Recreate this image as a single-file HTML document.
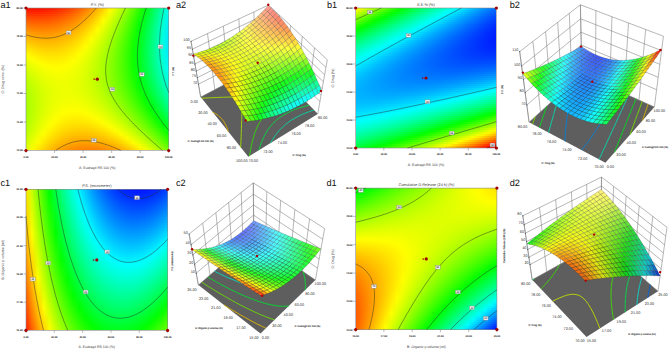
<!DOCTYPE html>
<html><head><meta charset="utf-8"><style>
html,body{margin:0;padding:0;background:#fff}
#c{position:relative;width:669px;height:350px;overflow:hidden;background:#fff}
.f{position:absolute}
.f i{display:block;height:2px}
svg{position:absolute;left:0;top:0}
text{font-family:"Liberation Sans",sans-serif;text-rendering:geometricPrecision}
</style></head><body><div id="c">
<div class="f" style="left:26px;top:8px;width:143px;height:142px">
<i style="background:linear-gradient(90deg,#ff1300,#ff1000,#ff1100,#ff1400,#ff1900,#ff2200,#ff2e00,#ff3d00,#ff4e00,#ff6300,#ff7a00,#ff9500,#ffb200,#ffd200,#fff500,#e3ff00,#baff00,#8eff00,#5fff00,#2eff00,#00ff07,#00ff3e,#00ff79,#00ffb6,#00fff6)"></i>
<i style="background:linear-gradient(90deg,#ff2000,#ff1d00,#ff1d00,#ff2000,#ff2500,#ff2e00,#ff3900,#ff4700,#ff5900,#ff6d00,#ff8400,#ff9e00,#ffbb00,#ffda00,#fffd00,#dbff00,#b3ff00,#87ff00,#59ff00,#28ff00,#00ff0d,#00ff44,#00ff7e,#00ffbb,#00fffb)"></i>
<i style="background:linear-gradient(90deg,#ff2d00,#ff2a00,#ff2900,#ff2b00,#ff3100,#ff3900,#ff4400,#ff5200,#ff6200,#ff7600,#ff8d00,#ffa700,#ffc300,#ffe200,#f9ff00,#d4ff00,#acff00,#81ff00,#53ff00,#22ff00,#00ff12,#00ff49,#00ff83,#00ffbf,#00ffff)"></i>
<i style="background:linear-gradient(90deg,#ff3a00,#ff3600,#ff3500,#ff3700,#ff3c00,#ff4300,#ff4e00,#ff5c00,#ff6c00,#ff8000,#ff9600,#ffaf00,#ffcb00,#ffea00,#f2ff00,#cdff00,#a5ff00,#7aff00,#4dff00,#1cff00,#00ff17,#00ff4e,#00ff87,#00ffc3,#00fcff)"></i>
<i style="background:linear-gradient(90deg,#ff4600,#ff4200,#ff4100,#ff4200,#ff4700,#ff4e00,#ff5800,#ff6500,#ff7500,#ff8900,#ff9e00,#ffb700,#ffd300,#fff200,#ebff00,#c6ff00,#9fff00,#74ff00,#47ff00,#17ff00,#00ff1c,#00ff52,#00ff8b,#00ffc7,#00f8ff)"></i>
<i style="background:linear-gradient(90deg,#ff5200,#ff4e00,#ff4c00,#ff4d00,#ff5100,#ff5800,#ff6200,#ff6f00,#ff7f00,#ff9100,#ffa700,#ffbf00,#ffdb00,#fff900,#e4ff00,#c0ff00,#99ff00,#6fff00,#42ff00,#12ff00,#00ff21,#00ff56,#00ff8f,#00ffcb,#00f5ff)"></i>
<i style="background:linear-gradient(90deg,#ff5e00,#ff5900,#ff5700,#ff5800,#ff5b00,#ff6200,#ff6c00,#ff7800,#ff8700,#ff9a00,#ffaf00,#ffc700,#ffe200,#feff00,#ddff00,#b9ff00,#93ff00,#69ff00,#3dff00,#0dff00,#00ff25,#00ff5a,#00ff93,#00ffce,#00f2ff)"></i>
<i style="background:linear-gradient(90deg,#ff6a00,#ff6400,#ff6200,#ff6200,#ff6500,#ff6c00,#ff7500,#ff8100,#ff9000,#ffa200,#ffb700,#ffce00,#ffe900,#f7ff00,#d7ff00,#b3ff00,#8dff00,#64ff00,#38ff00,#09ff00,#00ff29,#00ff5e,#00ff96,#00ffd1,#00f0ff)"></i>
<i style="background:linear-gradient(90deg,#ff7500,#ff6f00,#ff6c00,#ff6c00,#ff6f00,#ff7500,#ff7e00,#ff8a00,#ff9800,#ffaa00,#ffbe00,#ffd600,#fff000,#f1ff00,#d1ff00,#aeff00,#88ff00,#5fff00,#33ff00,#04ff00,#00ff2d,#00ff62,#00ff99,#00ffd3,#00edff)"></i>
<i style="background:linear-gradient(90deg,#ff8000,#ff7a00,#ff7700,#ff7600,#ff7900,#ff7e00,#ff8700,#ff9200,#ffa000,#ffb100,#ffc600,#ffdd00,#fff600,#ebff00,#cbff00,#a8ff00,#83ff00,#5aff00,#2fff00,#00ff00,#00ff31,#00ff65,#00ff9c,#00ffd6,#00ebff)"></i>
<i style="background:linear-gradient(90deg,#ff8b00,#ff8400,#ff8000,#ff8000,#ff8200,#ff8700,#ff8f00,#ff9a00,#ffa800,#ffb900,#ffcd00,#ffe300,#fffd00,#e5ff00,#c5ff00,#a3ff00,#7eff00,#56ff00,#2bff00,#00ff03,#00ff34,#00ff68,#00ff9f,#00ffd8,#00e9ff)"></i>
<i style="background:linear-gradient(90deg,#ff9500,#ff8e00,#ff8a00,#ff8900,#ff8b00,#ff9000,#ff9700,#ffa200,#ffb000,#ffc000,#ffd300,#ffea00,#fbff00,#dfff00,#c0ff00,#9eff00,#79ff00,#52ff00,#27ff00,#00ff07,#00ff37,#00ff6a,#00ffa1,#00ffda,#00e8ff)"></i>
<i style="background:linear-gradient(90deg,#ff9f00,#ff9800,#ff9400,#ff9200,#ff9400,#ff9800,#ff9f00,#ffaa00,#ffb700,#ffc700,#ffda00,#fff000,#f6ff00,#daff00,#bbff00,#9aff00,#75ff00,#4eff00,#24ff00,#00ff0a,#00ff3a,#00ff6d,#00ffa3,#00ffdc,#00e7ff)"></i>
<i style="background:linear-gradient(90deg,#ffa900,#ffa200,#ff9d00,#ff9b00,#ff9c00,#ffa000,#ffa700,#ffb100,#ffbe00,#ffcd00,#ffe000,#fff600,#f0ff00,#d5ff00,#b6ff00,#95ff00,#71ff00,#4aff00,#20ff00,#00ff0d,#00ff3c,#00ff6f,#00ffa5,#00ffdd,#00e6ff)"></i>
<i style="background:linear-gradient(90deg,#ffb300,#ffab00,#ffa600,#ffa400,#ffa400,#ffa800,#ffaf00,#ffb800,#ffc400,#ffd400,#ffe600,#fffb00,#ebff00,#d0ff00,#b2ff00,#91ff00,#6dff00,#47ff00,#1dff00,#00ff0f,#00ff3f,#00ff71,#00ffa6,#00ffde,#00e5ff)"></i>
<i style="background:linear-gradient(90deg,#ffbc00,#ffb400,#ffae00,#ffac00,#ffac00,#ffaf00,#ffb600,#ffbf00,#ffcb00,#ffda00,#ffec00,#feff00,#e6ff00,#cbff00,#aeff00,#8dff00,#6aff00,#44ff00,#1bff00,#00ff11,#00ff40,#00ff72,#00ffa7,#00ffdf,#00e4ff)"></i>
<i style="background:linear-gradient(90deg,#ffc500,#ffbd00,#ffb700,#ffb400,#ffb400,#ffb700,#ffbd00,#ffc500,#ffd100,#ffdf00,#fff100,#f9ff00,#e1ff00,#c7ff00,#aaff00,#8aff00,#67ff00,#41ff00,#18ff00,#00ff14,#00ff42,#00ff74,#00ffa8,#00ffe0,#00e4ff)"></i>
<i style="background:linear-gradient(90deg,#ffce00,#ffc500,#ffbf00,#ffbc00,#ffbb00,#ffbe00,#ffc300,#ffcc00,#ffd700,#ffe500,#fff600,#f4ff00,#ddff00,#c3ff00,#a6ff00,#87ff00,#64ff00,#3eff00,#16ff00,#00ff15,#00ff44,#00ff75,#00ffa9,#00ffe0,#00e4ff)"></i>
<i style="background:linear-gradient(90deg,#ffd700,#ffcd00,#ffc700,#ffc300,#ffc200,#ffc400,#ffc900,#ffd100,#ffdc00,#ffea00,#fffb00,#efff00,#d9ff00,#bfff00,#a3ff00,#84ff00,#61ff00,#3cff00,#14ff00,#00ff17,#00ff45,#00ff76,#00ffa9,#00ffe0,#00e5ff)"></i>
<i style="background:linear-gradient(90deg,#ffdf00,#ffd500,#ffce00,#ffca00,#ffc900,#ffcb00,#ffd000,#ffd700,#ffe200,#ffef00,#feff00,#ebff00,#d5ff00,#bcff00,#a0ff00,#81ff00,#5fff00,#3aff00,#13ff00,#00ff18,#00ff46,#00ff76,#00ffa9,#00ffe0,#00e5ff)"></i>
<i style="background:linear-gradient(90deg,#ffe700,#ffdd00,#ffd500,#ffd100,#ffd000,#ffd100,#ffd500,#ffdd00,#ffe700,#fff400,#faff00,#e7ff00,#d1ff00,#b9ff00,#9dff00,#7eff00,#5dff00,#39ff00,#11ff00,#00ff19,#00ff46,#00ff76,#00ffa9,#00ffdf,#00e6ff)"></i>
<i style="background:linear-gradient(90deg,#ffef00,#ffe400,#ffdd00,#ffd800,#ffd600,#ffd700,#ffdb00,#ffe200,#ffec00,#fff800,#f6ff00,#e4ff00,#ceff00,#b6ff00,#9aff00,#7cff00,#5bff00,#37ff00,#10ff00,#00ff1a,#00ff47,#00ff76,#00ffa9,#00ffde,#00e7ff)"></i>
<i style="background:linear-gradient(90deg,#fff600,#ffeb00,#ffe300,#ffde00,#ffdc00,#ffdd00,#ffe000,#ffe700,#fff000,#fffc00,#f2ff00,#e0ff00,#cbff00,#b3ff00,#98ff00,#7aff00,#5aff00,#36ff00,#0fff00,#00ff1a,#00ff47,#00ff76,#00ffa8,#00ffdd,#00e9ff)"></i>
<i style="background:linear-gradient(90deg,#fffe00,#fff200,#ffea00,#ffe400,#ffe200,#ffe200,#ffe500,#ffeb00,#fff400,#feff00,#efff00,#ddff00,#c8ff00,#b1ff00,#96ff00,#79ff00,#58ff00,#35ff00,#0fff00,#00ff1a,#00ff46,#00ff75,#00ffa7,#00ffdc,#00eaff)"></i>
<i style="background:linear-gradient(90deg,#faff00,#fff900,#fff000,#ffea00,#ffe700,#ffe700,#ffea00,#fff000,#fff800,#faff00,#ecff00,#daff00,#c6ff00,#afff00,#94ff00,#77ff00,#57ff00,#34ff00,#0fff00,#00ff1a,#00ff46,#00ff74,#00ffa6,#00ffda,#00ecff)"></i>
<i style="background:linear-gradient(90deg,#f3ff00,#ffff00,#fff600,#fff000,#ffec00,#ffec00,#ffee00,#fff400,#fffc00,#f7ff00,#e9ff00,#d8ff00,#c4ff00,#adff00,#93ff00,#76ff00,#57ff00,#34ff00,#0fff00,#00ff1a,#00ff45,#00ff73,#00ffa4,#00ffd8,#00efff)"></i>
<i style="background:linear-gradient(90deg,#ecff00,#f9ff00,#fffc00,#fff500,#fff100,#fff000,#fff200,#fff800,#ffff00,#f4ff00,#e6ff00,#d5ff00,#c2ff00,#abff00,#92ff00,#75ff00,#56ff00,#34ff00,#0fff00,#00ff19,#00ff44,#00ff72,#00ffa3,#00ffd6,#00f1ff)"></i>
<i style="background:linear-gradient(90deg,#e6ff00,#f3ff00,#fdff00,#fffa00,#fff600,#fff500,#fff600,#fffb00,#fbff00,#f1ff00,#e3ff00,#d3ff00,#c0ff00,#aaff00,#91ff00,#75ff00,#56ff00,#34ff00,#0fff00,#00ff18,#00ff43,#00ff70,#00ffa1,#00ffd4,#00f4ff)"></i>
<i style="background:linear-gradient(90deg,#e0ff00,#eeff00,#f8ff00,#ffff00,#fffa00,#fff900,#fffa00,#fffe00,#f8ff00,#eeff00,#e1ff00,#d1ff00,#bfff00,#a9ff00,#90ff00,#74ff00,#56ff00,#35ff00,#10ff00,#00ff17,#00ff41,#00ff6e,#00ff9e,#00ffd1,#00f7ff)"></i>
<i style="background:linear-gradient(90deg,#dbff00,#e8ff00,#f3ff00,#fbff00,#fffe00,#fffc00,#fffd00,#fdff00,#f6ff00,#ecff00,#dfff00,#d0ff00,#bdff00,#a8ff00,#90ff00,#74ff00,#56ff00,#35ff00,#11ff00,#00ff16,#00ff3f,#00ff6c,#00ff9c,#00ffce,#00faff)"></i>
<i style="background:linear-gradient(90deg,#d5ff00,#e3ff00,#eeff00,#f7ff00,#fcff00,#feff00,#fdff00,#faff00,#f3ff00,#eaff00,#deff00,#cfff00,#bcff00,#a7ff00,#90ff00,#75ff00,#57ff00,#36ff00,#13ff00,#00ff14,#00ff3d,#00ff6a,#00ff99,#00ffcb,#00feff)"></i>
<i style="background:linear-gradient(90deg,#d0ff00,#dfff00,#eaff00,#f3ff00,#f8ff00,#fbff00,#fbff00,#f7ff00,#f1ff00,#e8ff00,#dcff00,#ceff00,#bcff00,#a7ff00,#90ff00,#75ff00,#58ff00,#37ff00,#14ff00,#00ff12,#00ff3b,#00ff67,#00ff96,#00ffc8,#00fffc)"></i>
<i style="background:linear-gradient(90deg,#ccff00,#daff00,#e6ff00,#efff00,#f5ff00,#f8ff00,#f8ff00,#f5ff00,#f0ff00,#e7ff00,#dbff00,#cdff00,#bcff00,#a7ff00,#90ff00,#76ff00,#59ff00,#39ff00,#16ff00,#00ff10,#00ff38,#00ff64,#00ff92,#00ffc4,#00fff8)"></i>
<i style="background:linear-gradient(90deg,#c7ff00,#d6ff00,#e2ff00,#ecff00,#f2ff00,#f5ff00,#f6ff00,#f3ff00,#eeff00,#e6ff00,#dbff00,#ccff00,#bbff00,#a8ff00,#91ff00,#77ff00,#5aff00,#3bff00,#18ff00,#00ff0d,#00ff35,#00ff61,#00ff8f,#00ffc0,#00fff4)"></i>
<i style="background:linear-gradient(90deg,#c3ff00,#d2ff00,#dfff00,#e8ff00,#efff00,#f3ff00,#f4ff00,#f2ff00,#edff00,#e5ff00,#daff00,#ccff00,#bcff00,#a8ff00,#92ff00,#78ff00,#5cff00,#3dff00,#1bff00,#00ff0a,#00ff32,#00ff5d,#00ff8b,#00ffbc,#00ffef)"></i>
<i style="background:linear-gradient(90deg,#bfff00,#cfff00,#dcff00,#e6ff00,#edff00,#f1ff00,#f2ff00,#f0ff00,#ecff00,#e4ff00,#daff00,#ccff00,#bcff00,#a9ff00,#93ff00,#7aff00,#5eff00,#3fff00,#1dff00,#00ff07,#00ff2f,#00ff59,#00ff87,#00ffb7,#00ffea)"></i>
<i style="background:linear-gradient(90deg,#bbff00,#cbff00,#d9ff00,#e3ff00,#eaff00,#efff00,#f0ff00,#efff00,#ebff00,#e4ff00,#daff00,#cdff00,#bdff00,#aaff00,#94ff00,#7cff00,#60ff00,#42ff00,#20ff00,#00ff04,#00ff2b,#00ff55,#00ff82,#00ffb2,#00ffe5)"></i>
<i style="background:linear-gradient(90deg,#b8ff00,#c8ff00,#d6ff00,#e1ff00,#e8ff00,#edff00,#efff00,#eeff00,#eaff00,#e4ff00,#daff00,#cdff00,#beff00,#abff00,#96ff00,#7eff00,#63ff00,#45ff00,#24ff00,#00ff00,#00ff27,#00ff51,#00ff7e,#00ffad,#00ffe0)"></i>
<i style="background:linear-gradient(90deg,#b5ff00,#c5ff00,#d3ff00,#dfff00,#e7ff00,#ecff00,#eeff00,#eeff00,#eaff00,#e4ff00,#dbff00,#ceff00,#bfff00,#adff00,#98ff00,#80ff00,#65ff00,#48ff00,#27ff00,#04ff00,#00ff23,#00ff4c,#00ff79,#00ffa8,#00ffda)"></i>
<i style="background:linear-gradient(90deg,#b2ff00,#c3ff00,#d1ff00,#ddff00,#e5ff00,#ebff00,#eeff00,#edff00,#eaff00,#e4ff00,#dbff00,#d0ff00,#c1ff00,#afff00,#9aff00,#83ff00,#69ff00,#4bff00,#2bff00,#08ff00,#00ff1e,#00ff47,#00ff73,#00ffa2,#00ffd4)"></i>
<i style="background:linear-gradient(90deg,#afff00,#c1ff00,#cfff00,#dbff00,#e4ff00,#eaff00,#edff00,#edff00,#ebff00,#e5ff00,#dcff00,#d1ff00,#c3ff00,#b1ff00,#9dff00,#86ff00,#6cff00,#4fff00,#2fff00,#0cff00,#00ff1a,#00ff42,#00ff6e,#00ff9c,#00ffce)"></i>
<i style="background:linear-gradient(90deg,#adff00,#bfff00,#ceff00,#daff00,#e3ff00,#eaff00,#edff00,#eeff00,#ebff00,#e6ff00,#deff00,#d3ff00,#c5ff00,#b4ff00,#a0ff00,#89ff00,#6fff00,#53ff00,#33ff00,#11ff00,#00ff15,#00ff3d,#00ff68,#00ff96,#00ffc7)"></i>
<i style="background:linear-gradient(90deg,#abff00,#bdff00,#ccff00,#d9ff00,#e3ff00,#e9ff00,#edff00,#eeff00,#ecff00,#e7ff00,#dfff00,#d5ff00,#c7ff00,#b6ff00,#a3ff00,#8dff00,#73ff00,#57ff00,#38ff00,#16ff00,#00ff0f,#00ff37,#00ff62,#00ff90,#00ffc0)"></i>
<i style="background:linear-gradient(90deg,#a9ff00,#bbff00,#cbff00,#d8ff00,#e2ff00,#e9ff00,#eeff00,#efff00,#edff00,#e9ff00,#e1ff00,#d7ff00,#caff00,#b9ff00,#a6ff00,#90ff00,#77ff00,#5bff00,#3dff00,#1bff00,#00ff0a,#00ff31,#00ff5c,#00ff89,#00ffb9)"></i>
<i style="background:linear-gradient(90deg,#a7ff00,#baff00,#cbff00,#d8ff00,#e2ff00,#eaff00,#eeff00,#f0ff00,#efff00,#ebff00,#e3ff00,#d9ff00,#cdff00,#bdff00,#aaff00,#94ff00,#7cff00,#60ff00,#42ff00,#21ff00,#00ff04,#00ff2b,#00ff55,#00ff82,#00ffb2)"></i>
<i style="background:linear-gradient(90deg,#a6ff00,#b9ff00,#caff00,#d8ff00,#e2ff00,#eaff00,#efff00,#f1ff00,#f0ff00,#edff00,#e6ff00,#dcff00,#d0ff00,#c0ff00,#aeff00,#99ff00,#80ff00,#65ff00,#47ff00,#26ff00,#02ff00,#00ff24,#00ff4e,#00ff7b,#00ffaa)"></i>
<i style="background:linear-gradient(90deg,#a5ff00,#b9ff00,#caff00,#d8ff00,#e3ff00,#ebff00,#f0ff00,#f3ff00,#f2ff00,#efff00,#e9ff00,#dfff00,#d3ff00,#c4ff00,#b2ff00,#9dff00,#85ff00,#6bff00,#4dff00,#2cff00,#09ff00,#00ff1e,#00ff47,#00ff73,#00ffa2)"></i>
<i style="background:linear-gradient(90deg,#a4ff00,#b8ff00,#caff00,#d8ff00,#e4ff00,#ecff00,#f2ff00,#f5ff00,#f5ff00,#f2ff00,#ecff00,#e3ff00,#d7ff00,#c8ff00,#b7ff00,#a2ff00,#8bff00,#70ff00,#53ff00,#33ff00,#10ff00,#00ff17,#00ff3f,#00ff6b,#00ff9a)"></i>
<i style="background:linear-gradient(90deg,#a4ff00,#b8ff00,#caff00,#d9ff00,#e5ff00,#eeff00,#f4ff00,#f7ff00,#f7ff00,#f4ff00,#efff00,#e6ff00,#dbff00,#ccff00,#bbff00,#a7ff00,#90ff00,#76ff00,#59ff00,#39ff00,#16ff00,#00ff0f,#00ff38,#00ff63,#00ff92)"></i>
<i style="background:linear-gradient(90deg,#a3ff00,#b8ff00,#caff00,#daff00,#e6ff00,#efff00,#f6ff00,#f9ff00,#faff00,#f8ff00,#f2ff00,#eaff00,#dfff00,#d1ff00,#c0ff00,#acff00,#96ff00,#7cff00,#60ff00,#40ff00,#1eff00,#00ff08,#00ff30,#00ff5b,#00ff89)"></i>
<i style="background:linear-gradient(90deg,#a3ff00,#b9ff00,#cbff00,#dbff00,#e7ff00,#f1ff00,#f8ff00,#fcff00,#fdff00,#fbff00,#f6ff00,#eeff00,#e4ff00,#d6ff00,#c5ff00,#b2ff00,#9cff00,#82ff00,#66ff00,#47ff00,#25ff00,#00ff00,#00ff28,#00ff52,#00ff80)"></i>
<i style="background:linear-gradient(90deg,#a4ff00,#baff00,#ccff00,#dcff00,#e9ff00,#f3ff00,#fbff00,#ffff00,#fffe00,#ffff00,#faff00,#f3ff00,#e8ff00,#dbff00,#cbff00,#b8ff00,#a2ff00,#89ff00,#6dff00,#4fff00,#2dff00,#08ff00,#00ff1f,#00ff49,#00ff77)"></i>
<i style="background:linear-gradient(90deg,#a4ff00,#baff00,#ceff00,#deff00,#ebff00,#f6ff00,#fdff00,#fffc00,#fffa00,#fffb00,#feff00,#f7ff00,#edff00,#e1ff00,#d1ff00,#beff00,#a9ff00,#90ff00,#75ff00,#56ff00,#35ff00,#11ff00,#00ff16,#00ff40,#00ff6d)"></i>
<i style="background:linear-gradient(90deg,#a5ff00,#bcff00,#cfff00,#e0ff00,#eeff00,#f9ff00,#fffe00,#fff900,#fff600,#fff700,#fffb00,#fcff00,#f3ff00,#e6ff00,#d7ff00,#c5ff00,#afff00,#97ff00,#7cff00,#5eff00,#3dff00,#19ff00,#00ff0d,#00ff37,#00ff63)"></i>
<i style="background:linear-gradient(90deg,#a6ff00,#bdff00,#d1ff00,#e2ff00,#f0ff00,#fcff00,#fffa00,#fff500,#fff200,#fff300,#fff600,#fffc00,#f8ff00,#ecff00,#ddff00,#cbff00,#b6ff00,#9fff00,#84ff00,#66ff00,#46ff00,#22ff00,#00ff04,#00ff2d,#00ff59)"></i>
<i style="background:linear-gradient(90deg,#a8ff00,#bfff00,#d3ff00,#e5ff00,#f3ff00,#ffff00,#fff700,#fff100,#ffee00,#ffee00,#fff100,#fff700,#feff00,#f2ff00,#e4ff00,#d2ff00,#beff00,#a6ff00,#8cff00,#6fff00,#4fff00,#2cff00,#06ff00,#00ff23,#00ff4f)"></i>
<i style="background:linear-gradient(90deg,#a9ff00,#c1ff00,#d6ff00,#e8ff00,#f6ff00,#fffc00,#fff300,#ffed00,#ffe900,#ffe900,#ffec00,#fff100,#fffa00,#f9ff00,#ebff00,#d9ff00,#c5ff00,#aeff00,#94ff00,#78ff00,#58ff00,#35ff00,#0fff00,#00ff19,#00ff44)"></i>
<i style="background:linear-gradient(90deg,#abff00,#c3ff00,#d8ff00,#ebff00,#faff00,#fff800,#ffee00,#ffe800,#ffe400,#ffe400,#ffe600,#ffeb00,#fff300,#fffe00,#f2ff00,#e1ff00,#cdff00,#b7ff00,#9dff00,#81ff00,#61ff00,#3fff00,#1aff00,#00ff0f,#00ff3a)"></i>
<i style="background:linear-gradient(90deg,#aeff00,#c6ff00,#dbff00,#eeff00,#feff00,#fff400,#ffea00,#ffe300,#ffdf00,#ffde00,#ffe000,#ffe500,#ffed00,#fff700,#f9ff00,#e9ff00,#d5ff00,#bfff00,#a6ff00,#8aff00,#6bff00,#49ff00,#24ff00,#00ff04,#00ff2e)"></i>
<i style="background:linear-gradient(90deg,#b0ff00,#c9ff00,#dfff00,#f2ff00,#fffd00,#ffef00,#ffe500,#ffde00,#ffda00,#ffd800,#ffda00,#ffde00,#ffe600,#fff000,#fffd00,#f1ff00,#deff00,#c8ff00,#afff00,#93ff00,#75ff00,#53ff00,#2fff00,#07ff00,#00ff23)"></i>
<i style="background:linear-gradient(90deg,#b3ff00,#ccff00,#e2ff00,#f5ff00,#fff800,#ffeb00,#ffe000,#ffd900,#ffd400,#ffd200,#ffd300,#ffd700,#ffde00,#ffe800,#fff500,#f9ff00,#e7ff00,#d1ff00,#b9ff00,#9dff00,#7fff00,#5eff00,#3aff00,#13ff00,#00ff17)"></i>
<i style="background:linear-gradient(90deg,#b6ff00,#cfff00,#e6ff00,#faff00,#fff400,#ffe600,#ffdb00,#ffd300,#ffce00,#ffcc00,#ffcd00,#ffd000,#ffd700,#ffe000,#ffed00,#fffc00,#f0ff00,#daff00,#c2ff00,#a7ff00,#89ff00,#69ff00,#45ff00,#1eff00,#00ff0b)"></i>
<i style="background:linear-gradient(90deg,#b9ff00,#d3ff00,#eaff00,#feff00,#ffef00,#ffe100,#ffd600,#ffcd00,#ffc800,#ffc500,#ffc600,#ffc900,#ffcf00,#ffd800,#ffe400,#fff300,#f9ff00,#e4ff00,#ccff00,#b2ff00,#94ff00,#74ff00,#50ff00,#2aff00,#01ff00)"></i>
<i style="background:linear-gradient(90deg,#bdff00,#d7ff00,#eeff00,#fffb00,#ffea00,#ffdb00,#ffd000,#ffc700,#ffc100,#ffbe00,#ffbe00,#ffc100,#ffc700,#ffd000,#ffdc00,#ffea00,#fffc00,#eeff00,#d6ff00,#bcff00,#9fff00,#7fff00,#5cff00,#36ff00,#0dff00)"></i>
<i style="background:linear-gradient(90deg,#c1ff00,#dbff00,#f3ff00,#fff600,#ffe500,#ffd600,#ffca00,#ffc100,#ffba00,#ffb700,#ffb700,#ffb900,#ffbf00,#ffc700,#ffd300,#ffe100,#fff200,#f8ff00,#e1ff00,#c7ff00,#aaff00,#8bff00,#68ff00,#42ff00,#1aff00)"></i>
<i style="background:linear-gradient(90deg,#c5ff00,#e0ff00,#f8ff00,#fff100,#ffdf00,#ffd000,#ffc300,#ffba00,#ffb300,#ffb000,#ffaf00,#ffb100,#ffb600,#ffbe00,#ffc900,#ffd700,#ffe800,#fffc00,#ecff00,#d2ff00,#b6ff00,#96ff00,#74ff00,#4fff00,#27ff00)"></i>
<i style="background:linear-gradient(90deg,#c9ff00,#e4ff00,#fdff00,#ffec00,#ffd900,#ffca00,#ffbd00,#ffb300,#ffac00,#ffa800,#ffa700,#ffa900,#ffad00,#ffb500,#ffc000,#ffcd00,#ffde00,#fff100,#f7ff00,#deff00,#c2ff00,#a3ff00,#81ff00,#5cff00,#34ff00)"></i>
<i style="background:linear-gradient(90deg,#ceff00,#e9ff00,#fffc00,#ffe600,#ffd300,#ffc300,#ffb600,#ffac00,#ffa400,#ffa000,#ff9f00,#ffa000,#ffa400,#ffac00,#ffb600,#ffc300,#ffd300,#ffe600,#fffc00,#e9ff00,#ceff00,#afff00,#8eff00,#69ff00,#42ff00)"></i>
<i style="background:linear-gradient(90deg,#d3ff00,#efff00,#fff600,#ffe000,#ffcd00,#ffbc00,#ffaf00,#ffa400,#ff9d00,#ff9800,#ff9600,#ff9700,#ff9b00,#ffa200,#ffac00,#ffb800,#ffc800,#ffdb00,#fff000,#f5ff00,#daff00,#bcff00,#9bff00,#77ff00,#50ff00)"></i>
<i style="background:linear-gradient(90deg,#d8ff00,#f4ff00,#fff000,#ffda00,#ffc600,#ffb500,#ffa700,#ff9c00,#ff9400,#ff8f00,#ff8d00,#ff8e00,#ff9100,#ff9800,#ffa100,#ffae00,#ffbd00,#ffcf00,#ffe400,#fffc00,#e7ff00,#c9ff00,#a8ff00,#84ff00,#5eff00)"></i>
<i style="background:linear-gradient(90deg,#ddff00,#faff00,#ffea00,#ffd300,#ffbf00,#ffae00,#ffa000,#ff9400,#ff8c00,#ff8600,#ff8400,#ff8400,#ff8700,#ff8e00,#ff9700,#ffa300,#ffb200,#ffc300,#ffd800,#fff000,#f4ff00,#d6ff00,#b6ff00,#92ff00,#6cff00)"></i>
</div>
<div class="f" style="left:356px;top:8px;width:140px;height:140px">
<i style="background:linear-gradient(90deg,#fff500,#e5ff00,#c0ff00,#9dff00,#7bff00,#59ff00,#38ff00,#18ff00,#00ff08,#00ff27,#00ff44,#00ff62,#00ff7e,#00ff9a,#00ffb4,#00ffce,#00ffe8,#00feff,#00e6ff,#00cfff,#00b9ff,#00a4ff,#008fff,#007cff,#0069ff)"></i>
<i style="background:linear-gradient(90deg,#edff00,#c9ff00,#a5ff00,#83ff00,#61ff00,#40ff00,#20ff00,#00ff00,#00ff1e,#00ff3c,#00ff59,#00ff76,#00ff91,#00ffac,#00ffc6,#00ffdf,#00fff8,#00efff,#00d8ff,#00c2ff,#00acff,#0098ff,#0084ff,#0071ff,#005fff)"></i>
<i style="background:linear-gradient(90deg,#d1ff00,#aeff00,#8bff00,#69ff00,#48ff00,#28ff00,#09ff00,#00ff16,#00ff34,#00ff51,#00ff6d,#00ff89,#00ffa4,#00ffbe,#00ffd7,#00ffef,#00f7ff,#00e0ff,#00caff,#00b4ff,#00a0ff,#008cff,#0079ff,#0067ff,#0055ff)"></i>
<i style="background:linear-gradient(90deg,#b6ff00,#93ff00,#72ff00,#51ff00,#30ff00,#11ff00,#00ff0e,#00ff2c,#00ff49,#00ff65,#00ff81,#00ff9c,#00ffb6,#00ffcf,#00ffe7,#00ffff,#00e8ff,#00d2ff,#00bdff,#00a8ff,#0094ff,#0081ff,#006fff,#005dff,#004dff)"></i>
<i style="background:linear-gradient(90deg,#9cff00,#7aff00,#59ff00,#39ff00,#19ff00,#00ff06,#00ff24,#00ff41,#00ff5d,#00ff79,#00ff93,#00ffad,#00ffc7,#00ffdf,#00fff7,#00f0ff,#00daff,#00c5ff,#00b0ff,#009cff,#0089ff,#0077ff,#0065ff,#0055ff,#0045ff)"></i>
<i style="background:linear-gradient(90deg,#82ff00,#61ff00,#41ff00,#21ff00,#02ff00,#00ff1b,#00ff39,#00ff55,#00ff71,#00ff8b,#00ffa5,#00ffbf,#00ffd7,#00ffef,#00f8ff,#00e2ff,#00cdff,#00b8ff,#00a4ff,#0091ff,#007fff,#006dff,#005dff,#004dff,#003eff)"></i>
<i style="background:linear-gradient(90deg,#69ff00,#49ff00,#29ff00,#0aff00,#00ff13,#00ff31,#00ff4d,#00ff69,#00ff83,#00ff9d,#00ffb7,#00ffcf,#00ffe7,#00fffe,#00eaff,#00d5ff,#00c0ff,#00acff,#0099ff,#0087ff,#0075ff,#0065ff,#0055ff,#0046ff,#0037ff)"></i>
<i style="background:linear-gradient(90deg,#51ff00,#31ff00,#12ff00,#00ff0c,#00ff29,#00ff45,#00ff61,#00ff7b,#00ff96,#00ffaf,#00ffc7,#00ffdf,#00fff6,#00f2ff,#00ddff,#00c8ff,#00b4ff,#00a1ff,#008fff,#007dff,#006dff,#005dff,#004dff,#003fff,#0031ff)"></i>
<i style="background:linear-gradient(90deg,#39ff00,#1aff00,#00ff04,#00ff21,#00ff3d,#00ff59,#00ff74,#00ff8e,#00ffa7,#00ffbf,#00ffd7,#00ffee,#00faff,#00e4ff,#00d0ff,#00bcff,#00a9ff,#0097ff,#0085ff,#0074ff,#0064ff,#0055ff,#0047ff,#0039ff,#002cff)"></i>
<i style="background:linear-gradient(90deg,#22ff00,#04ff00,#00ff19,#00ff35,#00ff51,#00ff6c,#00ff86,#00ff9f,#00ffb8,#00ffcf,#00ffe6,#00fffd,#00ecff,#00d7ff,#00c4ff,#00b1ff,#009eff,#008dff,#007cff,#006cff,#005dff,#004eff,#0041ff,#0034ff,#0028ff)"></i>
<i style="background:linear-gradient(90deg,#0cff00,#00ff11,#00ff2e,#00ff49,#00ff64,#00ff7e,#00ff98,#00ffb0,#00ffc8,#00ffdf,#00fff5,#00f4ff,#00dfff,#00cbff,#00b8ff,#00a6ff,#0094ff,#0084ff,#0074ff,#0065ff,#0056ff,#0048ff,#003cff,#0030ff,#0024ff)"></i>
<i style="background:linear-gradient(90deg,#00ff0a,#00ff26,#00ff42,#00ff5d,#00ff77,#00ff90,#00ffa8,#00ffc0,#00ffd7,#00ffed,#00fbff,#00e7ff,#00d3ff,#00c0ff,#00adff,#009cff,#008bff,#007bff,#006cff,#005eff,#0050ff,#0043ff,#0037ff,#002cff,#0021ff)"></i>
<i style="background:linear-gradient(90deg,#00ff1e,#00ff3a,#00ff55,#00ff6f,#00ff88,#00ffa1,#00ffb9,#00ffd0,#00ffe6,#00fffb,#00eeff,#00daff,#00c7ff,#00b5ff,#00a3ff,#0093ff,#0083ff,#0074ff,#0065ff,#0058ff,#004bff,#003fff,#0033ff,#0029ff,#001fff)"></i>
<i style="background:linear-gradient(90deg,#00ff33,#00ff4d,#00ff68,#00ff81,#00ff99,#00ffb1,#00ffc8,#00ffde,#00fff4,#00f6ff,#00e2ff,#00cfff,#00bcff,#00abff,#009aff,#008aff,#007bff,#006dff,#005fff,#0052ff,#0046ff,#003bff,#0030ff,#0026ff,#001dff)"></i>
<i style="background:linear-gradient(90deg,#00ff46,#00ff60,#00ff79,#00ff92,#00ffaa,#00ffc1,#00ffd7,#00ffec,#00fdff,#00e9ff,#00d6ff,#00c4ff,#00b2ff,#00a2ff,#0092ff,#0082ff,#0074ff,#0066ff,#0059ff,#004dff,#0042ff,#0037ff,#002eff,#0025ff,#001cff)"></i>
<i style="background:linear-gradient(90deg,#00ff59,#00ff72,#00ff8b,#00ffa2,#00ffb9,#00ffd0,#00ffe5,#00fffa,#00f1ff,#00ddff,#00cbff,#00baff,#00a9ff,#0099ff,#008aff,#007bff,#006eff,#0061ff,#0055ff,#0049ff,#003fff,#0035ff,#002cff,#0024ff,#001cff)"></i>
<i style="background:linear-gradient(90deg,#00ff6b,#00ff83,#00ff9b,#00ffb2,#00ffc8,#00ffde,#00fff2,#00f8ff,#00e5ff,#00d2ff,#00c1ff,#00b0ff,#00a0ff,#0091ff,#0082ff,#0075ff,#0068ff,#005cff,#0050ff,#0046ff,#003cff,#0033ff,#002bff,#0023ff,#001dff)"></i>
<i style="background:linear-gradient(90deg,#00ff7c,#00ff94,#00ffab,#00ffc1,#00ffd6,#00ffeb,#00ffff,#00ecff,#00daff,#00c8ff,#00b7ff,#00a7ff,#0098ff,#008aff,#007cff,#006fff,#0063ff,#0058ff,#004dff,#0043ff,#003aff,#0032ff,#002bff,#0024ff,#001eff)"></i>
<i style="background:linear-gradient(90deg,#00ff8d,#00ffa4,#00ffba,#00ffcf,#00ffe4,#00fff8,#00f3ff,#00e1ff,#00cfff,#00beff,#00aeff,#009fff,#0091ff,#0083ff,#0076ff,#006aff,#005fff,#0054ff,#004aff,#0041ff,#0039ff,#0032ff,#002bff,#0025ff,#0020ff)"></i>
<i style="background:linear-gradient(90deg,#00ff9d,#00ffb3,#00ffc8,#00ffdd,#00fff1,#00faff,#00e8ff,#00d6ff,#00c5ff,#00b5ff,#00a6ff,#0098ff,#008aff,#007dff,#0071ff,#0066ff,#005bff,#0051ff,#0048ff,#0040ff,#0039ff,#0032ff,#002cff,#0027ff,#0023ff)"></i>
<i style="background:linear-gradient(90deg,#00ffac,#00ffc1,#00ffd6,#00ffea,#00fffd,#00efff,#00ddff,#00ccff,#00bcff,#00adff,#009fff,#0091ff,#0084ff,#0078ff,#006dff,#0062ff,#0058ff,#004fff,#0047ff,#003fff,#0039ff,#0033ff,#002eff,#0029ff,#0026ff)"></i>
<i style="background:linear-gradient(90deg,#00ffba,#00ffcf,#00ffe3,#00fff6,#00f6ff,#00e4ff,#00d3ff,#00c3ff,#00b4ff,#00a5ff,#0098ff,#008bff,#007fff,#0073ff,#0069ff,#005fff,#0056ff,#004eff,#0046ff,#0040ff,#003aff,#0035ff,#0030ff,#002dff,#002aff)"></i>
<i style="background:linear-gradient(90deg,#00ffc8,#00ffdc,#00ffef,#00fcff,#00ebff,#00daff,#00caff,#00bbff,#00acff,#009fff,#0092ff,#0086ff,#007aff,#0070ff,#0066ff,#005dff,#0055ff,#004dff,#0046ff,#0040ff,#003bff,#0037ff,#0033ff,#0031ff,#002fff)"></i>
<i style="background:linear-gradient(90deg,#00ffd5,#00ffe9,#00fffb,#00f2ff,#00e1ff,#00d1ff,#00c1ff,#00b3ff,#00a5ff,#0098ff,#008cff,#0081ff,#0076ff,#006dff,#0063ff,#005bff,#0054ff,#004dff,#0047ff,#0042ff,#003eff,#003aff,#0037ff,#0035ff,#0034ff)"></i>
<i style="background:linear-gradient(90deg,#00ffe2,#00fff4,#00f8ff,#00e7ff,#00d7ff,#00c8ff,#00baff,#00acff,#009fff,#0093ff,#0088ff,#007dff,#0073ff,#006aff,#0062ff,#005aff,#0054ff,#004eff,#0049ff,#0044ff,#0041ff,#003eff,#003cff,#003aff,#003aff)"></i>
<i style="background:linear-gradient(90deg,#00ffee,#00ffff,#00eeff,#00deff,#00cfff,#00c0ff,#00b3ff,#00a6ff,#0099ff,#008eff,#0084ff,#007aff,#0071ff,#0068ff,#0061ff,#005aff,#0054ff,#004fff,#004bff,#0047ff,#0044ff,#0042ff,#0041ff,#0041ff,#0041ff)"></i>
<i style="background:linear-gradient(90deg,#00fff9,#00f5ff,#00e5ff,#00d5ff,#00c7ff,#00b9ff,#00acff,#00a0ff,#0095ff,#008aff,#0080ff,#0077ff,#006fff,#0067ff,#0061ff,#005bff,#0056ff,#0051ff,#004eff,#004bff,#0049ff,#0047ff,#0047ff,#0047ff,#0048ff)"></i>
<i style="background:linear-gradient(90deg,#00fbff,#00ebff,#00dcff,#00cdff,#00c0ff,#00b3ff,#00a6ff,#009bff,#0090ff,#0087ff,#007eff,#0075ff,#006eff,#0067ff,#0061ff,#005cff,#0058ff,#0054ff,#0051ff,#004fff,#004eff,#004dff,#004eff,#004fff,#0050ff)"></i>
<i style="background:linear-gradient(90deg,#00f1ff,#00e2ff,#00d4ff,#00c6ff,#00b9ff,#00adff,#00a1ff,#0097ff,#008dff,#0084ff,#007cff,#0074ff,#006dff,#0068ff,#0062ff,#005eff,#005aff,#0057ff,#0055ff,#0054ff,#0054ff,#0054ff,#0055ff,#0057ff,#0059ff)"></i>
<i style="background:linear-gradient(90deg,#00e8ff,#00daff,#00ccff,#00bfff,#00b3ff,#00a8ff,#009dff,#0093ff,#008aff,#0082ff,#007aff,#0074ff,#006eff,#0069ff,#0064ff,#0061ff,#005eff,#005cff,#005aff,#005aff,#005aff,#005bff,#005dff,#0060ff,#0063ff)"></i>
<i style="background:linear-gradient(90deg,#00e0ff,#00d2ff,#00c6ff,#00b9ff,#00aeff,#00a3ff,#009aff,#0090ff,#0088ff,#0081ff,#007aff,#0074ff,#006fff,#006aff,#0067ff,#0064ff,#0062ff,#0061ff,#0060ff,#0060ff,#0061ff,#0063ff,#0066ff,#0069ff,#006dff)"></i>
<i style="background:linear-gradient(90deg,#00d9ff,#00ccff,#00c0ff,#00b4ff,#00aaff,#00a0ff,#0097ff,#008eff,#0087ff,#0080ff,#007aff,#0075ff,#0071ff,#006dff,#006aff,#0068ff,#0067ff,#0066ff,#0066ff,#0067ff,#0069ff,#006cff,#006fff,#0073ff,#0078ff)"></i>
<i style="background:linear-gradient(90deg,#00d2ff,#00c6ff,#00baff,#00b0ff,#00a6ff,#009dff,#0094ff,#008dff,#0086ff,#0080ff,#007bff,#0077ff,#0073ff,#0070ff,#006eff,#006dff,#006cff,#006cff,#006dff,#006fff,#0072ff,#0075ff,#0079ff,#007eff,#0084ff)"></i>
<i style="background:linear-gradient(90deg,#00ccff,#00c0ff,#00b6ff,#00acff,#00a3ff,#009aff,#0093ff,#008cff,#0086ff,#0081ff,#007dff,#0079ff,#0076ff,#0074ff,#0073ff,#0072ff,#0072ff,#0073ff,#0075ff,#0078ff,#007bff,#007fff,#0084ff,#008aff,#0090ff)"></i>
<i style="background:linear-gradient(90deg,#00c6ff,#00bcff,#00b2ff,#00a9ff,#00a0ff,#0099ff,#0092ff,#008cff,#0087ff,#0082ff,#007fff,#007cff,#007aff,#0079ff,#0078ff,#0078ff,#0079ff,#007bff,#007eff,#0081ff,#0085ff,#008aff,#0090ff,#0096ff,#009dff)"></i>
<i style="background:linear-gradient(90deg,#00c1ff,#00b8ff,#00afff,#00a6ff,#009fff,#0098ff,#0092ff,#008dff,#0088ff,#0085ff,#0082ff,#0080ff,#007eff,#007eff,#007eff,#007fff,#0081ff,#0083ff,#0087ff,#008bff,#0090ff,#0095ff,#009cff,#00a3ff,#00abff)"></i>
<i style="background:linear-gradient(90deg,#00bdff,#00b4ff,#00acff,#00a4ff,#009eff,#0098ff,#0093ff,#008eff,#008aff,#0088ff,#0085ff,#0084ff,#0084ff,#0084ff,#0085ff,#0087ff,#0089ff,#008dff,#0091ff,#0096ff,#009bff,#00a2ff,#00a9ff,#00b1ff,#00baff)"></i>
<i style="background:linear-gradient(90deg,#00baff,#00b2ff,#00aaff,#00a3ff,#009dff,#0098ff,#0094ff,#0090ff,#008dff,#008bff,#008aff,#0089ff,#0089ff,#008aff,#008cff,#008fff,#0092ff,#0096ff,#009bff,#00a1ff,#00a7ff,#00aeff,#00b6ff,#00bfff,#00c9ff)"></i>
<i style="background:linear-gradient(90deg,#00b7ff,#00b0ff,#00a9ff,#00a3ff,#009eff,#0099ff,#0096ff,#0093ff,#0091ff,#008fff,#008fff,#008fff,#0090ff,#0092ff,#0094ff,#0098ff,#009cff,#00a1ff,#00a6ff,#00adff,#00b4ff,#00bcff,#00c5ff,#00ceff,#00d9ff)"></i>
<i style="background:linear-gradient(90deg,#00b5ff,#00afff,#00a9ff,#00a3ff,#009fff,#009bff,#0098ff,#0096ff,#0095ff,#0094ff,#0095ff,#0096ff,#0097ff,#009aff,#009dff,#00a1ff,#00a6ff,#00acff,#00b2ff,#00baff,#00c2ff,#00caff,#00d4ff,#00deff,#00e9ff)"></i>
<i style="background:linear-gradient(90deg,#00b4ff,#00aeff,#00a9ff,#00a4ff,#00a1ff,#009eff,#009cff,#009aff,#009aff,#009aff,#009bff,#009dff,#009fff,#00a3ff,#00a7ff,#00acff,#00b1ff,#00b8ff,#00bfff,#00c7ff,#00d0ff,#00d9ff,#00e4ff,#00efff,#00fbff)"></i>
<i style="background:linear-gradient(90deg,#00b4ff,#00aeff,#00aaff,#00a6ff,#00a3ff,#00a1ff,#00a0ff,#009fff,#00a0ff,#00a0ff,#00a2ff,#00a5ff,#00a8ff,#00acff,#00b1ff,#00b7ff,#00bdff,#00c4ff,#00ccff,#00d5ff,#00dfff,#00e9ff,#00f4ff,#00fffe,#00fff2)"></i>
<i style="background:linear-gradient(90deg,#00b4ff,#00afff,#00acff,#00a9ff,#00a7ff,#00a5ff,#00a5ff,#00a5ff,#00a6ff,#00a8ff,#00aaff,#00adff,#00b2ff,#00b6ff,#00bcff,#00c2ff,#00caff,#00d2ff,#00daff,#00e4ff,#00eeff,#00f9ff,#00fff9,#00ffec,#00ffdf)"></i>
<i style="background:linear-gradient(90deg,#00b5ff,#00b1ff,#00aeff,#00acff,#00aaff,#00aaff,#00aaff,#00abff,#00adff,#00afff,#00b3ff,#00b7ff,#00bcff,#00c1ff,#00c8ff,#00cfff,#00d7ff,#00e0ff,#00e9ff,#00f3ff,#00feff,#00fff4,#00ffe7,#00ffda,#00ffcb)"></i>
<i style="background:linear-gradient(90deg,#00b6ff,#00b3ff,#00b1ff,#00b0ff,#00afff,#00afff,#00b0ff,#00b2ff,#00b5ff,#00b8ff,#00bcff,#00c1ff,#00c6ff,#00cdff,#00d4ff,#00dcff,#00e5ff,#00eeff,#00f9ff,#00fffa,#00ffef,#00ffe2,#00ffd5,#00ffc6,#00ffb7)"></i>
<i style="background:linear-gradient(90deg,#00b8ff,#00b6ff,#00b5ff,#00b4ff,#00b4ff,#00b5ff,#00b7ff,#00baff,#00bdff,#00c1ff,#00c6ff,#00ccff,#00d2ff,#00d9ff,#00e1ff,#00eaff,#00f3ff,#00feff,#00fff5,#00ffea,#00ffdd,#00ffcf,#00ffc1,#00ffb2,#00ffa3)"></i>
<i style="background:linear-gradient(90deg,#00bbff,#00baff,#00b9ff,#00b9ff,#00baff,#00bcff,#00bfff,#00c2ff,#00c6ff,#00cbff,#00d1ff,#00d7ff,#00deff,#00e6ff,#00efff,#00f8ff,#00fffb,#00fff0,#00ffe5,#00ffd8,#00ffcb,#00ffbc,#00ffad,#00ff9e,#00ff8d)"></i>
<i style="background:linear-gradient(90deg,#00bfff,#00beff,#00beff,#00bfff,#00c1ff,#00c4ff,#00c7ff,#00cbff,#00d0ff,#00d5ff,#00dcff,#00e3ff,#00ebff,#00f4ff,#00fdff,#00fff6,#00ffeb,#00ffe0,#00ffd3,#00ffc6,#00ffb7,#00ffa9,#00ff99,#00ff88,#00ff77)"></i>
<i style="background:linear-gradient(90deg,#00c3ff,#00c3ff,#00c4ff,#00c6ff,#00c9ff,#00ccff,#00d0ff,#00d5ff,#00daff,#00e1ff,#00e8ff,#00f0ff,#00f9ff,#00fffc,#00fff2,#00ffe7,#00ffdb,#00ffce,#00ffc1,#00ffb3,#00ffa4,#00ff94,#00ff83,#00ff72,#00ff60)"></i>
<i style="background:linear-gradient(90deg,#00c8ff,#00c9ff,#00cbff,#00cdff,#00d1ff,#00d5ff,#00daff,#00dfff,#00e6ff,#00edff,#00f5ff,#00fdff,#00fff7,#00ffed,#00ffe2,#00ffd6,#00ffc9,#00ffbc,#00ffae,#00ff9f,#00ff8f,#00ff7f,#00ff6d,#00ff5b,#00ff49)"></i>
<i style="background:linear-gradient(90deg,#00ceff,#00d0ff,#00d2ff,#00d5ff,#00daff,#00deff,#00e4ff,#00eaff,#00f1ff,#00f9ff,#00fffc,#00fff2,#00ffe8,#00ffdd,#00ffd1,#00ffc5,#00ffb7,#00ffa9,#00ff9a,#00ff8b,#00ff7a,#00ff69,#00ff57,#00ff44,#00ff30)"></i>
<i style="background:linear-gradient(90deg,#00d4ff,#00d7ff,#00daff,#00deff,#00e3ff,#00e9ff,#00efff,#00f6ff,#00feff,#00fff7,#00ffee,#00ffe3,#00ffd8,#00ffcd,#00ffc0,#00ffb3,#00ffa5,#00ff96,#00ff86,#00ff75,#00ff64,#00ff52,#00ff3f,#00ff2c,#00ff17)"></i>
<i style="background:linear-gradient(90deg,#00dcff,#00dfff,#00e3ff,#00e8ff,#00edff,#00f4ff,#00fbff,#00fffb,#00fff3,#00ffe9,#00ffdf,#00ffd4,#00ffc8,#00ffbb,#00ffae,#00ffa0,#00ff91,#00ff81,#00ff71,#00ff60,#00ff4e,#00ff3b,#00ff27,#00ff13,#02ff00)"></i>
<i style="background:linear-gradient(90deg,#00e3ff,#00e7ff,#00ecff,#00f2ff,#00f8ff,#00ffff,#00fff7,#00ffee,#00ffe5,#00ffda,#00ffcf,#00ffc4,#00ffb7,#00ffaa,#00ff9b,#00ff8d,#00ff7d,#00ff6c,#00ff5b,#00ff49,#00ff36,#00ff23,#00ff0e,#07ff00,#1dff00)"></i>
<i style="background:linear-gradient(90deg,#00ecff,#00f1ff,#00f6ff,#00fdff,#00fffa,#00fff2,#00ffea,#00ffe0,#00ffd6,#00ffcb,#00ffbf,#00ffb3,#00ffa5,#00ff97,#00ff88,#00ff78,#00ff68,#00ff57,#00ff45,#00ff32,#00ff1e,#00ff0a,#0bff00,#21ff00,#38ff00)"></i>
<i style="background:linear-gradient(90deg,#00f5ff,#00fbff,#00fffd,#00fff6,#00ffee,#00ffe5,#00ffdc,#00ffd2,#00ffc7,#00ffbb,#00ffae,#00ffa1,#00ff93,#00ff84,#00ff74,#00ff64,#00ff52,#00ff40,#00ff2e,#00ff1a,#00ff06,#0fff00,#25ff00,#3cff00,#53ff00)"></i>
<i style="background:linear-gradient(90deg,#00ffff,#00fff9,#00fff2,#00ffea,#00ffe1,#00ffd7,#00ffcd,#00ffc2,#00ffb6,#00ffaa,#00ff9d,#00ff8e,#00ff80,#00ff70,#00ff5f,#00ff4e,#00ff3c,#00ff29,#00ff16,#00ff01,#14ff00,#2aff00,#40ff00,#58ff00,#70ff00)"></i>
<i style="background:linear-gradient(90deg,#00fff4,#00ffed,#00ffe5,#00ffdd,#00ffd3,#00ffc9,#00ffbe,#00ffb2,#00ffa6,#00ff98,#00ff8a,#00ff7b,#00ff6c,#00ff5b,#00ff4a,#00ff38,#00ff25,#00ff12,#03ff00,#18ff00,#2eff00,#44ff00,#5cff00,#74ff00,#8dff00)"></i>
<i style="background:linear-gradient(90deg,#00ffe9,#00ffe1,#00ffd9,#00ffcf,#00ffc5,#00ffba,#00ffae,#00ffa1,#00ff94,#00ff86,#00ff77,#00ff67,#00ff57,#00ff46,#00ff34,#00ff21,#00ff0e,#07ff00,#1cff00,#32ff00,#48ff00,#60ff00,#78ff00,#91ff00,#abff00)"></i>
<i style="background:linear-gradient(90deg,#00ffdd,#00ffd4,#00ffcb,#00ffc1,#00ffb6,#00ffaa,#00ff9d,#00ff90,#00ff82,#00ff73,#00ff63,#00ff53,#00ff42,#00ff30,#00ff1d,#00ff09,#0bff00,#20ff00,#36ff00,#4cff00,#64ff00,#7cff00,#95ff00,#afff00,#c9ff00)"></i>
<i style="background:linear-gradient(90deg,#00ffd0,#00ffc7,#00ffbd,#00ffb2,#00ffa6,#00ff99,#00ff8c,#00ff7e,#00ff6f,#00ff5f,#00ff4f,#00ff3e,#00ff2c,#00ff19,#00ff05,#0fff00,#24ff00,#3aff00,#50ff00,#68ff00,#80ff00,#99ff00,#b3ff00,#cdff00,#e9ff00)"></i>
<i style="background:linear-gradient(90deg,#00ffc3,#00ffb9,#00ffae,#00ffa2,#00ff95,#00ff88,#00ff7a,#00ff6b,#00ff5b,#00ff4b,#00ff3a,#00ff28,#00ff15,#00ff02,#13ff00,#28ff00,#3eff00,#54ff00,#6cff00,#84ff00,#9dff00,#b7ff00,#d1ff00,#edff00,#fff500)"></i>
<i style="background:linear-gradient(90deg,#00ffb5,#00ffaa,#00ff9e,#00ff92,#00ff84,#00ff76,#00ff67,#00ff58,#00ff47,#00ff36,#00ff24,#00ff11,#02ff00,#17ff00,#2cff00,#42ff00,#58ff00,#70ff00,#88ff00,#a1ff00,#baff00,#d5ff00,#f0ff00,#fff200,#ffd500)"></i>
<i style="background:linear-gradient(90deg,#00ffa6,#00ff9a,#00ff8e,#00ff80,#00ff72,#00ff63,#00ff54,#00ff43,#00ff32,#00ff20,#00ff0e,#06ff00,#1aff00,#2fff00,#45ff00,#5cff00,#73ff00,#8bff00,#a4ff00,#beff00,#d9ff00,#f4ff00,#ffee00,#ffd100,#ffb300)"></i>
<i style="background:linear-gradient(90deg,#00ff97,#00ff8a,#00ff7d,#00ff6f,#00ff60,#00ff50,#00ff40,#00ff2f,#00ff1d,#00ff0a,#0aff00,#1eff00,#33ff00,#49ff00,#60ff00,#77ff00,#8fff00,#a8ff00,#c2ff00,#dcff00,#f8ff00,#ffea00,#ffcd00,#ffb000,#ff9100)"></i>
<i style="background:linear-gradient(90deg,#00ff86,#00ff79,#00ff6b,#00ff5c,#00ff4c,#00ff3c,#00ff2b,#00ff19,#00ff06,#0dff00,#22ff00,#37ff00,#4dff00,#63ff00,#7bff00,#93ff00,#acff00,#c5ff00,#e0ff00,#fbff00,#ffe700,#ffca00,#ffac00,#ff8e00,#ff6f00)"></i>
<i style="background:linear-gradient(90deg,#00ff75,#00ff67,#00ff59,#00ff49,#00ff38,#00ff27,#00ff15,#00ff03,#11ff00,#25ff00,#3aff00,#50ff00,#67ff00,#7eff00,#96ff00,#afff00,#c9ff00,#e3ff00,#ffff00,#ffe300,#ffc600,#ffa900,#ff8a00,#ff6b00,#ff4b00)"></i>
<i style="background:linear-gradient(90deg,#00ff64,#00ff55,#00ff45,#00ff35,#00ff24,#00ff12,#01ff00,#14ff00,#29ff00,#3eff00,#54ff00,#6aff00,#82ff00,#9aff00,#b3ff00,#ccff00,#e7ff00,#fffc00,#ffe000,#ffc300,#ffa500,#ff8700,#ff6800,#ff4800,#ff2700)"></i>
<i style="background:linear-gradient(90deg,#00ff52,#00ff42,#00ff32,#00ff20,#00ff0e,#04ff00,#18ff00,#2cff00,#41ff00,#57ff00,#6eff00,#85ff00,#9dff00,#b6ff00,#d0ff00,#eaff00,#fff800,#ffdc00,#ffc000,#ffa200,#ff8400,#ff6400,#ff4400,#ff2400,#ff0200)"></i>
<i style="background:linear-gradient(90deg,#00ff3f,#00ff2e,#00ff1d,#00ff0b,#08ff00,#1bff00,#2fff00,#45ff00,#5aff00,#71ff00,#88ff00,#a0ff00,#b9ff00,#d3ff00,#eeff00,#fff500,#ffd900,#ffbc00,#ff9f00,#ff8000,#ff6100,#ff4100,#ff2000,#ff0000,#ff0000)"></i>
</div>
<div class="f" style="left:26px;top:189px;width:142px;height:141px">
<i style="background:linear-gradient(90deg,#ffe600,#caff00,#81ff00,#3bff00,#00ff06,#00ff43,#00ff7c,#00ffb1,#00ffe2,#00efff,#00c7ff,#00a3ff,#0082ff,#0066ff,#004fff,#003bff,#002bff,#0020ff,#0019ff,#0015ff,#0017ff,#001cff,#0025ff,#0033ff,#0044ff)"></i>
<i style="background:linear-gradient(90deg,#ffe400,#ccff00,#83ff00,#3eff00,#00ff04,#00ff41,#00ff79,#00ffae,#00ffdf,#00f3ff,#00cbff,#00a7ff,#0087ff,#006bff,#0053ff,#0040ff,#0030ff,#0025ff,#001eff,#001bff,#001dff,#0022ff,#002cff,#0039ff,#004bff)"></i>
<i style="background:linear-gradient(90deg,#ffe200,#ceff00,#85ff00,#40ff00,#00ff01,#00ff3e,#00ff76,#00ffab,#00ffdb,#00f7ff,#00cfff,#00abff,#008bff,#0070ff,#0058ff,#0045ff,#0036ff,#002bff,#0024ff,#0021ff,#0023ff,#0028ff,#0032ff,#0040ff,#0052ff)"></i>
<i style="background:linear-gradient(90deg,#ffe000,#d0ff00,#87ff00,#43ff00,#02ff00,#00ff3b,#00ff73,#00ffa7,#00ffd8,#00fbff,#00d3ff,#00afff,#0090ff,#0074ff,#005dff,#004aff,#003bff,#0030ff,#002aff,#0027ff,#0029ff,#002fff,#0039ff,#0047ff,#0059ff)"></i>
<i style="background:linear-gradient(90deg,#ffdf00,#d2ff00,#8aff00,#45ff00,#05ff00,#00ff38,#00ff70,#00ffa4,#00ffd4,#00feff,#00d7ff,#00b3ff,#0094ff,#0079ff,#0062ff,#004fff,#0040ff,#0036ff,#002fff,#002dff,#002fff,#0035ff,#003fff,#004eff,#0060ff)"></i>
<i style="background:linear-gradient(90deg,#ffdd00,#d5ff00,#8cff00,#48ff00,#07ff00,#00ff35,#00ff6d,#00ffa1,#00ffd0,#00fffc,#00dbff,#00b8ff,#0098ff,#007eff,#0067ff,#0054ff,#0046ff,#003bff,#0035ff,#0033ff,#0035ff,#003bff,#0046ff,#0054ff,#0067ff)"></i>
<i style="background:linear-gradient(90deg,#ffdb00,#d7ff00,#8eff00,#4aff00,#0aff00,#00ff32,#00ff6a,#00ff9d,#00ffcd,#00fff8,#00dfff,#00bcff,#009dff,#0082ff,#006cff,#0059ff,#004bff,#0041ff,#003bff,#0039ff,#003bff,#0042ff,#004cff,#005bff,#006eff)"></i>
<i style="background:linear-gradient(90deg,#ffd900,#d9ff00,#91ff00,#4dff00,#0dff00,#00ff2f,#00ff66,#00ff9a,#00ffc9,#00fff4,#00e3ff,#00c0ff,#00a2ff,#0087ff,#0071ff,#005eff,#0050ff,#0046ff,#0041ff,#003fff,#0042ff,#0048ff,#0053ff,#0062ff,#0075ff)"></i>
<i style="background:linear-gradient(90deg,#ffd700,#dbff00,#93ff00,#4fff00,#10ff00,#00ff2c,#00ff63,#00ff96,#00ffc5,#00fff0,#00e7ff,#00c5ff,#00a6ff,#008cff,#0076ff,#0064ff,#0056ff,#004cff,#0047ff,#0045ff,#0048ff,#004fff,#005aff,#0069ff,#007cff)"></i>
<i style="background:linear-gradient(90deg,#ffd500,#ddff00,#96ff00,#52ff00,#13ff00,#00ff29,#00ff60,#00ff93,#00ffc1,#00ffec,#00ebff,#00c9ff,#00abff,#0091ff,#007bff,#0069ff,#005bff,#0052ff,#004cff,#004bff,#004eff,#0055ff,#0061ff,#0070ff,#0083ff)"></i>
<i style="background:linear-gradient(90deg,#ffd300,#e0ff00,#98ff00,#55ff00,#16ff00,#00ff25,#00ff5c,#00ff8f,#00ffbe,#00ffe8,#00f0ff,#00cdff,#00afff,#0095ff,#0080ff,#006eff,#0061ff,#0057ff,#0052ff,#0051ff,#0054ff,#005cff,#0067ff,#0077ff,#008bff)"></i>
<i style="background:linear-gradient(90deg,#ffd000,#e2ff00,#9bff00,#58ff00,#19ff00,#00ff22,#00ff59,#00ff8b,#00ffba,#00ffe4,#00f4ff,#00d2ff,#00b4ff,#009aff,#0085ff,#0073ff,#0066ff,#005dff,#0058ff,#0057ff,#005bff,#0062ff,#006eff,#007eff,#0092ff)"></i>
<i style="background:linear-gradient(90deg,#ffce00,#e4ff00,#9dff00,#5aff00,#1cff00,#00ff1f,#00ff56,#00ff88,#00ffb6,#00ffe0,#00f8ff,#00d6ff,#00b9ff,#009fff,#008aff,#0079ff,#006cff,#0063ff,#005eff,#005eff,#0061ff,#0069ff,#0075ff,#0085ff,#0099ff)"></i>
<i style="background:linear-gradient(90deg,#ffcc00,#e7ff00,#a0ff00,#5dff00,#1fff00,#00ff1c,#00ff52,#00ff84,#00ffb2,#00ffdc,#00fcff,#00dbff,#00bdff,#00a4ff,#008fff,#007eff,#0071ff,#0069ff,#0064ff,#0064ff,#0068ff,#0070ff,#007cff,#008cff,#00a0ff)"></i>
<i style="background:linear-gradient(90deg,#ffca00,#e9ff00,#a3ff00,#60ff00,#22ff00,#00ff19,#00ff4f,#00ff81,#00ffae,#00ffd8,#00fffd,#00dfff,#00c2ff,#00a9ff,#0094ff,#0084ff,#0077ff,#006eff,#006aff,#006aff,#006eff,#0076ff,#0083ff,#0093ff,#00a8ff)"></i>
<i style="background:linear-gradient(90deg,#ffc800,#ecff00,#a5ff00,#63ff00,#25ff00,#00ff15,#00ff4b,#00ff7d,#00ffaa,#00ffd4,#00fff9,#00e4ff,#00c7ff,#00aeff,#0099ff,#0089ff,#007dff,#0074ff,#0070ff,#0070ff,#0075ff,#007dff,#008aff,#009aff,#00afff)"></i>
<i style="background:linear-gradient(90deg,#ffc500,#eeff00,#a8ff00,#66ff00,#28ff00,#00ff12,#00ff48,#00ff79,#00ffa6,#00ffd0,#00fff5,#00e8ff,#00ccff,#00b3ff,#009fff,#008eff,#0082ff,#007aff,#0076ff,#0077ff,#007bff,#0084ff,#0090ff,#00a1ff,#00b6ff)"></i>
<i style="background:linear-gradient(90deg,#ffc300,#f1ff00,#abff00,#69ff00,#2bff00,#00ff0f,#00ff44,#00ff75,#00ffa2,#00ffcb,#00fff0,#00edff,#00d1ff,#00b8ff,#00a4ff,#0094ff,#0088ff,#0080ff,#007cff,#007dff,#0082ff,#008aff,#0097ff,#00a9ff,#00beff)"></i>
<i style="background:linear-gradient(90deg,#ffc100,#f3ff00,#adff00,#6cff00,#2eff00,#00ff0b,#00ff40,#00ff71,#00ff9e,#00ffc7,#00ffec,#00f2ff,#00d5ff,#00bdff,#00a9ff,#0099ff,#008eff,#0086ff,#0083ff,#0083ff,#0088ff,#0091ff,#009eff,#00b0ff,#00c5ff)"></i>
<i style="background:linear-gradient(90deg,#ffbe00,#f6ff00,#b0ff00,#6fff00,#31ff00,#00ff08,#00ff3d,#00ff6e,#00ff9a,#00ffc3,#00ffe7,#00f6ff,#00daff,#00c2ff,#00afff,#009fff,#0093ff,#008cff,#0089ff,#008aff,#008fff,#0098ff,#00a5ff,#00b7ff,#00cdff)"></i>
<i style="background:linear-gradient(90deg,#ffbc00,#f8ff00,#b3ff00,#72ff00,#35ff00,#00ff04,#00ff39,#00ff6a,#00ff96,#00ffbf,#00ffe3,#00fbff,#00dfff,#00c8ff,#00b4ff,#00a4ff,#0099ff,#0092ff,#008fff,#0090ff,#0095ff,#009fff,#00adff,#00beff,#00d4ff)"></i>
<i style="background:linear-gradient(90deg,#ffba00,#fbff00,#b6ff00,#75ff00,#38ff00,#00ff01,#00ff35,#00ff66,#00ff92,#00ffba,#00ffde,#00fffe,#00e4ff,#00cdff,#00b9ff,#00aaff,#009fff,#0098ff,#0095ff,#0097ff,#009cff,#00a6ff,#00b4ff,#00c6ff,#00dcff)"></i>
<i style="background:linear-gradient(90deg,#ffb700,#feff00,#b9ff00,#78ff00,#3bff00,#03ff00,#00ff32,#00ff62,#00ff8e,#00ffb6,#00ffda,#00fff9,#00e9ff,#00d2ff,#00bfff,#00b0ff,#00a5ff,#009eff,#009cff,#009dff,#00a3ff,#00adff,#00bbff,#00cdff,#00e3ff)"></i>
<i style="background:linear-gradient(90deg,#ffb500,#fffe00,#bcff00,#7bff00,#3fff00,#06ff00,#00ff2e,#00ff5e,#00ff8a,#00ffb2,#00ffd5,#00fff4,#00eeff,#00d7ff,#00c4ff,#00b5ff,#00abff,#00a4ff,#00a2ff,#00a4ff,#00aaff,#00b4ff,#00c2ff,#00d4ff,#00ebff)"></i>
<i style="background:linear-gradient(90deg,#ffb200,#fffb00,#beff00,#7eff00,#42ff00,#0aff00,#00ff2a,#00ff5a,#00ff86,#00ffad,#00ffd0,#00fff0,#00f3ff,#00dcff,#00caff,#00bbff,#00b1ff,#00aaff,#00a8ff,#00aaff,#00b0ff,#00bbff,#00c9ff,#00dcff,#00f2ff)"></i>
<i style="background:linear-gradient(90deg,#ffb000,#fff800,#c1ff00,#81ff00,#45ff00,#0dff00,#00ff26,#00ff56,#00ff81,#00ffa9,#00ffcc,#00ffeb,#00f8ff,#00e2ff,#00cfff,#00c1ff,#00b7ff,#00b0ff,#00afff,#00b1ff,#00b7ff,#00c2ff,#00d0ff,#00e3ff,#00faff)"></i>
<i style="background:linear-gradient(90deg,#ffad00,#fff500,#c4ff00,#84ff00,#49ff00,#11ff00,#00ff23,#00ff52,#00ff7d,#00ffa4,#00ffc7,#00ffe6,#00feff,#00e7ff,#00d5ff,#00c7ff,#00bdff,#00b7ff,#00b5ff,#00b7ff,#00beff,#00c9ff,#00d8ff,#00ebff,#00fffc)"></i>
<i style="background:linear-gradient(90deg,#ffab00,#fff300,#c7ff00,#88ff00,#4cff00,#15ff00,#00ff1f,#00ff4e,#00ff79,#00ffa0,#00ffc2,#00ffe1,#00fffb,#00ecff,#00daff,#00ccff,#00c3ff,#00bdff,#00bbff,#00beff,#00c5ff,#00d0ff,#00dfff,#00f2ff,#00fff5)"></i>
<i style="background:linear-gradient(90deg,#ffa800,#fff000,#cbff00,#8bff00,#50ff00,#18ff00,#00ff1b,#00ff4a,#00ff74,#00ff9b,#00ffbe,#00ffdc,#00fff6,#00f2ff,#00e0ff,#00d2ff,#00c9ff,#00c3ff,#00c2ff,#00c5ff,#00ccff,#00d7ff,#00e6ff,#00faff,#00ffed)"></i>
<i style="background:linear-gradient(90deg,#ffa500,#ffed00,#ceff00,#8eff00,#53ff00,#1cff00,#00ff17,#00ff46,#00ff70,#00ff97,#00ffb9,#00ffd7,#00fff1,#00f7ff,#00e6ff,#00d8ff,#00cfff,#00c9ff,#00c8ff,#00cbff,#00d3ff,#00deff,#00edff,#00fffd,#00ffe5)"></i>
<i style="background:linear-gradient(90deg,#ffa300,#ffea00,#d1ff00,#92ff00,#57ff00,#20ff00,#00ff13,#00ff41,#00ff6c,#00ff92,#00ffb4,#00ffd2,#00ffec,#00fdff,#00ebff,#00deff,#00d5ff,#00d0ff,#00cfff,#00d2ff,#00d9ff,#00e5ff,#00f5ff,#00fff5,#00ffdd)"></i>
<i style="background:linear-gradient(90deg,#ffa000,#ffe700,#d4ff00,#95ff00,#5aff00,#24ff00,#00ff0f,#00ff3d,#00ff67,#00ff8d,#00ffaf,#00ffcd,#00ffe6,#00fffc,#00f1ff,#00e4ff,#00dbff,#00d6ff,#00d5ff,#00d9ff,#00e0ff,#00ecff,#00fcff,#00ffee,#00ffd5)"></i>
<i style="background:linear-gradient(90deg,#ff9d00,#ffe400,#d7ff00,#98ff00,#5eff00,#27ff00,#00ff0b,#00ff39,#00ff63,#00ff89,#00ffaa,#00ffc8,#00ffe1,#00fff6,#00f7ff,#00eaff,#00e1ff,#00dcff,#00dcff,#00e0ff,#00e7ff,#00f3ff,#00fffa,#00ffe6,#00ffce)"></i>
<i style="background:linear-gradient(90deg,#ff9a00,#ffe100,#daff00,#9cff00,#61ff00,#2bff00,#00ff07,#00ff35,#00ff5e,#00ff84,#00ffa5,#00ffc3,#00ffdc,#00fff1,#00fcff,#00f0ff,#00e7ff,#00e3ff,#00e3ff,#00e6ff,#00eeff,#00fbff,#00fff3,#00ffde,#00ffc6)"></i>
<i style="background:linear-gradient(90deg,#ff9800,#ffde00,#ddff00,#9fff00,#65ff00,#2fff00,#00ff03,#00ff30,#00ff5a,#00ff7f,#00ffa0,#00ffbe,#00ffd6,#00ffeb,#00fffc,#00f6ff,#00edff,#00e9ff,#00e9ff,#00edff,#00f6ff,#00fffc,#00ffeb,#00ffd7,#00ffbe)"></i>
<i style="background:linear-gradient(90deg,#ff9500,#ffdb00,#e1ff00,#a3ff00,#69ff00,#33ff00,#01ff00,#00ff2c,#00ff55,#00ff7b,#00ff9c,#00ffb8,#00ffd1,#00ffe6,#00fff6,#00fcff,#00f4ff,#00f0ff,#00f0ff,#00f4ff,#00fdff,#00fff5,#00ffe4,#00ffcf,#00ffb6)"></i>
<i style="background:linear-gradient(90deg,#ff9200,#ffd800,#e4ff00,#a6ff00,#6cff00,#37ff00,#06ff00,#00ff28,#00ff51,#00ff76,#00ff97,#00ffb3,#00ffcc,#00ffe0,#00fff0,#00fffc,#00faff,#00f6ff,#00f7ff,#00fbff,#00fffa,#00ffed,#00ffdc,#00ffc7,#00ffae)"></i>
<i style="background:linear-gradient(90deg,#ff8f00,#ffd500,#e7ff00,#aaff00,#70ff00,#3bff00,#0aff00,#00ff23,#00ff4c,#00ff71,#00ff91,#00ffae,#00ffc6,#00ffda,#00ffea,#00fff6,#00fffe,#00fdff,#00fdff,#00fffc,#00fff3,#00ffe6,#00ffd5,#00ffbf,#00ffa6)"></i>
<i style="background:linear-gradient(90deg,#ff8c00,#ffd200,#ebff00,#adff00,#74ff00,#3fff00,#0eff00,#00ff1f,#00ff48,#00ff6c,#00ff8c,#00ffa9,#00ffc1,#00ffd5,#00ffe4,#00fff0,#00fff7,#00fffb,#00fffa,#00fff5,#00ffec,#00ffdf,#00ffcd,#00ffb8,#00ff9e)"></i>
<i style="background:linear-gradient(90deg,#ff8900,#ffcf00,#eeff00,#b1ff00,#78ff00,#43ff00,#12ff00,#00ff1a,#00ff43,#00ff67,#00ff87,#00ffa3,#00ffbb,#00ffcf,#00ffde,#00ffea,#00fff1,#00fff4,#00fff3,#00ffee,#00ffe5,#00ffd7,#00ffc6,#00ffb0,#00ff96)"></i>
<i style="background:linear-gradient(90deg,#ff8600,#ffcb00,#f1ff00,#b4ff00,#7cff00,#47ff00,#16ff00,#00ff16,#00ff3e,#00ff62,#00ff82,#00ff9e,#00ffb6,#00ffc9,#00ffd9,#00ffe4,#00ffeb,#00ffee,#00ffec,#00ffe7,#00ffdd,#00ffd0,#00ffbe,#00ffa8,#00ff8e)"></i>
<i style="background:linear-gradient(90deg,#ff8300,#ffc800,#f5ff00,#b8ff00,#80ff00,#4bff00,#1bff00,#00ff11,#00ff39,#00ff5d,#00ff7d,#00ff99,#00ffb0,#00ffc3,#00ffd3,#00ffdd,#00ffe4,#00ffe7,#00ffe6,#00ffe0,#00ffd6,#00ffc8,#00ffb6,#00ffa0,#00ff86)"></i>
<i style="background:linear-gradient(90deg,#ff8000,#ffc500,#f8ff00,#bcff00,#83ff00,#4fff00,#1fff00,#00ff0d,#00ff35,#00ff58,#00ff78,#00ff93,#00ffaa,#00ffbe,#00ffcc,#00ffd7,#00ffde,#00ffe0,#00ffdf,#00ffd9,#00ffcf,#00ffc1,#00ffae,#00ff98,#00ff7d)"></i>
<i style="background:linear-gradient(90deg,#ff7d00,#ffc200,#fcff00,#c0ff00,#87ff00,#53ff00,#23ff00,#00ff08,#00ff30,#00ff53,#00ff73,#00ff8e,#00ffa5,#00ffb8,#00ffc6,#00ffd1,#00ffd7,#00ffda,#00ffd8,#00ffd2,#00ffc8,#00ffb9,#00ffa7,#00ff90,#00ff75)"></i>
<i style="background:linear-gradient(90deg,#ff7a00,#ffbe00,#ffff00,#c3ff00,#8bff00,#57ff00,#28ff00,#00ff04,#00ff2b,#00ff4e,#00ff6d,#00ff88,#00ff9f,#00ffb2,#00ffc0,#00ffcb,#00ffd1,#00ffd3,#00ffd1,#00ffcb,#00ffc0,#00ffb2,#00ff9f,#00ff88,#00ff6d)"></i>
<i style="background:linear-gradient(90deg,#ff7700,#ffbb00,#fffb00,#c7ff00,#8fff00,#5cff00,#2cff00,#01ff00,#00ff26,#00ff49,#00ff68,#00ff83,#00ff9a,#00ffac,#00ffba,#00ffc4,#00ffca,#00ffcc,#00ffca,#00ffc3,#00ffb9,#00ffaa,#00ff97,#00ff80,#00ff65)"></i>
<i style="background:linear-gradient(90deg,#ff7400,#ffb800,#fff700,#cbff00,#93ff00,#60ff00,#31ff00,#06ff00,#00ff21,#00ff44,#00ff63,#00ff7d,#00ff94,#00ffa6,#00ffb4,#00ffbe,#00ffc4,#00ffc5,#00ffc3,#00ffbc,#00ffb1,#00ffa2,#00ff8f,#00ff78,#00ff5d)"></i>
<i style="background:linear-gradient(90deg,#ff7000,#ffb400,#fff400,#cfff00,#97ff00,#64ff00,#35ff00,#0aff00,#00ff1d,#00ff3f,#00ff5e,#00ff78,#00ff8e,#00ffa0,#00ffae,#00ffb8,#00ffbd,#00ffbf,#00ffbc,#00ffb5,#00ffaa,#00ff9b,#00ff87,#00ff70,#00ff54)"></i>
<i style="background:linear-gradient(90deg,#ff6d00,#ffb100,#fff000,#d3ff00,#9bff00,#68ff00,#3aff00,#0fff00,#00ff18,#00ff3a,#00ff58,#00ff72,#00ff88,#00ff9a,#00ffa8,#00ffb1,#00ffb7,#00ffb8,#00ffb5,#00ffae,#00ffa2,#00ff93,#00ff7f,#00ff68,#00ff4c)"></i>
<i style="background:linear-gradient(90deg,#ff6a00,#ffad00,#ffec00,#d6ff00,#a0ff00,#6dff00,#3eff00,#14ff00,#00ff13,#00ff35,#00ff53,#00ff6d,#00ff82,#00ff94,#00ffa1,#00ffab,#00ffb0,#00ffb1,#00ffae,#00ffa6,#00ff9b,#00ff8b,#00ff78,#00ff60,#00ff44)"></i>
<i style="background:linear-gradient(90deg,#ff6700,#ffaa00,#ffe900,#daff00,#a4ff00,#71ff00,#43ff00,#18ff00,#00ff0e,#00ff30,#00ff4d,#00ff67,#00ff7d,#00ff8e,#00ff9b,#00ffa4,#00ffa9,#00ffaa,#00ffa7,#00ff9f,#00ff93,#00ff84,#00ff70,#00ff57,#00ff3b)"></i>
<i style="background:linear-gradient(90deg,#ff6300,#ffa600,#ffe500,#deff00,#a8ff00,#76ff00,#47ff00,#1dff00,#00ff09,#00ff2a,#00ff48,#00ff61,#00ff77,#00ff88,#00ff95,#00ff9e,#00ffa2,#00ffa3,#00ff9f,#00ff98,#00ff8c,#00ff7c,#00ff68,#00ff4f,#00ff33)"></i>
<i style="background:linear-gradient(90deg,#ff6000,#ffa300,#ffe100,#e2ff00,#acff00,#7aff00,#4cff00,#22ff00,#00ff04,#00ff25,#00ff42,#00ff5c,#00ff71,#00ff82,#00ff8f,#00ff97,#00ff9c,#00ff9c,#00ff98,#00ff90,#00ff84,#00ff74,#00ff5f,#00ff47,#00ff2a)"></i>
<i style="background:linear-gradient(90deg,#ff5c00,#ff9f00,#ffdd00,#e6ff00,#b0ff00,#7eff00,#51ff00,#27ff00,#02ff00,#00ff20,#00ff3d,#00ff56,#00ff6b,#00ff7c,#00ff88,#00ff91,#00ff95,#00ff95,#00ff91,#00ff89,#00ff7d,#00ff6c,#00ff57,#00ff3f,#00ff22)"></i>
<i style="background:linear-gradient(90deg,#ff5900,#ff9b00,#ffda00,#eaff00,#b5ff00,#83ff00,#55ff00,#2cff00,#07ff00,#00ff1a,#00ff37,#00ff50,#00ff65,#00ff75,#00ff82,#00ff8a,#00ff8e,#00ff8e,#00ff8a,#00ff81,#00ff75,#00ff64,#00ff4f,#00ff36,#00ff19)"></i>
<i style="background:linear-gradient(90deg,#ff5600,#ff9800,#ffd600,#efff00,#b9ff00,#87ff00,#5aff00,#31ff00,#0cff00,#00ff15,#00ff32,#00ff4a,#00ff5f,#00ff6f,#00ff7b,#00ff83,#00ff87,#00ff87,#00ff82,#00ff7a,#00ff6d,#00ff5c,#00ff47,#00ff2e,#00ff11)"></i>
<i style="background:linear-gradient(90deg,#ff5200,#ff9400,#ffd200,#f3ff00,#bdff00,#8cff00,#5fff00,#36ff00,#11ff00,#00ff10,#00ff2c,#00ff45,#00ff59,#00ff69,#00ff75,#00ff7d,#00ff80,#00ff80,#00ff7b,#00ff72,#00ff65,#00ff54,#00ff3f,#00ff26,#00ff08)"></i>
<i style="background:linear-gradient(90deg,#ff4f00,#ff9000,#ffce00,#f7ff00,#c2ff00,#91ff00,#64ff00,#3bff00,#16ff00,#00ff0a,#00ff27,#00ff3f,#00ff53,#00ff63,#00ff6e,#00ff76,#00ff79,#00ff79,#00ff74,#00ff6b,#00ff5e,#00ff4c,#00ff37,#00ff1d,#01ff00)"></i>
<i style="background:linear-gradient(90deg,#ff4b00,#ff8d00,#ffca00,#fbff00,#c6ff00,#95ff00,#68ff00,#40ff00,#1bff00,#00ff05,#00ff21,#00ff39,#00ff4d,#00ff5c,#00ff68,#00ff6f,#00ff72,#00ff72,#00ff6c,#00ff63,#00ff56,#00ff44,#00ff2f,#00ff15,#09ff00)"></i>
<i style="background:linear-gradient(90deg,#ff4800,#ff8900,#ffc600,#ffff00,#caff00,#9aff00,#6dff00,#45ff00,#21ff00,#01ff00,#00ff1b,#00ff33,#00ff47,#00ff56,#00ff61,#00ff69,#00ff6c,#00ff6a,#00ff65,#00ff5c,#00ff4e,#00ff3c,#00ff26,#00ff0c,#12ff00)"></i>
<i style="background:linear-gradient(90deg,#ff4400,#ff8500,#ffc200,#fffb00,#cfff00,#9eff00,#72ff00,#4aff00,#26ff00,#06ff00,#00ff16,#00ff2d,#00ff40,#00ff50,#00ff5b,#00ff62,#00ff65,#00ff63,#00ff5e,#00ff54,#00ff46,#00ff34,#00ff1e,#00ff04,#1bff00)"></i>
<i style="background:linear-gradient(90deg,#ff4000,#ff8100,#ffbe00,#fff600,#d3ff00,#a3ff00,#77ff00,#4fff00,#2bff00,#0cff00,#00ff10,#00ff27,#00ff3a,#00ff49,#00ff54,#00ff5b,#00ff5d,#00ff5c,#00ff56,#00ff4c,#00ff3e,#00ff2c,#00ff16,#05ff00,#23ff00)"></i>
<i style="background:linear-gradient(90deg,#ff3d00,#ff7d00,#ffba00,#fff200,#d8ff00,#a8ff00,#7cff00,#54ff00,#31ff00,#11ff00,#00ff0a,#00ff21,#00ff34,#00ff43,#00ff4e,#00ff54,#00ff56,#00ff55,#00ff4f,#00ff45,#00ff36,#00ff24,#00ff0d,#0dff00,#2cff00)"></i>
<i style="background:linear-gradient(90deg,#ff3900,#ff7900,#ffb600,#ffee00,#dcff00,#adff00,#81ff00,#59ff00,#36ff00,#17ff00,#00ff04,#00ff1b,#00ff2e,#00ff3c,#00ff47,#00ff4d,#00ff4f,#00ff4d,#00ff47,#00ff3d,#00ff2e,#00ff1c,#00ff05,#16ff00,#35ff00)"></i>
<i style="background:linear-gradient(90deg,#ff3500,#ff7500,#ffb100,#ffe900,#e1ff00,#b1ff00,#86ff00,#5fff00,#3bff00,#1cff00,#02ff00,#00ff15,#00ff28,#00ff36,#00ff40,#00ff46,#00ff48,#00ff46,#00ff40,#00ff35,#00ff26,#00ff14,#03ff00,#1eff00,#3eff00)"></i>
<i style="background:linear-gradient(90deg,#ff3200,#ff7100,#ffad00,#ffe500,#e6ff00,#b6ff00,#8bff00,#64ff00,#41ff00,#22ff00,#08ff00,#00ff0f,#00ff21,#00ff2f,#00ff39,#00ff3f,#00ff41,#00ff3f,#00ff38,#00ff2d,#00ff1e,#00ff0b,#0cff00,#27ff00,#46ff00)"></i>
<i style="background:linear-gradient(90deg,#ff2e00,#ff6d00,#ffa900,#ffe100,#eaff00,#bbff00,#90ff00,#69ff00,#46ff00,#28ff00,#0dff00,#00ff09,#00ff1b,#00ff29,#00ff33,#00ff38,#00ff3a,#00ff37,#00ff30,#00ff26,#00ff16,#00ff03,#14ff00,#30ff00,#4fff00)"></i>
<i style="background:linear-gradient(90deg,#ff2a00,#ff6900,#ffa500,#ffdc00,#efff00,#c0ff00,#95ff00,#6eff00,#4cff00,#2eff00,#13ff00,#00ff03,#00ff15,#00ff22,#00ff2c,#00ff31,#00ff33,#00ff30,#00ff29,#00ff1e,#00ff0e,#05ff00,#1dff00,#38ff00,#58ff00)"></i>
<i style="background:linear-gradient(90deg,#ff2600,#ff6500,#ffa100,#ffd800,#f3ff00,#c5ff00,#9aff00,#74ff00,#51ff00,#33ff00,#19ff00,#04ff00,#00ff0e,#00ff1c,#00ff25,#00ff2a,#00ff2b,#00ff28,#00ff21,#00ff16,#00ff06,#0dff00,#25ff00,#41ff00,#61ff00)"></i>
<i style="background:linear-gradient(90deg,#ff2200,#ff6100,#ff9c00,#ffd300,#f8ff00,#caff00,#9fff00,#79ff00,#57ff00,#39ff00,#1fff00,#0aff00,#00ff08,#00ff15,#00ff1e,#00ff23,#00ff24,#00ff21,#00ff19,#00ff0e,#02ff00,#16ff00,#2eff00,#4aff00,#6aff00)"></i>
<i style="height:1px;background:linear-gradient(90deg,#ff1f00,#ff5e00,#ff9900,#ffd000,#fcff00,#cdff00,#a3ff00,#7dff00,#5bff00,#3dff00,#24ff00,#0eff00,#00ff03,#00ff10,#00ff19,#00ff1e,#00ff1f,#00ff1b,#00ff14,#00ff08,#08ff00,#1cff00,#34ff00,#50ff00,#71ff00)"></i>
</div>
<div class="f" style="left:356px;top:188px;width:141px;height:142px">
<i style="background:linear-gradient(90deg,#00ff24,#00ff11,#02ff00,#14ff00,#26ff00,#37ff00,#48ff00,#58ff00,#67ff00,#77ff00,#85ff00,#93ff00,#a1ff00,#aeff00,#baff00,#c7ff00,#d2ff00,#ddff00,#e8ff00,#f2ff00,#fbff00,#fffa00,#fff200,#ffea00,#ffe200)"></i>
<i style="background:linear-gradient(90deg,#00ff16,#00ff04,#0eff00,#20ff00,#31ff00,#41ff00,#51ff00,#61ff00,#70ff00,#7eff00,#8cff00,#99ff00,#a6ff00,#b3ff00,#beff00,#caff00,#d4ff00,#dfff00,#e8ff00,#f2ff00,#faff00,#fffb00,#fff400,#ffed00,#ffe600)"></i>
<i style="background:linear-gradient(90deg,#00ff08,#0aff00,#1bff00,#2cff00,#3cff00,#4cff00,#5bff00,#6aff00,#78ff00,#85ff00,#93ff00,#9fff00,#abff00,#b7ff00,#c2ff00,#cdff00,#d7ff00,#e0ff00,#e9ff00,#f2ff00,#faff00,#fffd00,#fff600,#fff000,#ffea00)"></i>
<i style="background:linear-gradient(90deg,#06ff00,#17ff00,#27ff00,#37ff00,#47ff00,#56ff00,#64ff00,#72ff00,#80ff00,#8dff00,#99ff00,#a5ff00,#b0ff00,#bbff00,#c5ff00,#cfff00,#d9ff00,#e1ff00,#eaff00,#f1ff00,#f9ff00,#ffff00,#fff800,#fff300,#ffee00)"></i>
<i style="background:linear-gradient(90deg,#13ff00,#23ff00,#33ff00,#42ff00,#51ff00,#60ff00,#6dff00,#7bff00,#87ff00,#93ff00,#9fff00,#aaff00,#b5ff00,#bfff00,#c9ff00,#d2ff00,#daff00,#e2ff00,#eaff00,#f1ff00,#f7ff00,#fdff00,#fffb00,#fff600,#fff200)"></i>
<i style="background:linear-gradient(90deg,#20ff00,#30ff00,#3fff00,#4eff00,#5cff00,#69ff00,#76ff00,#83ff00,#8fff00,#9aff00,#a5ff00,#afff00,#b9ff00,#c3ff00,#ccff00,#d4ff00,#dcff00,#e3ff00,#eaff00,#f0ff00,#f6ff00,#fbff00,#fffe00,#fffa00,#fff600)"></i>
<i style="background:linear-gradient(90deg,#2dff00,#3cff00,#4bff00,#58ff00,#66ff00,#73ff00,#7fff00,#8bff00,#96ff00,#a1ff00,#abff00,#b4ff00,#beff00,#c6ff00,#ceff00,#d6ff00,#ddff00,#e4ff00,#eaff00,#efff00,#f4ff00,#f9ff00,#fdff00,#fffe00,#fffb00)"></i>
<i style="background:linear-gradient(90deg,#3aff00,#48ff00,#56ff00,#63ff00,#70ff00,#7cff00,#87ff00,#92ff00,#9dff00,#a7ff00,#b0ff00,#b9ff00,#c2ff00,#caff00,#d1ff00,#d8ff00,#deff00,#e4ff00,#e9ff00,#eeff00,#f2ff00,#f6ff00,#faff00,#fcff00,#feff00)"></i>
<i style="background:linear-gradient(90deg,#47ff00,#54ff00,#61ff00,#6eff00,#79ff00,#85ff00,#8fff00,#9aff00,#a4ff00,#adff00,#b5ff00,#beff00,#c5ff00,#cdff00,#d3ff00,#d9ff00,#dfff00,#e4ff00,#e9ff00,#edff00,#f0ff00,#f3ff00,#f6ff00,#f8ff00,#f9ff00)"></i>
<i style="background:linear-gradient(90deg,#53ff00,#60ff00,#6cff00,#78ff00,#83ff00,#8dff00,#97ff00,#a1ff00,#aaff00,#b3ff00,#bbff00,#c2ff00,#c9ff00,#cfff00,#d5ff00,#dbff00,#e0ff00,#e4ff00,#e8ff00,#ebff00,#eeff00,#f0ff00,#f2ff00,#f3ff00,#f4ff00)"></i>
<i style="background:linear-gradient(90deg,#5fff00,#6bff00,#77ff00,#82ff00,#8cff00,#96ff00,#9fff00,#a8ff00,#b0ff00,#b8ff00,#bfff00,#c6ff00,#ccff00,#d2ff00,#d7ff00,#dcff00,#e0ff00,#e4ff00,#e7ff00,#e9ff00,#ebff00,#edff00,#eeff00,#efff00,#efff00)"></i>
<i style="background:linear-gradient(90deg,#6bff00,#77ff00,#81ff00,#8bff00,#95ff00,#9eff00,#a7ff00,#afff00,#b6ff00,#bdff00,#c4ff00,#caff00,#cfff00,#d4ff00,#d9ff00,#ddff00,#e0ff00,#e3ff00,#e5ff00,#e7ff00,#e9ff00,#eaff00,#eaff00,#eaff00,#e9ff00)"></i>
<i style="background:linear-gradient(90deg,#77ff00,#82ff00,#8cff00,#95ff00,#9eff00,#a6ff00,#aeff00,#b5ff00,#bcff00,#c3ff00,#c8ff00,#ceff00,#d2ff00,#d7ff00,#daff00,#ddff00,#e0ff00,#e2ff00,#e4ff00,#e5ff00,#e6ff00,#e6ff00,#e5ff00,#e4ff00,#e3ff00)"></i>
<i style="background:linear-gradient(90deg,#83ff00,#8cff00,#96ff00,#9eff00,#a6ff00,#aeff00,#b5ff00,#bcff00,#c2ff00,#c7ff00,#ccff00,#d1ff00,#d5ff00,#d8ff00,#dbff00,#deff00,#e0ff00,#e1ff00,#e2ff00,#e3ff00,#e2ff00,#e2ff00,#e1ff00,#dfff00,#ddff00)"></i>
<i style="background:linear-gradient(90deg,#8eff00,#97ff00,#9fff00,#a7ff00,#afff00,#b6ff00,#bcff00,#c2ff00,#c7ff00,#ccff00,#d0ff00,#d4ff00,#d7ff00,#daff00,#dcff00,#deff00,#dfff00,#e0ff00,#e0ff00,#e0ff00,#dfff00,#deff00,#dcff00,#d9ff00,#d6ff00)"></i>
<i style="background:linear-gradient(90deg,#99ff00,#a1ff00,#a9ff00,#b0ff00,#b7ff00,#bdff00,#c3ff00,#c8ff00,#ccff00,#d0ff00,#d4ff00,#d7ff00,#daff00,#dcff00,#ddff00,#deff00,#dfff00,#dfff00,#deff00,#ddff00,#dbff00,#d9ff00,#d7ff00,#d3ff00,#d0ff00)"></i>
<i style="background:linear-gradient(90deg,#a4ff00,#abff00,#b2ff00,#b9ff00,#bfff00,#c4ff00,#c9ff00,#cdff00,#d1ff00,#d5ff00,#d8ff00,#daff00,#dcff00,#ddff00,#deff00,#deff00,#deff00,#ddff00,#dcff00,#daff00,#d7ff00,#d5ff00,#d1ff00,#cdff00,#c9ff00)"></i>
<i style="background:linear-gradient(90deg,#afff00,#b5ff00,#bcff00,#c1ff00,#c6ff00,#cbff00,#cfff00,#d3ff00,#d6ff00,#d9ff00,#dbff00,#dcff00,#ddff00,#deff00,#deff00,#deff00,#ddff00,#dbff00,#d9ff00,#d6ff00,#d3ff00,#d0ff00,#ccff00,#c7ff00,#c2ff00)"></i>
<i style="background:linear-gradient(90deg,#b9ff00,#bfff00,#c4ff00,#c9ff00,#ceff00,#d2ff00,#d5ff00,#d8ff00,#dbff00,#dcff00,#deff00,#dfff00,#dfff00,#dfff00,#deff00,#ddff00,#dbff00,#d9ff00,#d6ff00,#d3ff00,#cfff00,#cbff00,#c6ff00,#c0ff00,#bbff00)"></i>
<i style="background:linear-gradient(90deg,#c3ff00,#c8ff00,#cdff00,#d1ff00,#d5ff00,#d8ff00,#dbff00,#ddff00,#dfff00,#e0ff00,#e1ff00,#e1ff00,#e0ff00,#dfff00,#deff00,#dcff00,#d9ff00,#d6ff00,#d3ff00,#cfff00,#caff00,#c5ff00,#c0ff00,#baff00,#b3ff00)"></i>
<i style="background:linear-gradient(90deg,#cdff00,#d2ff00,#d6ff00,#d9ff00,#dcff00,#dfff00,#e1ff00,#e2ff00,#e3ff00,#e3ff00,#e3ff00,#e3ff00,#e1ff00,#e0ff00,#deff00,#dbff00,#d8ff00,#d4ff00,#d0ff00,#cbff00,#c6ff00,#c0ff00,#b9ff00,#b3ff00,#abff00)"></i>
<i style="background:linear-gradient(90deg,#d7ff00,#dbff00,#deff00,#e1ff00,#e3ff00,#e5ff00,#e6ff00,#e7ff00,#e7ff00,#e6ff00,#e6ff00,#e4ff00,#e2ff00,#e0ff00,#ddff00,#daff00,#d6ff00,#d1ff00,#ccff00,#c7ff00,#c1ff00,#baff00,#b3ff00,#abff00,#a3ff00)"></i>
<i style="background:linear-gradient(90deg,#e0ff00,#e3ff00,#e6ff00,#e8ff00,#e9ff00,#eaff00,#ebff00,#ebff00,#eaff00,#e9ff00,#e8ff00,#e6ff00,#e3ff00,#e0ff00,#dcff00,#d8ff00,#d3ff00,#ceff00,#c8ff00,#c2ff00,#bbff00,#b4ff00,#acff00,#a4ff00,#9bff00)"></i>
<i style="background:linear-gradient(90deg,#eaff00,#ecff00,#eeff00,#efff00,#f0ff00,#f0ff00,#f0ff00,#efff00,#eeff00,#ecff00,#eaff00,#e7ff00,#e3ff00,#e0ff00,#dbff00,#d6ff00,#d1ff00,#cbff00,#c4ff00,#bdff00,#b6ff00,#aeff00,#a5ff00,#9cff00,#93ff00)"></i>
<i style="background:linear-gradient(90deg,#f3ff00,#f4ff00,#f5ff00,#f6ff00,#f6ff00,#f5ff00,#f4ff00,#f3ff00,#f1ff00,#eeff00,#ebff00,#e8ff00,#e4ff00,#dfff00,#daff00,#d4ff00,#ceff00,#c7ff00,#c0ff00,#b8ff00,#b0ff00,#a7ff00,#9eff00,#94ff00,#8aff00)"></i>
<i style="background:linear-gradient(90deg,#fbff00,#fcff00,#fdff00,#fcff00,#fcff00,#fbff00,#f9ff00,#f7ff00,#f4ff00,#f1ff00,#edff00,#e8ff00,#e4ff00,#deff00,#d8ff00,#d2ff00,#cbff00,#c4ff00,#bcff00,#b3ff00,#aaff00,#a1ff00,#97ff00,#8cff00,#81ff00)"></i>
<i style="background:linear-gradient(90deg,#fffa00,#fffa00,#fffa00,#fffb00,#fffd00,#ffff00,#fdff00,#faff00,#f7ff00,#f2ff00,#eeff00,#e9ff00,#e3ff00,#ddff00,#d7ff00,#d0ff00,#c8ff00,#c0ff00,#b7ff00,#aeff00,#a4ff00,#9aff00,#8fff00,#84ff00,#78ff00)"></i>
<i style="background:linear-gradient(90deg,#fff200,#fff200,#fff300,#fff500,#fff700,#fffa00,#fffd00,#fdff00,#f9ff00,#f4ff00,#efff00,#e9ff00,#e3ff00,#dcff00,#d5ff00,#cdff00,#c4ff00,#bcff00,#b2ff00,#a8ff00,#9eff00,#93ff00,#87ff00,#7bff00,#6fff00)"></i>
<i style="background:linear-gradient(90deg,#ffe900,#ffeb00,#ffed00,#ffef00,#fff200,#fff500,#fff900,#fffe00,#fbff00,#f6ff00,#f0ff00,#e9ff00,#e2ff00,#dbff00,#d3ff00,#caff00,#c1ff00,#b7ff00,#adff00,#a2ff00,#97ff00,#8cff00,#7fff00,#73ff00,#65ff00)"></i>
<i style="background:linear-gradient(90deg,#ffe200,#ffe400,#ffe600,#ffe900,#ffed00,#fff100,#fff600,#fffb00,#fdff00,#f7ff00,#f0ff00,#e9ff00,#e1ff00,#d9ff00,#d0ff00,#c7ff00,#bdff00,#b3ff00,#a8ff00,#9cff00,#90ff00,#84ff00,#77ff00,#6aff00,#5cff00)"></i>
<i style="background:linear-gradient(90deg,#ffda00,#ffdd00,#ffe000,#ffe400,#ffe800,#ffed00,#fff300,#fff800,#ffff00,#f8ff00,#f1ff00,#e9ff00,#e0ff00,#d7ff00,#ceff00,#c3ff00,#b9ff00,#aeff00,#a2ff00,#96ff00,#89ff00,#7cff00,#6fff00,#60ff00,#52ff00)"></i>
<i style="background:linear-gradient(90deg,#ffd200,#ffd600,#ffda00,#ffdf00,#ffe400,#ffe900,#ffef00,#fff600,#fffd00,#f9ff00,#f1ff00,#e8ff00,#dfff00,#d5ff00,#cbff00,#c0ff00,#b5ff00,#a9ff00,#9cff00,#90ff00,#82ff00,#74ff00,#66ff00,#57ff00,#47ff00)"></i>
<i style="background:linear-gradient(90deg,#ffcb00,#ffcf00,#ffd400,#ffd900,#ffdf00,#ffe600,#ffed00,#fff400,#fffc00,#faff00,#f1ff00,#e7ff00,#ddff00,#d3ff00,#c8ff00,#bcff00,#b0ff00,#a3ff00,#96ff00,#89ff00,#7bff00,#6cff00,#5dff00,#4dff00,#3dff00)"></i>
<i style="background:linear-gradient(90deg,#ffc400,#ffc900,#ffcf00,#ffd500,#ffdb00,#ffe200,#ffea00,#fff200,#fffb00,#faff00,#f0ff00,#e6ff00,#dbff00,#d0ff00,#c4ff00,#b8ff00,#abff00,#9eff00,#90ff00,#82ff00,#73ff00,#64ff00,#54ff00,#43ff00,#32ff00)"></i>
<i style="background:linear-gradient(90deg,#ffbd00,#ffc300,#ffc900,#ffd000,#ffd700,#ffdf00,#ffe800,#fff000,#fffa00,#faff00,#f0ff00,#e5ff00,#d9ff00,#cdff00,#c1ff00,#b4ff00,#a6ff00,#98ff00,#8aff00,#7bff00,#6bff00,#5bff00,#4aff00,#39ff00,#27ff00)"></i>
<i style="background:linear-gradient(90deg,#ffb700,#ffbd00,#ffc400,#ffcc00,#ffd400,#ffdc00,#ffe500,#ffef00,#fff900,#faff00,#efff00,#e3ff00,#d7ff00,#caff00,#bdff00,#afff00,#a1ff00,#92ff00,#83ff00,#73ff00,#63ff00,#52ff00,#41ff00,#2fff00,#1cff00)"></i>
<i style="background:linear-gradient(90deg,#ffb000,#ffb700,#ffbf00,#ffc800,#ffd000,#ffda00,#ffe300,#ffee00,#fff900,#faff00,#eeff00,#e2ff00,#d5ff00,#c7ff00,#b9ff00,#abff00,#9cff00,#8cff00,#7cff00,#6cff00,#5aff00,#49ff00,#37ff00,#24ff00,#11ff00)"></i>
<i style="background:linear-gradient(90deg,#ffaa00,#ffb200,#ffbb00,#ffc400,#ffcd00,#ffd700,#ffe200,#ffed00,#fff800,#f9ff00,#edff00,#e0ff00,#d2ff00,#c4ff00,#b5ff00,#a6ff00,#96ff00,#86ff00,#75ff00,#64ff00,#52ff00,#40ff00,#2dff00,#19ff00,#05ff00)"></i>
<i style="background:linear-gradient(90deg,#ffa400,#ffad00,#ffb600,#ffc000,#ffca00,#ffd500,#ffe000,#ffec00,#fff800,#f9ff00,#ebff00,#ddff00,#cfff00,#c0ff00,#b1ff00,#a1ff00,#90ff00,#7fff00,#6eff00,#5cff00,#49ff00,#36ff00,#22ff00,#0eff00,#00ff06)"></i>
<i style="background:linear-gradient(90deg,#ff9e00,#ffa800,#ffb200,#ffbc00,#ffc700,#ffd300,#ffdf00,#ffec00,#fff900,#f8ff00,#eaff00,#dbff00,#ccff00,#bcff00,#acff00,#9bff00,#8aff00,#78ff00,#66ff00,#53ff00,#40ff00,#2cff00,#18ff00,#03ff00,#00ff12)"></i>
<i style="background:linear-gradient(90deg,#ff9900,#ffa300,#ffae00,#ffb900,#ffc500,#ffd100,#ffde00,#ffeb00,#fff900,#f7ff00,#e8ff00,#d8ff00,#c9ff00,#b8ff00,#a7ff00,#96ff00,#84ff00,#71ff00,#5eff00,#4bff00,#37ff00,#22ff00,#0dff00,#00ff08,#00ff1f)"></i>
<i style="background:linear-gradient(90deg,#ff9400,#ff9f00,#ffaa00,#ffb600,#ffc300,#ffd000,#ffdd00,#ffeb00,#fffa00,#f5ff00,#e6ff00,#d6ff00,#c5ff00,#b4ff00,#a2ff00,#90ff00,#7dff00,#6aff00,#56ff00,#42ff00,#2dff00,#18ff00,#02ff00,#00ff14,#00ff2b)"></i>
<i style="background:linear-gradient(90deg,#ff8f00,#ff9a00,#ffa700,#ffb300,#ffc100,#ffce00,#ffdd00,#ffeb00,#fffb00,#f4ff00,#e3ff00,#d2ff00,#c1ff00,#afff00,#9dff00,#8aff00,#76ff00,#63ff00,#4eff00,#39ff00,#24ff00,#0eff00,#00ff09,#00ff20,#00ff38)"></i>
<i style="background:linear-gradient(90deg,#ff8a00,#ff9600,#ffa300,#ffb100,#ffbf00,#ffcd00,#ffdc00,#ffec00,#fffc00,#f2ff00,#e1ff00,#cfff00,#bdff00,#aaff00,#97ff00,#84ff00,#6fff00,#5bff00,#46ff00,#30ff00,#1aff00,#03ff00,#00ff14,#00ff2c,#00ff44)"></i>
<i style="background:linear-gradient(90deg,#ff8500,#ff9200,#ffa000,#ffae00,#ffbd00,#ffcc00,#ffdc00,#ffec00,#fffd00,#f0ff00,#deff00,#ccff00,#b9ff00,#a5ff00,#92ff00,#7dff00,#68ff00,#53ff00,#3dff00,#26ff00,#0fff00,#00ff08,#00ff20,#00ff39,#00ff52)"></i>
<i style="background:linear-gradient(90deg,#ff8100,#ff8f00,#ff9d00,#ffac00,#ffbc00,#ffcc00,#ffdc00,#ffed00,#ffff00,#edff00,#dbff00,#c8ff00,#b4ff00,#a0ff00,#8cff00,#76ff00,#61ff00,#4bff00,#34ff00,#1dff00,#05ff00,#00ff13,#00ff2c,#00ff45,#00ff5f)"></i>
<i style="background:linear-gradient(90deg,#ff7d00,#ff8b00,#ff9b00,#ffaa00,#ffba00,#ffcb00,#ffdc00,#ffee00,#feff00,#ebff00,#d8ff00,#c4ff00,#b0ff00,#9bff00,#85ff00,#70ff00,#59ff00,#42ff00,#2bff00,#13ff00,#00ff06,#00ff1e,#00ff38,#00ff52,#00ff6c)"></i>
<i style="background:linear-gradient(90deg,#ff7900,#ff8800,#ff9800,#ffa900,#ffb900,#ffcb00,#ffdd00,#ffef00,#fcff00,#e8ff00,#d4ff00,#c0ff00,#abff00,#95ff00,#7fff00,#68ff00,#51ff00,#3aff00,#21ff00,#09ff00,#00ff10,#00ff2a,#00ff44,#00ff5f,#00ff7a)"></i>
<i style="background:linear-gradient(90deg,#ff7500,#ff8500,#ff9600,#ffa700,#ffb900,#ffcb00,#ffde00,#fff100,#faff00,#e5ff00,#d1ff00,#bbff00,#a5ff00,#8fff00,#78ff00,#61ff00,#49ff00,#31ff00,#18ff00,#00ff01,#00ff1b,#00ff36,#00ff51,#00ff6c,#00ff88)"></i>
<i style="background:linear-gradient(90deg,#ff7200,#ff8300,#ff9400,#ffa600,#ffb800,#ffcb00,#ffdf00,#fff200,#f7ff00,#e2ff00,#cdff00,#b7ff00,#a0ff00,#89ff00,#72ff00,#59ff00,#41ff00,#28ff00,#0eff00,#00ff0c,#00ff27,#00ff42,#00ff5e,#00ff7a,#00ff97)"></i>
<i style="background:linear-gradient(90deg,#ff6f00,#ff8000,#ff9200,#ffa500,#ffb800,#ffcc00,#ffe000,#fff400,#f4ff00,#dfff00,#c8ff00,#b2ff00,#9aff00,#83ff00,#6aff00,#52ff00,#38ff00,#1eff00,#04ff00,#00ff17,#00ff32,#00ff4e,#00ff6b,#00ff87,#00ffa5)"></i>
<i style="background:linear-gradient(90deg,#ff6c00,#ff7e00,#ff9100,#ffa400,#ffb800,#ffcc00,#ffe100,#fff700,#f2ff00,#dbff00,#c4ff00,#adff00,#95ff00,#7cff00,#63ff00,#4aff00,#30ff00,#15ff00,#00ff06,#00ff22,#00ff3e,#00ff5b,#00ff78,#00ff95,#00ffb4)"></i>
<i style="background:linear-gradient(90deg,#ff6900,#ff7c00,#ff8f00,#ffa300,#ffb800,#ffcd00,#ffe300,#fff900,#eeff00,#d7ff00,#c0ff00,#a7ff00,#8fff00,#75ff00,#5cff00,#41ff00,#27ff00,#0bff00,#00ff11,#00ff2d,#00ff4a,#00ff67,#00ff85,#00ffa4,#00ffc3)"></i>
<i style="background:linear-gradient(90deg,#ff6600,#ff7a00,#ff8e00,#ffa300,#ffb800,#ffce00,#ffe500,#fffc00,#ebff00,#d3ff00,#bbff00,#a2ff00,#88ff00,#6eff00,#54ff00,#39ff00,#1dff00,#01ff00,#00ff1b,#00ff38,#00ff56,#00ff74,#00ff93,#00ffb2,#00ffd2)"></i>
<i style="background:linear-gradient(90deg,#ff6400,#ff7800,#ff8d00,#ffa300,#ffb900,#ffd000,#ffe700,#fffe00,#e8ff00,#cfff00,#b6ff00,#9cff00,#82ff00,#67ff00,#4cff00,#30ff00,#14ff00,#00ff09,#00ff26,#00ff44,#00ff62,#00ff81,#00ffa1,#00ffc1,#00ffe1)"></i>
<i style="background:linear-gradient(90deg,#ff6200,#ff7700,#ff8d00,#ffa300,#ffba00,#ffd100,#ffe900,#fdff00,#e4ff00,#caff00,#b0ff00,#96ff00,#7bff00,#60ff00,#44ff00,#27ff00,#0aff00,#00ff13,#00ff31,#00ff50,#00ff6f,#00ff8f,#00ffaf,#00ffcf,#00fff1)"></i>
<i style="background:linear-gradient(90deg,#ff6000,#ff7600,#ff8c00,#ffa300,#ffbb00,#ffd300,#ffec00,#f9ff00,#e0ff00,#c6ff00,#abff00,#90ff00,#74ff00,#58ff00,#3bff00,#1eff00,#00ff00,#00ff1e,#00ff3d,#00ff5c,#00ff7c,#00ff9c,#00ffbd,#00ffde,#00feff)"></i>
<i style="background:linear-gradient(90deg,#ff5e00,#ff7500,#ff8c00,#ffa400,#ffbc00,#ffd500,#ffee00,#f6ff00,#dcff00,#c1ff00,#a5ff00,#89ff00,#6dff00,#50ff00,#33ff00,#15ff00,#00ff0a,#00ff29,#00ff48,#00ff68,#00ff89,#00ffaa,#00ffcc,#00ffee,#00eeff)"></i>
<i style="background:linear-gradient(90deg,#ff5d00,#ff7400,#ff8c00,#ffa500,#ffbe00,#ffd700,#fff100,#f2ff00,#d7ff00,#bbff00,#9fff00,#83ff00,#66ff00,#48ff00,#2aff00,#0bff00,#00ff14,#00ff34,#00ff54,#00ff75,#00ff96,#00ffb8,#00ffda,#00fffd,#00ddff)"></i>
<i style="background:linear-gradient(90deg,#ff5b00,#ff7400,#ff8c00,#ffa600,#ffbf00,#ffda00,#fff400,#eeff00,#d2ff00,#b6ff00,#99ff00,#7cff00,#5eff00,#40ff00,#21ff00,#01ff00,#00ff1f,#00ff3f,#00ff60,#00ff82,#00ffa4,#00ffc6,#00ffe9,#00f1ff,#00cdff)"></i>
<i style="background:linear-gradient(90deg,#ff5a00,#ff7300,#ff8d00,#ffa700,#ffc100,#ffdc00,#fff800,#eaff00,#ceff00,#b0ff00,#93ff00,#75ff00,#56ff00,#37ff00,#17ff00,#00ff09,#00ff2a,#00ff4b,#00ff6d,#00ff8f,#00ffb2,#00ffd5,#00fff9,#00e1ff,#00bcff)"></i>
<i style="background:linear-gradient(90deg,#ff5a00,#ff7300,#ff8e00,#ffa800,#ffc400,#ffdf00,#fffc00,#e6ff00,#c8ff00,#abff00,#8cff00,#6dff00,#4eff00,#2eff00,#0eff00,#00ff13,#00ff35,#00ff57,#00ff79,#00ff9c,#00ffc0,#00ffe4,#00f6ff,#00d1ff,#00abff)"></i>
<i style="background:linear-gradient(90deg,#ff5900,#ff7400,#ff8f00,#ffaa00,#ffc600,#ffe200,#ffff00,#e1ff00,#c3ff00,#a5ff00,#85ff00,#66ff00,#46ff00,#25ff00,#04ff00,#00ff1e,#00ff40,#00ff63,#00ff86,#00ffa9,#00ffce,#00fff2,#00e6ff,#00c0ff,#009aff)"></i>
<i style="background:linear-gradient(90deg,#ff5900,#ff7400,#ff9000,#ffac00,#ffc900,#ffe600,#fbff00,#dcff00,#bdff00,#9eff00,#7eff00,#5eff00,#3dff00,#1cff00,#00ff06,#00ff28,#00ff4b,#00ff6f,#00ff93,#00ffb7,#00ffdc,#00fcff,#00d6ff,#00b0ff,#0089ff)"></i>
<i style="background:linear-gradient(90deg,#ff5900,#ff7500,#ff9100,#ffae00,#ffcb00,#ffe900,#f6ff00,#d7ff00,#b8ff00,#98ff00,#77ff00,#56ff00,#34ff00,#12ff00,#00ff10,#00ff33,#00ff57,#00ff7b,#00ffa0,#00ffc5,#00ffeb,#00edff,#00c6ff,#009fff,#0077ff)"></i>
<i style="background:linear-gradient(90deg,#ff5900,#ff7500,#ff9300,#ffb000,#ffce00,#ffed00,#f2ff00,#d2ff00,#b2ff00,#91ff00,#70ff00,#4eff00,#2cff00,#09ff00,#00ff1b,#00ff3f,#00ff63,#00ff88,#00ffad,#00ffd3,#00fffa,#00ddff,#00b6ff,#008eff,#0065ff)"></i>
<i style="background:linear-gradient(90deg,#ff5900,#ff7700,#ff9400,#ffb300,#ffd200,#fff100,#edff00,#ccff00,#abff00,#8aff00,#68ff00,#45ff00,#22ff00,#00ff01,#00ff25,#00ff4a,#00ff6f,#00ff95,#00ffbb,#00ffe1,#00f5ff,#00ceff,#00a5ff,#007dff,#0053ff)"></i>
<i style="background:linear-gradient(90deg,#ff5a00,#ff7800,#ff9600,#ffb600,#ffd500,#fff500,#e8ff00,#c7ff00,#a5ff00,#83ff00,#60ff00,#3dff00,#19ff00,#00ff0b,#00ff30,#00ff56,#00ff7b,#00ffa2,#00ffc9,#00fff0,#00e6ff,#00beff,#0095ff,#006bff,#0041ff)"></i>
<i style="background:linear-gradient(90deg,#ff5b00,#ff7900,#ff9900,#ffb900,#ffd900,#fffa00,#e3ff00,#c1ff00,#9eff00,#7bff00,#58ff00,#34ff00,#0fff00,#00ff16,#00ff3b,#00ff61,#00ff88,#00ffaf,#00ffd7,#00ffff,#00d6ff,#00adff,#0084ff,#0059ff,#002fff)"></i>
<i style="background:linear-gradient(90deg,#ff5c00,#ff7b00,#ff9b00,#ffbc00,#ffdd00,#ffff00,#ddff00,#bbff00,#97ff00,#74ff00,#4fff00,#2bff00,#05ff00,#00ff20,#00ff47,#00ff6d,#00ff95,#00ffbd,#00ffe5,#00f0ff,#00c7ff,#009dff,#0072ff,#0047ff,#001cff)"></i>
<i style="background:linear-gradient(90deg,#ff5d00,#ff7d00,#ff9e00,#ffbf00,#ffe100,#faff00,#d8ff00,#b4ff00,#90ff00,#6cff00,#47ff00,#21ff00,#00ff05,#00ff2b,#00ff52,#00ff7a,#00ffa2,#00ffca,#00fff3,#00e1ff,#00b7ff,#008cff,#0061ff,#0035ff,#0009ff)"></i>
</div>
<svg width="669" height="350" viewBox="0 0 669 350">
<path d="M200.7 97.1L248.3 156.7L317.7 114.0L267.4 62.0Z" fill="#5e5e5e"/>
<g stroke="#7a7a7a" stroke-width="0.55" fill="none"><path d="M200.7 97.1L191.0 41.3"/><path d="M214.8 89.7L207.5 33.6"/><path d="M228.5 82.5L223.4 26.2"/><path d="M241.8 75.4L238.9 18.9"/><path d="M254.8 68.6L253.9 11.9"/><path d="M267.4 62.0L268.5 5.1"/><path d="M200.7 97.1L267.4 62.0"/><path d="M198.5 84.2L267.6 48.7"/><path d="M197.3 77.7L267.8 42.1"/><path d="M196.2 71.0L267.9 35.2"/><path d="M194.9 64.0L268.0 28.1"/><path d="M193.7 56.7L268.2 20.7"/><path d="M192.3 49.2L268.3 13.0"/><path d="M191.0 41.3L268.5 5.1"/><path d="M267.4 62.0L268.5 5.1"/><path d="M276.8 71.6L279.3 15.2"/><path d="M286.4 81.7L290.5 25.6"/><path d="M296.5 92.1L302.3 36.5"/><path d="M306.9 102.8L314.5 47.9"/><path d="M317.7 114.0L327.3 59.7"/><path d="M267.4 62.0L317.7 114.0"/><path d="M267.6 48.7L319.9 101.5"/><path d="M267.8 42.1L321.0 95.2"/><path d="M267.9 35.2L322.2 88.6"/><path d="M268.0 28.1L323.4 81.8"/><path d="M268.2 20.7L324.6 74.8"/><path d="M268.3 13.0L325.9 67.4"/><path d="M268.5 5.1L327.3 59.7"/></g>
<path d="M270.7 143.0 271.3 141.8 272.0 140.5 272.8 139.3 273.6 138.0 274.4 136.7 275.3 135.5 276.1 134.4 276.9 133.3 277.8 132.2 279.0 130.8 280.0 129.7 280.9 128.8 282.3 127.4 283.3 126.5 284.7 125.2 285.7 124.3 287.3 123.1 288.8 122.0 290.4 120.8 291.5 120.1 293.2 119.1 294.9 118.1 296.0 117.5 297.8 116.6 299.5 115.7 301.3 114.8 302.5 114.3 304.4 113.5 306.1 112.8 307.5 112.3 309.4 111.6 310.6 111.1 312.2 110.6 313.9 110.0 313.9 110.0" fill="none" stroke="#00e0a6" stroke-width="0.9"/>
<path d="M258.7 150.3 259.0 149.3 259.5 147.9 260.0 146.3 260.4 145.3 260.8 144.0 261.4 142.5 261.9 141.2 262.4 140.1 262.9 138.9 263.6 137.5 264.2 136.2 264.9 134.9 265.6 133.6 266.3 132.4 267.0 131.1 267.8 130.0 268.6 128.8 269.4 127.7 270.2 126.6 271.1 125.6 272.3 124.2 273.3 123.1 274.2 122.2 275.7 120.8 276.6 120.0 278.1 118.8 279.7 117.6 280.8 116.8 282.4 115.8 284.0 114.7 285.7 113.8 287.5 112.9 288.7 112.3 290.4 111.4 292.3 110.6 293.5 110.1 295.4 109.4 296.6 108.9 298.5 108.3 299.8 107.8 301.8 107.2 303.1 106.8 304.6 106.4 306.4 105.9 307.8 105.5 309.1 105.1 309.1 105.1" fill="none" stroke="#00e03a" stroke-width="0.9"/>
<path d="M249.5 156.0 249.6 155.0 249.9 153.3 250.1 152.2 250.4 150.6 250.6 149.4 250.9 147.9 251.2 146.6 251.5 145.2 251.8 144.0 252.1 142.4 252.4 141.4 252.8 139.7 253.0 138.8 253.5 137.3 253.8 136.0 254.2 134.9 254.7 133.4 255.1 132.2 255.5 131.1 256.0 129.7 256.6 128.3 257.1 127.2 257.6 126.2 258.2 124.9 258.9 123.7 259.6 122.5 260.3 121.3 261.1 120.2 261.9 119.1 262.7 118.0 264.0 116.6 264.9 115.6 265.9 114.7 267.3 113.4 268.3 112.6 269.9 111.4 271.5 110.4 273.2 109.4 274.9 108.5 276.7 107.6 277.9 107.0 279.7 106.3 281.6 105.6 282.9 105.1 284.6 104.5 286.1 104.1 287.5 103.7 289.5 103.1 290.8 102.7 292.2 102.4 293.7 102.0 295.6 101.6 297.0 101.3 298.4 101.0 299.8 100.7 301.2 100.5 303.0 100.1 304.1 99.9" fill="none" stroke="#2de000" stroke-width="0.9"/>
<path d="M240.7 147.3 240.7 146.1 240.8 144.5 240.9 143.0 240.9 141.8 241.0 140.6 241.0 139.0 241.1 137.5 241.1 136.5 241.2 135.1 241.2 133.6 241.3 132.3 241.3 131.2 241.4 129.8 241.4 128.3 241.4 127.1 241.5 126.0 241.5 124.5 241.6 123.0 241.6 121.9 241.7 120.8 241.7 119.4 241.7 117.9 241.8 116.9 241.8 115.7 241.8 114.3 241.9 112.9 241.9 111.9 241.9 110.8 241.9 109.4 241.9 108.0 241.9 106.8 241.9 105.8 241.8 104.6 241.7 103.3 241.6 102.0 241.4 100.8 241.0 99.6 239.9 98.3 238.6 97.6 237.1 97.3 235.8 97.2 234.4 97.1 232.7 97.1 231.2 97.0 230.0 97.1 228.5 97.1 226.9 97.1 225.2 97.2 223.6 97.2 222.3 97.3 221.0 97.3 219.5 97.4 217.9 97.4 216.2 97.5 214.6 97.6 213.1 97.7 211.8 97.7 210.4 97.8 208.9 97.8 207.3 97.9 205.7 98.0 204.0 98.1 202.4 98.2 201.6 98.2" fill="none" stroke="#a6e000" stroke-width="0.9"/>
<path d="M244.1 74.2 244.1 75.3 244.1 76.2 244.1 77.4 244.0 78.6 244.0 79.7 244.0 80.6 244.0 81.8 244.0 83.0 244.0 84.2 244.0 85.2 244.0 86.2 244.1 87.5 244.2 88.7 244.3 89.9 244.5 91.1 244.9 92.2 246.1 93.5 247.4 94.1 248.9 94.4 250.2 94.6 251.6 94.6 253.3 94.7 254.8 94.7 256.0 94.7 257.4 94.6 259.0 94.6 260.7 94.6 262.3 94.5 263.6 94.5 264.9 94.4 266.3 94.3 267.9 94.3 269.5 94.2 271.1 94.1 272.7 94.1 274.0 94.0 275.3 94.0 276.7 93.9 278.3 93.8 279.9 93.7 281.5 93.7 283.0 93.6 284.4 93.5 285.7 93.5 287.0 93.4 288.6 93.3 290.2 93.2 291.8 93.2 293.3 93.1 294.9 93.0 296.2 92.9 297.3 92.9" fill="none" stroke="#a6e000" stroke-width="0.9"/>
<path d="M228.3 131.7 227.8 130.2 227.4 129.0 227.0 127.8 226.2 126.0 225.7 124.9 224.8 123.2 224.1 122.0 223.2 120.6 222.0 119.2 220.7 117.8 219.8 116.9 218.4 115.6 217.3 114.8 215.7 113.7 214.4 113.0 213.1 112.3 212.7 112.1" fill="none" stroke="#e0af00" stroke-width="0.9"/>
<path d="M257.3 67.3 258.1 68.7 258.6 69.6 259.5 71.0 260.2 71.9 261.2 73.2 262.3 74.4 263.6 75.6 264.5 76.4 266.0 77.5 267.0 78.2 268.7 79.2 269.9 79.8 271.2 80.4 272.5 81.0 273.9 81.5 275.3 82.0 276.6 82.4 277.7 82.7 279.2 83.1 280.9 83.5 281.9 83.7 283.5 84.0 284.9 84.3 286.2 84.5 287.7 84.7 289.0 84.9 289.6 85.0" fill="none" stroke="#e0af00" stroke-width="0.9"/>
<path d="M266.5 62.4 267.6 63.7 268.3 64.5 269.4 65.7 270.6 66.9 271.5 67.7 272.8 68.8 274.2 69.9 275.2 70.6 276.5 71.4 276.5 71.4" fill="none" stroke="#e04300" stroke-width="0.9"/>
<g stroke="#1a1a1a" stroke-opacity="0.48" stroke-width="0.4" stroke-linejoin="round"><path d="M254.0 19.9L256.6 22.0L260.2 18.7L257.6 16.5Z" fill="#ffc975"/><path d="M257.6 16.5L260.2 18.7L263.9 15.2L261.2 13.0Z" fill="#ffb97e"/><path d="M250.4 23.0L253.0 25.1L256.6 22.0L254.0 19.9Z" fill="#ffd86d"/><path d="M261.2 13.0L263.9 15.2L267.5 11.6L264.8 9.3Z" fill="#ffab87"/><path d="M246.8 26.1L249.4 28.1L253.0 25.1L250.4 23.0Z" fill="#ffe864"/><path d="M264.8 9.3L267.5 11.6L271.1 7.8L268.5 5.5Z" fill="#ff9e8f"/><path d="M243.2 29.0L245.7 31.0L249.4 28.1L246.8 26.1Z" fill="#fff85c"/><path d="M239.6 31.7L242.1 33.7L245.7 31.0L243.2 29.0Z" fill="#f7ff54"/><path d="M235.9 34.3L238.4 36.2L242.1 33.7L239.6 31.7Z" fill="#e9ff4d"/><path d="M256.6 22.0L259.2 24.3L262.9 21.1L260.2 18.7Z" fill="#ffc473"/><path d="M260.2 18.7L262.9 21.1L266.5 17.7L263.9 15.2Z" fill="#ffb57b"/><path d="M253.0 25.1L255.6 27.4L259.2 24.3L256.6 22.0Z" fill="#ffd36b"/><path d="M263.9 15.2L266.5 17.7L270.2 14.1L267.5 11.6Z" fill="#ffa682"/><path d="M249.4 28.1L251.9 30.3L255.6 27.4L253.0 25.1Z" fill="#ffe263"/><path d="M267.5 11.6L270.2 14.1L273.8 10.4L271.1 7.8Z" fill="#ff9687"/><path d="M232.3 36.8L234.7 38.6L238.4 36.2L235.9 34.3Z" fill="#dcff45"/><path d="M245.7 31.0L248.3 33.1L251.9 30.3L249.4 28.1Z" fill="#fff15b"/><path d="M228.5 39.1L231.0 40.9L234.7 38.6L232.3 36.8Z" fill="#d1ff3e"/><path d="M242.1 33.7L244.6 35.8L248.3 33.1L245.7 31.0Z" fill="#ffff53"/><path d="M262.9 21.1L265.5 23.7L269.2 20.3L266.5 17.7Z" fill="#ffb275"/><path d="M259.2 24.3L261.9 26.9L265.5 23.7L262.9 21.1Z" fill="#ffc16e"/><path d="M266.5 17.7L269.2 20.3L272.8 16.8L270.2 14.1Z" fill="#ffa27b"/><path d="M238.4 36.2L240.9 38.3L244.6 35.8L242.1 33.7Z" fill="#f3ff4c"/><path d="M255.6 27.4L258.2 29.9L261.9 26.9L259.2 24.3Z" fill="#ffd067"/><path d="M270.2 14.1L272.8 16.8L276.5 13.2L273.8 10.4Z" fill="#ff907e"/><path d="M224.8 41.3L227.2 43.0L231.0 40.9L228.5 39.1Z" fill="#c8ff37"/><path d="M251.9 30.3L254.6 32.8L258.2 29.9L255.6 27.4Z" fill="#ffde60"/><path d="M234.7 38.6L237.2 40.7L240.9 38.3L238.4 36.2Z" fill="#e7ff44"/><path d="M248.3 33.1L250.9 35.5L254.6 32.8L251.9 30.3Z" fill="#ffec58"/><path d="M265.5 23.7L268.2 26.5L271.9 23.2L269.2 20.3Z" fill="#ffb06e"/><path d="M269.2 20.3L271.9 23.2L275.6 19.8L272.8 16.8Z" fill="#ff9f73"/><path d="M244.6 35.8L247.2 38.1L250.9 35.5L248.3 33.1Z" fill="#fff951"/><path d="M221.0 43.4L223.4 45.1L227.2 43.0L224.8 41.3Z" fill="#c2ff31"/><path d="M261.9 26.9L264.5 29.6L268.2 26.5L265.5 23.7Z" fill="#ffc069"/><path d="M272.8 16.8L275.6 19.8L279.2 16.2L276.5 13.2Z" fill="#ff8c75"/><path d="M231.0 40.9L233.4 42.9L237.2 40.7L234.7 38.6Z" fill="#deff3e"/><path d="M258.2 29.9L260.9 32.6L264.5 29.6L261.9 26.9Z" fill="#ffcf63"/><path d="M240.9 38.3L243.5 40.6L247.2 38.1L244.6 35.8Z" fill="#faff4a"/><path d="M254.6 32.8L257.2 35.5L260.9 32.6L258.2 29.9Z" fill="#ffdd5c"/><path d="M250.9 35.5L253.5 38.1L257.2 35.5L254.6 32.8Z" fill="#ffea55"/><path d="M217.2 45.3L219.6 46.9L223.4 45.1L221.0 43.4Z" fill="#beff2b"/><path d="M271.9 23.2L274.6 26.3L278.3 23.0L275.6 19.8Z" fill="#ff9f6b"/><path d="M227.2 43.0L229.6 45.0L233.4 42.9L231.0 40.9Z" fill="#d7ff37"/><path d="M268.2 26.5L270.9 29.6L274.6 26.3L271.9 23.2Z" fill="#ffb167"/><path d="M275.6 19.8L278.3 23.0L282.0 19.4L279.2 16.2Z" fill="#ff8b6d"/><path d="M237.2 40.7L239.7 42.9L243.5 40.6L240.9 38.3Z" fill="#f0ff43"/><path d="M315.7 87.8L318.2 93.7L321.7 91.1L319.3 85.2Z" fill="#14ffd9"/><path d="M264.5 29.6L267.2 32.6L270.9 29.6L268.2 26.5Z" fill="#ffc163"/><path d="M247.2 38.1L249.8 40.7L253.5 38.1L250.9 35.5Z" fill="#fff64e"/><path d="M260.9 32.6L263.6 35.6L267.2 32.6L264.5 29.6Z" fill="#ffd05d"/><path d="M257.2 35.5L259.9 38.3L263.6 35.6L260.9 32.6Z" fill="#ffde57"/><path d="M312.2 90.3L314.7 96.1L318.2 93.7L315.7 87.8Z" fill="#14ffe5"/><path d="M223.4 45.1L225.8 46.9L229.6 45.0L227.2 43.0Z" fill="#d2ff31"/><path d="M233.4 42.9L235.9 45.1L239.7 42.9L237.2 40.7Z" fill="#e8ff3c"/><path d="M274.6 26.3L277.3 29.7L281.0 26.3L278.3 23.0Z" fill="#ffa263"/><path d="M278.3 23.0L281.0 26.3L284.7 22.9L282.0 19.4Z" fill="#ff8e64"/><path d="M213.4 47.1L215.7 48.7L219.6 46.9L217.2 45.3Z" fill="#bdff26"/><path d="M270.9 29.6L273.6 32.8L277.3 29.7L274.6 26.3Z" fill="#ffb560"/><path d="M243.5 40.6L246.1 43.1L249.8 40.7L247.2 38.1Z" fill="#feff48"/><path d="M313.2 82.1L315.7 87.8L319.3 85.2L316.8 79.4Z" fill="#15ff95"/><path d="M267.2 32.6L269.9 35.8L273.6 32.8L270.9 29.6Z" fill="#ffc55c"/><path d="M253.5 38.1L256.1 41.0L259.9 38.3L257.2 35.5Z" fill="#ffeb51"/><path d="M263.6 35.6L266.2 38.7L269.9 35.8L267.2 32.6Z" fill="#ffd457"/><path d="M308.6 92.8L311.1 98.5L314.7 96.1L312.2 90.3Z" fill="#14ffee"/><path d="M309.6 84.7L312.2 90.3L315.7 87.8L313.2 82.1Z" fill="#15ffa2"/><path d="M281.0 26.3L283.8 29.9L287.5 26.5L284.7 22.9Z" fill="#ff945c"/><path d="M239.7 42.9L242.3 45.4L246.1 43.1L243.5 40.6Z" fill="#f5ff41"/><path d="M277.3 29.7L280.1 33.2L283.8 29.9L281.0 26.3Z" fill="#ffa95b"/><path d="M249.8 40.7L252.4 43.5L256.1 41.0L253.5 38.1Z" fill="#fff64b"/><path d="M310.6 76.5L313.2 82.1L316.8 79.4L314.3 73.8Z" fill="#18ff57"/><path d="M229.6 45.0L232.1 47.1L235.9 45.1L233.4 42.9Z" fill="#e2ff36"/><path d="M273.6 32.8L276.4 36.3L280.1 33.2L277.3 29.7Z" fill="#ffbc58"/><path d="M259.9 38.3L262.5 41.4L266.2 38.7L263.6 35.6Z" fill="#ffe252"/><path d="M219.6 46.9L222.0 48.8L225.8 46.9L223.4 45.1Z" fill="#d0ff2b"/><path d="M269.9 35.8L272.7 39.2L276.4 36.3L273.6 32.8Z" fill="#ffcd55"/><path d="M209.4 48.7L211.7 50.3L215.7 48.7L213.4 47.1Z" fill="#bfff20"/><path d="M307.0 79.2L309.6 84.7L313.2 82.1L310.6 76.5Z" fill="#18ff66"/><path d="M306.0 87.1L308.6 92.8L312.2 90.3L309.6 84.7Z" fill="#15ffad"/><path d="M283.8 29.9L286.5 33.7L290.2 30.4L287.5 26.5Z" fill="#ff9f54"/><path d="M256.1 41.0L258.8 44.0L262.5 41.4L259.9 38.3Z" fill="#ffee4d"/><path d="M308.0 71.1L310.6 76.5L314.3 73.8L311.7 68.3Z" fill="#1cff1f"/><path d="M246.1 43.1L248.7 45.8L252.4 43.5L249.8 40.7Z" fill="#ffff44"/><path d="M305.0 95.0L307.6 100.7L311.1 98.5L308.6 92.8Z" fill="#14fff4"/><path d="M280.1 33.2L282.8 36.9L286.5 33.7L283.8 29.9Z" fill="#ffb453"/><path d="M266.2 38.7L269.0 42.1L272.7 39.2L269.9 35.8Z" fill="#ffdc51"/><path d="M235.9 45.1L238.5 47.5L242.3 45.4L239.7 42.9Z" fill="#efff3a"/><path d="M276.4 36.3L279.1 40.0L282.8 36.9L280.1 33.2Z" fill="#ffc751"/><path d="M225.8 46.9L228.3 49.0L232.1 47.1L229.6 45.0Z" fill="#dfff30"/><path d="M286.5 33.7L289.2 37.7L292.9 34.5L290.2 30.4Z" fill="#ffae4d"/><path d="M262.5 41.4L265.2 44.7L269.0 42.1L266.2 38.7Z" fill="#ffe94d"/><path d="M272.7 39.2L275.4 42.9L279.1 40.0L276.4 36.3Z" fill="#ffd84e"/><path d="M305.4 65.8L308.0 71.1L311.7 68.3L309.1 62.9Z" fill="#53ff20"/><path d="M304.4 73.8L307.0 79.2L310.6 76.5L308.0 71.1Z" fill="#1cff2f"/><path d="M252.4 43.5L255.1 46.4L258.8 44.0L256.1 41.0Z" fill="#fff847"/><path d="M282.8 36.9L285.5 40.9L289.2 37.7L286.5 33.7Z" fill="#ffc34c"/><path d="M303.4 81.7L306.0 87.1L309.6 84.7L307.0 79.2Z" fill="#17ff71"/><path d="M215.7 48.7L218.0 50.5L222.0 48.8L219.6 46.9Z" fill="#d1ff25"/><path d="M302.4 89.5L305.0 95.0L308.6 92.8L306.0 87.1Z" fill="#15ffb4"/><path d="M242.3 45.4L244.9 48.0L248.7 45.8L246.1 43.1Z" fill="#f7ff3e"/><path d="M279.1 40.0L281.8 43.9L285.5 40.9L282.8 36.9Z" fill="#ffd64a"/><path d="M289.2 37.7L292.0 41.9L295.7 38.7L292.9 34.5Z" fill="#ffc245"/><path d="M269.0 42.1L271.7 45.6L275.4 42.9L272.7 39.2Z" fill="#ffe74b"/><path d="M302.8 60.7L305.4 65.8L309.1 62.9L306.4 57.7Z" fill="#88ff26"/><path d="M301.8 68.6L304.4 73.8L308.0 71.1L305.4 65.8Z" fill="#41ff20"/><path d="M301.5 97.2L304.0 102.9L307.6 100.7L305.0 95.0Z" fill="#14fff7"/><path d="M285.5 40.9L288.3 45.0L292.0 41.9L289.2 37.7Z" fill="#ffd744"/><path d="M258.8 44.0L261.5 47.3L265.2 44.7L262.5 41.4Z" fill="#fff548"/><path d="M232.1 47.1L234.7 49.5L238.5 47.5L235.9 45.1Z" fill="#eaff34"/><path d="M205.5 50.3L207.7 51.7L211.7 50.3L209.4 48.7Z" fill="#c4ff1c"/><path d="M292.0 41.9L294.7 46.3L298.4 43.2L295.7 38.7Z" fill="#ffdb3e"/><path d="M300.1 55.7L302.8 60.7L306.4 57.7L303.8 52.7Z" fill="#b7ff2b"/><path d="M300.8 76.3L303.4 81.7L307.0 79.2L304.4 73.8Z" fill="#1bff3c"/><path d="M275.4 42.9L278.1 46.7L281.8 43.9L279.1 40.0Z" fill="#ffe748"/><path d="M294.7 46.3L297.4 50.9L301.1 47.9L298.4 43.2Z" fill="#fffa37"/><path d="M297.4 50.9L300.1 55.7L303.8 52.7L301.1 47.9Z" fill="#e0ff31"/><path d="M248.7 45.8L251.3 48.8L255.1 46.4L252.4 43.5Z" fill="#fdff41"/><path d="M299.1 63.5L301.8 68.6L305.4 65.8L302.8 60.7Z" fill="#75ff25"/><path d="M281.8 43.9L284.6 47.9L288.3 45.0L285.5 40.9Z" fill="#ffea43"/><path d="M288.3 45.0L291.0 49.4L294.7 46.3L292.0 41.9Z" fill="#fff03e"/><path d="M299.8 84.1L302.4 89.5L306.0 87.1L303.4 81.7Z" fill="#17ff7a"/><path d="M265.2 44.7L268.0 48.2L271.7 45.6L269.0 42.1Z" fill="#fff447"/><path d="M222.0 48.8L224.4 50.8L228.3 49.0L225.8 46.9Z" fill="#dfff2a"/><path d="M296.4 58.6L299.1 63.5L302.8 60.7L300.1 55.7Z" fill="#a4ff2b"/><path d="M291.0 49.4L293.7 53.9L297.4 50.9L294.7 46.3Z" fill="#f0ff37"/><path d="M298.1 71.2L300.8 76.3L304.4 73.8L301.8 68.6Z" fill="#33ff20"/><path d="M293.7 53.9L296.4 58.6L300.1 55.7L297.4 50.9Z" fill="#ccff31"/><path d="M271.7 45.6L274.4 49.4L278.1 46.7L275.4 42.9Z" fill="#fff644"/><path d="M238.5 47.5L241.1 50.1L244.9 48.0L242.3 45.4Z" fill="#f2ff38"/><path d="M284.6 47.9L287.3 52.2L291.0 49.4L288.3 45.0Z" fill="#fbff3c"/><path d="M298.8 91.7L301.5 97.2L305.0 95.0L302.4 89.5Z" fill="#14ffb9"/><path d="M278.1 46.7L280.9 50.7L284.6 47.9L281.8 43.9Z" fill="#fffb41"/><path d="M255.1 46.4L257.8 49.6L261.5 47.3L258.8 44.0Z" fill="#ffff42"/><path d="M295.4 66.2L298.1 71.2L301.8 68.6L299.1 63.5Z" fill="#65ff24"/><path d="M297.2 78.8L299.8 84.1L303.4 81.7L300.8 76.3Z" fill="#1aff45"/><path d="M287.3 52.2L290.0 56.7L293.7 53.9L291.0 49.4Z" fill="#deff36"/><path d="M211.7 50.3L214.1 52.0L218.0 50.5L215.7 48.7Z" fill="#d5ff20"/><path d="M292.7 61.3L295.4 66.2L299.1 63.5L296.4 58.6Z" fill="#93ff2a"/><path d="M261.5 47.3L264.2 50.7L268.0 48.2L265.2 44.7Z" fill="#ffff42"/><path d="M290.0 56.7L292.7 61.3L296.4 58.6L293.7 53.9Z" fill="#bbff30"/><path d="M297.9 99.3L300.5 104.9L304.0 102.9L301.5 97.2Z" fill="#14fff7"/><path d="M228.3 49.0L230.8 51.4L234.7 49.5L232.1 47.1Z" fill="#e9ff2e"/><path d="M280.9 50.7L283.6 54.9L287.3 52.2L284.6 47.9Z" fill="#ebff3a"/><path d="M244.9 48.0L247.5 50.9L251.3 48.8L248.7 45.8Z" fill="#f7ff3b"/><path d="M268.0 48.2L270.7 51.9L274.4 49.4L271.7 45.6Z" fill="#fcff41"/><path d="M274.4 49.4L277.2 53.4L280.9 50.7L278.1 46.7Z" fill="#f5ff3e"/><path d="M294.5 73.7L297.2 78.8L300.8 76.3L298.1 71.2Z" fill="#26ff1f"/><path d="M296.2 86.3L298.8 91.7L302.4 89.5L299.8 84.1Z" fill="#16ff7f"/><path d="M283.6 54.9L286.3 59.4L290.0 56.7L287.3 52.2Z" fill="#ceff34"/><path d="M291.8 68.7L294.5 73.7L298.1 71.2L295.4 66.2Z" fill="#58ff23"/><path d="M251.3 48.8L254.0 51.9L257.8 49.6L255.1 46.4Z" fill="#f8ff3d"/><path d="M201.4 51.6L203.7 53.1L207.7 51.7L205.5 50.3Z" fill="#ceff18"/><path d="M286.3 59.4L289.1 63.9L292.7 61.3L290.0 56.7Z" fill="#acff2e"/><path d="M289.1 63.9L291.8 68.7L295.4 66.2L292.7 61.3Z" fill="#85ff29"/><path d="M234.7 49.5L237.3 52.1L241.1 50.1L238.5 47.5Z" fill="#efff32"/><path d="M277.2 53.4L279.9 57.5L283.6 54.9L280.9 50.7Z" fill="#ddff38"/><path d="M218.0 50.5L220.5 52.5L224.4 50.8L222.0 48.8Z" fill="#e1ff24"/><path d="M257.8 49.6L260.5 53.0L264.2 50.7L261.5 47.3Z" fill="#f6ff3e"/><path d="M293.5 81.1L296.2 86.3L299.8 84.1L297.2 78.8Z" fill="#1aff4c"/><path d="M295.2 93.8L297.9 99.3L301.5 97.2L298.8 91.7Z" fill="#14ffba"/><path d="M270.7 51.9L273.4 55.9L277.2 53.4L274.4 49.4Z" fill="#e9ff3b"/><path d="M264.2 50.7L267.0 54.4L270.7 51.9L268.0 48.2Z" fill="#f1ff3d"/><path d="M279.9 57.5L282.7 61.9L286.3 59.4L283.6 54.9Z" fill="#c1ff32"/><path d="M290.8 76.0L293.5 81.1L297.2 78.8L294.5 73.7Z" fill="#1eff1e"/><path d="M241.1 50.1L243.7 53.0L247.5 50.9L244.9 48.0Z" fill="#f2ff35"/><path d="M282.7 61.9L285.4 66.4L289.1 63.9L286.3 59.4Z" fill="#a0ff2c"/><path d="M288.1 71.1L290.8 76.0L294.5 73.7L291.8 68.7Z" fill="#4eff22"/><path d="M292.6 88.5L295.2 93.8L298.8 91.7L296.2 86.3Z" fill="#16ff82"/><path d="M224.4 50.8L226.9 53.1L230.8 51.4L228.3 49.0Z" fill="#eaff29"/><path d="M285.4 66.4L288.1 71.1L291.8 68.7L289.1 63.9Z" fill="#79ff27"/><path d="M294.3 101.2L296.9 106.8L300.5 104.9L297.9 99.3Z" fill="#14fff3"/><path d="M207.7 51.7L210.0 53.4L214.1 52.0L211.7 50.3Z" fill="#dcff1c"/><path d="M273.4 55.9L276.2 60.0L279.9 57.5L277.2 53.4Z" fill="#d2ff35"/><path d="M247.5 50.9L250.2 54.0L254.0 51.9L251.3 48.8Z" fill="#f2ff37"/><path d="M267.0 54.4L269.7 58.2L273.4 55.9L270.7 51.9Z" fill="#dfff37"/><path d="M254.0 51.9L256.7 55.2L260.5 53.0L257.8 49.6Z" fill="#efff39"/><path d="M260.5 53.0L263.2 56.7L267.0 54.4L264.2 50.7Z" fill="#e9ff39"/><path d="M289.9 83.3L292.6 88.5L296.2 86.3L293.5 81.1Z" fill="#18ff4f"/><path d="M276.2 60.0L278.9 64.3L282.7 61.9L279.9 57.5Z" fill="#b6ff30"/><path d="M230.8 51.4L233.4 53.9L237.3 52.1L234.7 49.5Z" fill="#efff2c"/><path d="M291.6 95.8L294.3 101.2L297.9 99.3L295.2 93.8Z" fill="#14ffb8"/><path d="M287.2 78.3L289.9 83.3L293.5 81.1L290.8 76.0Z" fill="#1cff22"/><path d="M278.9 64.3L281.7 68.8L285.4 66.4L282.7 61.9Z" fill="#96ff2a"/><path d="M214.1 52.0L216.5 54.0L220.5 52.5L218.0 50.5Z" fill="#e7ff20"/><path d="M197.3 52.9L199.5 54.3L203.7 53.1L201.4 51.6Z" fill="#daff15"/><path d="M284.4 73.4L287.2 78.3L290.8 76.0L288.1 71.1Z" fill="#46ff20"/><path d="M269.7 58.2L272.5 62.3L276.2 60.0L273.4 55.9Z" fill="#c9ff32"/><path d="M281.7 68.8L284.4 73.4L288.1 71.1L285.4 66.4Z" fill="#70ff25"/><path d="M237.3 52.1L239.9 54.8L243.7 53.0L241.1 50.1Z" fill="#f1ff30"/><path d="M263.2 56.7L266.0 60.5L269.7 58.2L267.0 54.4Z" fill="#d7ff34"/><path d="M243.7 53.0L246.4 56.0L250.2 54.0L247.5 50.9Z" fill="#efff32"/><path d="M288.9 90.5L291.6 95.8L295.2 93.8L292.6 88.5Z" fill="#15ff81"/><path d="M256.7 55.2L259.5 58.8L263.2 56.7L260.5 53.0Z" fill="#e3ff34"/><path d="M250.2 54.0L252.9 57.3L256.7 55.2L254.0 51.9Z" fill="#ebff34"/><path d="M272.5 62.3L275.2 66.5L278.9 64.3L276.2 60.0Z" fill="#aeff2d"/><path d="M220.5 52.5L222.9 54.7L226.9 53.1L224.4 50.8Z" fill="#efff23"/><path d="M290.7 103.1L293.3 108.6L296.9 106.8L294.3 101.2Z" fill="#14ffed"/><path d="M286.2 85.4L288.9 90.5L292.6 88.5L289.9 83.3Z" fill="#17ff4f"/><path d="M203.7 53.1L205.9 54.7L210.0 53.4L207.7 51.7Z" fill="#e7ff18"/><path d="M275.2 66.5L278.0 71.0L281.7 68.8L278.9 64.3Z" fill="#8eff28"/><path d="M283.5 80.4L286.2 85.4L289.9 83.3L287.2 78.3Z" fill="#1bff23"/><path d="M266.0 60.5L268.7 64.5L272.5 62.3L269.7 58.2Z" fill="#c2ff2f"/><path d="M226.9 53.1L229.5 55.6L233.4 53.9L230.8 51.4Z" fill="#f2ff27"/><path d="M278.0 71.0L280.7 75.6L284.4 73.4L281.7 68.8Z" fill="#6aff23"/><path d="M280.7 75.6L283.5 80.4L287.2 78.3L284.4 73.4Z" fill="#40ff1f"/><path d="M288.0 97.7L290.7 103.1L294.3 101.2L291.6 95.8Z" fill="#14ffb3"/><path d="M259.5 58.8L262.2 62.6L266.0 60.5L263.2 56.7Z" fill="#d2ff30"/><path d="M233.4 53.9L236.0 56.6L239.9 54.8L237.3 52.1Z" fill="#f2ff2a"/><path d="M210.0 53.4L212.4 55.3L216.5 54.0L214.1 52.0Z" fill="#f1ff1b"/><path d="M268.7 64.5L271.5 68.7L275.2 66.5L272.5 62.3Z" fill="#a8ff2a"/><path d="M252.9 57.3L255.6 60.8L259.5 58.8L256.7 55.2Z" fill="#dfff30"/><path d="M239.9 54.8L242.5 57.8L246.4 56.0L243.7 53.0Z" fill="#efff2d"/><path d="M246.4 56.0L249.1 59.3L252.9 57.3L250.2 54.0Z" fill="#e9ff2f"/><path d="M285.2 92.4L288.0 97.7L291.6 95.8L288.9 90.5Z" fill="#14ff7d"/><path d="M193.2 54.0L195.3 55.3L199.5 54.3L197.3 52.9Z" fill="#ebff14"/><path d="M271.5 68.7L274.2 73.1L278.0 71.0L275.2 66.5Z" fill="#89ff25"/><path d="M282.5 87.3L285.2 92.4L288.9 90.5L286.2 85.4Z" fill="#16ff4c"/><path d="M216.5 54.0L218.9 56.1L222.9 54.7L220.5 52.5Z" fill="#f6ff1f"/><path d="M262.2 62.6L265.0 66.5L268.7 64.5L266.0 60.5Z" fill="#beff2b"/><path d="M274.2 73.1L277.0 77.7L280.7 75.6L278.0 71.0Z" fill="#66ff21"/><path d="M287.0 104.8L289.7 110.3L293.3 108.6L290.7 103.1Z" fill="#14ffe3"/><path d="M279.8 82.4L282.5 87.3L286.2 85.4L283.5 80.4Z" fill="#19ff21"/><path d="M277.0 77.7L279.8 82.4L283.5 80.4L280.7 75.6Z" fill="#3eff1d"/><path d="M222.9 54.7L225.5 57.1L229.5 55.6L226.9 53.1Z" fill="#f8ff22"/><path d="M255.6 60.8L258.4 64.5L262.2 62.6L259.5 58.8Z" fill="#d0ff2c"/><path d="M199.5 54.3L201.8 55.9L205.9 54.7L203.7 53.1Z" fill="#f6ff15"/><path d="M265.0 66.5L267.7 70.7L271.5 68.7L268.7 64.5Z" fill="#a5ff27"/><path d="M284.3 99.4L287.0 104.8L290.7 103.1L288.0 97.7Z" fill="#14ffab"/><path d="M229.5 55.6L232.0 58.2L236.0 56.6L233.4 53.9Z" fill="#f7ff25"/><path d="M249.1 59.3L251.8 62.7L255.6 60.8L252.9 57.3Z" fill="#deff2b"/><path d="M236.0 56.6L238.6 59.6L242.5 57.8L239.9 54.8Z" fill="#f2ff28"/><path d="M242.5 57.8L245.2 61.1L249.1 59.3L246.4 56.0Z" fill="#eaff2a"/><path d="M267.7 70.7L270.5 75.0L274.2 73.1L271.5 68.7Z" fill="#87ff22"/><path d="M281.6 94.2L284.3 99.4L288.0 97.7L285.2 92.4Z" fill="#14ff76"/><path d="M205.9 54.7L208.3 56.6L212.4 55.3L210.0 53.4Z" fill="#fdff17"/><path d="M258.4 64.5L261.2 68.5L265.0 66.5L262.2 62.6Z" fill="#bcff27"/><path d="M270.5 75.0L273.3 79.6L277.0 77.7L274.2 73.1Z" fill="#65ff1e"/><path d="M278.8 89.2L281.6 94.2L285.2 92.4L282.5 87.3Z" fill="#15ff46"/><path d="M273.3 79.6L276.0 84.3L279.8 82.4L277.0 77.7Z" fill="#3fff1b"/><path d="M276.0 84.3L278.8 89.2L282.5 87.3L279.8 82.4Z" fill="#17ff1c"/><path d="M212.4 55.3L214.9 57.5L218.9 56.1L216.5 54.0Z" fill="#fffd1a"/><path d="M251.8 62.7L254.6 66.4L258.4 64.5L255.6 60.8Z" fill="#d0ff27"/><path d="M283.3 106.4L286.1 111.8L289.7 110.3L287.0 104.8Z" fill="#14ffd6"/><path d="M261.2 68.5L263.9 72.6L267.7 70.7L265.0 66.5Z" fill="#a4ff23"/><path d="M218.9 56.1L221.4 58.5L225.5 57.1L222.9 54.7Z" fill="#fffd1e"/><path d="M245.2 61.1L247.9 64.5L251.8 62.7L249.1 59.3Z" fill="#e0ff27"/><path d="M225.5 57.1L228.0 59.7L232.0 58.2L229.5 55.6Z" fill="#feff20"/><path d="M238.6 59.6L241.3 62.7L245.2 61.1L242.5 57.8Z" fill="#eeff25"/><path d="M232.0 58.2L234.7 61.1L238.6 59.6L236.0 56.6Z" fill="#f7ff23"/><path d="M280.6 101.1L283.3 106.4L287.0 104.8L284.3 99.4Z" fill="#14ff9f"/><path d="M263.9 72.6L266.7 76.9L270.5 75.0L267.7 70.7Z" fill="#88ff20"/><path d="M195.3 55.3L197.5 56.9L201.8 55.9L199.5 54.3Z" fill="#fff614"/><path d="M254.6 66.4L257.3 70.3L261.2 68.5L258.4 64.5Z" fill="#beff24"/><path d="M277.8 95.9L280.6 101.1L284.3 99.4L281.6 94.2Z" fill="#14ff6c"/><path d="M266.7 76.9L269.5 81.4L273.3 79.6L270.5 75.0Z" fill="#67ff1c"/><path d="M275.1 90.9L277.8 95.9L281.6 94.2L278.8 89.2Z" fill="#14ff3d"/><path d="M269.5 81.4L272.3 86.0L276.0 84.3L273.3 79.6Z" fill="#42ff19"/><path d="M201.8 55.9L204.1 57.7L208.3 56.6L205.9 54.7Z" fill="#fff015"/><path d="M272.3 86.0L275.1 90.9L278.8 89.2L276.0 84.3Z" fill="#19ff16"/><path d="M247.9 64.5L250.7 68.1L254.6 66.4L251.8 62.7Z" fill="#d3ff23"/><path d="M257.3 70.3L260.1 74.3L263.9 72.6L261.2 68.5Z" fill="#a7ff20"/><path d="M208.3 56.6L210.7 58.6L214.9 57.5L212.4 55.3Z" fill="#ffee17"/><path d="M241.3 62.7L244.0 66.1L247.9 64.5L245.2 61.1Z" fill="#e6ff22"/><path d="M279.6 107.9L282.4 113.3L286.1 111.8L283.3 106.4Z" fill="#14ffc6"/><path d="M214.9 57.5L217.3 59.8L221.4 58.5L218.9 56.1Z" fill="#fff01a"/><path d="M234.7 61.1L237.3 64.3L241.3 62.7L238.6 59.6Z" fill="#f5ff21"/><path d="M260.1 74.3L262.9 78.6L266.7 76.9L263.9 72.6Z" fill="#8cff1d"/><path d="M221.4 58.5L224.0 61.1L228.0 59.7L225.5 57.1Z" fill="#fff51c"/><path d="M228.0 59.7L230.7 62.6L234.7 61.1L232.0 58.2Z" fill="#fffe1f"/><path d="M250.7 68.1L253.4 71.9L257.3 70.3L254.6 66.4Z" fill="#c2ff20"/><path d="M276.9 102.6L279.6 107.9L283.3 106.4L280.6 101.1Z" fill="#14ff91"/><path d="M262.9 78.6L265.7 83.0L269.5 81.4L266.7 76.9Z" fill="#6dff1a"/><path d="M274.1 97.4L276.9 102.6L280.6 101.1L277.8 95.9Z" fill="#14ff5f"/><path d="M265.7 83.0L268.5 87.7L272.3 86.0L269.5 81.4Z" fill="#49ff17"/><path d="M271.3 92.5L274.1 97.4L277.8 95.9L275.1 90.9Z" fill="#14ff31"/><path d="M244.0 66.1L246.8 69.7L250.7 68.1L247.9 64.5Z" fill="#daff20"/><path d="M268.5 87.7L271.3 92.5L275.1 90.9L272.3 86.0Z" fill="#22ff15"/><path d="M253.4 71.9L256.2 75.9L260.1 74.3L257.3 70.3Z" fill="#adff1d"/><path d="M197.5 56.9L199.8 58.6L204.1 57.7L201.8 55.9Z" fill="#ffdd14"/><path d="M237.3 64.3L240.1 67.6L244.0 66.1L241.3 62.7Z" fill="#eeff1e"/><path d="M204.1 57.7L206.5 59.7L210.7 58.6L208.3 56.6Z" fill="#ffdc15"/><path d="M256.2 75.9L259.0 80.2L262.9 78.6L260.1 74.3Z" fill="#94ff1a"/><path d="M230.7 62.6L233.3 65.7L237.3 64.3L234.7 61.1Z" fill="#ffff1d"/><path d="M210.7 58.6L213.2 60.9L217.3 59.8L214.9 57.5Z" fill="#ffe016"/><path d="M246.8 69.7L249.5 73.5L253.4 71.9L250.7 68.1Z" fill="#caff1d"/><path d="M224.0 61.1L226.6 63.9L230.7 62.6L228.0 59.7Z" fill="#fff11b"/><path d="M275.9 109.3L278.7 114.7L282.4 113.3L279.6 107.9Z" fill="#14ffb3"/><path d="M217.3 59.8L219.9 62.3L224.0 61.1L221.4 58.5Z" fill="#ffe718"/><path d="M259.0 80.2L261.8 84.6L265.7 83.0L262.9 78.6Z" fill="#76ff17"/><path d="M273.1 104.0L275.9 109.3L279.6 107.9L276.9 102.6Z" fill="#14ff7f"/><path d="M261.8 84.6L264.6 89.2L268.5 87.7L265.7 83.0Z" fill="#54ff15"/><path d="M240.1 67.6L242.8 71.1L246.8 69.7L244.0 66.1Z" fill="#e4ff1c"/><path d="M270.3 98.9L273.1 104.0L276.9 102.6L274.1 97.4Z" fill="#14ff4f"/><path d="M264.6 89.2L267.5 93.9L271.3 92.5L268.5 87.7Z" fill="#2fff14"/><path d="M267.5 93.9L270.3 98.9L274.1 97.4L271.3 92.5Z" fill="#14ff23"/><path d="M249.5 73.5L252.3 77.4L256.2 75.9L253.4 71.9Z" fill="#b6ff1a"/><path d="M233.3 65.7L236.0 69.0L240.1 67.6L237.3 64.3Z" fill="#faff1b"/><path d="M252.3 77.4L255.1 81.6L259.0 80.2L256.2 75.9Z" fill="#9eff17"/><path d="M226.6 63.9L229.3 66.9L233.3 65.7L230.7 62.6Z" fill="#fff119"/><path d="M242.8 71.1L245.6 74.9L249.5 73.5L246.8 69.7Z" fill="#d5ff1a"/><path d="M199.8 58.6L202.2 60.6L206.5 59.7L204.1 57.7Z" fill="#ffc714"/><path d="M219.9 62.3L222.5 65.1L226.6 63.9L224.0 61.1Z" fill="#ffe117"/><path d="M206.5 59.7L208.9 61.9L213.2 60.9L210.7 58.6Z" fill="#ffcc14"/><path d="M213.2 60.9L215.7 63.4L219.9 62.3L217.3 59.8Z" fill="#ffd516"/><path d="M255.1 81.6L257.9 86.0L261.8 84.6L259.0 80.2Z" fill="#82ff15"/><path d="M272.1 110.5L274.9 115.9L278.7 114.7L275.9 109.3Z" fill="#14ff9d"/><path d="M257.9 86.0L260.8 90.6L264.6 89.2L261.8 84.6Z" fill="#62ff14"/><path d="M236.0 69.0L238.8 72.5L242.8 71.1L240.1 67.6Z" fill="#f1ff19"/><path d="M269.3 105.3L272.1 110.5L275.9 109.3L273.1 104.0Z" fill="#14ff6a"/><path d="M245.6 74.9L248.4 78.8L252.3 77.4L249.5 73.5Z" fill="#c3ff17"/><path d="M260.8 90.6L263.6 95.3L267.5 93.9L264.6 89.2Z" fill="#3fff14"/><path d="M266.4 100.2L269.3 105.3L273.1 104.0L270.3 98.9Z" fill="#14ff3c"/><path d="M263.6 95.3L266.4 100.2L270.3 98.9L267.5 93.9Z" fill="#18ff14"/><path d="M229.3 66.9L232.0 70.2L236.0 69.0L233.3 65.7Z" fill="#fff517"/><path d="M248.4 78.8L251.2 83.0L255.1 81.6L252.3 77.4Z" fill="#adff15"/><path d="M222.5 65.1L225.1 68.1L229.3 66.9L226.6 63.9Z" fill="#ffe016"/><path d="M238.8 72.5L241.5 76.2L245.6 74.9L242.8 71.1Z" fill="#e4ff17"/><path d="M215.7 63.4L218.3 66.2L222.5 65.1L219.9 62.3Z" fill="#ffce15"/><path d="M251.2 83.0L254.0 87.3L257.9 86.0L255.1 81.6Z" fill="#92ff14"/><path d="M208.9 61.9L211.4 64.4L215.7 63.4L213.2 60.9Z" fill="#ffc014"/><path d="M202.2 60.6L204.6 62.8L208.9 61.9L206.5 59.7Z" fill="#ffb614"/><path d="M268.2 111.7L271.1 117.0L274.9 115.9L272.1 110.5Z" fill="#14ff84"/><path d="M232.0 70.2L234.7 73.6L238.8 72.5L236.0 69.0Z" fill="#fffc16"/><path d="M254.0 87.3L256.8 91.8L260.8 90.6L257.9 86.0Z" fill="#74ff14"/><path d="M241.5 76.2L244.3 80.1L248.4 78.8L245.6 74.9Z" fill="#d3ff15"/><path d="M265.4 106.5L268.2 111.7L272.1 110.5L269.3 105.3Z" fill="#14ff52"/><path d="M256.8 91.8L259.7 96.5L263.6 95.3L260.8 90.6Z" fill="#53ff14"/><path d="M262.5 101.4L265.4 106.5L269.3 105.3L266.4 100.2Z" fill="#14ff25"/><path d="M259.7 96.5L262.5 101.4L266.4 100.2L263.6 95.3Z" fill="#2dff14"/><path d="M225.1 68.1L227.8 71.3L232.0 70.2L229.3 66.9Z" fill="#ffe215"/><path d="M244.3 80.1L247.2 84.2L251.2 83.0L248.4 78.8Z" fill="#bfff14"/><path d="M234.7 73.6L237.5 77.3L241.5 76.2L238.8 72.5Z" fill="#f7ff15"/><path d="M218.3 66.2L220.9 69.1L225.1 68.1L222.5 65.1Z" fill="#ffcb14"/><path d="M247.2 84.2L250.0 88.5L254.0 87.3L251.2 83.0Z" fill="#a6ff14"/><path d="M211.4 64.4L214.0 67.1L218.3 66.2L215.7 63.4Z" fill="#ffb814"/><path d="M204.6 62.8L207.1 65.2L211.4 64.4L208.9 61.9Z" fill="#ffa814"/><path d="M227.8 71.3L230.5 74.7L234.7 73.6L232.0 70.2Z" fill="#ffe814"/><path d="M250.0 88.5L252.8 93.0L256.8 91.8L254.0 87.3Z" fill="#8aff14"/><path d="M237.5 77.3L240.3 81.2L244.3 80.1L241.5 76.2Z" fill="#e7ff14"/><path d="M264.3 112.7L267.2 118.1L271.1 117.0L268.2 111.7Z" fill="#14ff67"/><path d="M252.8 93.0L255.7 97.6L259.7 96.5L256.8 91.8Z" fill="#69ff14"/><path d="M261.5 107.5L264.3 112.7L268.2 111.7L265.4 106.5Z" fill="#14ff37"/><path d="M255.7 97.6L258.6 102.5L262.5 101.4L259.7 96.5Z" fill="#45ff14"/><path d="M258.6 102.5L261.5 107.5L265.4 106.5L262.5 101.4Z" fill="#1dff14"/><path d="M220.9 69.1L223.6 72.3L227.8 71.3L225.1 68.1Z" fill="#ffcc14"/><path d="M240.3 81.2L243.1 85.2L247.2 84.2L244.3 80.1Z" fill="#d4ff14"/><path d="M230.5 74.7L233.3 78.3L237.5 77.3L234.7 73.6Z" fill="#fff214"/><path d="M214.0 67.1L216.6 70.0L220.9 69.1L218.3 66.2Z" fill="#ffb314"/><path d="M243.1 85.2L245.9 89.5L250.0 88.5L247.2 84.2Z" fill="#bdff14"/><path d="M207.1 65.2L209.6 67.8L214.0 67.1L211.4 64.4Z" fill="#ff9e14"/><path d="M223.6 72.3L226.3 75.6L230.5 74.7L227.8 71.3Z" fill="#ffd014"/><path d="M245.9 89.5L248.8 94.0L252.8 93.0L250.0 88.5Z" fill="#a2ff14"/><path d="M233.3 78.3L236.1 82.2L240.3 81.2L237.5 77.3Z" fill="#feff14"/><path d="M248.8 94.0L251.7 98.6L255.7 97.6L252.8 93.0Z" fill="#83ff14"/><path d="M260.4 113.6L263.3 119.0L267.2 118.1L264.3 112.7Z" fill="#14ff47"/><path d="M251.7 98.6L254.6 103.5L258.6 102.5L255.7 97.6Z" fill="#61ff14"/><path d="M216.6 70.0L219.3 73.1L223.6 72.3L220.9 69.1Z" fill="#ffb314"/><path d="M257.5 108.5L260.4 113.6L264.3 112.7L261.5 107.5Z" fill="#14ff19"/><path d="M254.6 103.5L257.5 108.5L261.5 107.5L258.6 102.5Z" fill="#3aff14"/><path d="M236.1 82.2L238.9 86.2L243.1 85.2L240.3 81.2Z" fill="#edff14"/><path d="M226.3 75.6L229.1 79.2L233.3 78.3L230.5 74.7Z" fill="#ffd914"/><path d="M209.6 67.8L212.2 70.7L216.6 70.0L214.0 67.1Z" fill="#ff9814"/><path d="M238.9 86.2L241.8 90.4L245.9 89.5L243.1 85.2Z" fill="#d7ff14"/><path d="M219.3 73.1L222.0 76.4L226.3 75.6L223.6 72.3Z" fill="#ffb614"/><path d="M229.1 79.2L231.9 83.0L236.1 82.2L233.3 78.3Z" fill="#ffe514"/><path d="M241.8 90.4L244.7 94.9L248.8 94.0L245.9 89.5Z" fill="#beff14"/><path d="M244.7 94.9L247.6 99.5L251.7 98.6L248.8 94.0Z" fill="#a0ff14"/><path d="M212.2 70.7L214.9 73.8L219.3 73.1L216.6 70.0Z" fill="#ff9614"/><path d="M247.6 99.5L250.5 104.3L254.6 103.5L251.7 98.6Z" fill="#7fff14"/><path d="M256.3 114.4L259.2 119.8L263.3 119.0L260.4 113.6Z" fill="#14ff24"/><path d="M250.5 104.3L253.4 109.3L257.5 108.5L254.6 103.5Z" fill="#5aff14"/><path d="M231.9 83.0L234.7 87.0L238.9 86.2L236.1 82.2Z" fill="#fff614"/><path d="M253.4 109.3L256.3 114.4L260.4 113.6L257.5 108.5Z" fill="#31ff14"/><path d="M222.0 76.4L224.8 80.0L229.1 79.2L226.3 75.6Z" fill="#ffbd14"/><path d="M234.7 87.0L237.6 91.2L241.8 90.4L238.9 86.2Z" fill="#f4ff14"/><path d="M214.9 73.8L217.6 77.1L222.0 76.4L219.3 73.1Z" fill="#ff9814"/><path d="M224.8 80.0L227.6 83.7L231.9 83.0L229.1 79.2Z" fill="#ffc814"/><path d="M237.6 91.2L240.5 95.6L244.7 94.9L241.8 90.4Z" fill="#dcff14"/><path d="M240.5 95.6L243.4 100.2L247.6 99.5L244.7 94.9Z" fill="#c0ff14"/><path d="M243.4 100.2L246.3 105.0L250.5 104.3L247.6 99.5Z" fill="#a1ff14"/><path d="M227.6 83.7L230.4 87.7L234.7 87.0L231.9 83.0Z" fill="#ffd714"/><path d="M252.2 115.1L255.2 120.4L259.2 119.8L256.3 114.4Z" fill="#2aff14"/><path d="M246.3 105.0L249.3 110.0L253.4 109.3L250.5 104.3Z" fill="#7dff14"/><path d="M249.3 110.0L252.2 115.1L256.3 114.4L253.4 109.3Z" fill="#56ff14"/><path d="M217.6 77.1L220.4 80.6L224.8 80.0L222.0 76.4Z" fill="#ff9e14"/><path d="M230.4 87.7L233.3 91.9L237.6 91.2L234.7 87.0Z" fill="#ffe914"/><path d="M220.4 80.6L223.2 84.3L227.6 83.7L224.8 80.0Z" fill="#ffa714"/><path d="M233.3 91.9L236.2 96.3L240.5 95.6L237.6 91.2Z" fill="#feff14"/><path d="M236.2 96.3L239.1 100.8L243.4 100.2L240.5 95.6Z" fill="#e4ff14"/><path d="M223.2 84.3L226.0 88.2L230.4 87.7L227.6 83.7Z" fill="#ffb514"/><path d="M239.1 100.8L242.1 105.6L246.3 105.0L243.4 100.2Z" fill="#c5ff14"/><path d="M242.1 105.6L245.0 110.6L249.3 110.0L246.3 105.0Z" fill="#a3ff14"/><path d="M248.0 115.7L251.0 121.0L255.2 120.4L252.2 115.1Z" fill="#54ff14"/><path d="M245.0 110.6L248.0 115.7L252.2 115.1L249.3 110.0Z" fill="#7dff14"/><path d="M226.0 88.2L228.9 92.4L233.3 91.9L230.4 87.7Z" fill="#ffc614"/><path d="M228.9 92.4L231.8 96.8L236.2 96.3L233.3 91.9Z" fill="#ffdb14"/><path d="M231.8 96.8L234.8 101.3L239.1 100.8L236.2 96.3Z" fill="#fff414"/><path d="M234.8 101.3L237.7 106.1L242.1 105.6L239.1 100.8Z" fill="#edff14"/><path d="M237.7 106.1L240.7 111.0L245.0 110.6L242.1 105.6Z" fill="#cdff14"/><path d="M240.7 111.0L243.7 116.1L248.0 115.7L245.0 110.6Z" fill="#a8ff14"/><path d="M243.7 116.1L246.7 121.4L251.0 121.0L248.0 115.7Z" fill="#80ff14"/></g>
<text x="197.2" y="83.8" font-size="3.8" text-anchor="end" fill="#333">70</text>
<circle cx="198.5" cy="84.2" r="0.5" fill="#222"/>
<text x="196.0" y="77.3" font-size="3.8" text-anchor="end" fill="#333">75</text>
<circle cx="197.3" cy="77.7" r="0.5" fill="#222"/>
<text x="194.9" y="70.6" font-size="3.8" text-anchor="end" fill="#333">80</text>
<circle cx="196.2" cy="71.0" r="0.5" fill="#222"/>
<text x="193.6" y="63.6" font-size="3.8" text-anchor="end" fill="#333">85</text>
<circle cx="194.9" cy="64.0" r="0.5" fill="#222"/>
<text x="192.4" y="56.3" font-size="3.8" text-anchor="end" fill="#333">90</text>
<circle cx="193.7" cy="56.7" r="0.5" fill="#222"/>
<text x="191.0" y="48.8" font-size="3.8" text-anchor="end" fill="#333">95</text>
<circle cx="192.3" cy="49.2" r="0.5" fill="#222"/>
<text x="189.7" y="40.9" font-size="3.8" text-anchor="end" fill="#333">100</text>
<circle cx="191.0" cy="41.3" r="0.5" fill="#222"/>
<path d="M200.7 97.1L191.0 41.3" stroke="#777" stroke-width="0.5"/>
<text x="194.2" y="102.5" font-size="3.8" text-anchor="middle" fill="#333">0.00</text>
<text x="203.0" y="113.6" font-size="3.8" text-anchor="middle" fill="#333">20.00</text>
<text x="212.2" y="125.0" font-size="3.8" text-anchor="middle" fill="#333">40.00</text>
<text x="221.6" y="136.9" font-size="3.8" text-anchor="middle" fill="#333">60.00</text>
<text x="231.5" y="149.3" font-size="3.8" text-anchor="middle" fill="#333">80.00</text>
<text x="241.8" y="162.1" font-size="3.8" text-anchor="middle" fill="#333">100.00</text>
<text x="253.3" y="161.8" font-size="3.8" text-anchor="middle" fill="#333">70.00</text>
<text x="268.0" y="152.8" font-size="3.8" text-anchor="middle" fill="#333">72.00</text>
<text x="282.3" y="144.0" font-size="3.8" text-anchor="middle" fill="#333">74.00</text>
<text x="296.1" y="135.4" font-size="3.8" text-anchor="middle" fill="#333">76.00</text>
<text x="309.6" y="127.1" font-size="3.8" text-anchor="middle" fill="#333">78.00</text>
<text x="322.7" y="119.1" font-size="3.8" text-anchor="middle" fill="#333">80.00</text>
<text x="200.6" y="141.5" font-size="2.5" text-anchor="middle" fill="#444" stroke="#444" stroke-width="0.12">A: Eudragit RS 100 (%)</text>
<text x="299.2" y="156.4" font-size="2.5" text-anchor="middle" fill="#444" stroke="#444" stroke-width="0.12">C: Drug (%)</text>
<text x="174.5" y="71.3" font-size="2.5" text-anchor="middle" fill="#444" transform="rotate(-90 174.5 71.3)" stroke="#444" stroke-width="0.12">P.Y. (%)</text>
<circle cx="193.3" cy="55.6" r="1.2" fill="#b00000"/>
<circle cx="268.2" cy="4.8" r="1.2" fill="#b00000"/>
<circle cx="257.7" cy="62.7" r="1.2" fill="#b00000"/>
<circle cx="320.9" cy="90.9" r="1.2" fill="#b00000"/>
<circle cx="245.7" cy="120.5" r="1.2" fill="#b00000"/>
<path d="M605.4 162.7L654.4 107.0L581.8 74.2L529.1 122.2Z" fill="#5e5e5e"/>
<g stroke="#7a7a7a" stroke-width="0.55" fill="none"><path d="M529.1 122.2L519.7 51.6"/><path d="M540.5 111.8L532.9 41.4"/><path d="M551.4 101.9L545.6 31.6"/><path d="M562.0 92.3L557.7 22.3"/><path d="M572.1 83.1L569.3 13.3"/><path d="M581.8 74.2L580.4 4.8"/><path d="M529.1 122.2L581.8 74.2"/><path d="M526.8 105.1L581.5 57.2"/><path d="M525.1 92.7L581.2 45.0"/><path d="M523.4 79.7L581.0 32.2"/><path d="M521.6 66.1L580.7 18.8"/><path d="M519.7 51.6L580.4 4.8"/><path d="M654.4 107.0L663.4 36.2"/><path d="M639.0 100.0L645.7 29.5"/><path d="M624.1 93.3L628.5 23.0"/><path d="M609.6 86.8L612.0 16.7"/><path d="M595.5 80.4L595.9 10.6"/><path d="M581.8 74.2L580.4 4.8"/><path d="M654.4 107.0L581.8 74.2"/><path d="M656.6 89.7L581.5 57.2"/><path d="M658.2 77.3L581.2 45.0"/><path d="M659.9 64.3L581.0 32.2"/><path d="M661.6 50.6L580.7 18.8"/><path d="M663.4 36.2L580.4 4.8"/></g>
<path d="M619.3 91.1 618.5 92.5 618.0 93.4 617.2 94.7 616.7 95.7 615.9 97.0 615.4 98.0 614.6 99.3 614.1 100.3 613.3 101.7 612.8 102.6 612.0 103.9 611.4 105.0 610.7 106.2 610.0 107.3 609.3 108.6 608.6 109.7 607.9 111.0 607.2 112.1 606.5 113.4 605.8 114.6 604.9 115.9 604.3 117.0 603.4 118.5 602.8 119.5 601.9 121.0 601.3 122.0 600.3 123.5 599.7 124.5 598.7 126.0 598.1 127.0 597.1 128.5 596.2 130.0 595.5 131.1 594.5 132.6 593.8 133.6 592.7 135.2 591.7 136.7 591.0 137.7 589.9 139.3 588.8 140.8 588.0 141.8 586.9 143.4 585.7 144.9 584.8 146.0 583.6 147.5 582.3 149.0 581.5 150.0" fill="none" stroke="#0082e0" stroke-width="0.9"/>
<path d="M565.0 141.3 565.0 139.8 565.1 138.4 565.1 137.4 565.2 136.3 565.2 134.9 565.3 133.6 565.4 132.3 565.5 131.3 565.6 130.2 565.7 128.9 565.9 127.6 566.0 126.3 566.1 125.1 566.2 124.1 566.4 123.0 566.5 121.8 566.7 120.5 566.8 119.3 567.0 118.0 567.1 116.9 567.3 115.8 567.4 114.8 567.6 113.8 567.8 112.5 568.0 111.3 568.1 110.2 568.3 109.0 568.5 107.8 568.7 106.7 568.8 105.7 569.0 104.7 569.2 103.7 569.4 102.6 569.5 101.4 569.7 100.3 569.9 99.2 570.1 98.0 570.3 96.9 570.5 95.8 570.7 94.7 570.9 93.7 571.1 92.8 571.3 91.8 571.4 90.8 571.6 89.8 571.8 88.7 572.0 87.7 572.2 86.6 572.4 85.6 572.6 84.5 572.8 83.5 573.0 82.4 573.1 82.2" fill="none" stroke="#0082e0" stroke-width="0.9"/>
<path d="M628.5 95.3 627.9 96.7 627.4 97.7 627.0 98.6 626.3 100.0 625.9 101.0 625.4 102.2 624.8 103.4 624.3 104.4 623.7 105.9 623.2 106.9 622.8 107.9 622.1 109.4 621.6 110.4 621.1 111.5 620.5 112.9 620.0 113.9 619.3 115.4 618.8 116.4 618.4 117.5 617.6 119.0 617.2 120.1 616.6 121.3 616.0 122.7 615.5 123.7 614.8 125.3 614.3 126.4 613.8 127.5 613.0 129.1 612.5 130.2 612.0 131.4 611.3 132.9 610.8 134.0 610.1 135.5 609.5 136.8 609.0 137.9 608.2 139.5 607.7 140.7 607.2 141.9 606.4 143.5 605.9 144.7 605.2 146.3 604.6 147.5 604.0 148.7 603.2 150.5 602.7 151.6 602.1 152.9 601.3 154.6 600.8 155.8 600.0 157.4 599.4 158.8 599.1 159.4" fill="none" stroke="#00e0af" stroke-width="0.9"/>
<path d="M548.5 132.5 548.9 131.3 549.2 130.1 549.6 128.8 549.9 127.6 550.3 126.4 550.6 125.2 551.0 124.0 551.3 122.8 551.6 121.6 552.0 120.4 552.3 119.2 552.6 118.1 553.0 116.9 553.3 115.7 553.6 114.6 553.9 113.4 554.3 112.3 554.6 111.1 554.9 110.0 555.2 108.9 555.6 107.7 555.9 106.6 556.2 105.5 556.5 104.4 556.8 103.3 557.1 102.2 557.4 101.1 557.8 100.0 558.1 98.9 558.4 97.8 558.7 96.8 559.0 95.7 559.2 94.8" fill="none" stroke="#00e0af" stroke-width="0.9"/>
<path d="M636.0 98.7 635.4 100.0 635.0 101.1 634.6 102.1 634.1 103.5 633.6 104.5 633.2 105.5 632.6 107.0 632.2 108.0 631.8 109.0 631.2 110.5 630.8 111.6 630.4 112.6 629.8 114.0 629.3 115.2 628.9 116.2 628.3 117.7 627.8 118.9 627.4 119.9 626.9 121.3 626.4 122.6 625.9 123.6 625.4 125.0 624.8 126.3 624.4 127.4 623.9 128.8 623.3 130.2 622.9 131.3 622.3 132.6 621.8 134.0 621.3 135.2 620.8 136.4 620.2 138.0 619.7 139.1 619.3 140.3 618.6 142.0 618.1 143.2 617.7 144.3 617.0 146.1 616.5 147.2 616.0 148.4 615.3 150.2 614.9 151.4 614.5 152.4" fill="none" stroke="#00e01b" stroke-width="0.9"/>
<path d="M539.4 127.7 539.8 126.5 540.2 125.3 540.6 124.1 541.0 122.9 541.4 121.8 541.8 120.6 542.2 119.4 542.6 118.3 543.0 117.1 543.4 115.9 543.8 114.7 544.2 113.4 544.6 112.2 545.0 111.0 545.4 109.8 545.8 108.7 546.2 107.5 546.6 106.4 546.6 106.3" fill="none" stroke="#00e01b" stroke-width="0.9"/>
<path d="M642.2 101.5 641.7 102.9 641.3 103.9 640.9 104.9 640.4 106.4 640.0 107.5 639.6 108.5 639.1 109.9 638.7 111.0 638.3 112.1 637.8 113.3 637.3 114.6 636.9 115.7 636.5 116.8 636.0 118.3 635.6 119.4 635.2 120.4 634.6 122.1 634.2 123.1 633.8 124.2 633.3 125.7 632.8 126.9 632.4 128.0 631.9 129.3 631.4 130.8 631.0 131.9 630.6 133.0 630.0 134.7 629.9 134.8" fill="none" stroke="#75e000" stroke-width="0.9"/>
<path d="M532.6 124.1 533.0 122.9 533.5 121.6 534.0 120.3 534.4 119.0 534.9 117.7 535.4 116.6 535.4 116.5" fill="none" stroke="#75e000" stroke-width="0.9"/>
<path d="M648.1 104.1 647.6 105.4 647.2 106.6 646.9 107.6 646.5 108.7 646.0 110.2 645.6 111.2 645.3 112.3 644.8 113.8 644.4 114.9 644.0 115.9 643.6 117.2 643.1 118.6 642.8 119.6 642.4 120.6" fill="none" stroke="#e0b400" stroke-width="0.9"/>
<g stroke="#1a1a1a" stroke-opacity="0.48" stroke-width="0.4" stroke-linejoin="round"><path d="M582.3 50.3L584.8 48.7L581.2 46.3L578.7 47.8Z" fill="#4d95ff"/><path d="M585.9 52.7L588.4 50.9L584.8 48.7L582.3 50.3Z" fill="#4a7eff"/><path d="M589.5 54.7L592.0 52.9L588.4 50.9L585.9 52.7Z" fill="#486cff"/><path d="M579.7 51.9L582.3 50.3L578.7 47.8L576.1 49.3Z" fill="#4aa3ff"/><path d="M593.2 56.6L595.7 54.7L592.0 52.9L589.5 54.7Z" fill="#4560ff"/><path d="M583.4 54.4L585.9 52.7L582.3 50.3L579.7 51.9Z" fill="#498aff"/><path d="M587.0 56.6L589.5 54.7L585.9 52.7L583.4 54.4Z" fill="#4777ff"/><path d="M596.8 58.2L599.3 56.2L595.7 54.7L593.2 56.6Z" fill="#425aff"/><path d="M577.1 53.5L579.7 51.9L576.1 49.3L573.5 50.7Z" fill="#48b3ff"/><path d="M590.7 58.5L593.2 56.6L589.5 54.7L587.0 56.6Z" fill="#4469ff"/><path d="M580.8 56.1L583.4 54.4L579.7 51.9L577.1 53.5Z" fill="#4797ff"/><path d="M600.5 59.6L603.0 57.5L599.3 56.2L596.8 58.2Z" fill="#3f5aff"/><path d="M584.4 58.4L587.0 56.6L583.4 54.4L580.8 56.1Z" fill="#4582ff"/><path d="M594.3 60.3L596.8 58.2L593.2 56.6L590.7 58.5Z" fill="#4160ff"/><path d="M574.5 55.1L577.1 53.5L573.5 50.7L570.8 52.2Z" fill="#45c3ff"/><path d="M588.1 60.4L590.7 58.5L587.0 56.6L584.4 58.4Z" fill="#4272ff"/><path d="M604.3 60.8L606.7 58.5L603.0 57.5L600.5 59.6Z" fill="#3c61ff"/><path d="M578.2 57.7L580.8 56.1L577.1 53.5L574.5 55.1Z" fill="#44a6ff"/><path d="M598.0 61.8L600.5 59.6L596.8 58.2L594.3 60.3Z" fill="#3e5eff"/><path d="M591.8 62.3L594.3 60.3L590.7 58.5L588.1 60.4Z" fill="#4067ff"/><path d="M581.8 60.2L584.4 58.4L580.8 56.1L578.2 57.7Z" fill="#428dff"/><path d="M608.1 61.7L610.5 59.4L606.7 58.5L604.3 60.8Z" fill="#396fff"/><path d="M601.8 63.0L604.3 60.8L600.5 59.6L598.0 61.8Z" fill="#3b63ff"/><path d="M571.8 56.6L574.5 55.1L570.8 52.2L568.2 53.6Z" fill="#42d5ff"/><path d="M585.5 62.3L588.1 60.4L584.4 58.4L581.8 60.2Z" fill="#417bff"/><path d="M595.5 63.9L598.0 61.8L594.3 60.3L591.8 62.3Z" fill="#3d63ff"/><path d="M575.5 59.4L578.2 57.7L574.5 55.1L571.8 56.6Z" fill="#41b5ff"/><path d="M589.2 64.3L591.8 62.3L588.1 60.4L585.5 62.3Z" fill="#3e6fff"/><path d="M579.2 61.9L581.8 60.2L578.2 57.7L575.5 59.4Z" fill="#409aff"/><path d="M605.6 64.1L608.1 61.7L604.3 60.8L601.8 63.0Z" fill="#396fff"/><path d="M611.9 62.4L614.3 59.9L610.5 59.4L608.1 61.7Z" fill="#3684ff"/><path d="M599.3 65.3L601.8 63.0L598.0 61.8L595.5 63.9Z" fill="#3b65ff"/><path d="M582.9 64.2L585.5 62.3L581.8 60.2L579.2 61.9Z" fill="#3e86ff"/><path d="M569.1 58.2L571.8 56.6L568.2 53.6L565.4 55.1Z" fill="#3fe9ff"/><path d="M593.0 66.0L595.5 63.9L591.8 62.3L589.2 64.3Z" fill="#3c68ff"/><path d="M572.9 61.1L575.5 59.4L571.8 56.6L569.1 58.2Z" fill="#3ec6ff"/><path d="M586.7 66.3L589.2 64.3L585.5 62.3L582.9 64.2Z" fill="#3c77ff"/><path d="M576.6 63.7L579.2 61.9L575.5 59.4L572.9 61.1Z" fill="#3da8ff"/><path d="M603.1 66.4L605.6 64.1L601.8 63.0L599.3 65.3Z" fill="#386fff"/><path d="M609.4 64.9L611.9 62.4L608.1 61.7L605.6 64.1Z" fill="#3681ff"/><path d="M596.7 67.5L599.3 65.3L595.5 63.9L593.0 66.0Z" fill="#3968ff"/><path d="M615.8 62.9L618.2 60.3L614.3 59.9L611.9 62.4Z" fill="#33a1ff"/><path d="M580.3 66.1L582.9 64.2L579.2 61.9L576.6 63.7Z" fill="#3c91ff"/><path d="M590.4 68.1L593.0 66.0L589.2 64.3L586.7 66.3Z" fill="#3a6eff"/><path d="M566.4 59.7L569.1 58.2L565.4 55.1L562.7 56.5Z" fill="#3cfeff"/><path d="M570.1 62.7L572.9 61.1L569.1 58.2L566.4 59.7Z" fill="#3bd8ff"/><path d="M584.0 68.3L586.7 66.3L582.9 64.2L580.3 66.1Z" fill="#3a80ff"/><path d="M606.9 67.3L609.4 64.9L605.6 64.1L603.1 66.4Z" fill="#357fff"/><path d="M600.5 68.8L603.1 66.4L599.3 65.3L596.7 67.5Z" fill="#376fff"/><path d="M613.3 65.5L615.8 62.9L611.9 62.4L609.4 64.9Z" fill="#339bff"/><path d="M573.9 65.5L576.6 63.7L572.9 61.1L570.1 62.7Z" fill="#3bb8ff"/><path d="M594.2 69.7L596.7 67.5L593.0 66.0L590.4 68.1Z" fill="#386cff"/><path d="M619.7 63.1L622.2 60.4L618.2 60.3L615.8 62.9Z" fill="#30c5ff"/><path d="M587.8 70.2L590.4 68.1L586.7 66.3L584.0 68.3Z" fill="#3875ff"/><path d="M577.6 68.0L580.3 66.1L576.6 63.7L573.9 65.5Z" fill="#399eff"/><path d="M563.6 61.3L566.4 59.7L562.7 56.5L559.9 57.9Z" fill="#39ffea"/><path d="M604.4 69.8L606.9 67.3L603.1 66.4L600.5 68.8Z" fill="#347dff"/><path d="M598.0 71.1L600.5 68.8L596.7 67.5L594.2 69.7Z" fill="#3571ff"/><path d="M610.8 68.0L613.3 65.5L609.4 64.9L606.9 67.3Z" fill="#3296ff"/><path d="M581.4 70.3L584.0 68.3L580.3 66.1L577.6 68.0Z" fill="#388aff"/><path d="M567.4 64.4L570.1 62.7L566.4 59.7L563.6 61.3Z" fill="#39ebff"/><path d="M591.6 72.0L594.2 69.7L590.4 68.1L587.8 70.2Z" fill="#3671ff"/><path d="M617.2 65.8L619.7 63.1L615.8 62.9L613.3 65.5Z" fill="#30bdff"/><path d="M571.2 67.2L573.9 65.5L570.1 62.7L567.4 64.4Z" fill="#38c8ff"/><path d="M585.2 72.3L587.8 70.2L584.0 68.3L581.4 70.3Z" fill="#367dff"/><path d="M623.7 63.1L626.2 60.2L622.2 60.4L619.7 63.1Z" fill="#2df2ff"/><path d="M574.9 69.9L577.6 68.0L573.9 65.5L571.2 67.2Z" fill="#37acff"/><path d="M601.8 72.2L604.4 69.8L600.5 68.8L598.0 71.1Z" fill="#337cff"/><path d="M608.3 70.6L610.8 68.0L606.9 67.3L604.4 69.8Z" fill="#3192ff"/><path d="M595.4 73.4L598.0 71.1L594.2 69.7L591.6 72.0Z" fill="#3473ff"/><path d="M560.8 62.8L563.6 61.3L559.9 57.9L557.0 59.3Z" fill="#36ffd1"/><path d="M614.7 68.5L617.2 65.8L613.3 65.5L610.8 68.0Z" fill="#2fb6ff"/><path d="M578.7 72.3L581.4 70.3L577.6 68.0L574.9 69.9Z" fill="#3595ff"/><path d="M588.9 74.2L591.6 72.0L587.8 70.2L585.2 72.3Z" fill="#3476ff"/><path d="M564.6 66.0L567.4 64.4L563.6 61.3L560.8 62.8Z" fill="#36fffe"/><path d="M621.2 65.9L623.7 63.1L619.7 63.1L617.2 65.8Z" fill="#2de7ff"/><path d="M568.4 69.0L571.2 67.2L567.4 64.4L564.6 66.0Z" fill="#35daff"/><path d="M582.5 74.4L585.2 72.3L581.4 70.3L578.7 72.3Z" fill="#3486ff"/><path d="M599.2 74.7L601.8 72.2L598.0 71.1L595.4 73.4Z" fill="#317cff"/><path d="M605.7 73.1L608.3 70.6L604.4 69.8L601.8 72.2Z" fill="#308fff"/><path d="M572.2 71.7L574.9 69.9L571.2 67.2L568.4 69.0Z" fill="#34bbff"/><path d="M592.8 75.8L595.4 73.4L591.6 72.0L588.9 74.2Z" fill="#3276ff"/><path d="M612.2 71.1L614.7 68.5L610.8 68.0L608.3 70.6Z" fill="#2fafff"/><path d="M627.8 62.8L630.3 59.8L626.2 60.2L623.7 63.1Z" fill="#2affd7"/><path d="M576.0 74.2L578.7 72.3L574.9 69.9L572.2 71.7Z" fill="#33a2ff"/><path d="M586.3 76.4L588.9 74.2L585.2 72.3L582.5 74.4Z" fill="#327cff"/><path d="M618.7 68.7L621.2 65.9L617.2 65.8L614.7 68.5Z" fill="#2dddff"/><path d="M558.0 64.3L560.8 62.8L557.0 59.3L554.1 60.7Z" fill="#33ffb8"/><path d="M561.8 67.6L564.6 66.0L560.8 62.8L558.0 64.3Z" fill="#33ffe7"/><path d="M565.6 70.7L568.4 69.0L564.6 66.0L561.8 67.6Z" fill="#32eeff"/><path d="M603.1 75.7L605.7 73.1L601.8 72.2L599.2 74.7Z" fill="#2f8cff"/><path d="M579.8 76.5L582.5 74.4L578.7 72.3L576.0 74.2Z" fill="#318fff"/><path d="M596.6 77.1L599.2 74.7L595.4 73.4L592.8 75.8Z" fill="#307cff"/><path d="M625.3 65.7L627.8 62.8L623.7 63.1L621.2 65.9Z" fill="#2affe5"/><path d="M609.6 73.8L612.2 71.1L608.3 70.6L605.7 73.1Z" fill="#2ea9ff"/><path d="M590.1 78.1L592.8 75.8L588.9 74.2L586.3 76.4Z" fill="#3079ff"/><path d="M569.4 73.6L572.2 71.7L568.4 69.0L565.6 70.7Z" fill="#31cbff"/><path d="M616.2 71.4L618.7 68.7L614.7 68.5L612.2 71.1Z" fill="#2cd3ff"/><path d="M583.6 78.6L586.3 76.4L582.5 74.4L579.8 76.5Z" fill="#3083ff"/><path d="M573.2 76.2L576.0 74.2L572.2 71.7L569.4 73.6Z" fill="#30b0ff"/><path d="M632.0 62.2L634.5 59.2L630.3 59.8L627.8 62.8Z" fill="#27ff9a"/><path d="M622.8 68.6L625.3 65.7L621.2 65.9L618.7 68.7Z" fill="#2afff2"/><path d="M555.1 65.7L558.0 64.3L554.1 60.7L551.2 62.0Z" fill="#30ff9d"/><path d="M600.5 78.2L603.1 75.7L599.2 74.7L596.6 77.1Z" fill="#2d8aff"/><path d="M558.9 69.2L561.8 67.6L558.0 64.3L555.1 65.7Z" fill="#30ffcf"/><path d="M594.0 79.5L596.6 77.1L592.8 75.8L590.1 78.1Z" fill="#2e7eff"/><path d="M607.1 76.5L609.6 73.8L605.7 73.1L603.1 75.7Z" fill="#2ca4ff"/><path d="M577.0 78.6L579.8 76.5L576.0 74.2L573.2 76.2Z" fill="#2f9aff"/><path d="M562.8 72.4L565.6 70.7L561.8 67.6L558.9 69.2Z" fill="#2ffffb"/><path d="M587.5 80.4L590.1 78.1L586.3 76.4L583.6 78.6Z" fill="#2e7eff"/><path d="M613.6 74.2L616.2 71.4L612.2 71.1L609.6 73.8Z" fill="#2bcbff"/><path d="M566.6 75.4L569.4 73.6L565.6 70.7L562.8 72.4Z" fill="#2fddff"/><path d="M629.5 65.3L632.0 62.2L627.8 62.8L625.3 65.7Z" fill="#27ffaa"/><path d="M580.9 80.8L583.6 78.6L579.8 76.5L577.0 78.6Z" fill="#2d8cff"/><path d="M620.3 71.5L622.8 68.6L618.7 68.7L616.2 71.4Z" fill="#29fffe"/><path d="M570.4 78.2L573.2 76.2L569.4 73.6L566.6 75.4Z" fill="#2ebeff"/><path d="M597.9 80.8L600.5 78.2L596.6 77.1L594.0 79.5Z" fill="#2c89ff"/><path d="M604.5 79.1L607.1 76.5L603.1 75.7L600.5 78.2Z" fill="#2b9fff"/><path d="M591.3 82.0L594.0 79.5L590.1 78.1L587.5 80.4Z" fill="#2c80ff"/><path d="M611.1 77.0L613.6 74.2L609.6 73.8L607.1 76.5Z" fill="#2ac3ff"/><path d="M552.1 67.2L555.1 65.7L551.2 62.0L548.2 63.4Z" fill="#2dff80"/><path d="M574.3 80.7L577.0 78.6L573.2 76.2L570.4 78.2Z" fill="#2ca6ff"/><path d="M626.9 68.3L629.5 65.3L625.3 65.7L622.8 68.6Z" fill="#27ffba"/><path d="M556.0 70.8L558.9 69.2L555.1 65.7L552.1 67.2Z" fill="#2dffb6"/><path d="M636.2 61.4L638.7 58.2L634.5 59.2L632.0 62.2Z" fill="#25ff53"/><path d="M584.7 82.7L587.5 80.4L583.6 78.6L580.9 80.8Z" fill="#2c84ff"/><path d="M559.9 74.2L562.8 72.4L558.9 69.2L556.0 70.8Z" fill="#2dffe5"/><path d="M617.7 74.4L620.3 71.5L616.2 71.4L613.6 74.2Z" fill="#28f5ff"/><path d="M563.7 77.3L566.6 75.4L562.8 72.4L559.9 74.2Z" fill="#2cf0ff"/><path d="M578.1 82.9L580.9 80.8L577.0 78.6L574.3 80.7Z" fill="#2b95ff"/><path d="M601.8 81.8L604.5 79.1L600.5 78.2L597.9 80.8Z" fill="#299cff"/><path d="M595.2 83.3L597.9 80.8L594.0 79.5L591.3 82.0Z" fill="#2a89ff"/><path d="M567.6 80.1L570.4 78.2L566.6 75.4L563.7 77.3Z" fill="#2bcfff"/><path d="M633.7 64.6L636.2 61.4L632.0 62.2L629.5 65.3Z" fill="#24ff67"/><path d="M608.5 79.8L611.1 77.0L607.1 76.5L604.5 79.1Z" fill="#28bcff"/><path d="M624.4 71.3L626.9 68.3L622.8 68.6L620.3 71.5Z" fill="#26ffc9"/><path d="M588.6 84.4L591.3 82.0L587.5 80.4L584.7 82.7Z" fill="#2a83ff"/><path d="M615.1 77.3L617.7 74.4L613.6 74.2L611.1 77.0Z" fill="#27ebff"/><path d="M571.5 82.7L574.3 80.7L570.4 78.2L567.6 80.1Z" fill="#2ab4ff"/><path d="M582.0 85.0L584.7 82.7L580.9 80.8L578.1 82.9Z" fill="#298bff"/><path d="M549.2 68.7L552.1 67.2L548.2 63.4L545.2 64.7Z" fill="#2aff61"/><path d="M553.1 72.4L556.0 70.8L552.1 67.2L549.2 68.7Z" fill="#2aff9b"/><path d="M557.0 75.9L559.9 74.2L556.0 70.8L553.1 72.4Z" fill="#2affcd"/><path d="M631.2 67.7L633.7 64.6L629.5 65.3L626.9 68.3Z" fill="#24ff79"/><path d="M599.2 84.4L601.8 81.8L597.9 80.8L595.2 83.3Z" fill="#2799ff"/><path d="M621.8 74.3L624.4 71.3L620.3 71.5L617.7 74.4Z" fill="#25ffd7"/><path d="M560.9 79.1L563.7 77.3L559.9 74.2L557.0 75.9Z" fill="#29fff9"/><path d="M592.6 85.8L595.2 83.3L591.3 82.0L588.6 84.4Z" fill="#2889ff"/><path d="M575.3 85.1L578.1 82.9L574.3 80.7L571.5 82.7Z" fill="#28a0ff"/><path d="M640.6 60.3L643.1 57.0L638.7 58.2L636.2 61.4Z" fill="#40ff22"/><path d="M605.8 82.6L608.5 79.8L604.5 79.1L601.8 81.8Z" fill="#27b6ff"/><path d="M585.9 86.8L588.6 84.4L584.7 82.7L582.0 85.0Z" fill="#2787ff"/><path d="M564.7 82.1L567.6 80.1L563.7 77.3L560.9 79.1Z" fill="#28e0ff"/><path d="M612.5 80.2L615.1 77.3L611.1 77.0L608.5 79.8Z" fill="#26e1ff"/><path d="M579.2 87.3L582.0 85.0L578.1 82.9L575.3 85.1Z" fill="#2793ff"/><path d="M628.6 70.9L631.2 67.7L626.9 68.3L624.4 71.3Z" fill="#23ff8b"/><path d="M568.6 84.8L571.5 82.7L567.6 80.1L564.7 82.1Z" fill="#27c2ff"/><path d="M638.0 63.6L640.6 60.3L636.2 61.4L633.7 64.6Z" fill="#29ff21"/><path d="M619.3 77.3L621.8 74.3L617.7 74.4L615.1 77.3Z" fill="#24ffe4"/><path d="M596.5 87.1L599.2 84.4L595.2 83.3L592.6 85.8Z" fill="#2697ff"/><path d="M550.1 74.0L553.1 72.4L549.2 68.7L546.1 70.1Z" fill="#27ff7e"/><path d="M546.1 70.1L549.2 68.7L545.2 64.7L542.2 66.0Z" fill="#27ff41"/><path d="M603.2 85.3L605.8 82.6L601.8 81.8L599.2 84.4Z" fill="#25b1ff"/><path d="M589.8 88.4L592.6 85.8L588.6 84.4L585.9 86.8Z" fill="#268bff"/><path d="M554.0 77.6L557.0 75.9L553.1 72.4L550.1 74.0Z" fill="#27ffb4"/><path d="M572.5 87.3L575.3 85.1L571.5 82.7L568.6 84.8Z" fill="#26abff"/><path d="M609.9 83.1L612.5 80.2L608.5 79.8L605.8 82.6Z" fill="#24d8ff"/><path d="M557.9 80.9L560.9 79.1L557.0 75.9L554.0 77.6Z" fill="#26ffe3"/><path d="M583.2 89.2L585.9 86.8L582.0 85.0L579.2 87.3Z" fill="#258cff"/><path d="M626.1 74.0L628.6 70.9L624.4 71.3L621.8 74.3Z" fill="#23ff9b"/><path d="M635.5 66.9L638.0 63.6L633.7 64.6L631.2 67.7Z" fill="#21ff2f"/><path d="M561.8 84.0L564.7 82.1L560.9 79.1L557.9 80.9Z" fill="#25f3ff"/><path d="M616.7 80.4L619.3 77.3L615.1 77.3L612.5 80.2Z" fill="#23fff0"/><path d="M576.4 89.6L579.2 87.3L575.3 85.1L572.5 87.3Z" fill="#249cff"/><path d="M645.0 59.0L647.6 55.5L643.1 57.0L640.6 60.3Z" fill="#94ff1f"/><path d="M565.7 86.8L568.6 84.8L564.7 82.1L561.8 84.0Z" fill="#24d2ff"/><path d="M593.8 89.7L596.5 87.1L592.6 85.8L589.8 88.4Z" fill="#2496ff"/><path d="M600.5 88.1L603.2 85.3L599.2 84.4L596.5 87.1Z" fill="#23acff"/><path d="M587.1 90.9L589.8 88.4L585.9 86.8L583.2 89.2Z" fill="#238dff"/><path d="M607.3 86.0L609.9 83.1L605.8 82.6L603.2 85.3Z" fill="#23d1ff"/><path d="M632.9 70.2L635.5 66.9L631.2 67.7L628.6 70.9Z" fill="#20ff44"/><path d="M623.5 77.1L626.1 74.0L621.8 74.3L619.3 77.3Z" fill="#22ffab"/><path d="M569.7 89.5L572.5 87.3L568.6 84.8L565.7 86.8Z" fill="#23b9ff"/><path d="M547.0 75.5L550.1 74.0L546.1 70.1L543.0 71.6Z" fill="#24ff5f"/><path d="M580.4 91.6L583.2 89.2L579.2 87.3L576.4 89.6Z" fill="#2393ff"/><path d="M543.0 71.6L546.1 70.1L542.2 66.0L539.0 67.4Z" fill="#2bff25"/><path d="M551.0 79.2L554.0 77.6L550.1 74.0L547.0 75.5Z" fill="#24ff99"/><path d="M642.5 62.4L645.0 59.0L640.6 60.3L638.0 63.6Z" fill="#7aff1e"/><path d="M614.0 83.4L616.7 80.4L612.5 80.2L609.9 83.1Z" fill="#22fffb"/><path d="M554.9 82.7L557.9 80.9L554.0 77.6L551.0 79.2Z" fill="#23ffcb"/><path d="M558.9 85.9L561.8 84.0L557.9 80.9L554.9 82.7Z" fill="#23fff6"/><path d="M573.6 91.9L576.4 89.6L572.5 87.3L569.7 89.5Z" fill="#22a6ff"/><path d="M597.8 90.8L600.5 88.1L596.5 87.1L593.8 89.7Z" fill="#21a9ff"/><path d="M591.1 92.4L593.8 89.7L589.8 88.4L587.1 90.9Z" fill="#2196ff"/><path d="M630.4 73.4L632.9 70.2L628.6 70.9L626.1 74.0Z" fill="#20ff57"/><path d="M620.9 80.3L623.5 77.1L619.3 77.3L616.7 80.4Z" fill="#20ffba"/><path d="M604.6 88.8L607.3 86.0L603.2 85.3L600.5 88.1Z" fill="#21caff"/><path d="M562.8 88.9L565.7 86.8L561.8 84.0L558.9 85.9Z" fill="#22e4ff"/><path d="M584.3 93.4L587.1 90.9L583.2 89.2L580.4 91.6Z" fill="#2191ff"/><path d="M639.9 65.8L642.5 62.4L638.0 63.6L635.5 66.9Z" fill="#60ff1e"/><path d="M611.4 86.4L614.0 83.4L609.9 83.1L607.3 86.0Z" fill="#20f9ff"/><path d="M577.5 94.0L580.4 91.6L576.4 89.6L573.6 91.9Z" fill="#209aff"/><path d="M566.8 91.6L569.7 89.5L565.7 86.8L562.8 88.9Z" fill="#20c7ff"/><path d="M649.6 57.3L652.2 53.8L647.6 55.5L645.0 59.0Z" fill="#f1ff1c"/><path d="M543.9 77.1L547.0 75.5L543.0 71.6L539.9 73.0Z" fill="#21ff3f"/><path d="M547.9 80.9L551.0 79.2L547.0 75.5L543.9 77.1Z" fill="#21ff7c"/><path d="M627.8 76.7L630.4 73.4L626.1 74.0L623.5 77.1Z" fill="#1fff6a"/><path d="M539.9 73.0L543.0 71.6L539.0 67.4L535.9 68.7Z" fill="#49ff22"/><path d="M551.9 84.5L554.9 82.7L551.0 79.2L547.9 80.9Z" fill="#20ffb2"/><path d="M618.2 83.4L620.9 80.3L616.7 80.4L614.0 83.4Z" fill="#1fffc8"/><path d="M595.1 93.6L597.8 90.8L593.8 89.7L591.1 92.4Z" fill="#1fa6ff"/><path d="M637.4 69.2L639.9 65.8L635.5 66.9L632.9 70.2Z" fill="#48ff1e"/><path d="M588.3 95.0L591.1 92.4L587.1 90.9L584.3 93.4Z" fill="#1f97ff"/><path d="M570.7 94.1L573.6 91.9L569.7 89.5L566.8 91.6Z" fill="#1fb1ff"/><path d="M601.9 91.7L604.6 88.8L600.5 88.1L597.8 90.8Z" fill="#1fc3ff"/><path d="M555.9 87.8L558.9 85.9L554.9 82.7L551.9 84.5Z" fill="#20ffe0"/><path d="M581.5 95.9L584.3 93.4L580.4 91.6L577.5 94.0Z" fill="#1f96ff"/><path d="M608.7 89.3L611.4 86.4L607.3 86.0L604.6 88.8Z" fill="#1fefff"/><path d="M559.9 90.9L562.8 88.9L558.9 85.9L555.9 87.8Z" fill="#1ff7ff"/><path d="M647.1 60.8L649.6 57.3L645.0 59.0L642.5 62.4Z" fill="#d4ff1c"/><path d="M625.1 79.9L627.8 76.7L623.5 77.1L620.9 80.3Z" fill="#1eff7b"/><path d="M574.7 96.4L577.5 94.0L573.6 91.9L570.7 94.1Z" fill="#1ea3ff"/><path d="M634.8 72.6L637.4 69.2L632.9 70.2L630.4 73.4Z" fill="#30ff1d"/><path d="M563.8 93.8L566.8 91.6L562.8 88.9L559.9 90.9Z" fill="#1ed7ff"/><path d="M615.6 86.5L618.2 83.4L614.0 83.4L611.4 86.4Z" fill="#1effd5"/><path d="M592.3 96.3L595.1 93.6L591.1 92.4L588.3 95.0Z" fill="#1da4ff"/><path d="M599.2 94.6L601.9 91.7L597.8 90.8L595.1 93.6Z" fill="#1dbeff"/><path d="M644.5 64.4L647.1 60.8L642.5 62.4L639.9 65.8Z" fill="#b8ff1b"/><path d="M585.5 97.6L588.3 95.0L584.3 93.4L581.5 95.9Z" fill="#1d99ff"/><path d="M544.8 82.6L547.9 80.9L543.9 77.1L540.8 78.6Z" fill="#1eff5d"/><path d="M540.8 78.6L543.9 77.1L539.9 73.0L536.7 74.4Z" fill="#20ff1e"/><path d="M548.9 86.3L551.9 84.5L547.9 80.9L544.8 82.6Z" fill="#1eff97"/><path d="M567.8 96.4L570.7 94.1L566.8 91.6L563.8 93.8Z" fill="#1dbeff"/><path d="M606.0 92.3L608.7 89.3L604.6 88.8L601.9 91.7Z" fill="#1de6ff"/><path d="M536.7 74.4L539.9 73.0L535.9 68.7L532.6 69.9Z" fill="#69ff1f"/><path d="M578.7 98.4L581.5 95.9L577.5 94.0L574.7 96.4Z" fill="#1c9bff"/><path d="M552.9 89.8L555.9 87.8L551.9 84.5L548.9 86.3Z" fill="#1dffc9"/><path d="M622.5 83.2L625.1 79.9L620.9 80.3L618.2 83.4Z" fill="#1dff8c"/><path d="M632.1 75.9L634.8 72.6L630.4 73.4L627.8 76.7Z" fill="#1cff1f"/><path d="M556.9 93.0L559.9 90.9L555.9 87.8L552.9 89.8Z" fill="#1cfff3"/><path d="M612.9 89.6L615.6 86.5L611.4 86.4L608.7 89.3Z" fill="#1cffe1"/><path d="M654.3 55.3L656.9 51.6L652.2 53.8L649.6 57.3Z" fill="#ffa519"/><path d="M641.9 67.9L644.5 64.4L639.9 65.8L637.4 69.2Z" fill="#9cff1b"/><path d="M571.8 98.8L574.7 96.4L570.7 94.1L567.8 96.4Z" fill="#1bacff"/><path d="M589.5 99.1L592.3 96.3L588.3 95.0L585.5 97.6Z" fill="#1ba4ff"/><path d="M560.9 95.9L563.8 93.8L559.9 90.9L556.9 93.0Z" fill="#1be8ff"/><path d="M596.4 97.4L599.2 94.6L595.1 93.6L592.3 96.3Z" fill="#1bbaff"/><path d="M582.7 100.2L585.5 97.6L581.5 95.9L578.7 98.4Z" fill="#1b9cff"/><path d="M603.3 95.3L606.0 92.3L601.9 91.7L599.2 94.6Z" fill="#1bdeff"/><path d="M629.5 79.3L632.1 75.9L627.8 76.7L625.1 79.9Z" fill="#1bff34"/><path d="M619.8 86.4L622.5 83.2L618.2 83.4L615.6 86.5Z" fill="#1bff9c"/><path d="M651.7 59.0L654.3 55.3L649.6 57.3L647.1 60.8Z" fill="#ffc519"/><path d="M564.8 98.7L567.8 96.4L563.8 93.8L560.9 95.9Z" fill="#1accff"/><path d="M575.8 101.0L578.7 98.4L574.7 96.4L571.8 98.8Z" fill="#1aa2ff"/><path d="M639.3 71.4L641.9 67.9L637.4 69.2L634.8 72.6Z" fill="#81ff1a"/><path d="M541.7 84.3L544.8 82.6L540.8 78.6L537.6 80.2Z" fill="#1bff3d"/><path d="M610.2 92.7L612.9 89.6L608.7 89.3L606.0 92.3Z" fill="#1bffed"/><path d="M545.7 88.1L548.9 86.3L544.8 82.6L541.7 84.3Z" fill="#1bff7a"/><path d="M537.6 80.2L540.8 78.6L536.7 74.4L533.5 75.8Z" fill="#3eff1c"/><path d="M549.8 91.7L552.9 89.8L548.9 86.3L545.7 88.1Z" fill="#1affaf"/><path d="M533.5 75.8L536.7 74.4L532.6 69.9L529.3 71.2Z" fill="#8bff1c"/><path d="M553.8 95.0L556.9 93.0L552.9 89.8L549.8 91.7Z" fill="#19ffdd"/><path d="M568.9 101.2L571.8 98.8L567.8 96.4L564.8 98.7Z" fill="#19b7ff"/><path d="M593.6 100.3L596.4 97.4L592.3 96.3L589.5 99.1Z" fill="#19b6ff"/><path d="M626.9 82.7L629.5 79.3L625.1 79.9L622.5 83.2Z" fill="#1aff47"/><path d="M649.1 62.7L651.7 59.0L647.1 60.8L644.5 64.4Z" fill="#ffe518"/><path d="M586.7 101.8L589.5 99.1L585.5 97.6L582.7 100.2Z" fill="#19a4ff"/><path d="M617.2 89.6L619.8 86.4L615.6 86.5L612.9 89.6Z" fill="#1affab"/><path d="M600.5 98.3L603.3 95.3L599.2 94.6L596.4 97.4Z" fill="#19d7ff"/><path d="M636.6 74.9L639.3 71.4L634.8 72.6L632.1 75.9Z" fill="#67ff19"/><path d="M579.8 102.9L582.7 100.2L578.7 98.4L575.8 101.0Z" fill="#18a0ff"/><path d="M557.8 98.1L560.9 95.9L556.9 93.0L553.8 95.0Z" fill="#18faff"/><path d="M607.5 95.8L610.2 92.7L606.0 92.3L603.3 95.3Z" fill="#19fff7"/><path d="M572.9 103.5L575.8 101.0L571.8 98.8L568.9 101.2Z" fill="#17aaff"/><path d="M561.9 101.0L564.8 98.7L560.9 95.9L557.8 98.1Z" fill="#17dbff"/><path d="M646.5 66.3L649.1 62.7L644.5 64.4L641.9 67.9Z" fill="#faff18"/><path d="M624.2 86.0L626.9 82.7L622.5 83.2L619.8 86.4Z" fill="#19ff5a"/><path d="M659.2 53.0L661.8 49.2L656.9 51.6L654.3 55.3Z" fill="#ff3316"/><path d="M538.5 85.9L541.7 84.3L537.6 80.2L534.4 81.7Z" fill="#18ff1b"/><path d="M634.0 78.4L636.6 74.9L632.1 75.9L629.5 79.3Z" fill="#4eff18"/><path d="M542.6 89.9L545.7 88.1L541.7 84.3L538.5 85.9Z" fill="#18ff5c"/><path d="M614.4 92.9L617.2 89.6L612.9 89.6L610.2 92.7Z" fill="#18ffb9"/><path d="M590.8 103.2L593.6 100.3L589.5 99.1L586.7 101.8Z" fill="#17b4ff"/><path d="M534.4 81.7L537.6 80.2L533.5 75.8L530.2 77.2Z" fill="#5eff19"/><path d="M546.7 93.6L549.8 91.7L545.7 88.1L542.6 89.9Z" fill="#17ff95"/><path d="M583.9 104.6L586.7 101.8L582.7 100.2L579.8 102.9Z" fill="#16a5ff"/><path d="M597.7 101.3L600.5 98.3L596.4 97.4L593.6 100.3Z" fill="#17d1ff"/><path d="M565.9 103.6L568.9 101.2L564.8 98.7L561.9 101.0Z" fill="#16c3ff"/><path d="M530.2 77.2L533.5 75.8L529.3 71.2L526.0 72.5Z" fill="#aeff19"/><path d="M550.7 97.0L553.8 95.0L549.8 91.7L546.7 93.6Z" fill="#16ffc6"/><path d="M576.9 105.5L579.8 102.9L575.8 101.0L572.9 103.5Z" fill="#16a5ff"/><path d="M643.9 70.0L646.5 66.3L641.9 67.9L639.3 71.4Z" fill="#ddff17"/><path d="M604.7 98.9L607.5 95.8L603.3 95.3L600.5 98.3Z" fill="#17fdff"/><path d="M656.6 56.9L659.2 53.0L654.3 55.3L651.7 59.0Z" fill="#ff5716"/><path d="M554.8 100.2L557.8 98.1L553.8 95.0L550.7 97.0Z" fill="#16fff0"/><path d="M621.5 89.4L624.2 86.0L619.8 86.4L617.2 89.6Z" fill="#17ff6b"/><path d="M631.3 81.9L634.0 78.4L629.5 79.3L626.9 82.7Z" fill="#36ff17"/><path d="M569.9 106.0L572.9 103.5L568.9 101.2L565.9 103.6Z" fill="#15b3ff"/><path d="M611.7 96.1L614.4 92.9L610.2 92.7L607.5 95.8Z" fill="#16ffc6"/><path d="M558.8 103.2L561.9 101.0L557.8 98.1L554.8 100.2Z" fill="#15ecff"/><path d="M588.0 106.0L590.8 103.2L586.7 101.8L583.9 104.6Z" fill="#15b2ff"/><path d="M641.2 73.6L643.9 70.0L639.3 71.4L636.6 74.9Z" fill="#c0ff16"/><path d="M653.9 60.7L656.6 56.9L651.7 59.0L649.1 62.7Z" fill="#ff7915"/><path d="M594.9 104.3L597.7 101.3L593.6 100.3L590.8 103.2Z" fill="#15ccff"/><path d="M581.0 107.3L583.9 104.6L579.8 102.9L576.9 105.5Z" fill="#14a7ff"/><path d="M601.9 102.0L604.7 98.9L600.5 98.3L597.7 101.3Z" fill="#15f4ff"/><path d="M539.4 91.6L542.6 89.9L538.5 85.9L535.2 87.6Z" fill="#15ff3c"/><path d="M535.2 87.6L538.5 85.9L534.4 81.7L531.1 83.2Z" fill="#33ff15"/><path d="M562.9 106.0L565.9 103.6L561.9 101.0L558.8 103.2Z" fill="#14d1ff"/><path d="M543.5 95.5L546.7 93.6L542.6 89.9L539.4 91.6Z" fill="#14ff78"/><path d="M618.8 92.7L621.5 89.4L617.2 89.6L614.4 92.9Z" fill="#16ff7c"/><path d="M628.6 85.4L631.3 81.9L626.9 82.7L624.2 86.0Z" fill="#1eff16"/><path d="M574.0 108.1L576.9 105.5L572.9 103.5L569.9 106.0Z" fill="#14abff"/><path d="M531.1 83.2L534.4 81.7L530.2 77.2L526.9 78.6Z" fill="#80ff16"/><path d="M547.6 99.1L550.7 97.0L546.7 93.6L543.5 95.5Z" fill="#14ffad"/><path d="M651.3 64.5L653.9 60.7L649.1 62.7L646.5 66.3Z" fill="#ff9b15"/><path d="M526.9 78.6L530.2 77.2L526.0 72.5L522.6 73.7Z" fill="#d4ff16"/><path d="M609.0 99.3L611.7 96.1L607.5 95.8L604.7 98.9Z" fill="#15ffd3"/><path d="M638.6 77.3L641.2 73.6L636.6 74.9L634.0 78.4Z" fill="#a4ff16"/><path d="M551.7 102.4L554.8 100.2L550.7 97.0L547.6 99.1Z" fill="#14ffdb"/><path d="M566.9 108.5L569.9 106.0L565.9 103.6L562.9 106.0Z" fill="#14beff"/><path d="M585.1 108.9L588.0 106.0L583.9 104.6L581.0 107.3Z" fill="#14b2ff"/><path d="M592.1 107.2L594.9 104.3L590.8 103.2L588.0 106.0Z" fill="#14c8ff"/><path d="M555.7 105.5L558.8 103.2L554.8 100.2L551.7 102.4Z" fill="#14feff"/><path d="M625.9 88.9L628.6 85.4L624.2 86.0L621.5 89.4Z" fill="#15ff23"/><path d="M578.1 110.0L581.0 107.3L576.9 105.5L574.0 108.1Z" fill="#14abff"/><path d="M599.1 105.1L601.9 102.0L597.7 101.3L594.9 104.3Z" fill="#14ecff"/><path d="M616.0 96.1L618.8 92.7L614.4 92.9L611.7 96.1Z" fill="#14ff8c"/><path d="M648.6 68.2L651.3 64.5L646.5 66.3L643.9 70.0Z" fill="#ffbc14"/><path d="M635.9 80.9L638.6 77.3L634.0 78.4L631.3 81.9Z" fill="#88ff15"/><path d="M559.8 108.3L562.9 106.0L558.8 103.2L555.7 105.5Z" fill="#14e0ff"/><path d="M571.0 110.7L574.0 108.1L569.9 106.0L566.9 108.5Z" fill="#14b4ff"/><path d="M606.2 102.5L609.0 99.3L604.7 98.9L601.9 102.0Z" fill="#14ffdf"/><path d="M646.0 72.0L648.6 68.2L643.9 70.0L641.2 73.6Z" fill="#ffdc14"/><path d="M623.2 92.4L625.9 88.9L621.5 89.4L618.8 92.7Z" fill="#14ff37"/><path d="M589.2 110.2L592.1 107.2L588.0 106.0L585.1 108.9Z" fill="#14c5ff"/><path d="M563.9 111.0L566.9 108.5L562.9 106.0L559.8 108.3Z" fill="#14cbff"/><path d="M582.2 111.7L585.1 108.9L581.0 107.3L578.1 110.0Z" fill="#14b3ff"/><path d="M613.3 99.4L616.0 96.1L611.7 96.1L609.0 99.3Z" fill="#14ff9c"/><path d="M596.3 108.2L599.1 105.1L594.9 104.3L592.1 107.2Z" fill="#14e5ff"/><path d="M633.2 84.5L635.9 80.9L631.3 81.9L628.6 85.4Z" fill="#6eff14"/><path d="M575.1 112.8L578.1 110.0L574.0 108.1L571.0 110.7Z" fill="#14b1ff"/><path d="M603.4 105.8L606.2 102.5L601.9 102.0L599.1 105.1Z" fill="#14ffe9"/><path d="M643.3 75.8L646.0 72.0L641.2 73.6L638.6 77.3Z" fill="#fffb14"/><path d="M568.0 113.4L571.0 110.7L566.9 108.5L563.9 111.0Z" fill="#14bdff"/><path d="M620.5 95.8L623.2 92.4L618.8 92.7L616.0 96.1Z" fill="#14ff4b"/><path d="M630.5 88.1L633.2 84.5L628.6 85.4L625.9 88.9Z" fill="#55ff14"/><path d="M610.5 102.8L613.3 99.4L609.0 99.3L606.2 102.5Z" fill="#14ffab"/><path d="M586.3 113.2L589.2 110.2L585.1 108.9L582.2 111.7Z" fill="#14c3ff"/><path d="M593.4 111.3L596.3 108.2L592.1 107.2L589.2 110.2Z" fill="#14e0ff"/><path d="M579.2 114.6L582.2 111.7L578.1 110.0L575.1 112.8Z" fill="#14b6ff"/><path d="M640.6 79.6L643.3 75.8L638.6 77.3L635.9 80.9Z" fill="#e5ff14"/><path d="M600.5 109.0L603.4 105.8L599.1 105.1L596.3 108.2Z" fill="#14fff3"/><path d="M572.1 115.5L575.1 112.8L571.0 110.7L568.0 113.4Z" fill="#14b7ff"/><path d="M617.7 99.3L620.5 95.8L616.0 96.1L613.3 99.4Z" fill="#14ff5e"/><path d="M627.7 91.7L630.5 88.1L625.9 88.9L623.2 92.4Z" fill="#3dff14"/><path d="M607.7 106.1L610.5 102.8L606.2 102.5L603.4 105.8Z" fill="#14ffb9"/><path d="M637.9 83.3L640.6 79.6L635.9 80.9L633.2 84.5Z" fill="#c8ff14"/><path d="M583.4 116.2L586.3 113.2L582.2 111.7L579.2 114.6Z" fill="#14c2ff"/><path d="M590.5 114.4L593.4 111.3L589.2 110.2L586.3 113.2Z" fill="#14dbff"/><path d="M576.2 117.5L579.2 114.6L575.1 112.8L572.1 115.5Z" fill="#14b9ff"/><path d="M597.7 112.2L600.5 109.0L596.3 108.2L593.4 111.3Z" fill="#14fffc"/><path d="M614.9 102.8L617.7 99.3L613.3 99.4L610.5 102.8Z" fill="#14ff70"/><path d="M625.0 95.3L627.7 91.7L623.2 92.4L620.5 95.8Z" fill="#27ff14"/><path d="M604.8 109.5L607.7 106.1L603.4 105.8L600.5 109.0Z" fill="#14ffc6"/><path d="M635.1 87.1L637.9 83.3L633.2 84.5L630.5 88.1Z" fill="#acff14"/><path d="M587.6 117.5L590.5 114.4L586.3 113.2L583.4 116.2Z" fill="#14d7ff"/><path d="M580.4 119.2L583.4 116.2L579.2 114.6L576.2 117.5Z" fill="#14c3ff"/><path d="M622.2 98.9L625.0 95.3L620.5 95.8L617.7 99.3Z" fill="#14ff18"/><path d="M594.8 115.4L597.7 112.2L593.4 111.3L590.5 114.4Z" fill="#14faff"/><path d="M612.1 106.3L614.9 102.8L610.5 102.8L607.7 106.1Z" fill="#14ff81"/><path d="M632.4 90.8L635.1 87.1L630.5 88.1L627.7 91.7Z" fill="#91ff14"/><path d="M602.0 112.8L604.8 109.5L600.5 109.0L597.7 112.2Z" fill="#14ffd2"/><path d="M619.4 102.5L622.2 98.9L617.7 99.3L614.9 102.8Z" fill="#14ff2d"/><path d="M584.6 120.6L587.6 117.5L583.4 116.2L580.4 119.2Z" fill="#14d4ff"/><path d="M609.2 109.7L612.1 106.3L607.7 106.1L604.8 109.5Z" fill="#14ff91"/><path d="M629.6 94.5L632.4 90.8L627.7 91.7L625.0 95.3Z" fill="#77ff14"/><path d="M591.8 118.6L594.8 115.4L590.5 114.4L587.6 117.5Z" fill="#14f4ff"/><path d="M599.1 116.2L602.0 112.8L597.7 112.2L594.8 115.4Z" fill="#14ffdc"/><path d="M616.6 106.1L619.4 102.5L614.9 102.8L612.1 106.3Z" fill="#14ff41"/><path d="M626.8 98.3L629.6 94.5L625.0 95.3L622.2 98.9Z" fill="#5fff14"/><path d="M606.4 113.2L609.2 109.7L604.8 109.5L602.0 112.8Z" fill="#14ff9f"/><path d="M588.9 121.9L591.8 118.6L587.6 117.5L584.6 120.6Z" fill="#14eeff"/><path d="M596.2 119.5L599.1 116.2L594.8 115.4L591.8 118.6Z" fill="#14ffe6"/><path d="M613.7 109.7L616.6 106.1L612.1 106.3L609.2 109.7Z" fill="#14ff54"/><path d="M624.0 102.0L626.8 98.3L622.2 98.9L619.4 102.5Z" fill="#47ff14"/><path d="M603.5 116.7L606.4 113.2L602.0 112.8L599.1 116.2Z" fill="#14ffad"/><path d="M593.2 122.9L596.2 119.5L591.8 118.6L588.9 121.9Z" fill="#14ffef"/><path d="M621.1 105.7L624.0 102.0L619.4 102.5L616.6 106.1Z" fill="#30ff14"/><path d="M610.8 113.3L613.7 109.7L609.2 109.7L606.4 113.2Z" fill="#14ff65"/><path d="M600.5 120.1L603.5 116.7L599.1 116.2L596.2 119.5Z" fill="#14ffba"/><path d="M618.3 109.5L621.1 105.7L616.6 106.1L613.7 109.7Z" fill="#1aff14"/><path d="M607.9 116.9L610.8 113.3L606.4 113.2L603.5 116.7Z" fill="#14ff76"/><path d="M597.6 123.6L600.5 120.1L596.2 119.5L593.2 122.9Z" fill="#14ffc5"/><path d="M615.4 113.2L618.3 109.5L613.7 109.7L610.8 113.3Z" fill="#14ff23"/><path d="M605.0 120.5L607.9 116.9L603.5 116.7L600.5 120.1Z" fill="#14ff86"/><path d="M612.5 116.9L615.4 113.2L610.8 113.3L607.9 116.9Z" fill="#14ff37"/><path d="M602.0 124.1L605.0 120.5L600.5 120.1L597.6 123.6Z" fill="#14ff94"/><path d="M609.5 120.7L612.5 116.9L607.9 116.9L605.0 120.5Z" fill="#14ff4a"/><path d="M606.6 124.4L609.5 120.7L605.0 120.5L602.0 124.1Z" fill="#14ff5b"/></g>
<text x="525.5" y="104.7" font-size="3.8" text-anchor="end" fill="#333">70</text>
<circle cx="526.8" cy="105.1" r="0.5" fill="#222"/>
<text x="523.8" y="92.3" font-size="3.8" text-anchor="end" fill="#333">80</text>
<circle cx="525.1" cy="92.7" r="0.5" fill="#222"/>
<text x="522.1" y="79.3" font-size="3.8" text-anchor="end" fill="#333">90</text>
<circle cx="523.4" cy="79.7" r="0.5" fill="#222"/>
<text x="520.3" y="65.7" font-size="3.8" text-anchor="end" fill="#333">100</text>
<circle cx="521.6" cy="66.1" r="0.5" fill="#222"/>
<text x="518.4" y="51.2" font-size="3.8" text-anchor="end" fill="#333">110</text>
<circle cx="519.7" cy="51.6" r="0.5" fill="#222"/>
<path d="M529.1 122.2L519.7 51.6" stroke="#777" stroke-width="0.5"/>
<text x="522.6" y="127.6" font-size="3.8" text-anchor="middle" fill="#333">80.00</text>
<text x="536.9" y="135.2" font-size="3.8" text-anchor="middle" fill="#333">78.00</text>
<text x="551.6" y="143.0" font-size="3.8" text-anchor="middle" fill="#333">76.00</text>
<text x="566.9" y="151.1" font-size="3.8" text-anchor="middle" fill="#333">74.00</text>
<text x="582.6" y="159.5" font-size="3.8" text-anchor="middle" fill="#333">72.00</text>
<text x="598.9" y="168.1" font-size="3.8" text-anchor="middle" fill="#333">70.00</text>
<text x="610.4" y="167.8" font-size="3.8" text-anchor="middle" fill="#333">0.00</text>
<text x="621.1" y="155.7" font-size="3.8" text-anchor="middle" fill="#333">20.00</text>
<text x="631.3" y="144.1" font-size="3.8" text-anchor="middle" fill="#333">40.00</text>
<text x="641.1" y="133.0" font-size="3.8" text-anchor="middle" fill="#333">60.00</text>
<text x="650.4" y="122.3" font-size="3.8" text-anchor="middle" fill="#333">80.00</text>
<text x="659.4" y="112.1" font-size="3.8" text-anchor="middle" fill="#333">100.00</text>
<text x="548.1" y="164.1" font-size="2.5" text-anchor="middle" fill="#444" stroke="#444" stroke-width="0.12">C: Drug (%)</text>
<text x="655.0" y="148.4" font-size="2.5" text-anchor="middle" fill="#444" stroke="#444" stroke-width="0.12">A: Eudragit RS 100 (%)</text>
<text x="502.5" y="89.5" font-size="2.5" text-anchor="middle" fill="#444" transform="rotate(-90 502.5 89.5)" stroke="#444" stroke-width="0.12">E.E. (%)</text>
<circle cx="522.9" cy="72.6" r="1.2" fill="#b00000"/>
<circle cx="581.1" cy="46.6" r="1.2" fill="#b00000"/>
<circle cx="660.4" cy="50.0" r="1.2" fill="#b00000"/>
<circle cx="592.3" cy="81.8" r="1.2" fill="#b00000"/>
<path d="M260.5 333.5L315.4 280.1L253.8 237.5L198.4 285.1Z" fill="#5e5e5e"/>
<g stroke="#7a7a7a" stroke-width="0.55" fill="none"><path d="M198.4 285.1L189.1 234.0"/><path d="M210.0 275.1L202.7 223.2"/><path d="M221.3 265.4L215.9 212.7"/><path d="M232.4 255.9L228.7 202.5"/><path d="M243.2 246.6L241.2 192.6"/><path d="M253.8 237.5L253.3 182.9"/><path d="M198.4 285.1L253.8 237.5"/><path d="M196.2 273.2L253.7 224.8"/><path d="M194.6 264.2L253.6 215.1"/><path d="M192.9 254.7L253.5 204.9"/><path d="M191.1 244.7L253.4 194.2"/><path d="M189.1 234.0L253.3 182.9"/><path d="M315.4 280.1L324.6 228.5"/><path d="M302.5 271.2L309.6 218.9"/><path d="M289.9 262.5L294.9 209.5"/><path d="M277.6 254.0L280.7 200.4"/><path d="M265.6 245.7L266.8 191.5"/><path d="M253.8 237.5L253.3 182.9"/><path d="M315.4 280.1L253.8 237.5"/><path d="M317.5 268.1L253.7 224.8"/><path d="M319.1 259.0L253.6 215.1"/><path d="M320.9 249.4L253.5 204.9"/><path d="M322.7 239.2L253.4 194.2"/><path d="M324.6 228.5L253.3 182.9"/></g>
<path d="M266.4 246.3 266.5 247.2 266.6 248.5 266.7 249.4 266.7 250.6 266.7 251.7 266.6 252.6 266.5 253.9 266.3 255.2 266.1 256.2 265.8 257.3 265.5 258.4 264.9 259.7 264.3 260.8 263.7 261.8 262.6 263.2 261.3 264.4 259.8 265.5 258.6 266.1 256.9 266.9 255.4 267.4 254.2 267.7 253.0 267.9 251.4 268.1 249.9 268.3 248.6 268.3 247.1 268.3 245.4 268.2 244.3 268.2 242.8 268.0 241.3 267.8 239.7 267.6 238.2 267.3 236.7 267.0 235.3 266.7 233.8 266.3 232.4 266.0 231.1 265.6 229.7 265.2 228.4 264.8 227.0 264.4 225.2 263.8 223.8 263.3 223.8 263.3" fill="none" stroke="#006ce0" stroke-width="0.9"/>
<path d="M285.8 259.7 286.1 261.0 286.3 262.1 286.4 263.2 286.6 264.4 286.7 265.4 286.8 266.7 286.9 267.8 286.9 268.9 286.9 270.3 286.8 271.3 286.7 272.3 286.5 273.6 286.3 274.9 286.0 276.1 285.6 277.3 285.1 278.4 284.6 279.5 283.6 281.0 282.9 282.0 281.7 283.3 280.2 284.5 279.1 285.2 277.5 286.1 275.9 286.7 274.5 287.1 273.2 287.4 272.0 287.7 270.4 287.9 268.8 288.0 267.5 288.1 265.9 288.1 264.3 288.0 263.2 287.9 261.5 287.8 259.9 287.6 258.3 287.4 256.9 287.1 255.5 286.9 254.1 286.6 252.6 286.2 251.0 285.9 249.4 285.4 247.8 285.0 246.4 284.6 245.0 284.1 243.6 283.7 242.3 283.2 240.5 282.6 238.9 282.1 237.6 281.6 236.3 281.1 234.4 280.3 233.1 279.8 231.9 279.3 230.0 278.5 228.8 278.0 227.2 277.3 225.7 276.6 224.5 276.1 222.7 275.2 221.5 274.7 219.7 273.8 218.6 273.2 216.8 272.4 215.7 271.8 214.5 271.2" fill="none" stroke="#00e0bc" stroke-width="0.9"/>
<path d="M288.8 306.0 287.0 306.2 285.6 306.2 283.9 306.3 282.7 306.3 280.9 306.2 279.4 306.1 278.2 306.0 276.5 305.8 274.9 305.5 273.2 305.2 271.6 304.9 270.1 304.6 268.5 304.2 267.0 303.9 265.5 303.5 264.0 303.1 262.6 302.6 261.1 302.2 259.7 301.7 258.0 301.2 256.2 300.6 254.9 300.1 253.5 299.6 251.9 299.0 250.1 298.3 248.8 297.8 247.5 297.2 245.5 296.4 244.3 295.9 242.7 295.2 241.1 294.5 239.8 293.9 237.9 293.0 236.7 292.4 234.9 291.6 233.6 291.0 231.8 290.1 230.6 289.5 228.8 288.6 227.6 288.0 225.9 287.1 224.7 286.4 223.0 285.5 221.8 284.9 220.1 284.0 218.4 283.0 217.2 282.4 215.5 281.4 214.4 280.8 212.8 279.9 211.1 278.9 210.0 278.3 208.4 277.3 207.8 277.0" fill="none" stroke="#00e02d" stroke-width="0.9"/>
<path d="M303.3 271.8 303.5 272.8 303.9 274.3 304.1 275.2 304.4 276.4 304.6 277.7 304.8 278.7 305.0 280.1 305.1 281.1 305.3 282.5 305.4 283.5 305.4 284.7 305.4 286.2 305.4 287.1 305.3 288.3 305.2 289.7 305.2 290.1" fill="none" stroke="#00e02d" stroke-width="0.9"/>
<path d="M274.4 319.9 273.0 319.4 271.5 318.9 270.1 318.4 268.2 317.7 266.6 317.1 265.3 316.5 263.7 315.9 261.9 315.2 260.5 314.6 258.9 313.9 257.2 313.1 255.9 312.6 253.9 311.7 252.7 311.1 250.9 310.2 249.5 309.5 248.0 308.8 246.3 308.0 245.0 307.3 243.2 306.4 241.8 305.7 240.1 304.9 238.5 304.0 237.1 303.3 235.3 302.3 234.1 301.6 232.3 300.7 231.2 300.0 229.4 299.0 227.7 298.0 226.5 297.4 224.8 296.4 223.2 295.4 221.9 294.7 220.2 293.7 218.7 292.8 217.4 292.0 215.8 291.0 214.1 290.0 213.0 289.3 211.4 288.3 209.7 287.3 208.5 286.5 207.0 285.6 205.4 284.6 203.8 283.5 202.5 282.7 201.7 282.2" fill="none" stroke="#6ce000" stroke-width="0.9"/>
<path d="M265.8 328.2 264.5 327.6 262.7 326.7 261.3 326.0 259.7 325.2 258.0 324.4 256.5 323.6 254.9 322.8 253.2 321.9 251.7 321.1 249.8 320.1 248.6 319.4 246.8 318.4 245.5 317.7 243.7 316.7 242.1 315.8 240.7 315.0 238.9 314.0 237.7 313.3 235.9 312.2 234.2 311.2 233.0 310.5 231.3 309.5 229.5 308.4 228.4 307.7 226.7 306.7 225.0 305.6 224.0 305.0" fill="none" stroke="#e0bc00" stroke-width="0.9"/>
<g stroke="#1a1a1a" stroke-opacity="0.48" stroke-width="0.4" stroke-linejoin="round"><path d="M254.0 224.9L256.7 222.0L253.6 220.7L250.9 223.5Z" fill="#7498ff"/><path d="M251.2 227.7L254.0 224.9L250.9 223.5L248.2 226.2Z" fill="#708cff"/><path d="M248.4 230.3L251.2 227.7L248.2 226.2L245.4 228.8Z" fill="#6c81ff"/><path d="M257.0 226.4L259.8 223.4L256.7 222.0L254.0 224.9Z" fill="#70a3ff"/><path d="M254.3 229.2L257.0 226.4L254.0 224.9L251.2 227.7Z" fill="#6e97ff"/><path d="M245.7 232.7L248.4 230.3L245.4 228.8L242.6 231.2Z" fill="#687aff"/><path d="M251.5 231.8L254.3 229.2L251.2 227.7L248.4 230.3Z" fill="#6b8dff"/><path d="M260.1 227.8L262.9 224.8L259.8 223.4L257.0 226.4Z" fill="#6cafff"/><path d="M242.9 235.0L245.7 232.7L242.6 231.2L239.8 233.5Z" fill="#6477ff"/><path d="M248.7 234.3L251.5 231.8L248.4 230.3L245.7 232.7Z" fill="#6786ff"/><path d="M257.4 230.6L260.1 227.8L257.0 226.4L254.3 229.2Z" fill="#6ba2ff"/><path d="M240.0 237.2L242.9 235.0L239.8 233.5L237.0 235.6Z" fill="#6077ff"/><path d="M254.6 233.3L257.4 230.6L254.3 229.2L251.5 231.8Z" fill="#6899ff"/><path d="M245.9 236.6L248.7 234.3L245.7 232.7L242.9 235.0Z" fill="#6383ff"/><path d="M263.2 229.2L266.0 226.2L262.9 224.8L260.1 227.8Z" fill="#68bbff"/><path d="M251.8 235.8L254.6 233.3L251.5 231.8L248.7 234.3Z" fill="#6592ff"/><path d="M260.5 232.1L263.2 229.2L260.1 227.8L257.4 230.6Z" fill="#67afff"/><path d="M237.2 239.2L240.0 237.2L237.0 235.6L234.2 237.5Z" fill="#5c7bff"/><path d="M243.1 238.8L245.9 236.6L242.9 235.0L240.0 237.2Z" fill="#6083ff"/><path d="M257.7 234.8L260.5 232.1L257.4 230.6L254.6 233.3Z" fill="#65a5ff"/><path d="M249.0 238.2L251.8 235.8L248.7 234.3L245.9 236.6Z" fill="#628eff"/><path d="M266.4 230.7L269.2 227.6L266.0 226.2L263.2 229.2Z" fill="#64c9ff"/><path d="M254.9 237.4L257.7 234.8L254.6 233.3L251.8 235.8Z" fill="#639eff"/><path d="M263.6 233.6L266.4 230.7L263.2 229.2L260.5 232.1Z" fill="#63bbff"/><path d="M240.2 240.9L243.1 238.8L240.0 237.2L237.2 239.2Z" fill="#5c86ff"/><path d="M234.3 241.1L237.2 239.2L234.2 237.5L231.3 239.4Z" fill="#5883ff"/><path d="M246.2 240.4L249.0 238.2L245.9 236.6L243.1 238.8Z" fill="#5e8eff"/><path d="M260.8 236.3L263.6 233.6L260.5 232.1L257.7 234.8Z" fill="#62b1ff"/><path d="M252.1 239.8L254.9 237.4L251.8 235.8L249.0 238.2Z" fill="#609aff"/><path d="M269.6 232.1L272.4 229.0L269.2 227.6L266.4 230.7Z" fill="#60d7ff"/><path d="M258.0 238.9L260.8 236.3L257.7 234.8L254.9 237.4Z" fill="#60aaff"/><path d="M266.8 235.0L269.6 232.1L266.4 230.7L263.6 233.6Z" fill="#60c9ff"/><path d="M237.3 242.8L240.2 240.9L237.2 239.2L234.3 241.1Z" fill="#588fff"/><path d="M243.3 242.5L246.2 240.4L243.1 238.8L240.2 240.9Z" fill="#5a92ff"/><path d="M231.4 242.8L234.3 241.1L231.3 239.4L228.3 241.0Z" fill="#5490ff"/><path d="M249.3 242.1L252.1 239.8L249.0 238.2L246.2 240.4Z" fill="#5c9aff"/><path d="M264.0 237.8L266.8 235.0L263.6 233.6L260.8 236.3Z" fill="#5ebeff"/><path d="M255.2 241.4L258.0 238.9L254.9 237.4L252.1 239.8Z" fill="#5da6ff"/><path d="M272.8 233.5L275.6 230.4L272.4 229.0L269.6 232.1Z" fill="#5ce7ff"/><path d="M261.2 240.5L264.0 237.8L260.8 236.3L258.0 238.9Z" fill="#5cb7ff"/><path d="M240.4 244.5L243.3 242.5L240.2 240.9L237.3 242.8Z" fill="#569aff"/><path d="M246.4 244.2L249.3 242.1L246.2 240.4L243.3 242.5Z" fill="#599eff"/><path d="M270.0 236.5L272.8 233.5L269.6 232.1L266.8 235.0Z" fill="#5cd8ff"/><path d="M234.4 244.5L237.3 242.8L234.3 241.1L231.4 242.8Z" fill="#539bff"/><path d="M252.4 243.7L255.2 241.4L252.1 239.8L249.3 242.1Z" fill="#5aa6ff"/><path d="M228.4 244.3L231.4 242.8L228.3 241.0L225.3 242.6Z" fill="#50a2ff"/><path d="M267.2 239.4L270.0 236.5L266.8 235.0L264.0 237.8Z" fill="#5accff"/><path d="M258.4 243.0L261.2 240.5L258.0 238.9L255.2 241.4Z" fill="#5ab3ff"/><path d="M276.1 235.0L278.9 231.8L275.6 230.4L272.8 233.5Z" fill="#58f8ff"/><path d="M264.4 242.1L267.2 239.4L264.0 237.8L261.2 240.5Z" fill="#59c4ff"/><path d="M243.5 246.2L246.4 244.2L243.3 242.5L240.4 244.5Z" fill="#55a5ff"/><path d="M249.5 245.9L252.4 243.7L249.3 242.1L246.4 244.2Z" fill="#56a9ff"/><path d="M237.5 246.3L240.4 244.5L237.3 242.8L234.4 244.5Z" fill="#53a6ff"/><path d="M273.3 238.0L276.1 235.0L272.8 233.5L270.0 236.5Z" fill="#58e8ff"/><path d="M255.6 245.4L258.4 243.0L255.2 241.4L252.4 243.7Z" fill="#57b2ff"/><path d="M231.4 246.1L234.4 244.5L231.4 242.8L228.4 244.3Z" fill="#4fadff"/><path d="M270.4 240.9L273.3 238.0L270.0 236.5L267.2 239.4Z" fill="#56dcff"/><path d="M261.6 244.6L264.4 242.1L261.2 240.5L258.4 243.0Z" fill="#56c0ff"/><path d="M225.4 245.8L228.4 244.3L225.3 242.6L222.3 243.9Z" fill="#4cb9ff"/><path d="M246.7 247.9L249.5 245.9L246.4 244.2L243.5 246.2Z" fill="#53b1ff"/><path d="M279.4 236.4L282.2 233.2L278.9 231.8L276.1 235.0Z" fill="#54fff4"/><path d="M240.6 248.0L243.5 246.2L240.4 244.5L237.5 246.3Z" fill="#51b2ff"/><path d="M267.6 243.6L270.4 240.9L267.2 239.4L264.4 242.1Z" fill="#55d3ff"/><path d="M252.7 247.6L255.6 245.4L252.4 243.7L249.5 245.9Z" fill="#54b6ff"/><path d="M234.5 247.9L237.5 246.3L234.4 244.5L231.4 246.1Z" fill="#4fb8ff"/><path d="M276.5 239.5L279.4 236.4L276.1 235.0L273.3 238.0Z" fill="#53f9ff"/><path d="M258.7 247.0L261.6 244.6L258.4 243.0L255.6 245.4Z" fill="#54bfff"/><path d="M228.4 247.6L231.4 246.1L228.4 244.3L225.4 245.8Z" fill="#4bc3ff"/><path d="M264.8 246.2L267.6 243.6L264.4 242.1L261.6 244.6Z" fill="#53ceff"/><path d="M273.7 242.4L276.5 239.5L273.3 238.0L270.4 240.9Z" fill="#53ecff"/><path d="M249.8 249.6L252.7 247.6L249.5 245.9L246.7 247.9Z" fill="#51beff"/><path d="M222.3 247.0L225.4 245.8L222.3 243.9L219.2 245.2Z" fill="#48d5ff"/><path d="M243.7 249.8L246.7 247.9L243.5 246.2L240.6 248.0Z" fill="#4fbeff"/><path d="M255.9 249.2L258.7 247.0L255.6 245.4L252.7 247.6Z" fill="#51c3ff"/><path d="M282.7 237.9L285.5 234.6L282.2 233.2L279.4 236.4Z" fill="#50ffe1"/><path d="M270.9 245.2L273.7 242.4L270.4 240.9L267.6 243.6Z" fill="#51e2ff"/><path d="M237.7 249.7L240.6 248.0L237.5 246.3L234.5 247.9Z" fill="#4dc3ff"/><path d="M262.0 248.6L264.8 246.2L261.6 244.6L258.7 247.0Z" fill="#51cdff"/><path d="M279.8 241.0L282.7 237.9L279.4 236.4L276.5 239.5Z" fill="#4ffff3"/><path d="M231.5 249.4L234.5 247.9L231.4 246.1L228.4 247.6Z" fill="#4bceff"/><path d="M268.1 247.8L270.9 245.2L267.6 243.6L264.8 246.2Z" fill="#4fddff"/><path d="M277.0 244.0L279.8 241.0L276.5 239.5L273.7 242.4Z" fill="#4ffdff"/><path d="M225.4 248.9L228.4 247.6L225.4 245.8L222.3 247.0Z" fill="#47dfff"/><path d="M253.0 251.4L255.9 249.2L252.7 247.6L249.8 249.6Z" fill="#4ecaff"/><path d="M246.9 251.5L249.8 249.6L246.7 247.9L243.7 249.8Z" fill="#4dcaff"/><path d="M259.1 250.9L262.0 248.6L258.7 247.0L255.9 249.2Z" fill="#4ed0ff"/><path d="M240.8 251.5L243.7 249.8L240.6 248.0L237.7 249.7Z" fill="#4ccfff"/><path d="M274.2 246.8L277.0 244.0L273.7 242.4L270.9 245.2Z" fill="#4df3ff"/><path d="M286.0 239.3L288.9 236.0L285.5 234.6L282.7 237.9Z" fill="#4cffcd"/><path d="M265.2 250.3L268.1 247.8L264.8 246.2L262.0 248.6Z" fill="#4ddcff"/><path d="M234.7 251.3L237.7 249.7L234.5 247.9L231.5 249.4Z" fill="#49d9ff"/><path d="M219.2 248.2L222.3 247.0L219.2 245.2L216.1 246.3Z" fill="#44f7ff"/><path d="M283.2 242.5L286.0 239.3L282.7 237.9L279.8 241.0Z" fill="#4bffe0"/><path d="M271.3 249.4L274.2 246.8L270.9 245.2L268.1 247.8Z" fill="#4cedff"/><path d="M228.5 250.8L231.5 249.4L228.4 247.6L225.4 248.9Z" fill="#47eaff"/><path d="M280.3 245.5L283.2 242.5L279.8 241.0L277.0 244.0Z" fill="#4bffef"/><path d="M250.1 253.3L253.0 251.4L249.8 249.6L246.9 251.5Z" fill="#4bd6ff"/><path d="M256.2 253.1L259.1 250.9L255.9 249.2L253.0 251.4Z" fill="#4bd8ff"/><path d="M244.0 253.3L246.9 251.5L243.7 249.8L240.8 251.5Z" fill="#4adbff"/><path d="M262.4 252.6L265.2 250.3L262.0 248.6L259.1 250.9Z" fill="#4bdfff"/><path d="M277.5 248.4L280.3 245.5L277.0 244.0L274.2 246.8Z" fill="#49fffa"/><path d="M237.8 253.1L240.8 251.5L237.7 249.7L234.7 251.3Z" fill="#48e5ff"/><path d="M289.4 240.8L292.3 237.4L288.9 236.0L286.0 239.3Z" fill="#48ffb8"/><path d="M222.3 250.1L225.4 248.9L222.3 247.0L219.2 248.2Z" fill="#43fffd"/><path d="M268.5 252.0L271.3 249.4L268.1 247.8L265.2 250.3Z" fill="#4aebff"/><path d="M286.6 244.0L289.4 240.8L286.0 239.3L283.2 242.5Z" fill="#47ffcc"/><path d="M231.6 252.7L234.7 251.3L231.5 249.4L228.5 250.8Z" fill="#46f5ff"/><path d="M274.7 251.1L277.5 248.4L274.2 246.8L271.3 249.4Z" fill="#48feff"/><path d="M283.7 247.0L286.6 244.0L283.2 242.5L280.3 245.5Z" fill="#47ffdc"/><path d="M253.3 255.1L256.2 253.1L253.0 251.4L250.1 253.3Z" fill="#48e4ff"/><path d="M259.5 254.8L262.4 252.6L259.1 250.9L256.2 253.1Z" fill="#48e6ff"/><path d="M216.0 249.2L219.2 248.2L216.1 246.3L212.9 247.2Z" fill="#3fffdf"/><path d="M247.2 255.1L250.1 253.3L246.9 251.5L244.0 253.3Z" fill="#48e7ff"/><path d="M265.6 254.3L268.5 252.0L265.2 250.3L262.4 252.6Z" fill="#48eeff"/><path d="M225.4 252.0L228.5 250.8L225.4 248.9L222.3 250.1Z" fill="#43fff3"/><path d="M241.0 255.0L244.0 253.3L240.8 251.5L237.8 253.1Z" fill="#46f0ff"/><path d="M280.9 249.9L283.7 247.0L280.3 245.5L277.5 248.4Z" fill="#46ffe7"/><path d="M271.8 253.6L274.7 251.1L271.3 249.4L268.5 252.0Z" fill="#46fcff"/><path d="M292.8 242.2L295.7 238.8L292.3 237.4L289.4 240.8Z" fill="#44ffa2"/><path d="M234.8 254.6L237.8 253.1L234.7 251.3L231.6 252.7Z" fill="#44fffe"/><path d="M290.0 245.5L292.8 242.2L289.4 240.8L286.6 244.0Z" fill="#43ffb7"/><path d="M278.0 252.7L280.9 249.9L277.5 248.4L274.7 251.1Z" fill="#44ffee"/><path d="M219.1 251.1L222.3 250.1L219.2 248.2L216.0 249.2Z" fill="#3fffd5"/><path d="M256.6 256.9L259.5 254.8L256.2 253.1L253.3 255.1Z" fill="#46f1ff"/><path d="M262.8 256.6L265.6 254.3L262.4 252.6L259.5 254.8Z" fill="#45f5ff"/><path d="M250.4 256.9L253.3 255.1L250.1 253.3L247.2 255.1Z" fill="#45f4ff"/><path d="M287.1 248.6L290.0 245.5L286.6 244.0L283.7 247.0Z" fill="#43ffc7"/><path d="M228.5 253.9L231.6 252.7L228.5 250.8L225.4 252.0Z" fill="#42ffe8"/><path d="M269.0 256.0L271.8 253.6L268.5 252.0L265.6 254.3Z" fill="#44feff"/><path d="M244.2 256.8L247.2 255.1L244.0 253.3L241.0 255.0Z" fill="#44fdff"/><path d="M284.3 251.5L287.1 248.6L283.7 247.0L280.9 249.9Z" fill="#42ffd4"/><path d="M275.2 255.3L278.0 252.7L274.7 251.1L271.8 253.6Z" fill="#43fff1"/><path d="M238.0 256.4L241.0 255.0L237.8 253.1L234.8 254.6Z" fill="#43fff2"/><path d="M296.3 243.7L299.2 240.2L295.7 238.8L292.8 242.2Z" fill="#3fff8a"/><path d="M212.7 250.0L216.0 249.2L212.9 247.2L209.6 248.0Z" fill="#3bffb0"/><path d="M222.2 253.1L225.4 252.0L222.3 250.1L219.1 251.1Z" fill="#3fffcb"/><path d="M293.4 247.0L296.3 243.7L292.8 242.2L290.0 245.5Z" fill="#3fffa0"/><path d="M259.9 258.7L262.8 256.6L259.5 254.8L256.6 256.9Z" fill="#43fffe"/><path d="M281.4 254.3L284.3 251.5L280.9 249.9L278.0 252.7Z" fill="#40ffdb"/><path d="M253.6 258.8L256.6 256.9L253.3 255.1L250.4 256.9Z" fill="#43fffc"/><path d="M266.1 258.3L269.0 256.0L265.6 254.3L262.8 256.6Z" fill="#42fffa"/><path d="M231.7 255.9L234.8 254.6L231.6 252.7L228.5 253.9Z" fill="#40ffdd"/><path d="M290.6 250.2L293.4 247.0L290.0 245.5L287.1 248.6Z" fill="#3fffb2"/><path d="M247.4 258.7L250.4 256.9L247.2 255.1L244.2 256.8Z" fill="#42fff4"/><path d="M272.3 257.8L275.2 255.3L271.8 253.6L269.0 256.0Z" fill="#41fff0"/><path d="M241.2 258.3L244.2 256.8L241.0 255.0L238.0 256.4Z" fill="#41ffe6"/><path d="M287.7 253.1L290.6 250.2L287.1 248.6L284.3 251.5Z" fill="#3effbf"/><path d="M278.5 257.0L281.4 254.3L278.0 252.7L275.2 255.3Z" fill="#3fffdf"/><path d="M215.8 252.0L219.1 251.1L216.0 249.2L212.7 250.0Z" fill="#3bffa7"/><path d="M225.4 255.0L228.5 253.9L225.4 252.0L222.2 253.1Z" fill="#3effc1"/><path d="M299.8 245.2L302.7 241.7L299.2 240.2L296.3 243.7Z" fill="#3bff71"/><path d="M263.2 260.5L266.1 258.3L262.8 256.6L259.9 258.7Z" fill="#3fffef"/><path d="M296.9 248.5L299.8 245.2L296.3 243.7L293.4 247.0Z" fill="#3bff88"/><path d="M234.9 257.8L238.0 256.4L234.8 254.6L231.7 255.9Z" fill="#3fffd2"/><path d="M256.9 260.6L259.9 258.7L256.6 256.9L253.6 258.8Z" fill="#40ffee"/><path d="M284.8 256.0L287.7 253.1L284.3 251.5L281.4 254.3Z" fill="#3dffc7"/><path d="M269.4 260.1L272.3 257.8L269.0 256.0L266.1 258.3Z" fill="#3fffe9"/><path d="M250.7 260.5L253.6 258.8L250.4 256.9L247.4 258.7Z" fill="#3fffe7"/><path d="M294.0 251.7L296.9 248.5L293.4 247.0L290.6 250.2Z" fill="#3bff9b"/><path d="M275.7 259.5L278.5 257.0L275.2 255.3L272.3 257.8Z" fill="#3dffde"/><path d="M219.0 254.0L222.2 253.1L219.1 251.1L215.8 252.0Z" fill="#3bff9e"/><path d="M244.4 260.2L247.4 258.7L244.2 256.8L241.2 258.3Z" fill="#3fffd9"/><path d="M209.4 250.7L212.7 250.0L209.6 248.0L206.3 248.6Z" fill="#37ff7b"/><path d="M228.5 257.0L231.7 255.9L228.5 253.9L225.4 255.0Z" fill="#3dffb6"/><path d="M282.0 258.7L284.8 256.0L281.4 254.3L278.5 257.0Z" fill="#3bffcc"/><path d="M291.2 254.8L294.0 251.7L290.6 250.2L287.7 253.1Z" fill="#3affa9"/><path d="M238.1 259.7L241.2 258.3L238.0 256.4L234.9 257.8Z" fill="#3dffc5"/><path d="M303.4 246.7L306.3 243.1L302.7 241.7L299.8 245.2Z" fill="#37ff57"/><path d="M266.5 262.3L269.4 260.1L266.1 258.3L263.2 260.5Z" fill="#3cffdf"/><path d="M260.2 262.4L263.2 260.5L259.9 258.7L256.9 260.6Z" fill="#3dffdf"/><path d="M272.8 261.8L275.7 259.5L272.3 257.8L269.4 260.1Z" fill="#3bffd8"/><path d="M300.4 250.1L303.4 246.7L299.8 245.2L296.9 248.5Z" fill="#37ff6f"/><path d="M288.3 257.6L291.2 254.8L287.7 253.1L284.8 256.0Z" fill="#39ffb3"/><path d="M254.0 262.4L256.9 260.6L253.6 258.8L250.7 260.5Z" fill="#3dffd8"/><path d="M222.1 256.0L225.4 255.0L222.2 253.1L219.0 254.0Z" fill="#3aff94"/><path d="M212.5 252.7L215.8 252.0L212.7 250.0L209.4 250.7Z" fill="#37ff73"/><path d="M279.1 261.2L282.0 258.7L278.5 257.0L275.7 259.5Z" fill="#39ffcb"/><path d="M297.6 253.3L300.4 250.1L296.9 248.5L294.0 251.7Z" fill="#36ff83"/><path d="M247.7 262.2L250.7 260.5L247.4 258.7L244.4 260.2Z" fill="#3cffcc"/><path d="M231.7 259.0L234.9 257.8L231.7 255.9L228.5 257.0Z" fill="#3bffab"/><path d="M285.4 260.4L288.3 257.6L284.8 256.0L282.0 258.7Z" fill="#37ffb7"/><path d="M294.7 256.4L297.6 253.3L294.0 251.7L291.2 254.8Z" fill="#36ff92"/><path d="M241.3 261.7L244.4 260.2L241.2 258.3L238.1 259.7Z" fill="#3bffb9"/><path d="M263.6 264.3L266.5 262.3L263.2 260.5L260.2 262.4Z" fill="#3affcf"/><path d="M269.9 264.1L272.8 261.8L269.4 260.1L266.5 262.3Z" fill="#39ffce"/><path d="M306.9 248.1L309.9 244.5L306.3 243.1L303.4 246.7Z" fill="#33ff3c"/><path d="M257.3 264.3L260.2 262.4L256.9 260.6L254.0 262.4Z" fill="#3affca"/><path d="M276.2 263.6L279.1 261.2L275.7 259.5L272.8 261.8Z" fill="#38ffc6"/><path d="M215.7 254.8L219.0 254.0L215.8 252.0L212.5 252.7Z" fill="#36ff69"/><path d="M225.3 258.0L228.5 257.0L225.4 255.0L222.1 256.0Z" fill="#39ff89"/><path d="M291.8 259.3L294.7 256.4L291.2 254.8L288.3 257.6Z" fill="#35ff9c"/><path d="M304.0 251.6L306.9 248.1L303.4 246.7L300.4 250.1Z" fill="#33ff55"/><path d="M206.0 251.2L209.4 250.7L206.3 248.6L202.8 249.1Z" fill="#33ff3f"/><path d="M251.0 264.1L254.0 262.4L250.7 260.5L247.7 262.2Z" fill="#3affbe"/><path d="M282.5 263.0L285.4 260.4L282.0 258.7L279.1 261.2Z" fill="#36ffb7"/><path d="M235.0 261.0L238.1 259.7L234.9 257.8L231.7 259.0Z" fill="#39ff9f"/><path d="M301.1 254.9L304.0 251.6L300.4 250.1L297.6 253.3Z" fill="#32ff6a"/><path d="M244.6 263.6L247.7 262.2L244.4 260.2L241.3 261.7Z" fill="#39ffac"/><path d="M288.9 262.1L291.8 259.3L288.3 257.6L285.4 260.4Z" fill="#33ffa2"/><path d="M298.2 258.0L301.1 254.9L297.6 253.3L294.7 256.4Z" fill="#32ff7a"/><path d="M267.0 266.1L269.9 264.1L266.5 262.3L263.6 264.3Z" fill="#36ffbe"/><path d="M273.3 265.9L276.2 263.6L272.8 261.8L269.9 264.1Z" fill="#35ffbc"/><path d="M218.9 256.8L222.1 256.0L219.0 254.0L215.7 254.8Z" fill="#36ff60"/><path d="M228.6 260.0L231.7 259.0L228.5 257.0L225.3 258.0Z" fill="#37ff7e"/><path d="M260.6 266.2L263.6 264.3L260.2 262.4L257.3 264.3Z" fill="#37ffba"/><path d="M279.6 265.4L282.5 263.0L279.1 261.2L276.2 263.6Z" fill="#34ffb3"/><path d="M209.1 253.3L212.5 252.7L209.4 250.7L206.0 251.2Z" fill="#33ff37"/><path d="M310.6 249.6L313.5 246.0L309.9 244.5L306.9 248.1Z" fill="#3fff2f"/><path d="M238.2 263.0L241.3 261.7L238.1 259.7L235.0 261.0Z" fill="#38ff93"/><path d="M295.3 261.0L298.2 258.0L294.7 256.4L291.8 259.3Z" fill="#31ff85"/><path d="M254.3 266.0L257.3 264.3L254.0 262.4L251.0 264.1Z" fill="#37ffaf"/><path d="M307.6 253.1L310.6 249.6L306.9 248.1L304.0 251.6Z" fill="#2fff3a"/><path d="M286.0 264.7L288.9 262.1L285.4 260.4L282.5 263.0Z" fill="#32ffa3"/><path d="M304.7 256.4L307.6 253.1L304.0 251.6L301.1 254.9Z" fill="#2eff50"/><path d="M247.9 265.6L251.0 264.1L247.7 262.2L244.6 263.6Z" fill="#36ff9e"/><path d="M292.4 263.8L295.3 261.0L291.8 259.3L288.9 262.1Z" fill="#30ff8c"/><path d="M222.1 258.9L225.3 258.0L222.1 256.0L218.9 256.8Z" fill="#35ff56"/><path d="M231.8 262.1L235.0 261.0L231.7 259.0L228.6 260.0Z" fill="#36ff72"/><path d="M270.4 268.0L273.3 265.9L269.9 264.1L267.0 266.1Z" fill="#33ffac"/><path d="M301.8 259.6L304.7 256.4L301.1 254.9L298.2 258.0Z" fill="#2eff61"/><path d="M212.3 255.4L215.7 254.8L212.5 252.7L209.1 253.3Z" fill="#36ff32"/><path d="M276.7 267.7L279.6 265.4L276.2 263.6L273.3 265.9Z" fill="#32ffa9"/><path d="M264.0 268.1L267.0 266.1L263.6 264.3L260.6 266.2Z" fill="#34ffa9"/><path d="M283.1 267.2L286.0 264.7L282.5 263.0L279.6 265.4Z" fill="#30ff9e"/><path d="M241.5 265.0L244.6 263.6L241.3 261.7L238.2 263.0Z" fill="#35ff85"/><path d="M257.7 267.9L260.6 266.2L257.3 264.3L254.3 266.0Z" fill="#34ffa0"/><path d="M202.5 251.6L206.0 251.2L202.8 249.1L199.3 249.4Z" fill="#62ff2f"/><path d="M298.9 262.6L301.8 259.6L298.2 258.0L295.3 261.0Z" fill="#2dff6d"/><path d="M314.2 251.1L317.2 247.4L313.5 246.0L310.6 249.6Z" fill="#55ff2b"/><path d="M289.5 266.5L292.4 263.8L288.9 262.1L286.0 264.7Z" fill="#2eff8d"/><path d="M311.3 254.7L314.2 251.1L310.6 249.6L307.6 253.1Z" fill="#38ff2b"/><path d="M251.3 267.6L254.3 266.0L251.0 264.1L247.9 265.6Z" fill="#34ff8f"/><path d="M225.3 261.0L228.6 260.0L225.3 258.0L222.1 258.9Z" fill="#33ff4b"/><path d="M308.3 258.0L311.3 254.7L307.6 253.1L304.7 256.4Z" fill="#2aff34"/><path d="M215.5 257.5L218.9 256.8L215.7 254.8L212.3 255.4Z" fill="#3eff32"/><path d="M235.1 264.1L238.2 263.0L235.0 261.0L231.8 262.1Z" fill="#34ff66"/><path d="M296.0 265.5L298.9 262.6L295.3 261.0L292.4 263.8Z" fill="#2cff74"/><path d="M273.8 269.9L276.7 267.7L273.3 265.9L270.4 268.0Z" fill="#30ff9a"/><path d="M280.2 269.5L283.1 267.2L279.6 265.4L276.7 267.7Z" fill="#2eff95"/><path d="M267.4 270.0L270.4 268.0L267.0 266.1L264.0 268.1Z" fill="#31ff98"/><path d="M205.6 253.7L209.1 253.3L206.0 251.2L202.5 251.6Z" fill="#69ff2f"/><path d="M305.4 261.2L308.3 258.0L304.7 256.4L301.8 259.6Z" fill="#2aff47"/><path d="M244.8 267.0L247.9 265.6L244.6 263.6L241.5 265.0Z" fill="#33ff78"/><path d="M286.6 269.0L289.5 266.5L286.0 264.7L283.1 267.2Z" fill="#2dff89"/><path d="M261.0 269.9L264.0 268.1L260.6 266.2L257.7 267.9Z" fill="#31ff8f"/><path d="M302.5 264.3L305.4 261.2L301.8 259.6L298.9 262.6Z" fill="#29ff53"/><path d="M293.1 268.2L296.0 265.5L292.4 263.8L289.5 266.5Z" fill="#2aff76"/><path d="M254.6 269.5L257.7 267.9L254.3 266.0L251.3 267.6Z" fill="#31ff80"/><path d="M317.9 252.6L320.9 248.9L317.2 247.4L314.2 251.1Z" fill="#6cff27"/><path d="M228.6 263.0L231.8 262.1L228.6 260.0L225.3 261.0Z" fill="#32ff3f"/><path d="M218.7 259.6L222.1 258.9L218.9 256.8L215.5 257.5Z" fill="#46ff31"/><path d="M315.0 256.2L317.9 252.6L314.2 251.1L311.3 254.7Z" fill="#4eff27"/><path d="M238.4 266.2L241.5 265.0L238.2 263.0L235.1 264.1Z" fill="#32ff59"/><path d="M208.8 255.8L212.3 255.4L209.1 253.3L205.6 253.7Z" fill="#70ff2e"/><path d="M312.0 259.6L315.0 256.2L311.3 254.7L308.3 258.0Z" fill="#35ff26"/><path d="M277.3 271.7L280.2 269.5L276.7 267.7L273.8 269.9Z" fill="#2cff87"/><path d="M299.6 267.2L302.5 264.3L298.9 262.6L296.0 265.5Z" fill="#28ff5b"/><path d="M270.9 271.9L273.8 269.9L270.4 268.0L267.4 270.0Z" fill="#2dff86"/><path d="M248.2 269.0L251.3 267.6L247.9 265.6L244.8 267.0Z" fill="#31ff69"/><path d="M283.7 271.4L286.6 269.0L283.1 267.2L280.2 269.5Z" fill="#2bff80"/><path d="M264.5 271.8L267.4 270.0L264.0 268.1L261.0 269.9Z" fill="#2eff7e"/><path d="M309.1 262.9L312.0 259.6L308.3 258.0L305.4 261.2Z" fill="#26ff2b"/><path d="M290.2 270.8L293.1 268.2L289.5 266.5L286.6 269.0Z" fill="#29ff73"/><path d="M198.8 251.8L202.5 251.6L199.3 249.4L195.7 249.6Z" fill="#a4ff2b"/><path d="M231.8 265.1L235.1 264.1L231.8 262.1L228.6 263.0Z" fill="#30ff33"/><path d="M222.0 261.7L225.3 261.0L222.1 258.9L218.7 259.6Z" fill="#4eff30"/><path d="M258.0 271.5L261.0 269.9L257.7 267.9L254.6 269.5Z" fill="#2eff70"/><path d="M306.2 266.0L309.1 262.9L305.4 261.2L302.5 264.3Z" fill="#25ff39"/><path d="M241.7 268.2L244.8 267.0L241.5 265.0L238.4 266.2Z" fill="#30ff4c"/><path d="M296.7 270.0L299.6 267.2L296.0 265.5L293.1 268.2Z" fill="#26ff5e"/><path d="M212.0 258.0L215.5 257.5L212.3 255.4L208.8 255.8Z" fill="#78ff2e"/><path d="M251.6 271.0L254.6 269.5L251.3 267.6L248.2 269.0Z" fill="#2eff5a"/><path d="M280.8 273.6L283.7 271.4L280.2 269.5L277.3 271.7Z" fill="#29ff72"/><path d="M274.4 273.8L277.3 271.7L273.8 269.9L270.9 271.9Z" fill="#2aff73"/><path d="M287.3 273.2L290.2 270.8L286.6 269.0L283.7 271.4Z" fill="#27ff6b"/><path d="M202.0 254.0L205.6 253.7L202.5 251.6L198.8 251.8Z" fill="#abff2b"/><path d="M303.2 268.9L306.2 266.0L302.5 264.3L299.6 267.2Z" fill="#24ff42"/><path d="M267.9 273.8L270.9 271.9L267.4 270.0L264.5 271.8Z" fill="#2bff6c"/><path d="M293.8 272.6L296.7 270.0L293.1 268.2L290.2 270.8Z" fill="#25ff5c"/><path d="M235.2 267.2L238.4 266.2L235.1 264.1L231.8 265.1Z" fill="#36ff2e"/><path d="M225.2 263.8L228.6 263.0L225.3 261.0L222.0 261.7Z" fill="#57ff2e"/><path d="M261.5 273.5L264.5 271.8L261.0 269.9L258.0 271.5Z" fill="#2bff5f"/><path d="M245.1 270.3L248.2 269.0L244.8 267.0L241.7 268.2Z" fill="#2dff3d"/><path d="M215.3 260.2L218.7 259.6L215.5 257.5L212.0 258.0Z" fill="#80ff2d"/><path d="M300.3 271.8L303.2 268.9L299.6 267.2L296.7 270.0Z" fill="#23ff45"/><path d="M255.0 273.0L258.0 271.5L254.6 269.5L251.6 271.0Z" fill="#2bff4a"/><path d="M205.3 256.1L208.8 255.8L205.6 253.7L202.0 254.0Z" fill="#b2ff2a"/><path d="M284.4 275.5L287.3 273.2L283.7 271.4L280.8 273.6Z" fill="#25ff5d"/><path d="M277.9 275.7L280.8 273.6L277.3 271.7L274.4 273.8Z" fill="#27ff5f"/><path d="M290.9 275.1L293.8 272.6L290.2 270.8L287.3 273.2Z" fill="#23ff54"/><path d="M271.4 275.7L274.4 273.8L270.9 271.9L267.9 273.8Z" fill="#28ff59"/><path d="M228.6 266.0L231.8 265.1L228.6 263.0L225.2 263.8Z" fill="#5fff2d"/><path d="M238.5 269.3L241.7 268.2L238.4 266.2L235.2 267.2Z" fill="#40ff2c"/><path d="M218.6 262.3L222.0 261.7L218.7 259.6L215.3 260.2Z" fill="#88ff2c"/><path d="M297.4 274.4L300.3 271.8L296.7 270.0L293.8 272.6Z" fill="#21ff43"/><path d="M264.9 275.5L267.9 273.8L264.5 271.8L261.5 273.5Z" fill="#28ff4d"/><path d="M195.1 251.8L198.8 251.8L195.7 249.6L191.9 249.6Z" fill="#efff27"/><path d="M248.5 272.3L251.6 271.0L248.2 269.0L245.1 270.3Z" fill="#2bff2e"/><path d="M208.5 258.3L212.0 258.0L208.8 255.8L205.3 256.1Z" fill="#b9ff2a"/><path d="M258.4 275.1L261.5 273.5L258.0 271.5L255.0 273.0Z" fill="#29ff39"/><path d="M281.4 277.7L284.4 275.5L280.8 273.6L277.9 275.7Z" fill="#23ff4a"/><path d="M288.0 277.4L290.9 275.1L287.3 273.2L284.4 275.5Z" fill="#22ff47"/><path d="M231.9 268.1L235.2 267.2L231.8 265.1L228.6 266.0Z" fill="#68ff2b"/><path d="M241.9 271.4L245.1 270.3L241.7 268.2L238.5 269.3Z" fill="#49ff2a"/><path d="M274.9 277.7L277.9 275.7L274.4 273.8L271.4 275.7Z" fill="#24ff46"/><path d="M294.5 277.0L297.4 274.4L293.8 272.6L290.9 275.1Z" fill="#20ff3c"/><path d="M221.9 264.5L225.2 263.8L222.0 261.7L218.6 262.3Z" fill="#90ff2a"/><path d="M198.4 254.0L202.0 254.0L198.8 251.8L195.1 251.8Z" fill="#f5ff27"/><path d="M251.9 274.4L255.0 273.0L251.6 271.0L248.5 272.3Z" fill="#32ff28"/><path d="M268.4 277.5L271.4 275.7L267.9 273.8L264.9 275.5Z" fill="#25ff3a"/><path d="M211.8 260.5L215.3 260.2L212.0 258.0L208.5 258.3Z" fill="#c0ff29"/><path d="M261.9 277.1L264.9 275.5L261.5 273.5L258.4 275.1Z" fill="#26ff28"/><path d="M235.2 270.2L238.5 269.3L235.2 267.2L231.9 268.1Z" fill="#72ff29"/><path d="M201.6 256.3L205.3 256.1L202.0 254.0L198.4 254.0Z" fill="#fbff26"/><path d="M245.3 273.5L248.5 272.3L245.1 270.3L241.9 271.4Z" fill="#54ff28"/><path d="M285.0 279.6L288.0 277.4L284.4 275.5L281.4 277.7Z" fill="#20ff34"/><path d="M225.2 266.7L228.6 266.0L225.2 263.8L221.9 264.5Z" fill="#98ff29"/><path d="M291.6 279.3L294.5 277.0L290.9 275.1L288.0 277.4Z" fill="#1eff2f"/><path d="M278.5 279.7L281.4 277.7L277.9 275.7L274.9 277.7Z" fill="#21ff31"/><path d="M255.3 276.5L258.4 275.1L255.0 273.0L251.9 274.4Z" fill="#3eff26"/><path d="M215.1 262.8L218.6 262.3L215.3 260.2L211.8 260.5Z" fill="#c8ff28"/><path d="M271.9 279.6L274.9 277.7L271.4 275.7L268.4 277.5Z" fill="#22ff27"/><path d="M265.4 279.2L268.4 277.5L264.9 275.5L261.9 277.1Z" fill="#30ff23"/><path d="M204.9 258.5L208.5 258.3L205.3 256.1L201.6 256.3Z" fill="#fffc26"/><path d="M238.6 272.4L241.9 271.4L238.5 269.3L235.2 270.2Z" fill="#7cff27"/><path d="M228.5 268.8L231.9 268.1L228.6 266.0L225.2 266.7Z" fill="#a1ff27"/><path d="M248.7 275.6L251.9 274.4L248.5 272.3L245.3 273.5Z" fill="#5eff25"/><path d="M288.7 281.6L291.6 279.3L288.0 277.4L285.0 279.6Z" fill="#1cff1d"/><path d="M282.1 281.7L285.0 279.6L281.4 277.7L278.5 279.7Z" fill="#1fff1e"/><path d="M218.4 265.0L221.9 264.5L218.6 262.3L215.1 262.8Z" fill="#d0ff26"/><path d="M258.8 278.6L261.9 277.1L258.4 275.1L255.3 276.5Z" fill="#49ff23"/><path d="M275.5 281.6L278.5 279.7L274.9 277.7L271.9 279.6Z" fill="#2bff1f"/><path d="M208.2 260.8L211.8 260.5L208.5 258.3L204.9 258.5Z" fill="#fff525"/><path d="M268.9 281.3L271.9 279.6L268.4 277.5L265.4 279.2Z" fill="#3dff1f"/><path d="M242.1 274.6L245.3 273.5L241.9 271.4L238.6 272.4Z" fill="#86ff24"/><path d="M231.9 271.0L235.2 270.2L231.9 268.1L228.5 268.8Z" fill="#abff25"/><path d="M252.2 277.8L255.3 276.5L251.9 274.4L248.7 275.6Z" fill="#69ff23"/><path d="M221.7 267.2L225.2 266.7L221.9 264.5L218.4 265.0Z" fill="#d9ff25"/><path d="M285.7 283.7L288.7 281.6L285.0 279.6L282.1 281.7Z" fill="#2fff1a"/><path d="M262.3 280.7L265.4 279.2L261.9 277.1L258.8 278.6Z" fill="#56ff20"/><path d="M279.1 283.6L282.1 281.7L278.5 279.7L275.5 281.6Z" fill="#39ff1b"/><path d="M211.5 263.0L215.1 262.8L211.8 260.5L208.2 260.8Z" fill="#ffee24"/><path d="M245.5 276.7L248.7 275.6L245.3 273.5L242.1 274.6Z" fill="#91ff22"/><path d="M235.3 273.2L238.6 272.4L235.2 270.2L231.9 271.0Z" fill="#b5ff23"/><path d="M272.5 283.3L275.5 281.6L271.9 279.6L268.9 281.3Z" fill="#4bff1c"/><path d="M255.7 279.9L258.8 278.6L255.3 276.5L252.2 277.8Z" fill="#75ff20"/><path d="M225.1 269.4L228.5 268.8L225.2 266.7L221.7 267.2Z" fill="#e1ff23"/><path d="M265.9 282.8L268.9 281.3L265.4 279.2L262.3 280.7Z" fill="#63ff1d"/><path d="M214.8 265.3L218.4 265.0L215.1 262.8L211.5 263.0Z" fill="#ffe623"/><path d="M282.8 285.7L285.7 283.7L282.1 281.7L279.1 283.6Z" fill="#49ff18"/><path d="M238.8 275.5L242.1 274.6L238.6 272.4L235.3 273.2Z" fill="#bfff21"/><path d="M249.0 278.9L252.2 277.8L248.7 275.6L245.5 276.7Z" fill="#9cff1f"/><path d="M276.1 285.4L279.1 283.6L275.5 281.6L272.5 283.3Z" fill="#59ff19"/><path d="M228.5 271.7L231.9 271.0L228.5 268.8L225.1 269.4Z" fill="#ebff22"/><path d="M259.2 282.1L262.3 280.7L258.8 278.6L255.7 279.9Z" fill="#82ff1d"/><path d="M218.2 267.6L221.7 267.2L218.4 265.0L214.8 265.3Z" fill="#ffde21"/><path d="M269.5 284.9L272.5 283.3L268.9 281.3L265.9 282.8Z" fill="#70ff1a"/><path d="M242.2 277.7L245.5 276.7L242.1 274.6L238.8 275.5Z" fill="#caff1f"/><path d="M252.5 281.1L255.7 279.9L252.2 277.8L249.0 278.9Z" fill="#a8ff1d"/><path d="M231.9 273.9L235.3 273.2L231.9 271.0L228.5 271.7Z" fill="#f5ff20"/><path d="M279.8 287.5L282.8 285.7L279.1 283.6L276.1 285.4Z" fill="#68ff16"/><path d="M262.8 284.2L265.9 282.8L262.3 280.7L259.2 282.1Z" fill="#8fff1a"/><path d="M221.6 269.9L225.1 269.4L221.7 267.2L218.2 267.6Z" fill="#ffd520"/><path d="M273.1 287.1L276.1 285.4L272.5 283.3L269.5 284.9Z" fill="#7fff16"/><path d="M245.7 279.9L249.0 278.9L245.5 276.7L242.2 277.7Z" fill="#d5ff1c"/><path d="M256.0 283.3L259.2 282.1L255.7 279.9L252.5 281.1Z" fill="#b4ff1a"/><path d="M235.4 276.2L238.8 275.5L235.3 273.2L231.9 273.9Z" fill="#ffff1e"/><path d="M266.4 286.4L269.5 284.9L265.9 282.8L262.8 284.2Z" fill="#9dff17"/><path d="M225.0 272.2L228.5 271.7L225.1 269.4L221.6 269.9Z" fill="#ffcc1e"/><path d="M276.7 289.2L279.8 287.5L276.1 285.4L273.1 287.1Z" fill="#8fff14"/><path d="M249.3 282.2L252.5 281.1L249.0 278.9L245.7 279.9Z" fill="#e1ff1a"/><path d="M259.6 285.5L262.8 284.2L259.2 282.1L256.0 283.3Z" fill="#c1ff17"/><path d="M238.9 278.5L242.2 277.7L238.8 275.5L235.4 276.2Z" fill="#fff41b"/><path d="M270.0 288.6L273.1 287.1L269.5 284.9L266.4 286.4Z" fill="#abff14"/><path d="M228.5 274.5L231.9 273.9L228.5 271.7L225.0 272.2Z" fill="#ffc21c"/><path d="M252.8 284.4L256.0 283.3L252.5 281.1L249.3 282.2Z" fill="#eeff17"/><path d="M242.4 280.8L245.7 279.9L242.2 277.7L238.9 278.5Z" fill="#ffe919"/><path d="M263.2 287.7L266.4 286.4L262.8 284.2L259.6 285.5Z" fill="#cfff14"/><path d="M232.0 276.8L235.4 276.2L231.9 273.9L228.5 274.5Z" fill="#ffb81a"/><path d="M273.7 290.8L276.7 289.2L273.1 287.1L270.0 288.6Z" fill="#bbff14"/><path d="M256.4 286.7L259.6 285.5L256.0 283.3L252.8 284.4Z" fill="#fbff14"/><path d="M246.0 283.1L249.3 282.2L245.7 279.9L242.4 280.8Z" fill="#ffdd16"/><path d="M266.9 290.0L270.0 288.6L266.4 286.4L263.2 287.7Z" fill="#deff14"/><path d="M235.5 279.1L238.9 278.5L235.4 276.2L232.0 276.8Z" fill="#ffad18"/><path d="M260.1 288.9L263.2 287.7L259.6 285.5L256.4 286.7Z" fill="#fff614"/><path d="M249.5 285.4L252.8 284.4L249.3 282.2L246.0 283.1Z" fill="#ffd014"/><path d="M270.6 292.2L273.7 290.8L270.0 288.6L266.9 290.0Z" fill="#edff14"/><path d="M239.0 281.5L242.4 280.8L238.9 278.5L235.5 279.1Z" fill="#ffa116"/><path d="M253.2 287.7L256.4 286.7L252.8 284.4L249.5 285.4Z" fill="#ffc414"/><path d="M263.7 291.2L266.9 290.0L263.2 287.7L260.1 288.9Z" fill="#ffe714"/><path d="M242.6 283.8L246.0 283.1L242.4 280.8L239.0 281.5Z" fill="#ff9614"/><path d="M256.8 290.0L260.1 288.9L256.4 286.7L253.2 287.7Z" fill="#ffb714"/><path d="M267.4 293.5L270.6 292.2L266.9 290.0L263.7 291.2Z" fill="#ffd914"/><path d="M246.2 286.2L249.5 285.4L246.0 283.1L242.6 283.8Z" fill="#ff8a14"/><path d="M260.5 292.3L263.7 291.2L260.1 288.9L256.8 290.0Z" fill="#ffa914"/><path d="M249.8 288.5L253.2 287.7L249.5 285.4L246.2 286.2Z" fill="#ff7f14"/><path d="M264.2 294.7L267.4 293.5L263.7 291.2L260.5 292.3Z" fill="#ff9c14"/><path d="M253.5 290.9L256.8 290.0L253.2 287.7L249.8 288.5Z" fill="#ff7214"/><path d="M257.2 293.3L260.5 292.3L256.8 290.0L253.5 290.9Z" fill="#ff6614"/><path d="M261.0 295.7L264.2 294.7L260.5 292.3L257.2 293.3Z" fill="#ff5914"/></g>
<text x="194.9" y="272.8" font-size="3.8" text-anchor="end" fill="#333">10</text>
<circle cx="196.2" cy="273.2" r="0.5" fill="#222"/>
<text x="193.3" y="263.8" font-size="3.8" text-anchor="end" fill="#333">20</text>
<circle cx="194.6" cy="264.2" r="0.5" fill="#222"/>
<text x="191.6" y="254.3" font-size="3.8" text-anchor="end" fill="#333">30</text>
<circle cx="192.9" cy="254.7" r="0.5" fill="#222"/>
<text x="189.8" y="244.3" font-size="3.8" text-anchor="end" fill="#333">40</text>
<circle cx="191.1" cy="244.7" r="0.5" fill="#222"/>
<text x="187.8" y="233.6" font-size="3.8" text-anchor="end" fill="#333">50</text>
<circle cx="189.1" cy="234.0" r="0.5" fill="#222"/>
<path d="M198.4 285.1L189.1 234.0" stroke="#777" stroke-width="0.5"/>
<text x="191.9" y="290.5" font-size="3.8" text-anchor="middle" fill="#333">25.00</text>
<text x="203.7" y="299.7" font-size="3.8" text-anchor="middle" fill="#333">23.00</text>
<text x="215.8" y="309.1" font-size="3.8" text-anchor="middle" fill="#333">21.00</text>
<text x="228.2" y="318.8" font-size="3.8" text-anchor="middle" fill="#333">19.00</text>
<text x="240.9" y="328.7" font-size="3.8" text-anchor="middle" fill="#333">17.00</text>
<text x="254.0" y="338.9" font-size="3.8" text-anchor="middle" fill="#333">15.00</text>
<text x="265.5" y="338.6" font-size="3.8" text-anchor="middle" fill="#333">0.00</text>
<text x="277.0" y="327.3" font-size="3.8" text-anchor="middle" fill="#333">20.00</text>
<text x="288.3" y="316.4" font-size="3.8" text-anchor="middle" fill="#333">40.00</text>
<text x="299.3" y="305.8" font-size="3.8" text-anchor="middle" fill="#333">60.00</text>
<text x="310.0" y="295.4" font-size="3.8" text-anchor="middle" fill="#333">80.00</text>
<text x="320.4" y="285.2" font-size="3.8" text-anchor="middle" fill="#333">100.00</text>
<text x="209.1" y="329.3" font-size="2.5" text-anchor="middle" fill="#444" stroke="#444" stroke-width="0.12">B: Organic p volume (ml)</text>
<text x="307.4" y="327.2" font-size="2.5" text-anchor="middle" fill="#444" stroke="#444" stroke-width="0.12">A: Eudragit RS 100 (%)</text>
<text x="173.4" y="261.0" font-size="2.5" text-anchor="middle" fill="#444" transform="rotate(-90 173.4 261.0)" stroke="#444" stroke-width="0.12">P.S. (micrometer)</text>
<circle cx="192.1" cy="249.3" r="1.2" fill="#b00000"/>
<circle cx="257.0" cy="256.0" r="1.2" fill="#b00000"/>
<circle cx="262.1" cy="295.7" r="1.2" fill="#b00000"/>
<path d="M586.5 336.9L658.0 291.3L601.0 241.6L532.2 279.8Z" fill="#5e5e5e"/>
<g stroke="#7a7a7a" stroke-width="0.55" fill="none"><path d="M532.2 279.8L522.8 215.8"/><path d="M546.7 271.7L539.5 207.6"/><path d="M560.8 263.9L555.7 199.6"/><path d="M574.5 256.3L571.4 191.9"/><path d="M587.9 248.9L586.7 184.4"/><path d="M601.0 241.6L601.5 177.1"/><path d="M532.2 279.8L601.0 241.6"/><path d="M530.0 264.6L601.1 226.3"/><path d="M528.9 257.2L601.2 218.7"/><path d="M527.7 249.4L601.2 210.9"/><path d="M526.6 241.5L601.3 202.9"/><path d="M525.3 233.2L601.4 194.6"/><path d="M524.1 224.7L601.4 186.0"/><path d="M522.8 215.8L601.5 177.1"/><path d="M658.0 291.3L667.0 227.3"/><path d="M645.8 280.7L652.8 216.4"/><path d="M634.0 270.4L639.2 206.0"/><path d="M622.6 260.5L626.1 196.0"/><path d="M611.6 250.9L613.6 186.4"/><path d="M601.0 241.6L601.5 177.1"/><path d="M658.0 291.3L601.0 241.6"/><path d="M660.1 276.2L601.1 226.3"/><path d="M661.2 268.8L601.2 218.7"/><path d="M662.3 261.0L601.2 210.9"/><path d="M663.4 253.0L601.3 202.9"/><path d="M664.6 244.8L601.4 194.6"/><path d="M665.8 236.2L601.4 186.0"/><path d="M667.0 227.3L601.5 177.1"/></g>
<path d="M647.8 297.9 647.9 296.9 648.1 295.4 648.3 294.4 648.5 293.1 648.8 291.7 648.9 290.8 649.2 289.5 649.5 288.2 649.7 287.3 650.0 286.0 650.3 284.6 650.3 284.6" fill="none" stroke="#0063e0" stroke-width="0.9"/>
<path d="M636.9 304.8 637.0 303.8 637.1 302.3 637.2 301.3 637.4 299.7 637.4 298.8 637.6 297.2 637.8 296.3 638.0 294.9 638.1 293.8 638.3 292.6 638.5 291.2 638.7 290.3 639.0 288.9 639.2 287.7 639.4 286.8 639.7 285.4 640.0 284.2 640.2 283.3 640.6 281.9 640.9 280.7 641.2 279.8 641.5 278.6 641.9 277.3 641.9 277.3" fill="none" stroke="#00e0d3" stroke-width="0.9"/>
<path d="M625.3 312.2 625.2 311.2 625.2 309.8 625.2 308.3 625.2 307.4 625.2 305.8 625.2 304.6 625.2 303.4 625.3 302.0 625.3 301.0 625.4 299.4 625.5 298.5 625.6 297.0 625.7 296.0 625.8 294.6 625.9 293.6 626.1 292.1 626.2 291.2 626.4 289.7 626.6 288.8 626.8 287.4 627.0 286.2 627.2 285.2 627.5 283.8 627.8 282.8 628.0 281.7 628.4 280.3 628.7 279.4 629.0 278.3 629.4 277.0 629.8 275.8 630.1 274.9 630.4 273.8 630.9 272.6 631.4 271.3 631.8 270.3 632.2 269.3 632.4 269.0" fill="none" stroke="#00e048" stroke-width="0.9"/>
<path d="M534.1 278.7 533.2 279.8 532.8 280.4" fill="none" stroke="#00e048" stroke-width="0.9"/>
<path d="M613.5 319.7 613.3 318.2 613.0 316.7 612.9 315.5 612.7 314.3 612.5 313.0 612.3 311.6 612.1 310.1 611.9 308.8 611.8 307.8 611.7 306.4 611.5 305.0 611.4 303.6 611.3 302.6 611.2 301.3 611.1 299.8 611.1 298.7 611.0 297.5 611.0 296.1 611.0 294.9 611.0 293.8 611.0 292.3 611.0 291.4 611.1 290.0 611.2 288.8 611.3 287.7 611.4 286.4 611.5 285.3 611.7 284.0 611.8 283.0 612.1 281.7 612.3 280.5 612.5 279.5 612.8 278.1 613.1 277.2 613.4 276.1 613.8 274.7 614.1 273.8 614.4 272.8 614.9 271.6 615.4 270.3 615.9 269.2 616.3 268.3 616.8 267.3 617.3 266.3 617.9 265.2 618.5 264.1 619.1 263.0 619.7 262.0 620.4 260.9 621.0 259.9 621.4 259.4" fill="none" stroke="#3ae000" stroke-width="0.9"/>
<path d="M559.5 264.6 558.9 265.7 558.3 266.9 557.7 268.0 557.0 269.1 556.3 270.3 555.6 271.4 554.9 272.4 554.1 273.5 553.3 274.6 552.5 275.7 551.7 276.8 550.9 277.8 550.0 278.9 549.2 279.9 548.3 280.9 547.4 282.0 546.2 283.3 545.1 284.5 544.2 285.5 543.3 286.5 542.2 287.6 540.9 288.9 540.9 288.9" fill="none" stroke="#3ae000" stroke-width="0.9"/>
<path d="M599.9 328.4 599.3 327.0 598.6 325.3 598.0 323.8 597.5 322.5 597.0 321.2 596.4 319.9 595.7 318.2 595.0 316.8 594.5 315.6 593.9 314.3 593.1 312.6 592.4 311.3 591.8 310.1 590.9 308.5 590.2 307.3 589.5 306.1 588.5 304.5 587.8 303.4 586.6 301.8 585.4 300.3 584.0 298.9 582.5 297.6 580.8 296.4 579.6 295.7 578.1 295.1 576.4 294.6 574.8 294.4 573.3 294.3 571.9 294.3 570.2 294.5 568.6 294.8 566.8 295.2 564.8 295.9 563.4 296.4 561.3 297.2 559.9 297.8 557.9 298.7 555.9 299.6 554.0 300.6 552.7 301.3" fill="none" stroke="#c5e000" stroke-width="0.9"/>
<path d="M597.6 243.5 598.9 243.6 600.6 243.6 602.1 243.5 603.0 243.4" fill="none" stroke="#c5e000" stroke-width="0.9"/>
<g stroke="#1a1a1a" stroke-opacity="0.48" stroke-width="0.4" stroke-linejoin="round"><path d="M600.7 194.6L604.3 192.5L601.4 189.5L597.8 191.8Z" fill="#f9ef78"/><path d="M597.1 196.8L600.7 194.6L597.8 191.8L594.2 194.1Z" fill="#faf470"/><path d="M603.6 197.5L607.2 195.6L604.3 192.5L600.7 194.6Z" fill="#f8f470"/><path d="M593.5 199.0L597.1 196.8L594.2 194.1L590.6 196.5Z" fill="#fbf968"/><path d="M600.0 199.6L603.6 197.5L600.7 194.6L597.1 196.8Z" fill="#f9f76c"/><path d="M606.6 200.6L610.1 198.8L607.2 195.6L603.6 197.5Z" fill="#f1f668"/><path d="M589.8 201.3L593.5 199.0L590.6 196.5L587.0 198.9Z" fill="#f8fc60"/><path d="M596.4 201.7L600.0 199.6L597.1 196.8L593.5 199.0Z" fill="#f8fa65"/><path d="M609.5 203.9L613.1 202.2L610.1 198.8L606.6 200.6Z" fill="#e4f360"/><path d="M602.9 202.5L606.6 200.6L603.6 197.5L600.0 199.6Z" fill="#f1f765"/><path d="M586.1 203.6L589.8 201.3L587.0 198.9L583.3 201.4Z" fill="#f2fc59"/><path d="M592.7 203.8L596.4 201.7L593.5 199.0L589.8 201.3Z" fill="#f4fa5e"/><path d="M612.5 207.3L616.0 205.7L613.1 202.2L609.5 203.9Z" fill="#d4f159"/><path d="M582.5 206.0L586.1 203.6L583.3 201.4L579.6 203.9Z" fill="#eafd51"/><path d="M599.3 204.5L602.9 202.5L600.0 199.6L596.4 201.7Z" fill="#f0f860"/><path d="M605.9 205.7L609.5 203.9L606.6 200.6L602.9 202.5Z" fill="#e6f55e"/><path d="M615.4 210.9L619.0 209.4L616.0 205.7L612.5 207.3Z" fill="#c2ee51"/><path d="M589.0 206.0L592.7 203.8L589.8 201.3L586.1 203.6Z" fill="#f0fb57"/><path d="M578.7 208.4L582.5 206.0L579.6 203.9L575.9 206.4Z" fill="#e2fe4a"/><path d="M608.9 209.0L612.5 207.3L609.5 203.9L605.9 205.7Z" fill="#d8f257"/><path d="M595.6 206.5L599.3 204.5L596.4 201.7L592.7 203.8Z" fill="#eff95a"/><path d="M602.2 207.5L605.9 205.7L602.9 202.5L599.3 204.5Z" fill="#e7f65a"/><path d="M618.4 214.6L622.0 213.3L619.0 209.4L615.4 210.9Z" fill="#aceb4a"/><path d="M575.0 210.8L578.7 208.4L575.9 206.4L572.2 209.0Z" fill="#d8fe43"/><path d="M585.3 208.2L589.0 206.0L586.1 203.6L582.5 206.0Z" fill="#ebfc50"/><path d="M611.8 212.4L615.4 210.9L612.5 207.3L608.9 209.0Z" fill="#c7ef50"/><path d="M621.4 218.5L625.0 217.3L622.0 213.3L618.4 214.6Z" fill="#95e743"/><path d="M591.9 208.6L595.6 206.5L592.7 203.8L589.0 206.0Z" fill="#edfa54"/><path d="M571.3 213.4L575.0 210.8L572.2 209.0L568.5 211.7Z" fill="#cdfe3d"/><path d="M605.2 210.6L608.9 209.0L605.9 205.7L602.2 207.5Z" fill="#dbf354"/><path d="M598.6 209.4L602.2 207.5L599.3 204.5L595.6 206.5Z" fill="#e7f756"/><path d="M581.6 210.5L585.3 208.2L582.5 206.0L578.7 208.4Z" fill="#e5fd49"/><path d="M624.4 222.5L627.9 221.5L625.0 217.3L621.4 218.5Z" fill="#7ae43d"/><path d="M614.8 216.0L618.4 214.6L615.4 210.9L611.8 212.4Z" fill="#b4ec49"/><path d="M567.5 215.9L571.3 213.4L568.5 211.7L564.8 214.4Z" fill="#c0ff37"/><path d="M627.4 226.7L630.9 225.7L627.9 221.5L624.4 222.5Z" fill="#5ee037"/><path d="M588.2 210.7L591.9 208.6L589.0 206.0L585.3 208.2Z" fill="#eafb4e"/><path d="M657.0 275.8L660.2 275.9L657.3 270.3L654.1 270.3Z" fill="#143ebf"/><path d="M577.9 212.8L581.6 210.5L578.7 208.4L575.0 210.8Z" fill="#defd42"/><path d="M608.2 213.9L611.8 212.4L608.9 209.0L605.2 210.6Z" fill="#ccf14e"/><path d="M630.4 231.0L633.9 230.2L630.9 225.7L627.4 226.7Z" fill="#3fdc31"/><path d="M594.9 211.3L598.6 209.4L595.6 206.5L591.9 208.6Z" fill="#e7f850"/><path d="M654.1 270.3L657.3 270.3L654.5 264.9L651.2 265.0Z" fill="#146ac2"/><path d="M601.5 212.4L605.2 210.6L602.2 207.5L598.6 209.4Z" fill="#ddf550"/><path d="M617.8 219.7L621.4 218.5L618.4 214.6L614.8 216.0Z" fill="#9ee942"/><path d="M563.8 218.5L567.5 215.9L564.8 214.4L561.0 217.1Z" fill="#b2ff31"/><path d="M633.4 235.5L636.9 234.8L633.9 230.2L630.4 231.0Z" fill="#2bd939"/><path d="M651.2 265.0L654.5 264.9L651.6 259.6L648.3 259.7Z" fill="#1595c4"/><path d="M636.4 240.1L639.8 239.5L636.9 234.8L633.4 235.5Z" fill="#26d552"/><path d="M648.3 259.7L651.6 259.6L648.7 254.4L645.3 254.6Z" fill="#17bfc7"/><path d="M584.5 212.8L588.2 210.7L585.3 208.2L581.6 210.5Z" fill="#e6fc47"/><path d="M574.1 215.2L577.9 212.8L575.0 210.8L571.3 213.4Z" fill="#d5fe3c"/><path d="M639.4 244.8L642.8 244.3L639.8 239.5L636.4 240.1Z" fill="#22d16d"/><path d="M645.3 254.6L648.7 254.4L645.7 249.3L642.4 249.6Z" fill="#1acaac"/><path d="M642.4 249.6L645.7 249.3L642.8 244.3L639.4 244.8Z" fill="#1dce8c"/><path d="M620.8 223.6L624.4 222.5L621.4 218.5L617.8 219.7Z" fill="#86e63c"/><path d="M560.0 221.2L563.8 218.5L561.0 217.1L557.3 219.9Z" fill="#a3ff2b"/><path d="M611.2 217.4L614.8 216.0L611.8 212.4L608.2 213.9Z" fill="#bbee47"/><path d="M591.2 213.2L594.9 211.3L591.9 208.6L588.2 210.7Z" fill="#e6f94a"/><path d="M604.5 215.5L608.2 213.9L605.2 210.6L601.5 212.4Z" fill="#d0f24a"/><path d="M597.8 214.1L601.5 212.4L598.6 209.4L594.9 211.3Z" fill="#dff64b"/><path d="M623.9 227.7L627.4 226.7L624.4 222.5L620.8 223.6Z" fill="#6be236"/><path d="M556.2 223.9L560.0 221.2L557.3 219.9L553.5 222.7Z" fill="#93ff26"/><path d="M570.3 217.7L574.1 215.2L571.3 213.4L567.5 215.9Z" fill="#ccfe36"/><path d="M580.7 215.0L584.5 212.8L581.6 210.5L577.9 212.8Z" fill="#e1fc41"/><path d="M614.2 221.0L617.8 219.7L614.8 216.0L611.2 217.4Z" fill="#a7eb41"/><path d="M626.9 231.9L630.4 231.0L627.4 226.7L623.9 227.7Z" fill="#4ede30"/><path d="M552.4 226.7L556.2 223.9L553.5 222.7L549.7 225.6Z" fill="#82fe22"/><path d="M587.4 215.3L591.2 213.2L588.2 210.7L584.5 212.8Z" fill="#e4fa44"/><path d="M607.5 218.9L611.2 217.4L608.2 213.9L604.5 215.5Z" fill="#c1ef44"/><path d="M629.9 236.2L633.4 235.5L630.4 231.0L626.9 231.9Z" fill="#2fdb2b"/><path d="M566.5 220.1L570.3 217.7L567.5 215.9L563.8 218.5Z" fill="#c1ff30"/><path d="M617.2 224.8L620.8 223.6L617.8 219.7L614.2 221.0Z" fill="#91e73b"/><path d="M653.8 275.7L657.0 275.8L654.1 270.3L650.9 270.3Z" fill="#1461c1"/><path d="M576.9 217.3L580.7 215.0L577.9 212.8L574.1 215.2Z" fill="#dbfd3b"/><path d="M594.1 216.0L597.8 214.1L594.9 211.3L591.2 213.2Z" fill="#e0f746"/><path d="M600.8 217.2L604.5 215.5L601.5 212.4L597.8 214.1Z" fill="#d4f446"/><path d="M632.9 240.7L636.4 240.1L633.4 235.5L629.9 236.2Z" fill="#26d73e"/><path d="M548.5 229.5L552.4 226.7L549.7 225.6L546.0 228.5Z" fill="#70fe1d"/><path d="M650.9 270.3L654.1 270.3L651.2 265.0L647.9 265.1Z" fill="#148cc3"/><path d="M635.9 245.3L639.4 244.8L636.4 240.1L632.9 240.7Z" fill="#21d357"/><path d="M647.9 265.1L651.2 265.0L648.3 259.7L644.9 259.9Z" fill="#15b5c6"/><path d="M639.0 250.1L642.4 249.6L639.4 244.8L635.9 245.3Z" fill="#1dd074"/><path d="M644.9 259.9L648.3 259.7L645.3 254.6L642.0 254.9Z" fill="#17c9b3"/><path d="M562.7 222.7L566.5 220.1L563.8 218.5L560.0 221.2Z" fill="#b5ff2b"/><path d="M642.0 254.9L645.3 254.6L642.4 249.6L639.0 250.1Z" fill="#1acc92"/><path d="M620.3 228.7L623.9 227.7L620.8 223.6L617.2 224.8Z" fill="#78e435"/><path d="M610.6 222.4L614.2 221.0L611.2 217.4L607.5 218.9Z" fill="#afec3e"/><path d="M583.6 217.3L587.4 215.3L584.5 212.8L580.7 215.0Z" fill="#e2fb3e"/><path d="M544.7 232.3L548.5 229.5L546.0 228.5L542.2 231.5Z" fill="#5dfe1a"/><path d="M573.1 219.6L576.9 217.3L574.1 215.2L570.3 217.7Z" fill="#d5fd35"/><path d="M603.8 220.4L607.5 218.9L604.5 215.5L600.8 217.2Z" fill="#c7f141"/><path d="M590.4 217.9L594.1 216.0L591.2 213.2L587.4 215.3Z" fill="#e1f841"/><path d="M623.3 232.8L626.9 231.9L623.9 227.7L620.3 228.7Z" fill="#5de02f"/><path d="M558.9 225.3L562.7 222.7L560.0 221.2L556.2 223.9Z" fill="#a8ff26"/><path d="M597.1 218.9L600.8 217.2L597.8 214.1L594.1 216.0Z" fill="#d7f542"/><path d="M540.8 235.2L544.7 232.3L542.2 231.5L538.4 234.5Z" fill="#49fd17"/><path d="M613.6 226.0L617.2 224.8L614.2 221.0L610.6 222.4Z" fill="#9be939"/><path d="M626.4 237.0L629.9 236.2L626.9 231.9L623.3 232.8Z" fill="#40dc2a"/><path d="M579.8 219.4L583.6 217.3L580.7 215.0L576.9 217.3Z" fill="#dffc39"/><path d="M569.3 221.9L573.1 219.6L570.3 217.7L566.5 220.1Z" fill="#cdfe2f"/><path d="M537.0 238.1L540.8 235.2L538.4 234.5L534.5 237.6Z" fill="#35fc15"/><path d="M555.0 227.9L558.9 225.3L556.2 223.9L552.4 226.7Z" fill="#9aff21"/><path d="M629.4 241.4L632.9 240.7L629.9 236.2L626.4 237.0Z" fill="#25d929"/><path d="M606.9 223.7L610.6 222.4L607.5 218.9L603.8 220.4Z" fill="#b7ee3b"/><path d="M616.6 229.8L620.3 228.7L617.2 224.8L613.6 226.0Z" fill="#85e633"/><path d="M586.6 219.8L590.4 217.9L587.4 215.3L583.6 217.3Z" fill="#e1f93b"/><path d="M533.1 241.1L537.0 238.1L534.5 237.6L530.7 240.7Z" fill="#22fb14"/><path d="M632.5 245.9L635.9 245.3L632.9 240.7L629.4 241.4Z" fill="#21d541"/><path d="M600.1 222.0L603.8 220.4L600.8 217.2L597.1 218.9Z" fill="#cdf23d"/><path d="M593.3 220.6L597.1 218.9L594.1 216.0L590.4 217.9Z" fill="#daf63d"/><path d="M650.5 275.6L653.8 275.7L650.9 270.3L647.6 270.4Z" fill="#1485c2"/><path d="M565.5 224.3L569.3 221.9L566.5 220.1L562.7 222.7Z" fill="#c4fe2a"/><path d="M635.5 250.5L639.0 250.1L635.9 245.3L632.5 245.9Z" fill="#1dd15b"/><path d="M551.2 230.6L555.0 227.9L552.4 226.7L548.5 229.5Z" fill="#8bfe1d"/><path d="M576.0 221.6L579.8 219.4L576.9 217.3L573.1 219.6Z" fill="#dbfc33"/><path d="M647.6 270.4L650.9 270.3L647.9 265.1L644.6 265.2Z" fill="#14aec5"/><path d="M638.5 255.3L642.0 254.9L639.0 250.1L635.5 250.5Z" fill="#19ce78"/><path d="M529.2 244.2L533.1 241.1L530.7 240.7L526.9 243.8Z" fill="#14fb1a"/><path d="M644.6 265.2L647.9 265.1L644.9 259.9L641.5 260.2Z" fill="#15c7b9"/><path d="M641.5 260.2L644.9 259.9L642.0 254.9L638.5 255.3Z" fill="#16cb98"/><path d="M619.7 233.7L623.3 232.8L620.3 228.7L616.6 229.8Z" fill="#6ce22e"/><path d="M609.9 227.3L613.6 226.0L610.6 222.4L606.9 223.7Z" fill="#a5eb36"/><path d="M547.3 233.3L551.2 230.6L548.5 229.5L544.7 232.3Z" fill="#7bfe1a"/><path d="M582.8 221.8L586.6 219.8L583.6 217.3L579.8 219.4Z" fill="#e0fa36"/><path d="M561.6 226.8L565.5 224.3L562.7 222.7L558.9 225.3Z" fill="#bafe25"/><path d="M622.8 237.8L626.4 237.0L623.3 232.8L619.7 233.7Z" fill="#51de29"/><path d="M603.1 225.2L606.9 223.7L603.8 220.4L600.1 222.0Z" fill="#bfef38"/><path d="M572.2 223.8L576.0 221.6L573.1 219.6L569.3 221.9Z" fill="#d6fd2e"/><path d="M589.6 222.4L593.3 220.6L590.4 217.9L586.6 219.8Z" fill="#ddf738"/><path d="M596.3 223.6L600.1 222.0L597.1 218.9L593.3 220.6Z" fill="#d2f439"/><path d="M613.0 230.9L616.6 229.8L613.6 226.0L609.9 227.3Z" fill="#91e731"/><path d="M543.4 236.1L547.3 233.3L544.7 232.3L540.8 235.2Z" fill="#6bfd17"/><path d="M625.8 242.1L629.4 241.4L626.4 237.0L622.8 237.8Z" fill="#34db24"/><path d="M557.7 229.3L561.6 226.8L558.9 225.3L555.0 227.9Z" fill="#affe21"/><path d="M628.9 246.5L632.5 245.9L629.4 241.4L625.8 242.1Z" fill="#20d72a"/><path d="M578.9 223.8L582.8 221.8L579.8 219.4L576.0 221.6Z" fill="#dffb31"/><path d="M539.5 238.9L543.4 236.1L540.8 235.2L537.0 238.1Z" fill="#5afd15"/><path d="M606.2 228.6L609.9 227.3L606.9 223.7L603.1 225.2Z" fill="#afec33"/><path d="M568.3 226.1L572.2 223.8L569.3 221.9L565.5 224.3Z" fill="#d0fd29"/><path d="M616.0 234.7L619.7 233.7L616.6 229.8L613.0 230.9Z" fill="#7ae42c"/><path d="M632.0 251.0L635.5 250.5L632.5 245.9L628.9 246.5Z" fill="#1cd343"/><path d="M585.7 224.3L589.6 222.4L586.6 219.8L582.8 221.8Z" fill="#dff833"/><path d="M599.4 226.7L603.1 225.2L600.1 222.0L596.3 223.6Z" fill="#c7f134"/><path d="M553.8 231.8L557.7 229.3L555.0 227.9L551.2 230.6Z" fill="#a4fe1d"/><path d="M635.0 255.7L638.5 255.3L635.5 250.5L632.0 251.0Z" fill="#19d05e"/><path d="M592.6 225.2L596.3 223.6L593.3 220.6L589.6 222.4Z" fill="#d7f534"/><path d="M535.6 241.7L539.5 238.9L537.0 238.1L533.1 241.1Z" fill="#49fc14"/><path d="M638.1 260.5L641.5 260.2L638.5 255.3L635.0 255.7Z" fill="#16cc7c"/><path d="M647.2 275.6L650.5 275.6L647.6 270.4L644.2 270.5Z" fill="#14a8c4"/><path d="M641.1 265.4L644.6 265.2L641.5 260.2L638.1 260.5Z" fill="#14c99c"/><path d="M644.2 270.5L647.6 270.4L644.6 265.2L641.1 265.4Z" fill="#14c7bd"/><path d="M619.1 238.7L622.8 237.8L619.7 233.7L616.0 234.7Z" fill="#62e027"/><path d="M575.1 225.9L578.9 223.8L576.0 221.6L572.2 223.8Z" fill="#ddfc2c"/><path d="M564.4 228.4L568.3 226.1L565.5 224.3L561.6 226.8Z" fill="#cafe24"/><path d="M609.3 232.1L613.0 230.9L609.9 227.3L606.2 228.6Z" fill="#9de92e"/><path d="M531.6 244.7L535.6 241.7L533.1 241.1L529.2 244.2Z" fill="#39fb14"/><path d="M549.9 234.4L553.8 231.8L551.2 230.6L547.3 233.3Z" fill="#97fe19"/><path d="M622.2 242.8L625.8 242.1L622.8 237.8L619.1 238.7Z" fill="#47dc23"/><path d="M581.9 226.2L585.7 224.3L582.8 221.8L578.9 223.8Z" fill="#e1f92e"/><path d="M602.4 229.9L606.2 228.6L603.1 225.2L599.4 226.7Z" fill="#b9ee30"/><path d="M588.7 227.0L592.6 225.2L589.6 222.4L585.7 224.3Z" fill="#dbf630"/><path d="M612.3 235.8L616.0 234.7L613.0 230.9L609.3 232.1Z" fill="#89e529"/><path d="M595.6 228.2L599.4 226.7L596.3 223.6L592.6 225.2Z" fill="#cef230"/><path d="M560.5 230.8L564.4 228.4L561.6 226.8L557.7 229.3Z" fill="#c2fe20"/><path d="M625.3 247.1L628.9 246.5L625.8 242.1L622.2 242.8Z" fill="#2ad91f"/><path d="M546.0 237.0L549.9 234.4L547.3 233.3L543.4 236.1Z" fill="#8afe16"/><path d="M571.2 228.0L575.1 225.9L572.2 223.8L568.3 226.1Z" fill="#dafc27"/><path d="M628.4 251.5L632.0 251.0L628.9 246.5L625.3 247.1Z" fill="#1bd52a"/><path d="M605.5 233.3L609.3 232.1L606.2 228.6L602.4 229.9Z" fill="#a9eb2b"/><path d="M615.4 239.6L619.1 238.7L616.0 234.7L612.3 235.8Z" fill="#72e225"/><path d="M542.0 239.7L546.0 237.0L543.4 236.1L539.5 238.9Z" fill="#7cfd15"/><path d="M631.5 256.1L635.0 255.7L632.0 251.0L628.4 251.5Z" fill="#18d144"/><path d="M578.0 228.1L581.9 226.2L578.9 223.8L575.1 225.9Z" fill="#e1fa29"/><path d="M556.6 233.2L560.5 230.8L557.7 229.3L553.8 231.8Z" fill="#bafe1c"/><path d="M634.6 260.8L638.1 260.5L635.0 255.7L631.5 256.1Z" fill="#16ce60"/><path d="M567.3 230.2L571.2 228.0L568.3 226.1L564.4 228.4Z" fill="#d7fd23"/><path d="M598.6 231.3L602.4 229.9L599.4 226.7L595.6 228.2Z" fill="#c3ef2c"/><path d="M584.9 228.7L588.7 227.0L585.7 224.3L581.9 226.2Z" fill="#dff72b"/><path d="M637.7 265.6L641.1 265.4L638.1 260.5L634.6 260.8Z" fill="#14cb7e"/><path d="M640.8 270.6L644.2 270.5L641.1 265.4L637.7 265.6Z" fill="#14c89f"/><path d="M643.8 275.7L647.2 275.6L644.2 270.5L640.8 270.6Z" fill="#14c6c0"/><path d="M591.7 229.8L595.6 228.2L592.6 225.2L588.7 227.0Z" fill="#d5f42c"/><path d="M618.6 243.7L622.2 242.8L619.1 238.7L615.4 239.6Z" fill="#59de21"/><path d="M538.1 242.5L542.0 239.7L539.5 238.9L535.6 241.7Z" fill="#6ffc14"/><path d="M608.6 236.9L612.3 235.8L609.3 232.1L605.5 233.3Z" fill="#97e727"/><path d="M552.6 235.7L556.6 233.2L553.8 231.8L549.9 234.4Z" fill="#b0fe19"/><path d="M574.1 230.1L578.0 228.1L575.1 225.9L571.2 228.0Z" fill="#e2fb25"/><path d="M621.7 247.8L625.3 247.1L622.2 242.8L618.6 243.7Z" fill="#3fdb1d"/><path d="M563.3 232.5L567.3 230.2L564.4 228.4L560.5 230.8Z" fill="#d2fd1f"/><path d="M534.1 245.3L538.1 242.5L535.6 241.7L531.6 244.7Z" fill="#60fc14"/><path d="M601.7 234.6L605.5 233.3L602.4 229.9L598.6 231.3Z" fill="#b5ec28"/><path d="M581.0 230.5L584.9 228.7L581.9 226.2L578.0 228.1Z" fill="#e3f827"/><path d="M548.6 238.2L552.6 235.7L549.9 234.4L546.0 237.0Z" fill="#a6fe16"/><path d="M611.7 240.6L615.4 239.6L612.3 235.8L608.6 236.9Z" fill="#83e423"/><path d="M624.8 252.1L628.4 251.5L625.3 247.1L621.7 247.8Z" fill="#23d71a"/><path d="M594.8 232.8L598.6 231.3L595.6 228.2L591.7 229.8Z" fill="#ccf129"/><path d="M587.9 231.4L591.7 229.8L588.7 227.0L584.9 228.7Z" fill="#dcf528"/><path d="M627.9 256.5L631.5 256.1L628.4 251.5L624.8 252.1Z" fill="#17d329"/><path d="M570.1 232.2L574.1 230.1L571.2 228.0L567.3 230.2Z" fill="#e1fc21"/><path d="M559.4 234.8L563.3 232.5L560.5 230.8L556.6 233.2Z" fill="#cdfd1b"/><path d="M614.8 244.5L618.6 243.7L615.4 239.6L611.7 240.6Z" fill="#6ce01f"/><path d="M544.6 240.8L548.6 238.2L546.0 237.0L542.0 239.7Z" fill="#9cfd14"/><path d="M631.0 261.1L634.6 260.8L631.5 256.1L627.9 256.5Z" fill="#15d044"/><path d="M604.8 238.0L608.6 236.9L605.5 233.3L601.7 234.6Z" fill="#a5e924"/><path d="M634.1 265.9L637.7 265.6L634.6 260.8L631.0 261.1Z" fill="#14cd61"/><path d="M577.0 232.4L581.0 230.5L578.0 228.1L574.1 230.1Z" fill="#e6f923"/><path d="M637.3 270.7L640.8 270.6L637.7 265.6L634.1 265.9Z" fill="#14ca80"/><path d="M597.9 235.9L601.7 234.6L598.6 231.3L594.8 232.8Z" fill="#c1ee25"/><path d="M640.4 275.7L643.8 275.7L640.8 270.6L637.3 270.7Z" fill="#14c7a0"/><path d="M555.4 237.1L559.4 234.8L556.6 233.2L552.6 235.7Z" fill="#c7fd18"/><path d="M618.0 248.5L621.7 247.8L618.6 243.7L614.8 244.5Z" fill="#54dc1c"/><path d="M584.0 233.1L587.9 231.4L584.9 228.7L581.0 230.5Z" fill="#e2f624"/><path d="M590.9 234.3L594.8 232.8L591.7 229.8L587.9 231.4Z" fill="#d6f225"/><path d="M566.2 234.3L570.1 232.2L567.3 230.2L563.3 232.5Z" fill="#e0fc1d"/><path d="M540.6 243.4L544.6 240.8L542.0 239.7L538.1 242.5Z" fill="#91fd14"/><path d="M607.9 241.6L611.7 240.6L608.6 236.9L604.8 238.0Z" fill="#93e521"/><path d="M621.1 252.7L624.8 252.1L621.7 247.8L618.0 248.5Z" fill="#3ad919"/><path d="M536.6 246.1L540.6 243.4L538.1 242.5L534.1 245.3Z" fill="#86fc14"/><path d="M573.1 234.3L577.0 232.4L574.1 230.1L570.1 232.2Z" fill="#e9fa1f"/><path d="M551.4 239.5L555.4 237.1L552.6 235.7L548.6 238.2Z" fill="#c0fd16"/><path d="M601.0 239.2L604.8 238.0L601.7 234.6L597.9 235.9Z" fill="#b4eb22"/><path d="M624.3 257.1L627.9 256.5L624.8 252.1L621.1 252.7Z" fill="#1ed516"/><path d="M562.2 236.5L566.2 234.3L563.3 232.5L559.4 234.8Z" fill="#defd1a"/><path d="M611.1 245.4L614.8 244.5L611.7 240.6L607.9 241.6Z" fill="#7fe21d"/><path d="M580.0 234.9L584.0 233.1L581.0 230.5L577.0 232.4Z" fill="#e8f721"/><path d="M594.0 237.3L597.9 235.9L594.8 232.8L590.9 234.3Z" fill="#cdef22"/><path d="M587.0 235.8L590.9 234.3L587.9 231.4L584.0 233.1Z" fill="#dff422"/><path d="M627.4 261.5L631.0 261.1L627.9 256.5L624.3 257.1Z" fill="#15d228"/><path d="M547.3 241.9L551.4 239.5L548.6 238.2L544.6 240.8Z" fill="#b9fd14"/><path d="M630.6 266.1L634.1 265.9L631.0 261.1L627.4 261.5Z" fill="#14cf44"/><path d="M614.2 249.3L618.0 248.5L614.8 244.5L611.1 245.4Z" fill="#69de1a"/><path d="M569.1 236.3L573.1 234.3L570.1 232.2L566.2 234.3Z" fill="#ebfb1c"/><path d="M604.1 242.7L607.9 241.6L604.8 238.0L601.0 239.2Z" fill="#a4e71e"/><path d="M558.2 238.7L562.2 236.5L559.4 234.8L555.4 237.1Z" fill="#dbfd17"/><path d="M633.7 270.9L637.3 270.7L634.1 265.9L630.6 266.1Z" fill="#14cc61"/><path d="M636.8 275.8L640.4 275.7L637.3 270.7L633.7 270.9Z" fill="#14c97f"/><path d="M576.1 236.6L580.0 234.9L577.0 232.4L573.1 234.3Z" fill="#eef81d"/><path d="M597.1 240.5L601.0 239.2L597.9 235.9L594.0 237.3Z" fill="#c2ec1f"/><path d="M543.3 244.4L547.3 241.9L544.6 240.8L540.6 243.4Z" fill="#b1fd14"/><path d="M617.4 253.4L621.1 252.7L618.0 248.5L614.2 249.3Z" fill="#51db17"/><path d="M583.1 237.5L587.0 235.8L584.0 233.1L580.0 234.9Z" fill="#e8f51e"/><path d="M590.1 238.7L594.0 237.3L590.9 234.3L587.0 235.8Z" fill="#d9f11f"/><path d="M607.3 246.4L611.1 245.4L607.9 241.6L604.1 242.7Z" fill="#92e41b"/><path d="M565.1 238.4L569.1 236.3L566.2 234.3L562.2 236.5Z" fill="#ecfb19"/><path d="M554.1 241.0L558.2 238.7L555.4 237.1L551.4 239.5Z" fill="#d7fd15"/><path d="M620.5 257.6L624.3 257.1L621.1 252.7L617.4 253.4Z" fill="#37d715"/><path d="M539.2 247.0L543.3 244.4L540.6 243.4L536.6 246.1Z" fill="#a9fc14"/><path d="M600.2 243.8L604.1 242.7L601.0 239.2L597.1 240.5Z" fill="#b5e91c"/><path d="M623.7 262.0L627.4 261.5L624.3 257.1L620.5 257.6Z" fill="#1dd414"/><path d="M572.0 238.5L576.1 236.6L573.1 234.3L569.1 236.3Z" fill="#f3f91a"/><path d="M610.4 250.1L614.2 249.3L611.1 245.4L607.3 246.4Z" fill="#7ee018"/><path d="M550.1 243.3L554.1 241.0L551.4 239.5L547.3 241.9Z" fill="#d3fd14"/><path d="M593.2 241.8L597.1 240.5L594.0 237.3L590.1 238.7Z" fill="#d0ee1c"/><path d="M626.9 266.5L630.6 266.1L627.4 261.5L623.7 262.0Z" fill="#14d126"/><path d="M579.1 239.1L583.1 237.5L580.0 234.9L576.1 236.6Z" fill="#f0f61b"/><path d="M561.0 240.4L565.1 238.4L562.2 236.5L558.2 238.7Z" fill="#ecfc16"/><path d="M586.1 240.2L590.1 238.7L587.0 235.8L583.1 237.5Z" fill="#e4f21c"/><path d="M630.1 271.1L633.7 270.9L630.6 266.1L626.9 266.5Z" fill="#14ce42"/><path d="M613.6 254.1L617.4 253.4L614.2 249.3L610.4 250.1Z" fill="#68dd16"/><path d="M603.4 247.4L607.3 246.4L604.1 242.7L600.2 243.8Z" fill="#a5e619"/><path d="M633.3 275.9L636.8 275.8L633.7 270.9L630.1 271.1Z" fill="#14cb5f"/><path d="M568.0 240.4L572.0 238.5L569.1 236.3L565.1 238.4Z" fill="#f7fa17"/><path d="M546.0 245.6L550.1 243.3L547.3 241.9L543.3 244.4Z" fill="#cefd14"/><path d="M556.9 242.6L561.0 240.4L558.2 238.7L554.1 241.0Z" fill="#ecfc15"/><path d="M616.8 258.2L620.5 257.6L617.4 253.4L613.6 254.1Z" fill="#51d915"/><path d="M596.3 245.0L600.2 243.8L597.1 240.5L593.2 241.8Z" fill="#c5eb1a"/><path d="M575.0 240.8L579.1 239.1L576.1 236.6L572.0 238.5Z" fill="#f7f718"/><path d="M606.6 251.0L610.4 250.1L607.3 246.4L603.4 247.4Z" fill="#93e217"/><path d="M589.2 243.1L593.2 241.8L590.1 238.7L586.1 240.2Z" fill="#def01a"/><path d="M582.1 241.7L586.1 240.2L583.1 237.5L579.1 239.1Z" fill="#f0f419"/><path d="M620.0 262.4L623.7 262.0L620.5 257.6L616.8 258.2Z" fill="#39d614"/><path d="M541.8 248.1L546.0 245.6L543.3 244.4L539.2 247.0Z" fill="#c9fc14"/><path d="M563.9 242.3L568.0 240.4L565.1 238.4L561.0 240.4Z" fill="#fafb15"/><path d="M552.8 244.8L556.9 242.6L554.1 241.0L550.1 243.3Z" fill="#ebfc14"/><path d="M623.2 266.8L626.9 266.5L623.7 262.0L620.0 262.4Z" fill="#20d314"/><path d="M599.5 248.4L603.4 247.4L600.2 243.8L596.3 245.0Z" fill="#b8e717"/><path d="M609.8 254.8L613.6 254.1L610.4 250.1L606.6 251.0Z" fill="#80de15"/><path d="M571.0 242.6L575.0 240.8L572.0 238.5L568.0 240.4Z" fill="#f8f116"/><path d="M626.4 271.4L630.1 271.1L626.9 266.5L623.2 266.8Z" fill="#14d023"/><path d="M592.4 246.2L596.3 245.0L593.2 241.8L589.2 243.1Z" fill="#d6ec18"/><path d="M578.1 243.3L582.1 241.7L579.1 239.1L575.0 240.8Z" fill="#f5f017"/><path d="M585.2 244.5L589.2 243.1L586.1 240.2L582.1 241.7Z" fill="#ecf117"/><path d="M629.6 276.1L633.3 275.9L630.1 271.1L626.4 271.4Z" fill="#14cd3e"/><path d="M613.0 258.8L616.8 258.2L613.6 254.1L609.8 254.8Z" fill="#6bdb14"/><path d="M559.8 244.3L563.9 242.3L561.0 240.4L556.9 242.6Z" fill="#fbf914"/><path d="M548.7 247.0L552.8 244.8L550.1 243.3L546.0 245.6Z" fill="#e9fc14"/><path d="M602.7 251.9L606.6 251.0L603.4 247.4L599.5 248.4Z" fill="#a9e416"/><path d="M616.2 263.0L620.0 262.4L616.8 258.2L613.0 258.8Z" fill="#55d814"/><path d="M566.9 244.4L571.0 242.6L568.0 240.4L563.9 242.3Z" fill="#f9ec15"/><path d="M595.5 249.5L599.5 248.4L596.3 245.0L592.4 246.2Z" fill="#cbe916"/><path d="M544.5 249.3L548.7 247.0L546.0 245.6L541.8 248.1Z" fill="#e6fc14"/><path d="M605.9 255.6L609.8 254.8L606.6 251.0L602.7 251.9Z" fill="#98e014"/><path d="M555.7 246.4L559.8 244.3L556.9 242.6L552.8 244.8Z" fill="#fbf714"/><path d="M574.0 245.0L578.1 243.3L575.0 240.8L571.0 242.6Z" fill="#f6e815"/><path d="M588.3 247.5L592.4 246.2L589.2 243.1L585.2 244.5Z" fill="#e7ee16"/><path d="M619.4 267.3L623.2 266.8L620.0 262.4L616.2 263.0Z" fill="#3ed514"/><path d="M581.2 246.0L585.2 244.5L582.1 241.7L578.1 243.3Z" fill="#f2eb16"/><path d="M622.6 271.7L626.4 271.4L623.2 266.8L619.4 267.3Z" fill="#25d214"/><path d="M598.7 252.9L602.7 251.9L599.5 248.4L595.5 249.5Z" fill="#bee615"/><path d="M562.8 246.3L566.9 244.4L563.9 242.3L559.8 244.3Z" fill="#fae814"/><path d="M609.1 259.5L613.0 258.8L609.8 254.8L605.9 255.6Z" fill="#85dd14"/><path d="M551.5 248.5L555.7 246.4L552.8 244.8L548.7 247.0Z" fill="#fbf614"/><path d="M625.9 276.3L629.6 276.1L626.4 271.4L622.6 271.7Z" fill="#14cf1d"/><path d="M591.5 250.6L595.5 249.5L592.4 246.2L588.3 247.5Z" fill="#dfeb15"/><path d="M569.9 246.7L574.0 245.0L571.0 242.6L566.9 244.4Z" fill="#f7e014"/><path d="M612.3 263.5L616.2 263.0L613.0 258.8L609.1 259.5Z" fill="#71da14"/><path d="M584.3 248.8L588.3 247.5L585.2 244.5L581.2 246.0Z" fill="#f0e815"/><path d="M577.1 247.5L581.2 246.0L578.1 243.3L574.0 245.0Z" fill="#f4e014"/><path d="M601.9 256.5L605.9 255.6L602.7 251.9L598.7 252.9Z" fill="#b0e214"/><path d="M558.6 248.2L562.8 246.3L559.8 244.3L555.7 246.4Z" fill="#fae314"/><path d="M547.3 250.7L551.5 248.5L548.7 247.0L544.5 249.3Z" fill="#fbf614"/><path d="M615.6 267.7L619.4 267.3L616.2 263.0L612.3 263.5Z" fill="#5cd714"/><path d="M594.7 253.9L598.7 252.9L595.5 249.5L591.5 250.6Z" fill="#d4e814"/><path d="M565.7 248.4L569.9 246.7L566.9 244.4L562.8 246.3Z" fill="#f8d914"/><path d="M605.2 260.2L609.1 259.5L605.9 255.6L601.9 256.5Z" fill="#9fdf14"/><path d="M618.8 272.0L622.6 271.7L619.4 267.3L615.6 267.7Z" fill="#45d314"/><path d="M587.5 251.8L591.5 250.6L588.3 247.5L584.3 248.8Z" fill="#ede814"/><path d="M572.9 249.1L577.1 247.5L574.0 245.0L569.9 246.7Z" fill="#f5d614"/><path d="M580.2 250.2L584.3 248.8L581.2 246.0L577.1 247.5Z" fill="#f1db14"/><path d="M554.4 250.2L558.6 248.2L555.7 246.4L551.5 248.5Z" fill="#fae014"/><path d="M622.1 276.5L625.9 276.3L622.6 271.7L618.8 272.0Z" fill="#2cd014"/><path d="M608.4 264.1L612.3 263.5L609.1 259.5L605.2 260.2Z" fill="#8ddc14"/><path d="M597.9 257.4L601.9 256.5L598.7 252.9L594.7 253.9Z" fill="#c8e414"/><path d="M561.5 250.2L565.7 248.4L562.8 246.3L558.6 248.2Z" fill="#f9d214"/><path d="M590.6 255.0L594.7 253.9L591.5 250.6L587.5 251.8Z" fill="#eaea14"/><path d="M550.2 252.2L554.4 250.2L551.5 248.5L547.3 250.7Z" fill="#fbdd14"/><path d="M611.7 268.2L615.6 267.7L612.3 263.5L608.4 264.1Z" fill="#79d914"/><path d="M568.8 250.7L572.9 249.1L569.9 246.7L565.7 248.4Z" fill="#f6cc14"/><path d="M583.3 253.1L587.5 251.8L584.3 248.8L580.2 250.2Z" fill="#eed914"/><path d="M576.0 251.6L580.2 250.2L577.1 247.5L572.9 249.1Z" fill="#f2cf14"/><path d="M601.2 261.0L605.2 260.2L601.9 256.5L597.9 257.4Z" fill="#b9e114"/><path d="M615.0 272.4L618.8 272.0L615.6 267.7L611.7 268.2Z" fill="#64d514"/><path d="M557.3 252.0L561.5 250.2L558.6 248.2L554.4 250.2Z" fill="#f9cc14"/><path d="M593.9 258.3L597.9 257.4L594.7 253.9L590.6 255.0Z" fill="#dfe614"/><path d="M604.4 264.8L608.4 264.1L605.2 260.2L601.2 261.0Z" fill="#a9de14"/><path d="M618.3 276.8L622.1 276.5L618.8 272.0L615.0 272.4Z" fill="#4dd214"/><path d="M564.6 252.3L568.8 250.7L565.7 248.4L561.5 250.2Z" fill="#f7c314"/><path d="M586.5 256.1L590.6 255.0L587.5 251.8L583.3 253.1Z" fill="#ebd814"/><path d="M571.9 253.1L576.0 251.6L572.9 249.1L568.8 250.7Z" fill="#f4c214"/><path d="M579.2 254.4L583.3 253.1L580.2 250.2L576.0 251.6Z" fill="#f0ca14"/><path d="M553.0 253.9L557.3 252.0L554.4 250.2L550.2 252.2Z" fill="#f9c614"/><path d="M607.7 268.7L611.7 268.2L608.4 264.1L604.4 264.8Z" fill="#97db14"/><path d="M597.1 261.8L601.2 261.0L597.9 257.4L593.9 258.3Z" fill="#d3e314"/><path d="M560.3 254.1L564.6 252.3L561.5 250.2L557.3 252.0Z" fill="#f7ba14"/><path d="M589.7 259.3L593.9 258.3L590.6 255.0L586.5 256.1Z" fill="#e8da14"/><path d="M611.0 272.8L615.0 272.4L611.7 268.2L607.7 268.7Z" fill="#83d714"/><path d="M567.6 254.6L571.9 253.1L568.8 250.7L564.6 252.3Z" fill="#f5b714"/><path d="M600.4 265.5L604.4 264.8L601.2 261.0L597.1 261.8Z" fill="#c5e014"/><path d="M582.4 257.3L586.5 256.1L583.3 253.1L579.2 254.4Z" fill="#edc714"/><path d="M575.0 255.7L579.2 254.4L576.0 251.6L571.9 253.1Z" fill="#f1bb14"/><path d="M614.3 277.1L618.3 276.8L615.0 272.4L611.0 272.8Z" fill="#6ed414"/><path d="M593.0 262.7L597.1 261.8L593.9 258.3L589.7 259.3Z" fill="#e5dd14"/><path d="M556.0 255.8L560.3 254.1L557.3 252.0L553.0 253.9Z" fill="#f8b214"/><path d="M603.7 269.3L607.7 268.7L604.4 264.8L600.4 265.5Z" fill="#b4dd14"/><path d="M585.6 260.4L589.7 259.3L586.5 256.1L582.4 257.3Z" fill="#eac614"/><path d="M563.3 256.2L567.6 254.6L564.6 252.3L560.3 254.1Z" fill="#f6ab14"/><path d="M578.1 258.5L582.4 257.3L579.2 254.4L575.0 255.7Z" fill="#eeb614"/><path d="M570.7 257.1L575.0 255.7L571.9 253.1L567.6 254.6Z" fill="#f2ad14"/><path d="M607.0 273.3L611.0 272.8L607.7 268.7L603.7 269.3Z" fill="#a3d914"/><path d="M596.3 266.2L600.4 265.5L597.1 261.8L593.0 262.7Z" fill="#e0e214"/><path d="M610.4 277.4L614.3 277.1L611.0 272.8L607.0 273.3Z" fill="#8fd614"/><path d="M588.8 263.6L593.0 262.7L589.7 259.3L585.6 260.4Z" fill="#e7c814"/><path d="M559.0 257.9L563.3 256.2L560.3 254.1L556.0 255.8Z" fill="#f6a014"/><path d="M599.6 269.9L603.7 269.3L600.4 265.5L596.3 266.2Z" fill="#d2de14"/><path d="M581.4 261.5L585.6 260.4L582.4 257.3L578.1 258.5Z" fill="#ecb314"/><path d="M566.4 258.6L570.7 257.1L567.6 254.6L563.3 256.2Z" fill="#f39f14"/><path d="M573.9 259.8L578.1 258.5L575.0 255.7L570.7 257.1Z" fill="#f0a514"/><path d="M592.1 267.0L596.3 266.2L593.0 262.7L588.8 263.6Z" fill="#e4cb14"/><path d="M602.9 273.8L607.0 273.3L603.7 269.3L599.6 269.9Z" fill="#c2db14"/><path d="M584.6 264.6L588.8 263.6L585.6 260.4L581.4 261.5Z" fill="#e8b214"/><path d="M562.1 260.1L566.4 258.6L563.3 256.2L559.0 257.9Z" fill="#f49114"/><path d="M606.3 277.8L610.4 277.4L607.0 273.3L602.9 273.8Z" fill="#b0d814"/><path d="M577.1 262.6L581.4 261.5L578.1 258.5L573.9 259.8Z" fill="#eda014"/><path d="M569.6 261.1L573.9 259.8L570.7 257.1L566.4 258.6Z" fill="#f19514"/><path d="M595.4 270.6L599.6 269.9L596.3 266.2L592.1 267.0Z" fill="#e0d114"/><path d="M587.9 267.9L592.1 267.0L588.8 263.6L584.6 264.6Z" fill="#e5b414"/><path d="M598.8 274.4L602.9 273.8L599.6 269.9L595.4 270.6Z" fill="#ddd914"/><path d="M580.3 265.6L584.6 264.6L581.4 261.5L577.1 262.6Z" fill="#ea9d14"/><path d="M565.2 262.5L569.6 261.1L566.4 258.6L562.1 260.1Z" fill="#f28514"/><path d="M572.7 263.8L577.1 262.6L573.9 259.8L569.6 261.1Z" fill="#ee8d14"/><path d="M591.2 271.3L595.4 270.6L592.1 267.0L587.9 267.9Z" fill="#e2b814"/><path d="M602.2 278.3L606.3 277.8L602.9 273.8L598.8 274.4Z" fill="#d2da14"/><path d="M583.6 268.8L587.9 267.9L584.6 264.6L580.3 265.6Z" fill="#e79c14"/><path d="M576.0 266.7L580.3 265.6L577.1 262.6L572.7 263.8Z" fill="#ec8814"/><path d="M594.6 275.0L598.8 274.4L595.4 270.6L591.2 271.3Z" fill="#dfbd14"/><path d="M568.4 265.0L572.7 263.8L569.6 261.1L565.2 262.5Z" fill="#f07b14"/><path d="M586.9 272.1L591.2 271.3L587.9 267.9L583.6 268.8Z" fill="#e49e14"/><path d="M598.0 278.8L602.2 278.3L598.8 274.4L594.6 275.0Z" fill="#dcc514"/><path d="M579.3 269.7L583.6 268.8L580.3 265.6L576.0 266.7Z" fill="#e98514"/><path d="M571.6 267.8L576.0 266.7L572.7 263.8L568.4 265.0Z" fill="#ed7314"/><path d="M590.3 275.6L594.6 275.0L591.2 271.3L586.9 272.1Z" fill="#e1a214"/><path d="M582.6 272.9L586.9 272.1L583.6 268.8L579.3 269.7Z" fill="#e68414"/><path d="M593.7 279.3L598.0 278.8L594.6 275.0L590.3 275.6Z" fill="#dea714"/><path d="M574.8 270.7L579.3 269.7L576.0 266.7L571.6 267.8Z" fill="#ea6e14"/><path d="M585.9 276.3L590.3 275.6L586.9 272.1L582.6 272.9Z" fill="#e28614"/><path d="M578.2 273.8L582.6 272.9L579.3 269.7L574.8 270.7Z" fill="#e76b14"/><path d="M589.3 279.9L593.7 279.3L590.3 275.6L585.9 276.3Z" fill="#df8a14"/><path d="M581.5 277.0L585.9 276.3L582.6 272.9L578.2 273.8Z" fill="#e46b14"/><path d="M584.9 280.5L589.3 279.9L585.9 276.3L581.5 277.0Z" fill="#e16c14"/></g>
<text x="528.7" y="264.2" font-size="3.8" text-anchor="end" fill="#333">20</text>
<circle cx="530.0" cy="264.6" r="0.5" fill="#222"/>
<text x="527.6" y="256.8" font-size="3.8" text-anchor="end" fill="#333">30</text>
<circle cx="528.9" cy="257.2" r="0.5" fill="#222"/>
<text x="526.4" y="249.0" font-size="3.8" text-anchor="end" fill="#333">40</text>
<circle cx="527.7" cy="249.4" r="0.5" fill="#222"/>
<text x="525.3" y="241.1" font-size="3.8" text-anchor="end" fill="#333">50</text>
<circle cx="526.6" cy="241.5" r="0.5" fill="#222"/>
<text x="524.0" y="232.8" font-size="3.8" text-anchor="end" fill="#333">60</text>
<circle cx="525.3" cy="233.2" r="0.5" fill="#222"/>
<text x="522.8" y="224.3" font-size="3.8" text-anchor="end" fill="#333">70</text>
<circle cx="524.1" cy="224.7" r="0.5" fill="#222"/>
<text x="521.5" y="215.4" font-size="3.8" text-anchor="end" fill="#333">80</text>
<circle cx="522.8" cy="215.8" r="0.5" fill="#222"/>
<path d="M532.2 279.8L522.8 215.8" stroke="#777" stroke-width="0.5"/>
<text x="525.7" y="285.2" font-size="3.8" text-anchor="middle" fill="#333">80.00</text>
<text x="535.7" y="295.7" font-size="3.8" text-anchor="middle" fill="#333">78.00</text>
<text x="546.2" y="306.7" font-size="3.8" text-anchor="middle" fill="#333">76.00</text>
<text x="557.0" y="318.1" font-size="3.8" text-anchor="middle" fill="#333">74.00</text>
<text x="568.3" y="330.0" font-size="3.8" text-anchor="middle" fill="#333">72.00</text>
<text x="580.0" y="342.3" font-size="3.8" text-anchor="middle" fill="#333">70.00</text>
<text x="591.5" y="342.0" font-size="3.8" text-anchor="middle" fill="#333">15.00</text>
<text x="606.6" y="332.4" font-size="3.8" text-anchor="middle" fill="#333">17.00</text>
<text x="621.3" y="323.0" font-size="3.8" text-anchor="middle" fill="#333">19.00</text>
<text x="635.6" y="313.9" font-size="3.8" text-anchor="middle" fill="#333">21.00</text>
<text x="649.5" y="305.0" font-size="3.8" text-anchor="middle" fill="#333">23.00</text>
<text x="663.0" y="296.4" font-size="3.8" text-anchor="middle" fill="#333">25.00</text>
<text x="535.0" y="325.8" font-size="2.5" text-anchor="middle" fill="#444" stroke="#444" stroke-width="0.12">C: Drug (%)</text>
<text x="642.0" y="334.9" font-size="2.5" text-anchor="middle" fill="#444" stroke="#444" stroke-width="0.12">B: Organic p volume (ml)</text>
<text x="504.9" y="245.7" font-size="2.5" text-anchor="middle" fill="#444" transform="rotate(-90 504.9 245.7)" stroke="#444" stroke-width="0.12">Cumulative Release (24 h) (%)</text>
<circle cx="660.1" cy="272.1" r="1.2" fill="#b00000"/>
<circle cx="594.1" cy="234.6" r="1.2" fill="#b00000"/>
<circle cx="585.7" cy="280.6" r="1.2" fill="#b00000"/>
<rect x="26.0" y="8.0" width="142.7" height="142.5" fill="none" stroke="#8a8a8a" stroke-width="0.6"/>
<path d="M168.7 92.5 168.0 90.8 167.4 89.2 166.9 87.8 166.4 86.4 165.8 84.9 165.2 82.8 164.7 81.4 164.3 80.0 163.7 77.8 163.3 76.4 163.0 75.0 162.5 72.8 162.2 71.4 161.7 69.3 161.5 67.9 161.1 65.7 160.9 64.1 160.6 62.2 160.3 60.0 160.1 58.4 160.0 56.4 159.8 54.3 159.7 52.2 159.6 50.0 159.5 47.9 159.5 45.8 159.5 43.6 159.6 41.5 159.7 39.3 159.8 37.2 159.9 35.1 160.1 32.9 160.2 31.5 160.4 29.4 160.7 27.2 160.9 25.8 161.2 23.7 161.5 21.5 161.7 20.1 162.1 18.0 162.3 16.6 162.7 14.4 163.0 13.0 163.5 10.8 163.8 9.4 164.1 8.0" fill="none" stroke="#2a2a2a" stroke-opacity="0.85" stroke-width="0.55"/>
<path d="M168.7 130.4 167.7 129.1 166.6 127.7 165.8 126.8 164.8 125.6 163.7 124.1 163.0 123.2 162.1 122.0 161.0 120.6 160.1 119.3 159.4 118.3 158.5 117.0 157.5 115.6 156.6 114.2 155.9 113.1 155.1 112.0 154.2 110.6 153.3 109.2 152.5 107.8 151.6 106.3 150.9 105.0 150.1 103.7 149.4 102.4 148.7 101.0 148.0 99.6 147.3 98.2 146.6 96.7 145.9 95.1 145.2 93.5 144.5 92.1 144.0 90.7 143.4 89.2 142.9 87.8 142.3 86.1 141.7 84.2 141.3 82.8 140.9 81.4 140.3 79.2 139.9 77.8 139.4 75.7 139.2 74.3 138.8 72.1 138.5 70.7 138.2 68.6 138.0 66.9 137.8 65.0 137.7 62.9 137.5 60.7 137.4 58.6 137.4 56.4 137.4 54.3 137.5 52.2 137.6 50.0 137.7 47.9 137.9 45.8 138.0 44.3 138.3 42.2 138.5 40.1 138.7 38.6 139.1 36.5 139.4 34.4 139.7 32.9 140.1 30.8 140.4 29.4 140.9 27.2 141.2 25.8 141.6 24.1 142.0 22.2 142.4 20.8 143.0 18.7 143.4 17.3 143.8 15.8 144.4 13.7 144.8 12.3 145.3 10.8 145.9 8.9 146.2 8.0" fill="none" stroke="#2a2a2a" stroke-opacity="0.85" stroke-width="0.55"/>
<path d="M162.6 150.5 161.6 149.6 160.1 148.4 159.3 147.7 158.0 146.6 156.8 145.5 155.9 144.7 154.4 143.4 153.6 142.7 152.3 141.5 151.2 140.5 150.1 139.6 148.8 138.4 148.0 137.7 146.6 136.4 145.7 135.5 144.4 134.4 143.4 133.4 142.3 132.4 141.1 131.3 140.2 130.3 138.9 129.1 138.0 128.3 136.7 127.0 135.9 126.1 134.6 124.8 133.7 124.0 132.5 122.7 131.6 121.8 130.5 120.6 129.5 119.5 128.5 118.4 127.3 117.1 126.6 116.3 125.3 114.9 124.5 113.8 123.5 112.7 122.4 111.3 121.6 110.4 120.7 109.2 119.6 107.8 118.8 106.6 118.0 105.6 117.0 104.2 116.1 102.8 115.2 101.4 114.5 100.3 113.8 99.1 113.0 97.8 112.2 96.3 111.5 94.9 110.8 93.5 110.2 92.1 109.5 90.4 108.8 88.5 108.3 87.1 107.8 85.7 107.3 83.9 106.9 82.1 106.6 80.7 106.3 78.5 106.0 76.4 105.9 75.0 105.7 72.8 105.7 70.7 105.7 68.6 105.8 66.4 105.9 65.0 106.2 62.9 106.5 60.7 106.7 59.3 107.1 57.2 107.4 55.7 107.8 53.6 108.2 52.2 108.7 50.0 109.1 48.6 109.5 47.2 110.2 45.0 110.6 43.6 111.1 42.2 111.6 40.6 112.3 38.6 112.8 37.2 113.4 35.8 113.9 34.4 114.5 32.9 115.2 31.1 115.9 29.4 116.5 28.0 117.0 26.5 117.6 25.1 118.3 23.7 118.9 22.2 119.5 20.8 120.2 19.3 120.9 17.7 121.6 16.1 122.3 14.6 123.0 13.1 123.7 11.6 124.4 10.1 125.1 8.7 125.4 8.0" fill="none" stroke="#2a2a2a" stroke-opacity="0.85" stroke-width="0.55"/>
<path d="M120.9 150.5 119.5 149.8 118.0 149.2 116.6 148.6 115.2 148.0 113.8 147.4 112.3 146.8 110.7 146.2 108.8 145.5 107.3 145.0 105.9 144.5 104.5 144.1 102.3 143.4 100.9 143.0 99.5 142.7 97.3 142.1 95.9 141.8 93.8 141.5 92.4 141.2 90.2 141.0 88.1 140.8 85.9 140.7 83.8 140.7 81.7 140.7 79.5 140.9 77.4 141.2 75.9 141.5 73.8 141.9 72.4 142.3 71.0 142.7 69.0 143.4 67.4 144.0 66.0 144.6 64.5 145.3 63.1 146.0 61.7 146.7 60.2 147.6 58.9 148.4 57.8 149.1 56.7 149.8 55.7 150.5" fill="none" stroke="#2a2a2a" stroke-opacity="0.85" stroke-width="0.55"/>
<path d="M26.0 34.8 27.4 35.3 29.3 35.8 31.0 36.2 32.4 36.6 34.6 37.0 36.0 37.3 38.1 37.6 40.3 37.9 41.7 38.0 43.8 38.1 46.0 38.2 48.1 38.1 50.3 38.0 51.7 37.8 53.8 37.5 55.3 37.2 57.4 36.7 58.8 36.3 60.4 35.8 62.3 35.1 63.8 34.5 65.2 33.8 66.7 33.1 68.1 32.4 69.5 31.6 70.9 30.8 72.0 30.1 73.1 29.4 74.5 28.4 75.9 27.4 77.1 26.5 78.1 25.8 79.5 24.6 80.6 23.7 81.7 22.8 83.1 21.5 83.9 20.8 85.2 19.6 86.2 18.7 87.4 17.5 88.3 16.6 89.5 15.4 90.4 14.4 91.6 13.2 92.5 12.3 93.8 10.9 94.5 10.1 95.7 8.7 96.3 8.0" fill="none" stroke="#2a2a2a" stroke-opacity="0.85" stroke-width="0.55"/>
<rect x="66.2" y="30.9" width="4.8" height="3.6" fill="#f4f4f4" stroke="#888" stroke-width="0.4"/>
<text x="68.6" y="33.6" font-size="2.4" text-anchor="middle" fill="#666" stroke="#666" stroke-width="0.12">95</text>
<rect x="158.0" y="44.9" width="4.8" height="3.6" fill="#f4f4f4" stroke="#888" stroke-width="0.4"/>
<text x="160.4" y="47.6" font-size="2.4" text-anchor="middle" fill="#666" stroke="#666" stroke-width="0.12">75</text>
<rect x="139.4" y="72.6" width="4.8" height="3.6" fill="#f4f4f4" stroke="#888" stroke-width="0.4"/>
<text x="141.8" y="75.3" font-size="2.4" text-anchor="middle" fill="#666" stroke="#666" stroke-width="0.12">80</text>
<rect x="110.0" y="87.5" width="4.8" height="3.6" fill="#f4f4f4" stroke="#888" stroke-width="0.4"/>
<text x="112.4" y="90.2" font-size="2.4" text-anchor="middle" fill="#666" stroke="#666" stroke-width="0.12">85</text>
<rect x="91.5" y="138.5" width="4.8" height="3.6" fill="#f4f4f4" stroke="#888" stroke-width="0.4"/>
<text x="93.9" y="141.2" font-size="2.4" text-anchor="middle" fill="#666" stroke="#666" stroke-width="0.12">95</text>
<line x1="26.0" y1="150.5" x2="26.0" y2="153.0" stroke="#777" stroke-width="0.5"/>
<text x="26" y="157.9" font-size="2.5" text-anchor="middle" fill="#3a3a3a" stroke="#3a3a3a" stroke-width="0.12">0.00</text>
<line x1="54.5" y1="150.5" x2="54.5" y2="153.0" stroke="#777" stroke-width="0.5"/>
<text x="54.5" y="157.9" font-size="2.5" text-anchor="middle" fill="#3a3a3a" stroke="#3a3a3a" stroke-width="0.12">20.00</text>
<line x1="83.1" y1="150.5" x2="83.1" y2="153.0" stroke="#777" stroke-width="0.5"/>
<text x="83.1" y="157.9" font-size="2.5" text-anchor="middle" fill="#3a3a3a" stroke="#3a3a3a" stroke-width="0.12">40.00</text>
<line x1="111.6" y1="150.5" x2="111.6" y2="153.0" stroke="#777" stroke-width="0.5"/>
<text x="111.6" y="157.9" font-size="2.5" text-anchor="middle" fill="#3a3a3a" stroke="#3a3a3a" stroke-width="0.12">60.00</text>
<line x1="140.2" y1="150.5" x2="140.2" y2="153.0" stroke="#777" stroke-width="0.5"/>
<text x="140.2" y="157.9" font-size="2.5" text-anchor="middle" fill="#3a3a3a" stroke="#3a3a3a" stroke-width="0.12">80.00</text>
<line x1="168.7" y1="150.5" x2="168.7" y2="153.0" stroke="#777" stroke-width="0.5"/>
<text x="168.7" y="157.9" font-size="2.5" text-anchor="middle" fill="#3a3a3a" stroke="#3a3a3a" stroke-width="0.12">100.00</text>
<line x1="23.5" y1="150.5" x2="26.0" y2="150.5" stroke="#777" stroke-width="0.5"/>
<text x="22.7" y="151.4" font-size="2.5" text-anchor="end" fill="#3a3a3a" stroke="#3a3a3a" stroke-width="0.12">70.00</text>
<line x1="23.5" y1="122.0" x2="26.0" y2="122.0" stroke="#777" stroke-width="0.5"/>
<text x="22.7" y="122.9" font-size="2.5" text-anchor="end" fill="#3a3a3a" stroke="#3a3a3a" stroke-width="0.12">72.00</text>
<line x1="23.5" y1="93.5" x2="26.0" y2="93.5" stroke="#777" stroke-width="0.5"/>
<text x="22.7" y="94.4" font-size="2.5" text-anchor="end" fill="#3a3a3a" stroke="#3a3a3a" stroke-width="0.12">74.00</text>
<line x1="23.5" y1="65.0" x2="26.0" y2="65.0" stroke="#777" stroke-width="0.5"/>
<text x="22.7" y="65.9" font-size="2.5" text-anchor="end" fill="#3a3a3a" stroke="#3a3a3a" stroke-width="0.12">76.00</text>
<line x1="23.5" y1="36.5" x2="26.0" y2="36.5" stroke="#777" stroke-width="0.5"/>
<text x="22.7" y="37.4" font-size="2.5" text-anchor="end" fill="#3a3a3a" stroke="#3a3a3a" stroke-width="0.12">78.00</text>
<line x1="23.5" y1="8.0" x2="26.0" y2="8.0" stroke="#777" stroke-width="0.5"/>
<text x="22.7" y="8.9" font-size="2.5" text-anchor="end" fill="#3a3a3a" stroke="#3a3a3a" stroke-width="0.12">80.00</text>
<text x="97.3" y="5.8" font-size="3.8" text-anchor="middle" fill="#3a3a3a">P.Y. (%)</text>
<text x="97.3" y="168.5" font-size="3.5" text-anchor="middle" fill="#3a3a3a">A: Eudragit RS 100 (%)</text>
<text x="4" y="79.2" font-size="3.6" text-anchor="middle" fill="#3a3a3a" transform="rotate(-90 4 79.2)">C: Drug conc. (%)</text>
<circle cx="26.0" cy="8.0" r="1.6" fill="#a00000"/>
<circle cx="168.7" cy="8.0" r="1.6" fill="#a00000"/>
<circle cx="26.0" cy="150.5" r="1.6" fill="#a00000"/>
<circle cx="168.7" cy="150.5" r="1.6" fill="#a00000"/>
<circle cx="97.3" cy="79.2" r="1.6" fill="#a00000"/>
<text x="94.3" y="80.2" font-size="2.6" text-anchor="middle" fill="#a00000" stroke="#a00000" stroke-width="0.12">5</text>
<rect x="355.7" y="8.0" width="140.7" height="140.0" fill="none" stroke="#8a8a8a" stroke-width="0.6"/>
<path d="M496.4 87.4 494.7 87.8 492.9 88.2 491.5 88.5 489.4 89.0 488.0 89.4 485.8 89.8 484.4 90.2 482.6 90.6 480.9 91.0 479.5 91.3 477.4 91.8 476.0 92.1 473.9 92.6 472.5 92.9 470.4 93.4 469.0 93.7 467.3 94.1 465.4 94.5 464.0 94.8 461.9 95.3 460.5 95.6 458.4 96.1 457.0 96.4 454.9 96.9 453.5 97.2 451.7 97.6 450.0 98.0 448.6 98.3 446.5 98.8 445.0 99.1 442.9 99.6 441.5 99.9 439.4 100.3 438.0 100.6 435.9 101.1 434.5 101.4 432.7 101.8 431.0 102.2 429.5 102.5 427.5 102.9 426.0 103.2 423.9 103.7 422.5 104.0 420.4 104.5 419.0 104.8 416.9 105.2 415.5 105.5 413.4 105.9 412.0 106.2 409.9 106.7 408.5 107.0 406.5 107.4 404.9 107.7 403.1 108.1 401.4 108.4 399.7 108.8 397.9 109.2 396.2 109.5 394.4 109.9 392.8 110.2 390.9 110.6 389.3 110.9 387.4 111.3 385.8 111.6 383.8 112.0 382.2 112.3 380.3 112.7 378.6 113.0 376.8 113.3 374.9 113.7 373.3 114.0 371.2 114.4 369.8 114.7 367.7 115.0 366.3 115.3 364.1 115.7 362.7 115.9 360.6 116.3 359.2 116.6 357.1 116.9 355.7 117.2" fill="none" stroke="#2a2a2a" stroke-opacity="0.85" stroke-width="0.55"/>
<path d="M355.7 66.0 357.1 65.2 358.5 64.4 359.9 63.6 361.3 62.8 362.7 62.0 364.1 61.2 365.3 60.5 366.5 59.8 367.7 59.1 369.1 58.3 370.5 57.5 371.9 56.7 373.3 56.0 374.7 55.2 376.1 54.4 377.5 53.6 378.9 52.8 380.1 52.1 381.4 51.4 382.6 50.7 383.9 50.0 385.2 49.2 386.7 48.5 388.1 47.7 389.5 46.9 390.9 46.1 392.3 45.3 393.7 44.6 395.1 43.8 396.5 43.0 397.8 42.3 399.0 41.6 400.3 40.9 401.6 40.2 402.9 39.5 404.2 38.7 405.6 38.0 407.1 37.2 408.5 36.4 409.9 35.7 411.3 34.9 412.7 34.1 414.1 33.4 415.5 32.6 416.9 31.9 418.3 31.1 419.6 30.4 420.9 29.7 422.2 29.0 423.5 28.3 424.8 27.6 426.1 26.9 427.5 26.2 428.9 25.4 430.3 24.6 431.7 23.9 433.1 23.1 434.5 22.4 435.9 21.6 437.3 20.9 438.7 20.1 440.1 19.4 441.5 18.6 442.9 17.9 444.3 17.1 445.7 16.4 447.0 15.7 448.3 15.0 449.6 14.3 451.0 13.6 452.3 12.9 453.6 12.2 454.9 11.5 456.3 10.8 457.7 10.0 459.1 9.3 460.5 8.5 461.5 8.0" fill="none" stroke="#2a2a2a" stroke-opacity="0.85" stroke-width="0.55"/>
<path d="M496.4 121.7 495.0 122.1 492.9 122.8 491.5 123.2 490.1 123.6 488.0 124.2 486.6 124.6 485.1 125.0 483.2 125.6 481.6 126.1 480.2 126.5 478.4 127.0 476.7 127.5 475.3 127.9 473.6 128.4 471.8 128.9 470.4 129.4 468.9 129.8 466.9 130.4 465.4 130.8 464.0 131.2 461.9 131.8 460.5 132.3 459.1 132.7 457.0 133.3 455.6 133.7 454.2 134.1 452.3 134.7 450.7 135.2 449.3 135.6 447.5 136.1 445.7 136.6 444.3 137.0 442.8 137.5 440.8 138.1 439.4 138.5 438.0 138.9 435.9 139.5 434.5 140.0 433.1 140.4 431.0 141.0 429.6 141.4 428.2 141.8 426.3 142.4 424.6 142.9 423.2 143.3 421.6 143.8 419.7 144.4 418.3 144.8 416.9 145.2 414.8 145.8 413.4 146.2 412.0 146.7 409.9 147.3 408.5 147.7 407.5 148.0" fill="none" stroke="#2a2a2a" stroke-opacity="0.85" stroke-width="0.55"/>
<path d="M355.7 19.6 357.1 19.0 358.5 18.3 359.9 17.7 361.3 17.1 362.8 16.4 364.3 15.7 365.9 15.0 367.4 14.3 369.0 13.6 370.5 12.9 371.9 12.3 373.3 11.7 374.7 11.0 376.1 10.4 377.5 9.8 378.9 9.1 380.3 8.5 381.4 8.0" fill="none" stroke="#2a2a2a" stroke-opacity="0.85" stroke-width="0.55"/>
<path d="M496.4 145.1 495.0 145.6 493.6 146.0 491.6 146.6 490.1 147.1 488.7 147.5 487.2 148.0 487.2 148.0" fill="none" stroke="#2a2a2a" stroke-opacity="0.85" stroke-width="0.55"/>
<rect x="367.4" y="10.3" width="4.8" height="3.6" fill="#f4f4f4" stroke="#888" stroke-width="0.4"/>
<text x="369.8" y="13" font-size="2.4" text-anchor="middle" fill="#666" stroke="#666" stroke-width="0.12">85</text>
<rect x="406.1" y="33.6" width="4.8" height="3.6" fill="#f4f4f4" stroke="#888" stroke-width="0.4"/>
<text x="408.5" y="36.3" font-size="2.4" text-anchor="middle" fill="#666" stroke="#666" stroke-width="0.12">80</text>
<rect x="425.1" y="99.9" width="4.8" height="3.6" fill="#f4f4f4" stroke="#888" stroke-width="0.4"/>
<text x="427.5" y="102.6" font-size="2.4" text-anchor="middle" fill="#666" stroke="#666" stroke-width="0.12">80</text>
<rect x="449.3" y="131.2" width="4.8" height="3.6" fill="#f4f4f4" stroke="#888" stroke-width="0.4"/>
<text x="451.7" y="133.9" font-size="2.4" text-anchor="middle" fill="#666" stroke="#666" stroke-width="0.12">85</text>
<rect x="490.1" y="143.1" width="4.8" height="3.6" fill="#f4f4f4" stroke="#888" stroke-width="0.4"/>
<text x="492.5" y="145.8" font-size="2.4" text-anchor="middle" fill="#666" stroke="#666" stroke-width="0.12">90</text>
<line x1="355.7" y1="148.0" x2="355.7" y2="150.5" stroke="#777" stroke-width="0.5"/>
<text x="355.7" y="155.4" font-size="2.5" text-anchor="middle" fill="#3a3a3a" stroke="#3a3a3a" stroke-width="0.12">0.00</text>
<line x1="383.8" y1="148.0" x2="383.8" y2="150.5" stroke="#777" stroke-width="0.5"/>
<text x="383.8" y="155.4" font-size="2.5" text-anchor="middle" fill="#3a3a3a" stroke="#3a3a3a" stroke-width="0.12">20.00</text>
<line x1="412.0" y1="148.0" x2="412.0" y2="150.5" stroke="#777" stroke-width="0.5"/>
<text x="412" y="155.4" font-size="2.5" text-anchor="middle" fill="#3a3a3a" stroke="#3a3a3a" stroke-width="0.12">40.00</text>
<line x1="440.1" y1="148.0" x2="440.1" y2="150.5" stroke="#777" stroke-width="0.5"/>
<text x="440.1" y="155.4" font-size="2.5" text-anchor="middle" fill="#3a3a3a" stroke="#3a3a3a" stroke-width="0.12">60.00</text>
<line x1="468.3" y1="148.0" x2="468.3" y2="150.5" stroke="#777" stroke-width="0.5"/>
<text x="468.3" y="155.4" font-size="2.5" text-anchor="middle" fill="#3a3a3a" stroke="#3a3a3a" stroke-width="0.12">80.00</text>
<line x1="496.4" y1="148.0" x2="496.4" y2="150.5" stroke="#777" stroke-width="0.5"/>
<text x="496.4" y="155.4" font-size="2.5" text-anchor="middle" fill="#3a3a3a" stroke="#3a3a3a" stroke-width="0.12">100.00</text>
<line x1="353.2" y1="148.0" x2="355.7" y2="148.0" stroke="#777" stroke-width="0.5"/>
<text x="352.4" y="148.9" font-size="2.5" text-anchor="end" fill="#3a3a3a" stroke="#3a3a3a" stroke-width="0.12">70.00</text>
<line x1="353.2" y1="120.0" x2="355.7" y2="120.0" stroke="#777" stroke-width="0.5"/>
<text x="352.4" y="120.9" font-size="2.5" text-anchor="end" fill="#3a3a3a" stroke="#3a3a3a" stroke-width="0.12">72.00</text>
<line x1="353.2" y1="92.0" x2="355.7" y2="92.0" stroke="#777" stroke-width="0.5"/>
<text x="352.4" y="92.9" font-size="2.5" text-anchor="end" fill="#3a3a3a" stroke="#3a3a3a" stroke-width="0.12">74.00</text>
<line x1="353.2" y1="64.0" x2="355.7" y2="64.0" stroke="#777" stroke-width="0.5"/>
<text x="352.4" y="64.9" font-size="2.5" text-anchor="end" fill="#3a3a3a" stroke="#3a3a3a" stroke-width="0.12">76.00</text>
<line x1="353.2" y1="36.0" x2="355.7" y2="36.0" stroke="#777" stroke-width="0.5"/>
<text x="352.4" y="36.9" font-size="2.5" text-anchor="end" fill="#3a3a3a" stroke="#3a3a3a" stroke-width="0.12">78.00</text>
<line x1="353.2" y1="8.0" x2="355.7" y2="8.0" stroke="#777" stroke-width="0.5"/>
<text x="352.4" y="8.9" font-size="2.5" text-anchor="end" fill="#3a3a3a" stroke="#3a3a3a" stroke-width="0.12">80.00</text>
<text x="426" y="5.8" font-size="3.8" text-anchor="middle" fill="#3a3a3a">E.E.% (%)</text>
<text x="426" y="166" font-size="3.5" text-anchor="middle" fill="#3a3a3a">A: Eudragit RS 100 (%)</text>
<text x="333.7" y="78" font-size="3.6" text-anchor="middle" fill="#3a3a3a" transform="rotate(-90 333.7 78)">C: Drug (%)</text>
<circle cx="355.7" cy="8.0" r="1.6" fill="#a00000"/>
<circle cx="496.4" cy="8.0" r="1.6" fill="#a00000"/>
<circle cx="355.7" cy="148.0" r="1.6" fill="#a00000"/>
<circle cx="496.4" cy="148.0" r="1.6" fill="#a00000"/>
<circle cx="426.0" cy="78.0" r="1.6" fill="#a00000"/>
<text x="423" y="79" font-size="2.6" text-anchor="middle" fill="#a00000" stroke="#a00000" stroke-width="0.12">5</text>
<rect x="26.0" y="189.3" width="141.6" height="141.1" fill="none" stroke="#8a8a8a" stroke-width="0.6"/>
<path d="M161.2 189.3 159.8 190.3 158.4 191.4 157.2 192.1 156.1 192.8 154.9 193.6 153.4 194.4 152.0 195.1 150.6 195.8 149.2 196.4 147.4 197.1 145.7 197.6 144.2 197.9 142.1 198.3 140.7 198.5 138.6 198.6 136.4 198.6 135.0 198.4 132.9 198.0 131.5 197.7 129.6 197.1 128.0 196.4 126.5 195.7 125.3 194.9 124.1 194.2 123.0 193.5 121.6 192.4 120.4 191.4 119.5 190.6 118.1 189.3 118.1 189.3" fill="none" stroke="#2a2a2a" stroke-opacity="0.85" stroke-width="0.55"/>
<path d="M167.6 239.2 166.7 240.1 165.5 241.5 164.8 242.2 163.4 243.6 162.6 244.4 161.2 245.7 160.5 246.4 159.1 247.7 158.1 248.6 157.0 249.6 155.6 250.7 154.8 251.4 153.4 252.4 152.0 253.5 151.0 254.2 149.9 254.9 148.5 255.8 147.1 256.7 145.7 257.5 144.2 258.2 142.8 258.9 141.4 259.6 140.0 260.1 138.6 260.6 136.4 261.3 135.0 261.6 133.1 262.0 131.5 262.2 129.4 262.3 127.2 262.3 125.1 262.1 123.7 261.9 121.6 261.4 120.2 261.0 118.7 260.4 117.3 259.9 115.9 259.1 114.5 258.4 113.1 257.5 111.7 256.5 110.4 255.6 109.5 254.9 108.1 253.7 107.2 252.8 106.0 251.6 105.1 250.7 103.9 249.3 103.2 248.4 102.1 247.2 101.1 245.7 100.3 244.8 99.5 243.6 98.6 242.2 97.7 240.8 96.8 239.4 96.1 238.2 95.4 237.0 94.7 235.7 94.0 234.4 93.3 233.0 92.6 231.6 91.8 230.2 91.1 228.7 90.4 227.1 89.7 225.5 89.0 223.9 88.4 222.5 87.8 221.0 87.3 219.6 86.7 218.2 86.2 216.7 85.5 214.8 84.9 213.3 84.5 211.9 84.0 210.5 83.3 208.6 82.8 206.9 82.4 205.5 81.9 204.1 81.3 202.0 80.9 200.6 80.5 199.2 79.9 197.1 79.5 195.6 79.1 194.1 78.6 192.1 78.2 190.7 77.9 189.3" fill="none" stroke="#2a2a2a" stroke-opacity="0.85" stroke-width="0.55"/>
<path d="M167.6 287.1 166.8 288.1 165.6 289.5 164.8 290.4 163.8 291.6 162.6 292.8 161.9 293.7 160.6 295.1 159.8 295.9 158.5 297.2 157.7 298.1 156.4 299.4 155.6 300.2 154.2 301.5 153.4 302.2 152.0 303.4 151.0 304.3 149.9 305.2 148.5 306.4 147.5 307.1 146.4 308.0 144.9 309.0 143.6 309.9 142.6 310.6 141.4 311.4 140.0 312.2 138.6 313.0 137.2 313.8 135.7 314.5 134.3 315.1 132.9 315.7 131.2 316.3 129.4 316.9 128.0 317.3 125.9 317.7 124.4 317.9 122.3 318.2 120.2 318.2 118.0 318.2 115.9 317.9 114.5 317.7 112.4 317.2 111.0 316.7 109.5 316.2 108.0 315.6 106.5 314.9 105.2 314.2 103.9 313.4 102.5 312.4 101.0 311.4 100.1 310.6 98.9 309.7 97.6 308.5 96.8 307.7 95.5 306.4 94.7 305.6 93.5 304.3 92.6 303.1 91.8 302.2 90.7 300.8 89.7 299.5 89.0 298.5 88.2 297.2 87.2 295.8 86.3 294.4 85.5 293.0 84.8 291.8 84.1 290.6 83.3 289.3 82.6 288.0 81.9 286.6 81.2 285.2 80.5 283.8 79.8 282.3 79.1 280.8 78.4 279.2 77.7 277.6 77.1 276.1 76.5 274.7 75.9 273.3 75.3 271.8 74.8 270.4 74.1 268.7 73.5 266.9 73.0 265.5 72.5 264.1 72.0 262.7 71.3 260.6 70.9 259.1 70.4 257.7 69.9 256.1 69.3 254.2 68.9 252.8 68.5 251.3 67.9 249.3 67.5 247.9 67.1 246.2 66.6 244.3 66.2 242.9 65.6 240.8 65.3 239.4 64.9 238.0 64.4 235.9 64.1 234.5 63.6 232.3 63.3 230.9 62.8 228.8 62.5 227.4 62.1 225.5 61.8 223.9 61.4 222.1 61.1 220.3 60.7 218.5 60.4 216.8 60.0 214.8 59.7 213.3 59.3 211.2 59.1 209.8 58.7 207.6 58.4 206.2 58.1 204.1 57.9 202.7 57.5 200.6 57.2 198.5 57.0 197.1 56.6 194.9 56.4 193.5 56.1 191.4 55.8 189.3 55.8 189.3" fill="none" stroke="#2a2a2a" stroke-opacity="0.85" stroke-width="0.55"/>
<path d="M67.8 330.4 67.2 329.0 66.6 327.6 66.0 326.2 65.4 324.8 64.8 323.3 64.2 321.9 63.5 320.0 62.9 318.4 62.4 317.0 61.9 315.6 61.4 314.2 60.7 312.1 60.2 310.6 59.7 309.2 59.3 307.8 58.6 305.7 58.2 304.3 57.7 302.9 57.2 300.9 56.7 299.4 56.3 297.9 55.7 296.0 55.3 294.4 54.9 293.0 54.4 290.9 54.0 289.5 53.6 287.9 53.1 286.0 52.8 284.5 52.3 282.4 51.9 281.0 51.5 279.1 51.1 277.5 50.8 275.9 50.4 274.0 50.1 272.5 49.6 270.4 49.3 269.0 48.9 266.9 48.6 265.5 48.2 263.4 47.9 262.0 47.5 259.9 47.2 258.3 46.9 256.3 46.5 254.4 46.2 252.8 45.9 250.7 45.6 249.3 45.3 247.2 45.1 245.7 44.7 243.6 44.4 241.6 44.2 240.1 43.9 238.0 43.6 236.6 43.3 234.5 43.0 232.3 42.8 230.9 42.5 228.8 42.3 226.9 42.1 225.3 41.8 223.2 41.6 221.5 41.3 219.6 41.1 217.5 40.9 215.8 40.7 214.0 40.4 211.9 40.2 209.8 40.0 208.3 39.8 206.2 39.5 204.1 39.4 202.7 39.2 200.6 39.0 198.5 38.7 196.4 38.6 194.9 38.4 192.8 38.2 190.7 38.1 189.3" fill="none" stroke="#2a2a2a" stroke-opacity="0.85" stroke-width="0.55"/>
<path d="M43.5 330.4 43.0 328.3 42.6 326.9 42.3 325.5 41.8 323.3 41.4 321.9 41.0 319.8 40.6 318.4 40.2 316.3 39.9 314.9 39.5 313.0 39.1 311.4 38.7 309.6 38.4 307.8 38.0 306.1 37.7 304.3 37.3 302.5 37.0 300.8 36.6 298.8 36.3 297.2 36.0 295.1 35.7 293.7 35.3 291.6 35.1 290.2 34.7 288.1 34.5 286.6 34.2 284.5 33.8 282.4 33.6 281.0 33.3 278.9 33.1 277.5 32.7 275.4 32.4 273.3 32.2 271.8 31.9 269.7 31.7 267.9 31.4 266.2 31.1 264.1 31.0 262.7 30.7 260.6 30.4 258.4 30.2 257.0 30.0 254.9 29.7 252.8 29.5 251.4 29.3 249.3 29.0 247.2 28.8 245.2 28.7 243.6 28.4 241.5 28.2 239.4 28.0 238.0 27.8 235.9 27.6 233.7 27.4 231.7 27.3 230.2 27.1 228.1 26.9 226.0 26.7 224.2 26.5 222.5 26.4 220.3 26.2 218.2 26.0 216.1 26.0 216.1" fill="none" stroke="#2a2a2a" stroke-opacity="0.85" stroke-width="0.55"/>
<rect x="134.7" y="195.9" width="4.8" height="3.6" fill="#f4f4f4" stroke="#888" stroke-width="0.4"/>
<text x="137.1" y="198.6" font-size="2.4" text-anchor="middle" fill="#666" stroke="#666" stroke-width="0.12">15</text>
<rect x="104.9" y="250.0" width="4.8" height="3.6" fill="#f4f4f4" stroke="#888" stroke-width="0.4"/>
<text x="107.3" y="252.7" font-size="2.4" text-anchor="middle" fill="#666" stroke="#666" stroke-width="0.12">20</text>
<rect x="45.8" y="261.2" width="4.8" height="3.6" fill="#f4f4f4" stroke="#888" stroke-width="0.4"/>
<text x="48.2" y="263.9" font-size="2.4" text-anchor="middle" fill="#666" stroke="#666" stroke-width="0.12">30</text>
<rect x="30.4" y="277.4" width="4.8" height="3.6" fill="#f4f4f4" stroke="#888" stroke-width="0.4"/>
<text x="32.8" y="280.1" font-size="2.4" text-anchor="middle" fill="#666" stroke="#666" stroke-width="0.12">35</text>
<rect x="83.3" y="290.1" width="4.8" height="3.6" fill="#f4f4f4" stroke="#888" stroke-width="0.4"/>
<text x="85.7" y="292.8" font-size="2.4" text-anchor="middle" fill="#666" stroke="#666" stroke-width="0.12">25</text>
<line x1="26.0" y1="330.4" x2="26.0" y2="332.9" stroke="#777" stroke-width="0.5"/>
<text x="26" y="337.8" font-size="2.5" text-anchor="middle" fill="#3a3a3a" stroke="#3a3a3a" stroke-width="0.12">0.00</text>
<line x1="54.3" y1="330.4" x2="54.3" y2="332.9" stroke="#777" stroke-width="0.5"/>
<text x="54.3" y="337.8" font-size="2.5" text-anchor="middle" fill="#3a3a3a" stroke="#3a3a3a" stroke-width="0.12">20.00</text>
<line x1="82.6" y1="330.4" x2="82.6" y2="332.9" stroke="#777" stroke-width="0.5"/>
<text x="82.6" y="337.8" font-size="2.5" text-anchor="middle" fill="#3a3a3a" stroke="#3a3a3a" stroke-width="0.12">40.00</text>
<line x1="111.0" y1="330.4" x2="111.0" y2="332.9" stroke="#777" stroke-width="0.5"/>
<text x="111" y="337.8" font-size="2.5" text-anchor="middle" fill="#3a3a3a" stroke="#3a3a3a" stroke-width="0.12">60.00</text>
<line x1="139.3" y1="330.4" x2="139.3" y2="332.9" stroke="#777" stroke-width="0.5"/>
<text x="139.3" y="337.8" font-size="2.5" text-anchor="middle" fill="#3a3a3a" stroke="#3a3a3a" stroke-width="0.12">80.00</text>
<line x1="167.6" y1="330.4" x2="167.6" y2="332.9" stroke="#777" stroke-width="0.5"/>
<text x="167.6" y="337.8" font-size="2.5" text-anchor="middle" fill="#3a3a3a" stroke="#3a3a3a" stroke-width="0.12">100.00</text>
<line x1="23.5" y1="330.4" x2="26.0" y2="330.4" stroke="#777" stroke-width="0.5"/>
<text x="22.7" y="331.3" font-size="2.5" text-anchor="end" fill="#3a3a3a" stroke="#3a3a3a" stroke-width="0.12">15.00</text>
<line x1="23.5" y1="302.2" x2="26.0" y2="302.2" stroke="#777" stroke-width="0.5"/>
<text x="22.7" y="303.1" font-size="2.5" text-anchor="end" fill="#3a3a3a" stroke="#3a3a3a" stroke-width="0.12">17.00</text>
<line x1="23.5" y1="274.0" x2="26.0" y2="274.0" stroke="#777" stroke-width="0.5"/>
<text x="22.7" y="274.9" font-size="2.5" text-anchor="end" fill="#3a3a3a" stroke="#3a3a3a" stroke-width="0.12">19.00</text>
<line x1="23.5" y1="245.7" x2="26.0" y2="245.7" stroke="#777" stroke-width="0.5"/>
<text x="22.7" y="246.6" font-size="2.5" text-anchor="end" fill="#3a3a3a" stroke="#3a3a3a" stroke-width="0.12">21.00</text>
<line x1="23.5" y1="217.5" x2="26.0" y2="217.5" stroke="#777" stroke-width="0.5"/>
<text x="22.7" y="218.4" font-size="2.5" text-anchor="end" fill="#3a3a3a" stroke="#3a3a3a" stroke-width="0.12">23.00</text>
<line x1="23.5" y1="189.3" x2="26.0" y2="189.3" stroke="#777" stroke-width="0.5"/>
<text x="22.7" y="190.2" font-size="2.5" text-anchor="end" fill="#3a3a3a" stroke="#3a3a3a" stroke-width="0.12">25.00</text>
<text x="96.8" y="187.1" font-size="3.8" text-anchor="middle" fill="#3a3a3a">P.S. (micrometer)</text>
<text x="96.8" y="348.4" font-size="3.5" text-anchor="middle" fill="#3a3a3a">A: Eudragit RS 100 (%)</text>
<text x="4" y="259.9" font-size="3.6" text-anchor="middle" fill="#3a3a3a" transform="rotate(-90 4 259.9)">B: Organic p volume (ml)</text>
<circle cx="26.0" cy="189.3" r="1.6" fill="#a00000"/>
<circle cx="167.6" cy="189.3" r="1.6" fill="#a00000"/>
<circle cx="26.0" cy="330.4" r="1.6" fill="#a00000"/>
<circle cx="167.6" cy="330.4" r="1.6" fill="#a00000"/>
<circle cx="96.8" cy="259.9" r="1.6" fill="#a00000"/>
<text x="93.8" y="260.9" font-size="2.6" text-anchor="middle" fill="#a00000" stroke="#a00000" stroke-width="0.12">5</text>
<rect x="355.7" y="188.1" width="141.2" height="141.5" fill="none" stroke="#8a8a8a" stroke-width="0.6"/>
<path d="M474.0 329.6 475.0 328.7 476.4 327.5 477.2 326.8 478.5 325.6 479.6 324.6 480.7 323.8 482.1 322.6 483.0 321.8 484.2 320.8 485.5 319.7 486.4 319.0 487.7 317.9 489.0 316.9 489.9 316.2 491.3 315.1 492.6 314.0 493.5 313.3 494.8 312.4 496.2 311.3 496.9 310.8" fill="none" stroke="#2a2a2a" stroke-opacity="0.85" stroke-width="0.55"/>
<path d="M450.5 329.6 451.7 328.3 452.6 327.5 453.8 326.2 454.7 325.4 456.0 324.1 456.8 323.2 458.1 322.0 459.0 321.1 460.2 319.9 461.2 319.0 462.3 317.9 463.4 316.9 464.4 315.9 465.7 314.7 466.5 314.0 468.0 312.7 468.8 311.9 470.1 310.8 471.2 309.8 472.2 309.0 473.6 307.8 474.5 307.0 475.7 306.0 477.1 304.8 477.9 304.1 479.2 303.0 480.5 302.0 481.4 301.3 482.8 300.2 484.1 299.2 485.0 298.5 486.3 297.5 487.7 296.4 488.7 295.6 489.8 294.8 491.3 293.8 492.6 292.8 493.6 292.1 494.8 291.2 496.2 290.2 496.9 289.7" fill="none" stroke="#2a2a2a" stroke-opacity="0.85" stroke-width="0.55"/>
<path d="M426.7 329.6 427.7 328.3 428.4 327.4 429.5 326.1 430.5 324.8 431.2 323.9 432.4 322.5 433.4 321.4 434.2 320.4 435.4 319.0 436.2 318.0 437.2 316.9 438.3 315.6 439.0 314.7 440.3 313.3 441.1 312.4 442.2 311.2 443.2 310.0 444.1 309.1 445.4 307.7 446.1 307.0 447.4 305.5 448.2 304.8 449.5 303.4 450.3 302.6 451.6 301.3 452.4 300.5 453.7 299.2 454.5 298.4 455.9 297.1 456.7 296.3 458.1 295.0 458.9 294.2 460.2 293.1 461.2 292.1 462.3 291.1 463.6 290.0 464.4 289.3 465.8 288.1 466.9 287.2 468.0 286.3 469.4 285.1 470.3 284.3 471.5 283.4 472.9 282.2 473.8 281.5 475.0 280.6 476.4 279.5 477.5 278.7 478.5 277.9 480.0 276.9 481.4 275.9 482.4 275.1 483.5 274.4 484.9 273.4 486.3 272.4 487.5 271.6 488.6 270.9 489.8 270.1 491.3 269.2 492.7 268.3 494.1 267.4 495.3 266.6 496.5 265.9 496.9 265.7" fill="none" stroke="#2a2a2a" stroke-opacity="0.85" stroke-width="0.55"/>
<path d="M365.6 188.1 364.2 188.8 362.8 189.5 361.3 190.1 359.9 190.8 358.5 191.4 357.1 192.1 355.7 192.7 355.7 192.7" fill="none" stroke="#2a2a2a" stroke-opacity="0.85" stroke-width="0.55"/>
<path d="M398.2 329.6 399.0 328.2 399.7 326.8 400.5 325.4 401.3 323.9 402.1 322.5 402.9 321.1 403.7 319.7 404.4 318.4 405.1 317.2 405.8 316.0 406.5 314.7 407.3 313.3 408.2 311.9 409.0 310.5 409.8 309.1 410.7 307.7 411.5 306.3 412.2 305.1 412.9 303.9 413.6 302.7 414.5 301.3 415.4 299.9 416.2 298.5 417.1 297.1 417.8 295.9 418.5 294.8 419.4 293.5 420.3 292.1 421.2 290.7 422.1 289.4 422.8 288.3 423.5 287.2 424.5 285.7 425.5 284.3 426.3 283.1 427.0 282.1 427.9 280.8 429.0 279.4 429.8 278.2 430.5 277.2 431.6 275.8 432.7 274.4 433.4 273.5 434.3 272.3 435.4 270.9 436.2 270.0 437.2 268.8 438.3 267.4 439.0 266.6 440.2 265.2 441.1 264.2 442.1 263.1 443.2 261.9 444.1 261.0 445.4 259.7 446.2 258.9 447.5 257.6 448.4 256.7 449.6 255.6 450.7 254.6 451.7 253.7 453.1 252.5 454.0 251.8 455.2 250.8 456.6 249.7 457.6 248.9 458.8 248.0 460.2 247.0 461.5 246.1 462.5 245.4 463.7 244.6 465.1 243.7 466.5 242.8 468.0 242.0 469.4 241.2 470.6 240.5 471.9 239.7 473.3 239.0 474.6 238.3 476.1 237.6 477.5 236.9 479.0 236.2 480.6 235.5 482.1 234.8 483.5 234.2 484.9 233.7 486.3 233.1 487.7 232.5 489.2 232.0 491.1 231.3 492.7 230.7 494.1 230.2 495.5 229.7 496.9 229.2" fill="none" stroke="#2a2a2a" stroke-opacity="0.85" stroke-width="0.55"/>
<path d="M431.5 188.1 430.5 189.0 429.2 190.2 428.3 190.9 427.0 192.0 425.7 193.1 424.8 193.8 423.5 194.8 422.1 195.9 421.0 196.6 419.9 197.4 418.5 198.3 417.1 199.2 415.7 200.1 414.6 200.8 413.4 201.5 412.2 202.2 410.8 203.0 409.4 203.8 407.9 204.6 406.5 205.3 405.1 206.0 403.7 206.7 402.3 207.3 400.9 208.0 399.4 208.6 397.7 209.3 396.0 210.0 394.5 210.6 393.1 211.2 391.7 211.7 390.3 212.2 388.5 212.9 386.8 213.5 385.4 214.0 383.9 214.4 382.3 215.0 380.4 215.6 379.0 216.0 377.6 216.4 375.5 217.1 374.1 217.5 372.6 217.9 370.5 218.5 369.1 218.8 367.7 219.2 365.6 219.8 364.2 220.1 362.2 220.6 360.6 221.0 359.2 221.4 357.1 221.9 355.7 222.2 355.7 222.2" fill="none" stroke="#2a2a2a" stroke-opacity="0.85" stroke-width="0.55"/>
<path d="M369.0 329.6 369.3 328.2 369.8 326.4 370.3 324.6 370.6 323.2 371.1 321.1 371.4 319.7 371.9 317.6 372.2 316.2 372.6 314.0 372.8 312.6 373.2 310.5 373.4 309.1 373.7 307.0 374.0 304.8 374.1 303.4 374.3 301.3 374.4 299.2 374.5 297.1 374.5 294.9 374.5 292.8 374.3 290.7 374.1 288.6 373.8 287.2 373.4 285.0 373.1 283.6 372.6 282.2 371.9 280.2 371.3 278.7 370.6 277.2 369.8 275.9 369.1 274.8 368.3 273.7 367.2 272.3 366.3 271.3 365.2 270.2 364.2 269.3 362.8 268.1 361.7 267.3 360.6 266.6 359.2 265.8 357.8 265.0 356.4 264.3 355.7 263.9" fill="none" stroke="#2a2a2a" stroke-opacity="0.85" stroke-width="0.55"/>
<rect x="358.4" y="188.7" width="4.8" height="3.6" fill="#f4f4f4" stroke="#888" stroke-width="0.4"/>
<text x="360.8" y="191.4" font-size="2.4" text-anchor="middle" fill="#666" stroke="#666" stroke-width="0.12">40</text>
<rect x="396.8" y="205.3" width="4.8" height="3.6" fill="#f4f4f4" stroke="#888" stroke-width="0.4"/>
<text x="399.2" y="208" font-size="2.4" text-anchor="middle" fill="#666" stroke="#666" stroke-width="0.12">50</text>
<rect x="371.5" y="284.6" width="4.8" height="3.6" fill="#f4f4f4" stroke="#888" stroke-width="0.4"/>
<text x="373.9" y="287.3" font-size="2.4" text-anchor="middle" fill="#666" stroke="#666" stroke-width="0.12">70</text>
<rect x="435.4" y="265.5" width="4.8" height="3.6" fill="#f4f4f4" stroke="#888" stroke-width="0.4"/>
<text x="437.8" y="268.2" font-size="2.4" text-anchor="middle" fill="#666" stroke="#666" stroke-width="0.12">50</text>
<rect x="455.5" y="290.2" width="4.8" height="3.6" fill="#f4f4f4" stroke="#888" stroke-width="0.4"/>
<text x="457.9" y="292.9" font-size="2.4" text-anchor="middle" fill="#666" stroke="#666" stroke-width="0.12">40</text>
<rect x="469.5" y="306.0" width="4.8" height="3.6" fill="#f4f4f4" stroke="#888" stroke-width="0.4"/>
<text x="471.9" y="308.7" font-size="2.4" text-anchor="middle" fill="#666" stroke="#666" stroke-width="0.12">30</text>
<rect x="483.3" y="316.5" width="4.8" height="3.6" fill="#f4f4f4" stroke="#888" stroke-width="0.4"/>
<text x="485.7" y="319.2" font-size="2.4" text-anchor="middle" fill="#666" stroke="#666" stroke-width="0.12">20</text>
<line x1="355.7" y1="329.6" x2="355.7" y2="332.1" stroke="#777" stroke-width="0.5"/>
<text x="355.7" y="337" font-size="2.5" text-anchor="middle" fill="#3a3a3a" stroke="#3a3a3a" stroke-width="0.12">15.00</text>
<line x1="383.9" y1="329.6" x2="383.9" y2="332.1" stroke="#777" stroke-width="0.5"/>
<text x="383.9" y="337" font-size="2.5" text-anchor="middle" fill="#3a3a3a" stroke="#3a3a3a" stroke-width="0.12">17.00</text>
<line x1="412.2" y1="329.6" x2="412.2" y2="332.1" stroke="#777" stroke-width="0.5"/>
<text x="412.2" y="337" font-size="2.5" text-anchor="middle" fill="#3a3a3a" stroke="#3a3a3a" stroke-width="0.12">19.00</text>
<line x1="440.4" y1="329.6" x2="440.4" y2="332.1" stroke="#777" stroke-width="0.5"/>
<text x="440.4" y="337" font-size="2.5" text-anchor="middle" fill="#3a3a3a" stroke="#3a3a3a" stroke-width="0.12">21.00</text>
<line x1="468.7" y1="329.6" x2="468.7" y2="332.1" stroke="#777" stroke-width="0.5"/>
<text x="468.7" y="337" font-size="2.5" text-anchor="middle" fill="#3a3a3a" stroke="#3a3a3a" stroke-width="0.12">23.00</text>
<line x1="496.9" y1="329.6" x2="496.9" y2="332.1" stroke="#777" stroke-width="0.5"/>
<text x="496.9" y="337" font-size="2.5" text-anchor="middle" fill="#3a3a3a" stroke="#3a3a3a" stroke-width="0.12">25.00</text>
<line x1="353.2" y1="329.6" x2="355.7" y2="329.6" stroke="#777" stroke-width="0.5"/>
<text x="352.4" y="330.5" font-size="2.5" text-anchor="end" fill="#3a3a3a" stroke="#3a3a3a" stroke-width="0.12">70.00</text>
<line x1="353.2" y1="301.3" x2="355.7" y2="301.3" stroke="#777" stroke-width="0.5"/>
<text x="352.4" y="302.2" font-size="2.5" text-anchor="end" fill="#3a3a3a" stroke="#3a3a3a" stroke-width="0.12">72.00</text>
<line x1="353.2" y1="273.0" x2="355.7" y2="273.0" stroke="#777" stroke-width="0.5"/>
<text x="352.4" y="273.9" font-size="2.5" text-anchor="end" fill="#3a3a3a" stroke="#3a3a3a" stroke-width="0.12">74.00</text>
<line x1="353.2" y1="244.7" x2="355.7" y2="244.7" stroke="#777" stroke-width="0.5"/>
<text x="352.4" y="245.6" font-size="2.5" text-anchor="end" fill="#3a3a3a" stroke="#3a3a3a" stroke-width="0.12">76.00</text>
<line x1="353.2" y1="216.4" x2="355.7" y2="216.4" stroke="#777" stroke-width="0.5"/>
<text x="352.4" y="217.3" font-size="2.5" text-anchor="end" fill="#3a3a3a" stroke="#3a3a3a" stroke-width="0.12">78.00</text>
<line x1="353.2" y1="188.1" x2="355.7" y2="188.1" stroke="#777" stroke-width="0.5"/>
<text x="352.4" y="189" font-size="2.5" text-anchor="end" fill="#3a3a3a" stroke="#3a3a3a" stroke-width="0.12">80.00</text>
<text x="426.3" y="185.9" font-size="3.8" text-anchor="middle" fill="#3a3a3a">Cumulative D Release (24 h) (%)</text>
<text x="426.3" y="347.6" font-size="3.5" text-anchor="middle" fill="#3a3a3a">B: Organic p volume (ml)</text>
<text x="333.7" y="258.9" font-size="3.6" text-anchor="middle" fill="#3a3a3a" transform="rotate(-90 333.7 258.9)">C: Drug (%)</text>
<circle cx="355.7" cy="188.1" r="1.6" fill="#a00000"/>
<circle cx="496.9" cy="188.1" r="1.6" fill="#a00000"/>
<circle cx="355.7" cy="329.6" r="1.6" fill="#a00000"/>
<circle cx="496.9" cy="329.6" r="1.6" fill="#a00000"/>
<circle cx="426.3" cy="258.9" r="1.6" fill="#a00000"/>
<text x="423.3" y="259.9" font-size="2.6" text-anchor="middle" fill="#a00000" stroke="#a00000" stroke-width="0.12">5</text>
<text x="0.4" y="7.6" font-size="9.2" fill="#111">a1</text>
<text x="175.9" y="7.8" font-size="9.2" fill="#111">a2</text>
<text x="326.9" y="7.6" font-size="9.2" fill="#111">b1</text>
<text x="509.7" y="7.6" font-size="9.2" fill="#111">b2</text>
<text x="0.4" y="185.7" font-size="9.2" fill="#111">c1</text>
<text x="175.9" y="185.8" font-size="9.2" fill="#111">c2</text>
<text x="326.4" y="185.8" font-size="9.2" fill="#111">d1</text>
<text x="509.7" y="185.8" font-size="9.2" fill="#111">d2</text>
</svg>
</div></body></html>
